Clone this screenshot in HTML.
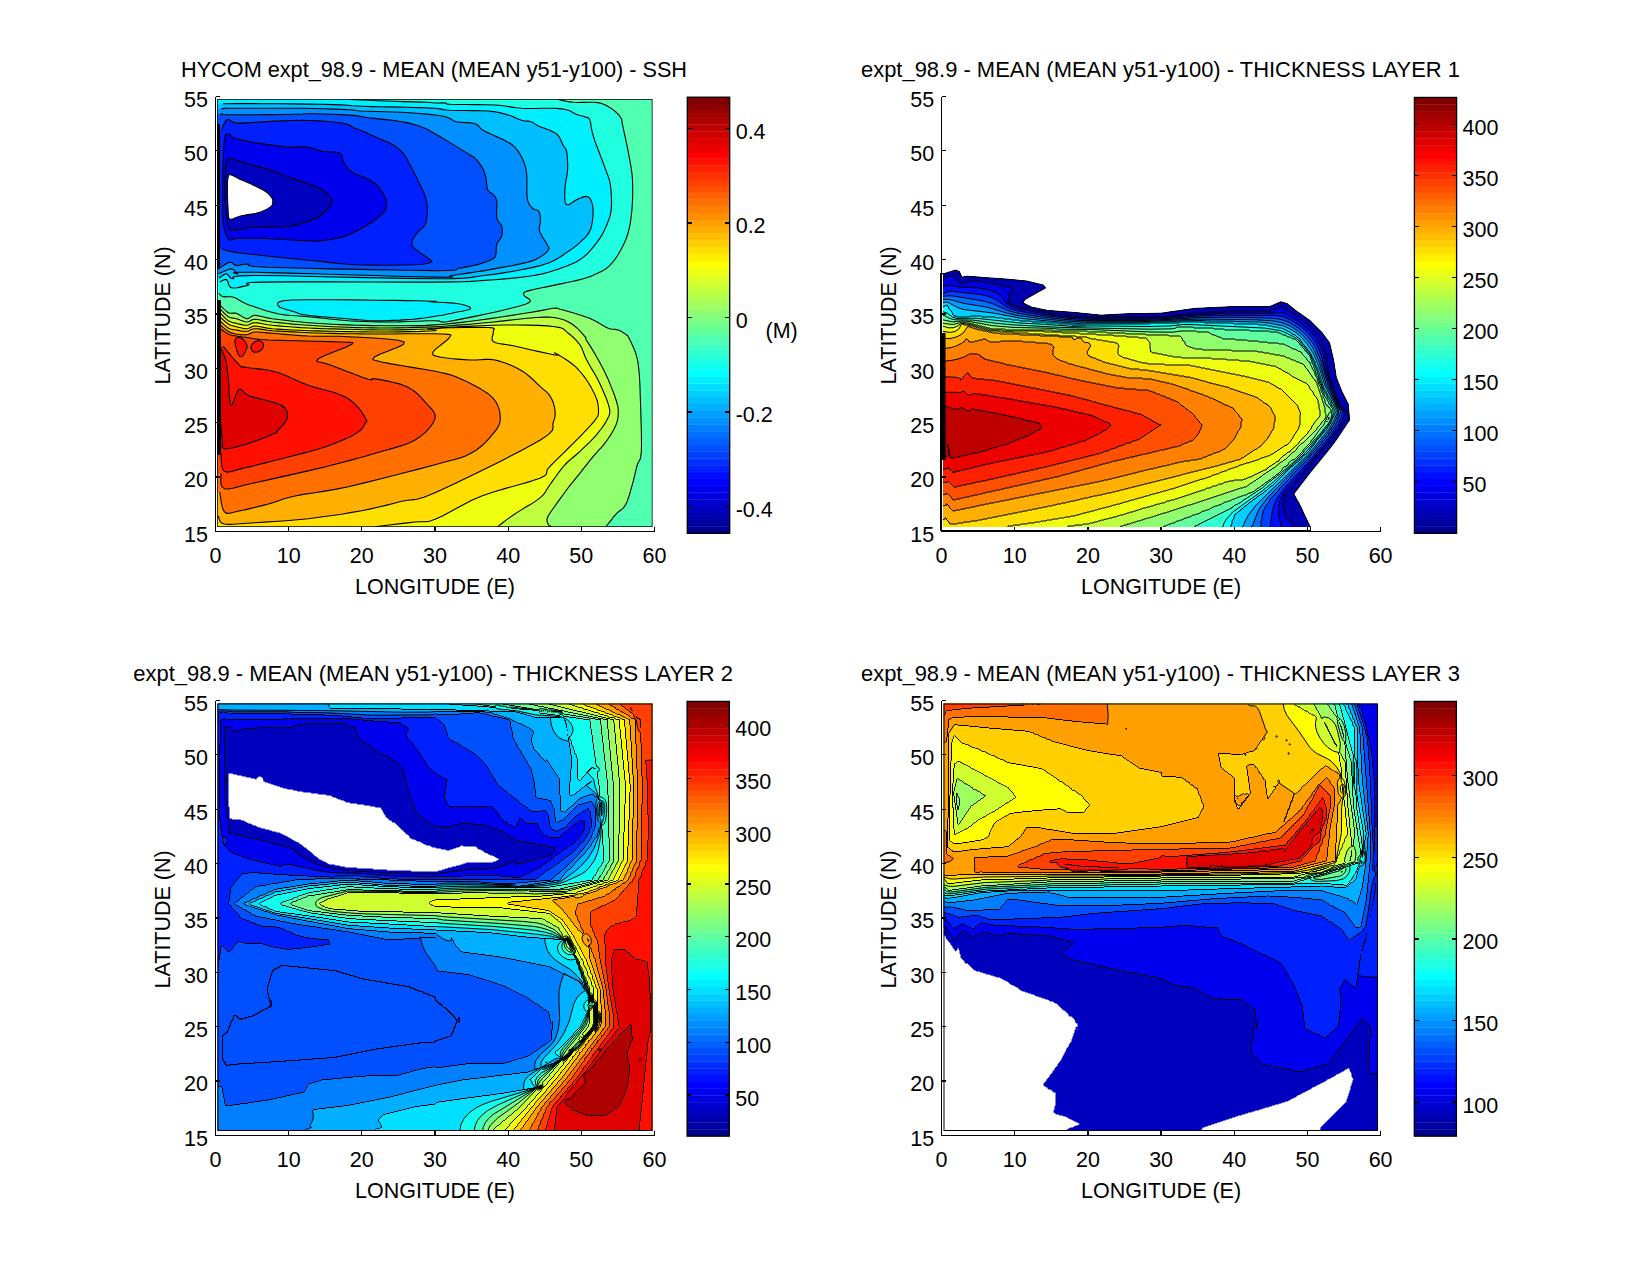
<!DOCTYPE html><html><head><meta charset="utf-8"><style>html,body{margin:0;padding:0;background:#fff;width:1650px;height:1275px;overflow:hidden}</style></head><body><svg xmlns="http://www.w3.org/2000/svg" width="1650" height="1275" viewBox="0 0 1650 1275" style="display:block">
<rect x="0" y="0" width="1650" height="1275" fill="#ffffff"/>
<g font-family='"Liberation Sans", sans-serif' fill="#000">
<clipPath id="clip0"><rect x="217" y="99" width="435.5" height="428"/></clipPath>
<g clip-path="url(#clip0)">
<rect x="217" y="99" width="435.5" height="428" fill="#50ffaf"/>
<path d="M218.3,303.3 L219.7,304.7 L221.7,306.8 L224.0,309.1 L226.3,311.2 L228.3,312.7 L230.0,313.3 L231.5,313.3 L233.0,313.1 L234.6,313.0 L236.3,313.3 L238.3,314.2 L240.5,315.5 L242.8,316.9 L245.0,318.1 L247.0,318.7 L248.6,318.4 L249.9,317.6 L251.3,316.6 L252.8,315.7 L255.0,315.3 L257.6,315.6 L260.4,316.2 L263.6,317.0 L267.5,317.9 L272.3,318.7 L278.3,319.5 L285.2,320.3 L292.7,321.2 L300.6,322.0 L308.3,322.7 L316.1,323.3 L324.0,323.8 L332.1,324.2 L340.3,324.6 L348.3,324.9 L356.2,325.2 L364.0,325.4 L371.9,325.6 L379.9,325.7 L388.3,325.7 L397.3,325.7 L406.6,325.7 L416.1,325.6 L425.7,325.4 L435.0,324.9 L444.0,324.3 L452.9,323.4 L461.7,322.4 L470.7,321.2 L480.0,320.0 L490.1,318.6 L500.9,317.0 L511.7,315.4 L521.6,313.8 L530.0,312.5 L536.6,311.4 L542.1,310.4 L546.5,309.5 L550.2,308.8 L553.3,308.3 L555.5,308.1 L556.6,308.1 L557.2,308.2 L558.1,308.6 L560.0,309.2 L563.3,310.0 L567.4,311.2 L571.8,312.5 L576.2,313.8 L580.0,315.0 L583.1,316.0 L585.7,316.9 L588.2,317.8 L590.7,318.8 L593.3,320.0 L596.3,321.6 L599.5,323.4 L602.6,325.3 L605.6,327.0 L608.3,328.3 L610.7,329.0 L612.8,329.3 L614.7,329.4 L616.5,329.6 L618.3,330.0 L620.2,330.8 L622.1,331.9 L623.8,333.0 L625.4,334.1 L626.7,335.0 L627.4,335.6 L627.8,335.8 L628.0,336.1 L628.3,336.8 L629.0,338.1 L630.1,340.3 L631.4,343.1 L632.9,346.3 L634.4,349.7 L635.6,352.9 L636.4,355.9 L637.2,358.6 L637.8,361.6 L638.3,365.0 L638.8,369.4 L639.3,374.7 L639.7,380.6 L640.0,387.2 L640.2,394.5 L640.5,402.4 L640.8,411.8 L641.1,422.7 L641.4,433.8 L641.5,444.0 L641.3,451.8 L640.8,456.6 L640.1,459.4 L639.1,461.0 L638.2,462.5 L637.2,465.0 L636.3,468.5 L635.4,472.4 L634.4,476.5 L633.4,480.7 L632.3,484.7 L631.1,488.9 L629.9,493.1 L628.6,497.3 L627.2,501.2 L625.7,504.5 L623.9,507.1 L622.0,509.1 L619.9,510.7 L617.8,512.4 L615.8,514.4 L613.6,516.9 L611.4,519.8 L609.1,522.6 L607.2,525.0 L605.9,526.8 L606.0,530.0 L214.0,530.0 L214.0,303.0Z" fill="#90ff70"/>
<path d="M218.3,307.3 L219.7,308.7 L221.7,310.7 L224.0,313.0 L226.3,315.1 L228.3,316.7 L230.0,317.5 L231.5,317.9 L233.0,318.1 L234.6,318.3 L236.3,318.7 L238.3,319.3 L240.5,320.2 L242.8,321.0 L245.0,321.7 L247.0,322.0 L248.6,321.8 L249.9,321.1 L251.3,320.3 L252.8,319.6 L255.0,319.3 L257.6,319.5 L260.4,320.0 L263.6,320.6 L267.5,321.3 L272.3,322.0 L278.3,322.6 L285.2,323.3 L292.7,324.1 L300.6,324.7 L308.3,325.3 L316.1,325.8 L324.0,326.3 L332.1,326.7 L340.3,327.0 L348.3,327.3 L356.2,327.6 L364.0,327.8 L371.9,327.9 L379.9,328.0 L388.3,328.0 L397.3,327.9 L406.6,327.7 L416.1,327.4 L425.7,327.1 L435.0,326.7 L443.9,326.2 L452.6,325.6 L461.2,324.9 L470.3,324.2 L480.0,323.3 L491.1,322.2 L503.5,320.9 L516.0,319.5 L527.4,318.3 L536.7,317.5 L543.3,317.1 L548.2,317.1 L551.8,317.3 L555.0,317.7 L558.3,318.3 L561.8,319.2 L565.0,320.3 L567.9,321.7 L570.7,323.3 L573.3,325.0 L576.0,327.2 L578.7,329.7 L581.3,332.4 L583.4,334.8 L585.0,336.7 L585.8,337.7 L585.9,338.0 L585.7,338.2 L585.6,338.6 L586.1,339.8 L587.3,341.6 L588.8,343.9 L590.5,346.6 L592.4,349.6 L594.4,352.9 L596.5,356.7 L598.8,360.8 L601.2,365.2 L603.6,369.7 L605.9,374.4 L608.1,379.3 L610.3,384.6 L612.4,389.9 L614.3,394.8 L615.8,399.1 L616.8,402.5 L617.5,405.2 L618.0,407.5 L618.2,409.8 L618.3,412.3 L618.2,414.8 L618.0,417.4 L617.5,419.9 L616.8,422.6 L615.8,425.4 L614.3,428.6 L612.4,431.9 L610.3,435.4 L608.1,438.8 L605.9,441.9 L603.7,444.7 L601.5,447.3 L599.2,449.7 L596.8,452.3 L594.4,455.1 L591.8,458.2 L589.2,461.4 L586.5,464.8 L583.8,468.2 L581.2,471.6 L578.6,474.8 L575.9,478.1 L573.3,481.3 L570.6,484.6 L568.0,488.0 L565.3,491.7 L562.5,495.5 L559.7,499.3 L557.1,502.9 L554.8,506.2 L552.8,509.0 L551.1,511.5 L549.5,513.8 L548.3,515.8 L547.4,517.7 L547.0,519.4 L547.0,520.9 L547.3,522.2 L547.8,523.3 L548.2,524.3 L548.8,525.1 L549.5,525.7 L550.3,526.1 L551.0,526.5 L551.5,526.8 L551.0,530.0 L214.0,530.0 L214.0,307.0Z" fill="#bfff40"/>
<path d="M218.3,311.3 L219.7,312.7 L221.7,314.7 L224.0,317.0 L226.3,319.1 L228.3,320.7 L230.0,321.6 L231.5,322.2 L233.0,322.6 L234.6,322.9 L236.3,323.3 L238.3,323.9 L240.5,324.4 L242.8,324.9 L245.0,325.2 L247.0,325.3 L248.6,325.0 L249.9,324.3 L251.3,323.6 L252.8,322.9 L255.0,322.7 L257.6,322.9 L260.4,323.3 L263.6,324.0 L267.5,324.7 L272.3,325.3 L278.3,325.9 L285.2,326.5 L292.7,327.0 L300.6,327.6 L308.3,328.0 L316.1,328.4 L324.0,328.7 L332.1,328.9 L340.3,329.1 L348.3,329.3 L356.2,329.5 L364.0,329.7 L371.9,329.9 L379.9,330.0 L388.3,330.0 L397.8,329.9 L408.2,329.6 L418.5,329.3 L427.8,329.0 L435.0,328.7 L438.8,328.4 L439.9,328.3 L440.3,328.1 L441.9,327.8 L446.7,327.5 L455.5,327.0 L467.0,326.4 L480.0,325.8 L493.1,325.3 L505.0,325.0 L516.1,325.0 L527.4,325.1 L538.0,325.4 L547.5,325.9 L555.0,326.7 L560.0,327.6 L563.1,328.7 L564.9,330.1 L566.4,331.6 L568.3,333.3 L570.9,335.3 L573.4,337.5 L575.8,339.9 L578.0,342.4 L580.0,345.0 L581.6,347.7 L582.7,350.4 L583.8,353.3 L585.0,356.5 L586.7,360.0 L588.9,364.0 L591.4,368.4 L594.2,373.0 L596.9,377.8 L599.3,382.6 L601.6,387.6 L604.0,393.0 L606.2,398.3 L608.0,403.2 L609.2,407.3 L609.8,410.4 L609.8,412.6 L609.5,414.5 L608.7,416.4 L607.5,418.8 L606.0,421.8 L603.9,425.1 L601.5,428.5 L598.8,431.9 L596.0,435.3 L593.0,438.7 L589.7,442.1 L586.2,445.4 L582.8,448.7 L579.5,451.8 L576.5,454.5 L573.5,457.0 L570.6,459.4 L567.7,462.0 L564.7,465.0 L561.7,468.6 L558.5,472.7 L555.5,477.0 L552.5,481.1 L549.9,484.7 L547.9,487.7 L546.4,490.3 L544.9,492.7 L543.0,495.2 L540.0,497.9 L535.6,501.1 L530.2,504.6 L524.2,508.1 L518.5,511.6 L513.7,514.7 L509.5,517.6 L505.8,520.4 L502.4,523.0 L499.7,525.1 L497.7,526.7 L497.0,530.0 L214.0,530.0 L214.0,311.0Z" fill="#efff10"/>
<path d="M218.3,315.3 L219.7,316.6 L221.7,318.5 L224.0,320.5 L226.3,322.5 L228.3,324.0 L230.0,324.9 L231.5,325.5 L233.0,325.9 L234.6,326.3 L236.3,326.7 L238.3,327.2 L240.5,327.7 L242.8,328.2 L245.0,328.6 L247.0,328.7 L248.6,328.3 L249.9,327.7 L251.3,326.9 L252.8,326.3 L255.0,326.0 L257.6,326.2 L260.4,326.7 L263.6,327.4 L267.5,328.1 L272.3,328.7 L278.3,329.1 L285.2,329.6 L292.7,330.0 L300.6,330.3 L308.3,330.7 L316.1,330.9 L324.0,331.1 L332.1,331.3 L340.3,331.5 L348.3,331.6 L356.2,331.7 L364.0,331.9 L371.9,332.0 L379.9,332.0 L388.3,332.0 L398.1,331.9 L409.0,331.6 L419.7,331.4 L428.9,331.0 L435.0,330.7 L436.3,330.2 L433.7,329.7 L429.9,329.2 L427.8,328.7 L430.0,328.3 L438.5,328.0 L451.3,327.7 L465.8,327.4 L479.1,327.3 L488.3,327.5 L492.8,327.9 L494.4,328.5 L494.3,329.3 L493.5,330.4 L493.3,331.7 L493.3,333.4 L492.7,335.5 L492.1,337.8 L492.1,339.9 L493.3,341.7 L495.7,342.8 L498.9,343.5 L502.8,344.1 L507.6,344.8 L513.3,345.8 L520.9,347.5 L530.4,349.7 L540.3,351.9 L549.0,353.8 L555.0,355.0 L557.4,355.1 L557.1,354.3 L555.6,353.3 L554.4,352.7 L554.8,352.9 L557.4,354.3 L561.0,356.4 L565.2,359.0 L569.3,361.7 L572.9,364.5 L576.0,367.2 L578.7,370.0 L581.3,373.0 L583.8,376.1 L586.1,379.3 L588.4,382.8 L590.7,386.6 L592.8,390.4 L594.6,394.1 L596.0,397.4 L597.1,400.5 L597.8,403.3 L598.2,405.9 L598.4,408.4 L598.5,410.6 L598.5,412.4 L598.4,413.9 L598.1,415.2 L597.4,416.8 L596.0,418.8 L593.9,421.6 L591.1,424.8 L587.8,428.3 L584.5,431.9 L581.2,435.3 L578.0,438.6 L574.7,441.9 L571.4,445.2 L568.0,448.5 L564.7,451.8 L561.3,455.2 L557.7,458.7 L554.2,462.2 L551.0,465.4 L548.2,468.3 L546.9,470.5 L546.8,472.3 L546.5,473.9 L544.7,475.8 L540.0,478.2 L531.4,481.1 L519.7,484.5 L506.6,488.1 L493.4,492.0 L481.7,496.0 L471.2,500.6 L460.9,505.9 L451.2,511.2 L442.4,515.9 L435.0,519.3 L429.6,521.2 L426.0,521.8 L423.2,521.8 L419.9,521.7 L415.0,522.0 L407.6,522.9 L398.5,523.9 L389.1,525.0 L380.8,526.0 L375.0,526.7 L375.0,530.0 L214.0,530.0 L214.0,315.0Z" fill="#ffdf00"/>
<path d="M218.3,319.3 L219.7,320.6 L221.7,322.5 L224.0,324.6 L226.3,326.6 L228.3,328.0 L230.0,328.8 L231.5,329.3 L233.0,329.6 L234.6,329.7 L236.3,330.0 L238.3,330.4 L240.5,330.8 L242.8,331.1 L245.0,331.3 L247.0,331.3 L248.6,331.0 L249.9,330.3 L251.3,329.6 L252.8,329.0 L255.0,328.7 L257.6,328.8 L260.4,329.1 L263.6,329.6 L267.5,330.2 L272.3,330.7 L278.3,331.1 L285.2,331.5 L292.7,331.9 L300.6,332.3 L308.3,332.7 L316.2,333.0 L324.4,333.2 L332.7,333.4 L340.8,333.6 L348.3,333.7 L354.7,333.8 L360.1,333.9 L365.5,334.0 L371.8,334.0 L380.0,334.0 L391.5,334.0 L405.7,333.8 L420.4,333.7 L433.5,333.7 L443.0,334.0 L448.2,334.4 L450.6,334.8 L450.9,335.5 L450.1,336.5 L449.0,338.0 L446.8,340.3 L443.1,343.3 L438.8,346.6 L435.1,349.6 L433.0,352.0 L432.6,353.6 L433.0,354.7 L434.4,355.6 L436.8,356.3 L440.0,357.0 L444.6,357.8 L450.6,358.5 L457.3,359.1 L464.0,359.6 L470.0,360.0 L475.3,360.0 L480.3,359.7 L485.1,359.4 L490.0,359.4 L495.0,360.0 L500.4,361.4 L505.9,363.2 L511.5,365.5 L516.8,368.0 L521.7,370.7 L526.1,373.6 L530.1,377.0 L533.9,380.5 L537.3,383.8 L540.3,386.7 L542.9,388.9 L545.0,390.6 L546.8,392.2 L548.4,393.8 L549.9,395.8 L551.3,398.2 L552.5,400.8 L553.5,403.5 L554.3,406.3 L554.8,409.0 L555.1,411.5 L555.2,414.0 L555.0,416.5 L554.4,419.2 L553.2,422.1 L552.8,424.9 L553.1,427.4 L552.4,430.3 L548.7,434.4 L540.0,440.3 L523.7,449.2 L501.2,460.9 L476.2,473.2 L452.9,484.4 L435.0,492.7 L423.9,497.2 L416.8,499.3 L412.0,499.9 L407.6,500.3 L401.7,501.3 L394.3,503.2 L386.8,505.1 L378.9,507.0 L370.6,508.9 L361.7,510.7 L351.9,512.4 L341.3,514.2 L330.3,515.8 L319.2,517.3 L308.3,518.7 L297.3,519.8 L285.9,520.7 L274.7,521.5 L264.2,522.1 L255.0,522.7 L247.0,523.3 L239.9,523.8 L233.7,524.3 L228.5,524.4 L224.3,524.0 L221.5,522.9 L219.9,521.1 L219.1,519.1 L218.8,517.2 L218.3,516.0 L214.0,516.0 L214.0,319.0Z" fill="#ffaf00"/>
<path d="M218.3,323.3 L219.7,324.5 L221.7,326.2 L224.0,328.1 L226.3,329.9 L228.3,331.3 L230.0,332.2 L231.5,332.9 L233.0,333.3 L234.6,333.7 L236.3,334.0 L238.3,334.3 L240.5,334.6 L242.8,334.7 L245.0,334.8 L247.0,334.7 L248.6,334.3 L249.9,333.6 L251.3,332.9 L252.8,332.3 L255.0,332.0 L257.6,332.0 L260.4,332.2 L263.6,332.5 L267.5,332.9 L272.3,333.3 L278.3,333.8 L285.2,334.4 L292.7,335.0 L300.6,335.6 L308.3,336.0 L315.8,336.2 L323.3,336.2 L331.0,336.2 L339.2,336.3 L348.3,336.7 L359.9,337.3 L373.7,338.0 L387.3,339.0 L398.3,340.3 L404.3,342.0 L403.4,344.5 L397.0,347.6 L388.2,351.0 L379.9,354.2 L375.0,356.7 L373.3,358.3 L372.8,359.3 L373.9,360.0 L376.8,360.8 L381.7,362.0 L389.8,363.6 L401.0,365.5 L413.4,367.6 L425.4,369.5 L435.0,371.3 L441.8,372.7 L446.8,373.9 L451.1,375.0 L455.3,376.5 L460.3,378.7 L466.7,381.6 L473.8,385.2 L480.9,389.1 L487.4,393.2 L492.3,397.3 L495.7,401.5 L498.0,405.9 L499.4,410.4 L500.1,414.7 L500.3,418.7 L500.0,422.2 L498.9,425.3 L497.3,428.3 L495.0,431.4 L492.3,434.7 L489.2,438.3 L485.5,442.3 L481.2,446.3 L476.4,450.0 L471.0,453.3 L465.5,455.9 L460.1,457.9 L453.8,459.7 L445.7,461.8 L435.0,464.7 L420.4,468.6 L402.4,473.3 L383.0,478.3 L364.3,482.9 L348.3,486.7 L335.1,489.4 L323.3,491.4 L312.8,493.0 L303.4,494.4 L295.0,496.0 L288.0,497.7 L282.6,499.3 L278.0,500.9 L273.5,502.5 L268.3,504.0 L262.2,505.6 L255.5,507.3 L248.9,508.9 L242.8,510.3 L237.7,511.3 L233.8,512.2 L230.7,513.0 L228.2,513.4 L226.2,513.1 L224.3,511.7 L222.8,508.8 L221.6,504.3 L220.8,499.4 L220.2,495.0 L219.7,492.0 L214.0,492.0 L214.0,323.0Z" fill="#ff7000"/>
<path d="M218.3,327.3 L219.7,328.3 L221.7,329.7 L224.0,331.3 L226.3,332.9 L228.3,334.0 L230.0,334.7 L231.6,335.2 L233.1,335.5 L234.7,335.7 L236.3,336.0 L237.9,336.3 L239.3,336.5 L240.9,336.7 L242.9,337.0 L245.7,337.3 L248.6,337.8 L251.4,338.3 L255.1,338.9 L260.4,339.5 L268.3,340.0 L280.6,340.4 L296.5,340.8 L313.6,341.2 L329.1,341.6 L340.3,342.0 L347.1,342.3 L351.1,342.4 L352.8,342.7 L352.7,343.4 L351.0,344.7 L346.4,347.0 L338.7,350.1 L329.8,353.6 L322.1,356.8 L317.7,359.3 L316.7,360.8 L317.9,361.7 L320.8,362.3 L324.8,363.2 L329.7,364.7 L336.2,367.2 L344.7,370.6 L353.9,374.1 L362.2,377.2 L368.3,379.3 L371.3,380.0 L372.1,379.8 L372.0,379.0 L372.6,378.5 L375.0,378.7 L380.0,379.6 L386.6,380.9 L393.9,382.5 L401.0,384.4 L407.0,386.7 L411.7,389.4 L415.9,392.5 L419.5,395.9 L422.7,399.3 L425.7,402.7 L428.6,405.8 L431.5,408.8 L433.8,411.9 L435.2,415.1 L435.0,418.7 L433.2,422.7 L430.1,427.2 L425.8,431.8 L420.7,436.2 L415.0,440.0 L408.4,443.2 L400.9,445.9 L392.6,448.4 L383.9,450.8 L375.0,453.3 L366.1,456.0 L357.0,458.5 L347.4,461.1 L337.0,463.8 L325.7,466.7 L312.3,469.9 L297.0,473.4 L281.4,476.9 L266.9,480.1 L255.0,482.7 L245.9,484.8 L238.5,486.8 L232.7,488.3 L228.1,489.0 L224.3,488.7 L221.9,486.7 L220.9,483.3 L220.8,479.4 L221.0,475.8 L221.0,473.3 L214.0,473.0 L214.0,327.0Z" fill="#ff4000"/>
<path d="M223.0,346.0 L225.3,348.8 L228.7,352.9 L232.5,357.5 L236.1,361.7 L239.0,364.7 L240.5,366.2 L241.2,366.8 L241.7,366.9 L242.9,366.9 L245.7,367.3 L250.2,368.0 L256.1,368.6 L262.8,369.4 L269.7,370.5 L276.3,372.0 L282.6,374.2 L289.0,376.9 L295.5,379.9 L301.9,382.8 L308.3,385.3 L315.0,387.4 L321.9,389.3 L328.7,391.0 L335.0,392.8 L340.3,394.7 L344.7,396.7 L348.2,398.7 L351.2,400.8 L353.8,403.0 L356.3,405.3 L358.8,408.0 L361.0,410.9 L362.9,413.9 L364.5,416.6 L365.7,418.7 L366.4,420.0 L366.8,420.6 L366.8,421.0 L366.4,421.6 L365.7,422.7 L364.7,424.3 L363.6,426.3 L362.1,428.6 L359.7,430.9 L356.3,433.3 L351.8,435.9 L346.2,438.5 L339.9,441.3 L333.0,444.0 L325.7,446.7 L317.6,449.2 L308.7,451.7 L299.4,454.1 L290.3,456.5 L281.7,458.7 L273.5,460.8 L265.4,462.9 L257.7,464.8 L250.6,466.6 L244.3,468.0 L239.0,469.4 L234.3,470.8 L230.3,471.8 L227.0,472.1 L224.3,471.3 L222.5,468.8 L221.6,464.8 L221.3,460.3 L221.2,456.1 L221.0,453.3 L214.0,453.0 L214.0,345.0Z" fill="#ff1000"/>
<path d="M251.0,347.3 L251.1,346.4 L251.6,345.3 L252.2,344.3 L252.9,343.4 L253.7,342.7 L254.6,342.0 L255.7,341.5 L256.8,341.0 L258.0,340.7 L259.0,340.7 L259.9,340.9 L260.9,341.3 L261.8,341.9 L262.5,342.6 L263.0,343.3 L263.3,344.0 L263.5,344.8 L263.5,345.7 L263.3,346.5 L263.0,347.3 L262.5,348.2 L261.8,349.1 L260.9,350.0 L259.9,350.7 L259.0,351.3 L258.0,351.8 L256.8,352.1 L255.7,352.3 L254.6,352.3 L253.7,352.0 L252.9,351.4 L252.2,350.5 L251.6,349.5 L251.1,348.4Z" fill="#ff1000"/>
<path d="M235.0,340.7 L235.4,339.3 L236.1,338.4 L237.0,337.8 L238.0,337.4 L239.0,337.3 L240.0,337.5 L241.2,338.0 L242.3,338.8 L243.4,339.7 L244.3,340.7 L245.2,341.7 L246.0,343.0 L246.6,344.3 L247.0,345.8 L247.0,347.3 L246.4,349.2 L245.4,351.5 L244.1,353.8 L242.8,355.6 L241.7,356.7 L240.8,356.8 L239.9,356.4 L239.1,355.5 L238.4,354.2 L237.7,352.7 L236.9,350.6 L236.2,348.0 L235.5,345.2 L235.1,342.6Z" fill="#ff1000"/>
<path d="M220.3,346.7 L221.1,348.4 L222.2,350.8 L223.5,353.6 L224.7,356.8 L225.7,360.0 L226.4,363.3 L226.9,366.7 L227.4,370.4 L227.8,374.3 L228.3,378.7 L228.8,384.2 L229.1,390.8 L229.5,397.4 L230.1,402.6 L231.0,405.3 L232.2,404.5 L233.7,400.9 L235.4,396.1 L237.1,391.8 L239.0,389.3 L240.6,389.2 L242.1,390.2 L243.7,392.1 L246.1,394.1 L249.7,396.0 L255.1,397.6 L262.2,399.3 L269.8,401.2 L276.6,403.2 L281.7,405.3 L284.7,407.7 L286.5,410.4 L287.3,413.1 L287.4,415.9 L287.0,418.7 L285.7,421.5 L283.4,424.6 L280.7,427.5 L278.1,430.1 L276.3,432.0 L275.9,432.9 L276.4,432.9 L277.0,432.7 L276.8,432.7 L275.0,433.3 L271.0,435.0 L265.5,437.2 L259.1,439.7 L252.7,442.1 L247.0,444.0 L241.8,445.5 L236.6,446.9 L231.7,448.0 L227.5,448.7 L224.3,448.7 L222.6,448.0 L222.0,446.7 L222.1,444.9 L222.4,442.7 L222.3,440.0 L221.9,436.4 L221.4,431.9 L221.0,427.1 L220.6,422.9 L220.3,420.0 L214.0,420.0 L214.0,346.0Z" fill="#df0000"/>
<path d="M558.5,99.5 L560.4,99.9 L563.1,100.6 L566.2,101.2 L569.8,101.9 L573.7,102.3 L578.1,102.5 L583.1,102.4 L588.4,102.2 L593.4,102.2 L597.7,102.6 L601.1,103.3 L604.0,104.4 L606.5,105.6 L608.8,106.9 L611.0,108.3 L613.2,109.9 L615.3,111.5 L617.3,113.3 L619.0,115.1 L620.3,117.0 L621.2,118.5 L621.7,119.7 L621.9,121.1 L622.3,123.4 L623.0,127.0 L624.2,132.6 L625.8,139.8 L627.4,147.7 L628.9,155.4 L630.1,161.9 L631.0,166.9 L631.6,171.1 L632.1,174.9 L632.4,178.8 L632.6,183.3 L632.7,188.5 L632.7,194.2 L632.5,200.1 L632.2,205.9 L631.8,211.3 L631.2,216.3 L630.6,221.1 L629.8,225.7 L628.8,230.1 L627.7,234.3 L626.3,238.3 L624.7,242.2 L623.0,245.8 L621.2,249.2 L619.4,252.4 L617.6,255.5 L615.6,258.4 L613.6,261.1 L611.6,263.5 L609.6,265.6 L607.7,267.4 L605.9,268.7 L604.1,269.9 L602.1,271.0 L599.7,272.2 L597.0,273.5 L594.2,274.8 L591.1,276.2 L587.4,277.5 L583.2,278.8 L578.1,280.1 L572.1,281.5 L565.8,282.8 L559.5,284.1 L553.6,285.4 L547.7,286.6 L541.7,287.8 L535.9,289.0 L531.0,290.1 L527.2,291.1 L524.9,292.0 L523.8,292.8 L523.5,293.5 L523.7,294.3 L523.9,295.3 L525.0,296.5 L527.2,297.8 L529.4,299.3 L530.4,300.9 L529.2,302.5 L525.4,304.2 L519.7,306.0 L512.7,307.8 L504.9,309.7 L496.7,311.7 L487.2,313.8 L476.1,316.1 L464.7,318.4 L454.5,320.4 L446.7,321.7 L442.4,322.1 L440.9,321.9 L440.3,321.4 L439.0,320.9 L435.0,320.7 L427.8,320.8 L418.5,321.2 L408.2,321.5 L397.8,321.9 L388.3,322.0 L379.9,321.9 L371.9,321.8 L364.0,321.5 L356.2,321.1 L348.3,320.7 L340.2,320.0 L331.8,319.2 L323.6,318.3 L315.7,317.4 L308.3,316.7 L301.8,316.2 L295.9,315.8 L290.3,315.5 L284.8,314.9 L279.0,314.0 L272.7,312.5 L266.1,310.7 L259.5,308.6 L253.5,306.5 L248.3,304.7 L244.3,303.0 L241.1,301.3 L238.5,299.7 L236.1,298.3 L233.7,297.3 L231.2,296.8 L228.8,296.7 L226.6,296.8 L224.6,296.9 L223.0,296.7 L221.7,296.1 L220.7,295.4 L220.0,294.6 L219.4,293.8 L219.0,293.3 L214.0,293.0 L214.0,96.0 L558.5,96.0Z" fill="#20ffdf"/>
<path d="M278.3,306.0 L277.8,304.7 L277.5,303.3 L278.9,301.9 L283.4,300.8 L292.3,300.0 L308.2,299.7 L330.0,299.7 L354.2,299.9 L377.1,300.2 L395.0,300.4 L407.7,300.6 L417.7,300.8 L425.2,301.0 L430.9,301.2 L435.0,301.3 L436.4,301.4 L434.8,301.4 L432.0,301.5 L429.8,301.5 L430.0,301.7 L433.3,301.9 L438.5,302.2 L444.5,302.5 L450.4,302.9 L455.0,303.3 L458.3,303.8 L461.0,304.2 L463.2,304.7 L465.1,305.3 L466.7,305.8 L468.2,306.4 L469.5,307.1 L470.4,307.8 L470.6,308.5 L470.0,309.2 L468.2,309.8 L465.4,310.5 L462.0,311.2 L458.4,311.8 L455.0,312.5 L451.9,313.2 L448.9,313.8 L445.7,314.5 L442.2,315.2 L438.3,315.8 L434.0,316.5 L429.3,317.2 L424.3,318.0 L419.0,318.6 L413.3,319.2 L407.0,319.6 L399.9,320.1 L392.7,320.4 L385.8,320.7 L380.0,320.8 L375.9,320.9 L373.3,320.9 L370.8,320.7 L367.3,320.5 L361.7,320.0 L352.6,319.3 L340.9,318.3 L328.5,317.3 L317.0,316.2 L308.3,315.3 L303.2,314.6 L300.3,314.0 L298.7,313.5 L297.2,312.8 L295.0,312.0 L291.4,311.0 L287.1,309.8 L283.0,308.5 L279.8,307.2Z" fill="#00efff"/>
<path d="M351.0,99.5 L355.6,99.7 L362.1,100.0 L369.7,100.3 L377.8,100.7 L385.7,101.0 L394.0,101.3 L403.3,101.6 L412.5,101.9 L420.8,102.1 L427.0,102.3 L430.7,102.5 L432.5,102.7 L433.2,102.8 L433.8,102.9 L435.0,103.0 L437.0,103.0 L439.3,103.0 L441.7,102.9 L443.8,102.9 L445.7,103.0 L446.5,103.2 L446.3,103.5 L446.3,103.8 L447.5,104.1 L451.0,104.3 L457.6,104.5 L466.6,104.5 L476.8,104.6 L486.7,104.7 L495.0,105.0 L501.3,105.5 L506.6,106.3 L511.4,107.1 L516.2,107.8 L521.7,108.3 L528.2,108.5 L535.5,108.5 L542.8,108.3 L549.5,108.3 L555.0,108.3 L559.0,108.6 L562.0,108.9 L564.3,109.3 L566.3,109.8 L568.3,110.3 L570.3,111.0 L571.9,111.9 L573.3,112.7 L574.7,113.6 L576.3,114.3 L578.2,115.0 L580.2,115.5 L582.3,116.0 L584.1,116.5 L585.7,117.0 L586.8,117.4 L587.7,117.6 L588.4,117.9 L589.0,118.5 L589.7,119.7 L590.3,121.6 L590.8,124.0 L591.2,126.8 L591.7,129.6 L592.3,132.3 L593.0,134.7 L593.6,137.0 L594.4,139.3 L595.2,141.9 L596.3,145.0 L597.8,148.8 L599.5,153.2 L601.3,157.9 L603.0,162.5 L604.6,166.8 L606.0,170.6 L607.3,174.0 L608.5,177.4 L609.6,180.9 L610.4,184.9 L610.9,189.6 L611.3,194.7 L611.5,200.0 L611.5,205.1 L611.2,209.6 L610.6,213.5 L609.8,216.9 L608.7,220.0 L607.5,223.0 L606.3,226.1 L604.9,229.1 L603.5,232.1 L602.0,234.9 L600.1,237.9 L598.0,240.9 L595.6,244.2 L592.8,247.7 L589.8,251.2 L586.6,254.5 L583.2,257.4 L579.7,259.8 L576.1,261.9 L572.3,263.7 L568.1,265.5 L563.4,267.3 L558.5,269.1 L553.2,270.8 L547.6,272.5 L541.2,274.1 L533.8,275.5 L525.2,276.7 L515.5,277.9 L505.1,278.9 L494.6,279.7 L484.4,280.4 L476.5,281.0 L470.5,281.4 L463.5,281.7 L452.6,281.9 L435.0,282.1 L406.2,282.1 L368.1,282.0 L327.4,281.9 L290.6,281.9 L264.4,282.1 L251.2,282.5 L246.7,283.2 L247.1,284.0 L248.8,284.7 L247.9,285.4 L244.5,286.1 L240.8,286.9 L237.2,287.7 L234.0,288.0 L231.5,287.8 L229.8,286.7 L228.7,284.8 L228.1,282.6 L227.4,280.7 L226.5,279.6 L225.2,279.5 L223.7,279.9 L222.2,280.8 L220.9,281.6 L219.9,282.1 L214.0,282.0 L214.0,96.0 L351.0,96.0Z" fill="#00efff"/>
<path d="M223.0,103.7 L228.2,103.7 L235.2,103.6 L243.8,103.6 L253.6,103.6 L264.3,103.7 L277.0,103.8 L292.0,103.9 L307.5,104.1 L321.9,104.3 L333.7,104.6 L341.9,104.9 L347.6,105.3 L352.1,105.7 L356.8,106.0 L363.0,106.3 L371.1,106.6 L380.3,106.8 L389.8,106.9 L399.0,107.1 L407.0,107.3 L413.8,107.5 L419.9,107.6 L425.4,107.8 L430.4,108.1 L435.0,108.3 L438.6,108.7 L441.2,109.1 L443.6,109.6 L446.6,110.0 L451.0,110.3 L457.4,110.5 L465.2,110.5 L473.6,110.6 L481.6,110.7 L488.3,111.0 L493.5,111.6 L497.9,112.3 L501.6,113.1 L505.0,114.1 L508.3,115.0 L511.5,116.0 L514.3,117.2 L516.9,118.4 L519.4,119.5 L521.7,120.3 L523.8,120.8 L525.8,121.0 L527.6,121.1 L529.3,121.3 L531.0,121.7 L532.7,122.4 L534.2,123.4 L535.8,124.4 L537.3,125.4 L539.0,126.3 L540.8,127.1 L542.6,127.7 L544.5,128.3 L546.4,128.9 L548.3,129.7 L550.3,130.5 L552.3,131.4 L554.2,132.4 L556.1,133.6 L557.7,135.0 L559.0,136.7 L560.2,138.8 L561.2,141.0 L562.1,143.1 L563.0,145.0 L563.9,146.4 L564.7,147.5 L565.5,148.5 L566.2,149.9 L566.7,152.0 L567.1,154.9 L567.4,158.5 L567.6,162.4 L567.7,166.4 L567.6,170.1 L567.2,173.5 L566.7,176.9 L566.1,180.2 L565.5,183.4 L565.1,186.6 L564.9,189.8 L564.8,193.2 L564.7,196.4 L564.8,199.2 L565.1,201.4 L565.5,202.9 L565.9,203.9 L566.6,204.5 L567.4,204.7 L568.4,204.7 L569.7,204.2 L571.2,203.2 L573.0,202.0 L574.8,200.8 L576.6,199.7 L578.6,198.8 L580.7,197.9 L582.8,197.1 L584.8,196.6 L586.5,196.4 L587.9,196.8 L589.0,197.4 L589.9,198.4 L590.7,199.7 L591.4,201.4 L592.1,203.4 L592.6,205.9 L592.9,208.7 L593.1,211.6 L593.1,214.6 L592.8,217.7 L592.4,221.2 L591.8,224.6 L591.0,228.0 L589.8,231.0 L588.3,233.7 L586.5,236.1 L584.4,238.3 L582.2,240.4 L579.9,242.6 L577.5,244.6 L575.0,246.6 L572.4,248.6 L569.6,250.5 L566.7,252.4 L563.8,254.5 L560.8,256.5 L557.6,258.6 L554.1,260.6 L550.3,262.3 L546.1,263.8 L541.8,265.2 L537.0,266.4 L531.7,267.6 L525.6,268.9 L518.5,270.3 L510.7,271.7 L502.3,273.1 L493.4,274.4 L484.4,275.5 L477.1,276.5 L471.5,277.4 L464.6,278.1 L453.4,278.6 L435.0,278.8 L404.7,278.4 L364.6,277.6 L321.6,276.7 L282.5,275.8 L254.5,275.5 L239.8,275.9 L233.8,276.7 L233.0,277.7 L233.9,278.5 L233.1,278.8 L230.9,278.2 L229.5,277.0 L228.5,275.6 L227.7,274.4 L226.5,273.8 L225.0,274.2 L223.3,275.0 L221.6,276.2 L220.1,277.3 L219.1,278.0 L214.0,278.0 L214.0,103.0Z" fill="#00bfff"/>
<path d="M221.7,109.0 L221.9,108.9 L221.7,108.7 L222.3,108.6 L225.0,108.4 L231.0,108.3 L241.8,108.3 L256.6,108.2 L273.1,108.2 L289.3,108.2 L303.0,108.3 L314.3,108.5 L324.6,108.8 L333.8,109.1 L341.7,109.4 L348.3,109.7 L352.6,109.9 L354.7,110.2 L355.9,110.5 L357.8,110.7 L361.7,111.0 L368.1,111.2 L376.1,111.5 L384.9,111.7 L393.7,112.0 L401.7,112.3 L409.1,112.8 L416.4,113.3 L423.4,113.9 L429.7,114.4 L435.0,115.0 L439.0,115.5 L442.0,116.0 L444.3,116.5 L446.3,117.0 L448.3,117.7 L450.1,118.4 L451.4,119.3 L452.6,120.1 L454.1,121.0 L456.3,121.7 L459.6,122.1 L463.5,122.4 L467.8,122.6 L471.8,123.0 L475.0,123.7 L477.2,124.7 L478.6,126.0 L479.7,127.4 L481.1,128.9 L483.0,130.3 L485.7,131.8 L489.0,133.2 L492.4,134.7 L495.8,136.2 L499.0,137.7 L501.9,139.1 L504.8,140.5 L507.5,141.9 L510.0,143.3 L512.3,145.0 L514.4,146.8 L516.1,148.6 L517.7,150.6 L519.2,152.8 L520.6,155.3 L522.0,158.0 L523.4,160.9 L524.6,164.2 L525.6,167.7 L526.4,171.7 L526.8,176.6 L526.9,182.4 L526.8,188.3 L526.9,193.7 L527.2,198.1 L527.9,201.2 L528.8,203.6 L529.9,205.3 L531.0,206.7 L532.2,208.0 L533.4,209.0 L534.9,209.5 L536.4,209.8 L537.7,210.3 L538.7,211.3 L539.4,212.8 L539.9,214.7 L540.1,216.9 L540.3,219.1 L540.4,221.2 L540.3,223.1 L539.8,224.9 L539.4,226.8 L539.2,228.8 L539.6,231.0 L540.6,233.6 L542.2,236.5 L544.0,239.4 L545.7,242.0 L547.0,244.2 L547.8,245.7 L548.4,246.7 L548.8,247.4 L548.9,248.2 L548.6,249.1 L548.0,250.4 L547.0,251.7 L545.7,253.0 L544.0,254.4 L542.0,255.7 L540.0,257.0 L538.0,258.3 L535.6,259.6 L532.1,260.9 L527.2,262.3 L520.3,263.9 L511.6,265.7 L502.2,267.4 L492.8,269.1 L484.4,270.6 L476.9,271.8 L469.7,272.9 L463.0,273.9 L456.8,274.8 L451.5,275.5 L449.8,276.1 L451.7,276.7 L452.8,277.1 L448.7,277.3 L435.0,277.1 L406.2,276.5 L365.3,275.3 L320.5,274.0 L279.7,272.9 L251.2,272.2 L237.6,272.2 L233.4,272.7 L234.7,273.3 L237.5,273.8 L238.1,273.8 L236.4,273.1 L235.3,271.9 L234.3,270.5 L233.1,269.4 L231.5,268.9 L229.0,269.3 L226.0,270.4 L222.9,271.8 L220.2,273.0 L218.3,273.8 L214.0,274.0 L214.0,109.0Z" fill="#0090ff"/>
<path d="M223.0,113.7 L222.5,113.8 L221.2,114.1 L220.6,114.4 L222.0,114.6 L227.0,114.7 L237.4,114.8 L252.2,114.7 L268.7,114.6 L283.9,114.5 L295.0,114.3 L300.7,114.2 L303.0,114.0 L303.7,113.8 L304.8,113.7 L308.3,113.7 L314.9,113.8 L323.4,114.0 L332.5,114.3 L341.2,114.6 L348.3,115.0 L353.4,115.4 L357.1,115.9 L360.3,116.4 L363.8,117.0 L368.3,117.7 L374.4,118.4 L381.3,119.1 L388.7,119.9 L395.6,120.8 L401.7,121.7 L406.6,122.6 L410.9,123.6 L414.8,124.7 L418.3,125.8 L421.7,127.0 L424.4,128.0 L426.5,128.9 L428.6,130.0 L431.2,131.5 L435.0,133.7 L440.7,137.0 L448.0,141.4 L455.7,146.1 L462.7,150.4 L467.9,153.6 L471.0,155.5 L472.7,156.5 L473.6,157.0 L474.3,157.5 L475.3,158.6 L476.9,160.2 L478.5,162.2 L480.1,164.3 L481.5,166.4 L482.8,168.5 L483.7,170.4 L484.4,172.3 L485.0,174.3 L485.6,176.3 L486.0,178.3 L486.4,180.6 L486.6,183.1 L486.8,185.6 L487.1,188.0 L487.7,189.9 L488.6,191.2 L489.8,192.2 L491.1,193.0 L492.4,193.8 L493.5,194.8 L494.3,195.9 L495.1,196.8 L495.8,198.0 L496.3,199.4 L496.8,201.4 L496.9,204.2 L496.8,207.7 L496.6,211.4 L496.5,214.9 L496.8,217.9 L497.5,220.0 L498.6,221.7 L499.8,223.1 L500.9,224.5 L501.7,226.1 L502.1,228.0 L502.3,230.0 L502.3,232.1 L502.1,234.1 L501.7,236.0 L501.0,237.7 L499.9,239.3 L498.7,240.9 L497.6,242.5 L496.8,244.2 L496.4,246.2 L496.2,248.3 L496.2,250.4 L496.2,252.4 L495.9,254.1 L495.6,255.4 L495.3,256.4 L494.8,257.3 L494.0,258.1 L492.6,259.0 L490.7,260.0 L488.4,261.0 L485.7,262.0 L482.7,263.0 L479.5,264.0 L476.0,264.9 L472.3,265.7 L468.3,266.6 L464.1,267.4 L459.7,268.1 L457.4,268.8 L457.0,269.5 L455.4,270.1 L449.1,270.5 L435.0,270.6 L408.3,270.3 L371.3,269.6 L330.8,268.9 L294.0,268.0 L267.7,267.3 L254.2,266.5 L248.8,265.7 L248.2,264.9 L249.0,264.3 L247.9,264.0 L245.0,264.1 L242.5,264.5 L240.3,265.1 L238.3,265.5 L236.4,265.6 L234.9,265.1 L233.7,264.2 L232.6,263.2 L231.4,262.4 L229.8,262.3 L227.6,263.1 L225.0,264.6 L222.3,266.3 L219.9,267.9 L218.3,268.9 L214.0,269.0 L214.0,114.0Z" fill="#0050ff"/>
<path d="M221.0,131.0 L221.8,129.2 L222.8,126.6 L224.1,123.7 L225.5,121.2 L227.0,119.7 L228.5,119.5 L230.0,120.1 L231.8,121.3 L233.8,122.4 L236.3,123.0 L239.0,123.1 L241.8,123.1 L245.1,122.9 L249.3,122.6 L255.0,122.3 L262.6,121.9 L272.0,121.4 L282.1,120.9 L292.3,120.5 L301.7,120.3 L310.5,120.5 L319.4,120.9 L327.9,121.5 L335.5,122.2 L341.7,123.0 L346.1,123.9 L349.2,125.0 L351.3,126.2 L353.1,127.4 L355.0,128.3 L356.8,129.0 L358.3,129.5 L359.6,130.0 L361.1,130.5 L363.2,131.4 L366.0,132.6 L369.4,134.2 L373.0,135.8 L376.6,137.4 L379.7,138.8 L382.3,139.9 L384.6,140.8 L386.8,141.6 L389.0,142.5 L391.2,143.8 L393.6,145.2 L396.0,146.8 L398.4,148.6 L400.6,150.6 L402.7,152.8 L404.6,155.3 L406.3,157.9 L407.8,160.8 L409.4,163.8 L411.0,166.8 L412.6,169.9 L414.3,173.1 L416.0,176.5 L417.6,179.8 L419.2,183.3 L420.9,186.7 L422.6,190.2 L424.3,193.8 L425.7,197.5 L426.6,201.4 L427.1,205.6 L427.3,210.2 L427.2,214.8 L426.7,219.1 L425.8,222.8 L424.3,225.8 L422.2,228.2 L419.9,230.3 L417.7,232.3 L415.9,234.3 L414.5,236.5 L413.4,238.6 L412.4,240.6 L411.9,242.5 L411.8,244.2 L412.2,245.7 L413.1,247.0 L414.4,248.2 L415.9,249.4 L417.5,250.8 L419.6,252.4 L422.2,254.2 L424.9,256.0 L427.3,257.7 L429.1,259.0 L430.4,260.0 L431.4,260.7 L432.0,261.3 L431.8,261.8 L430.7,262.3 L429.0,262.9 L426.7,263.5 L423.5,264.0 L419.0,264.5 L412.6,264.8 L403.6,265.0 L392.3,265.2 L379.9,265.2 L367.6,265.1 L356.6,264.8 L347.3,264.2 L338.9,263.5 L330.8,262.6 L322.6,261.6 L313.8,260.7 L304.1,259.7 L293.7,258.7 L283.3,257.7 L273.3,256.7 L264.4,255.7 L256.4,254.8 L248.9,254.0 L242.2,253.2 L236.3,252.4 L231.5,251.6 L227.9,250.9 L225.4,250.1 L223.7,249.4 L222.6,248.8 L221.6,248.3 L214.0,248.0 L214.0,131.0Z" fill="#0020ff"/>
<path d="M224.9,137.2 L225.5,135.1 L226.2,134.1 L227.0,133.8 L227.9,134.0 L229.0,134.2 L229.9,134.6 L230.6,135.4 L231.6,136.5 L233.3,137.7 L236.4,138.8 L241.3,139.9 L247.7,141.2 L254.7,142.5 L261.7,143.6 L267.7,144.6 L272.7,145.3 L277.1,145.9 L281.3,146.4 L285.2,146.8 L289.1,147.0 L293.0,147.1 L296.7,147.0 L300.4,146.9 L303.9,146.8 L307.2,147.0 L310.3,147.6 L313.2,148.5 L316.0,149.5 L318.9,150.4 L322.0,151.2 L325.7,151.6 L329.8,151.9 L333.8,152.1 L337.4,152.5 L340.2,153.3 L341.7,154.6 L342.3,156.2 L342.5,158.0 L342.7,160.0 L343.4,161.9 L344.6,163.8 L345.9,165.8 L347.4,167.9 L349.3,169.9 L351.7,171.7 L354.8,173.5 L358.6,175.2 L362.7,176.8 L366.5,178.4 L369.8,180.0 L372.3,181.6 L374.5,183.0 L376.4,184.6 L378.0,186.3 L379.7,188.2 L381.3,190.6 L382.9,193.3 L384.4,196.1 L385.5,198.9 L386.3,201.4 L386.6,203.6 L386.7,205.6 L386.4,207.5 L385.7,209.3 L384.6,211.3 L383.0,213.2 L380.9,215.2 L378.5,217.2 L375.9,219.2 L373.1,221.2 L370.1,223.2 L366.9,225.3 L363.4,227.3 L360.0,229.3 L356.6,231.0 L353.4,232.6 L350.3,234.1 L347.1,235.4 L343.8,236.6 L340.2,237.6 L336.1,238.5 L331.7,239.3 L327.2,240.0 L322.8,240.5 L318.7,240.9 L315.5,241.1 L312.8,241.1 L310.2,241.0 L306.9,240.8 L302.3,240.6 L295.9,240.2 L288.2,239.8 L279.9,239.2 L271.7,238.8 L264.4,238.4 L257.8,238.3 L251.5,238.2 L245.6,238.2 L240.5,238.3 L236.4,238.4 L233.7,238.8 L232.2,239.5 L231.3,240.1 L230.7,240.4 L229.8,240.1 L228.7,239.1 L227.6,237.7 L226.6,235.9 L225.7,233.7 L224.9,231.0 L224.2,228.2 L223.6,225.3 L223.0,221.8 L222.7,217.3 L222.4,211.3 L222.4,202.9 L222.5,192.5 L222.7,181.3 L223.0,170.6 L223.2,161.9 L223.5,155.0 L223.7,149.2 L224.0,144.3 L224.4,140.3Z" fill="#0000ef"/>
<path d="M226.5,161.9 L226.9,160.9 L227.4,159.8 L228.0,158.8 L228.8,158.1 L229.8,157.8 L230.8,157.9 L231.7,158.3 L233.0,159.0 L235.0,160.0 L238.1,161.0 L242.8,162.4 L248.8,164.0 L255.5,165.8 L262.1,167.6 L267.7,169.3 L272.3,170.8 L276.3,172.3 L280.0,173.8 L283.7,175.3 L287.5,176.7 L291.5,178.1 L295.7,179.4 L299.8,180.7 L303.7,182.0 L307.2,183.3 L310.4,184.5 L313.2,185.6 L315.8,186.8 L318.2,187.9 L320.4,189.0 L322.4,190.2 L324.3,191.3 L325.9,192.4 L327.4,193.5 L328.6,194.8 L329.7,196.2 L330.7,197.6 L331.4,199.2 L331.9,200.7 L331.9,202.2 L331.5,203.7 L330.8,205.1 L329.7,206.6 L328.4,208.1 L327.0,209.6 L325.4,211.3 L323.5,213.0 L321.5,214.8 L319.4,216.4 L317.1,217.9 L314.7,219.1 L312.1,220.1 L309.5,221.1 L306.7,222.0 L303.9,222.8 L301.1,223.6 L298.2,224.4 L295.2,225.0 L292.2,225.6 L289.1,226.1 L286.0,226.4 L283.0,226.6 L279.9,226.7 L276.5,226.8 L272.6,226.9 L268.1,227.1 L263.0,227.2 L257.6,227.3 L252.5,227.5 L247.9,227.7 L243.9,228.3 L240.2,229.2 L236.8,230.0 L233.8,230.4 L231.5,230.2 L229.8,229.4 L228.9,228.2 L228.3,226.6 L227.9,224.3 L227.4,221.2 L226.7,217.0 L226.1,211.9 L225.6,206.3 L225.1,200.5 L224.9,194.8 L224.8,188.9 L225.0,182.6 L225.2,176.4 L225.5,171.0 L225.7,166.8 L225.8,164.3 L225.9,163.1 L226.0,162.7 L226.2,162.4Z" fill="#0000bf"/>
<path d="M228.2,176.7 L228.5,175.6 L228.7,174.9 L229.1,174.6 L229.7,174.5 L230.6,174.7 L232.0,175.2 L233.7,176.0 L235.6,177.0 L237.6,178.1 L239.7,179.2 L241.8,180.1 L244.1,181.0 L246.4,182.0 L248.8,183.0 L251.2,184.1 L253.9,185.4 L256.8,186.7 L259.6,188.2 L262.3,189.5 L264.4,190.7 L265.9,191.7 L267.0,192.5 L267.9,193.2 L268.6,194.0 L269.3,194.8 L270.2,195.7 L271.0,196.7 L271.7,197.7 L272.3,198.7 L272.6,199.7 L272.8,200.9 L272.8,202.1 L272.7,203.3 L272.4,204.4 L271.8,205.5 L271.0,206.4 L270.0,207.3 L268.8,208.1 L267.4,208.9 L266.0,209.6 L264.6,210.4 L263.0,211.1 L261.3,211.8 L259.6,212.4 L257.8,212.9 L255.9,213.4 L253.9,213.7 L251.8,214.0 L249.8,214.3 L247.9,214.6 L246.2,214.9 L244.6,215.2 L243.0,215.5 L241.4,215.8 L239.7,216.2 L237.7,216.9 L235.5,217.8 L233.3,218.7 L231.3,219.3 L229.8,219.2 L229.0,218.5 L228.5,217.5 L228.4,216.0 L228.3,214.0 L228.2,211.3 L227.9,207.4 L227.7,202.6 L227.5,197.3 L227.4,192.3 L227.4,188.2 L227.4,185.0 L227.5,182.3 L227.6,180.1 L227.9,178.2Z" fill="#ffffff"/>
<g fill="none" stroke="#000" stroke-width="1.1" stroke-linejoin="round">
<path d="M218.3,303.3 L219.7,304.7 L221.7,306.8 L224.0,309.1 L226.3,311.2 L228.3,312.7 L230.0,313.3 L231.5,313.3 L233.0,313.1 L234.6,313.0 L236.3,313.3 L238.3,314.2 L240.5,315.5 L242.8,316.9 L245.0,318.1 L247.0,318.7 L248.6,318.4 L249.9,317.6 L251.3,316.6 L252.8,315.7 L255.0,315.3 L257.6,315.6 L260.4,316.2 L263.6,317.0 L267.5,317.9 L272.3,318.7 L278.3,319.5 L285.2,320.3 L292.7,321.2 L300.6,322.0 L308.3,322.7 L316.1,323.3 L324.0,323.8 L332.1,324.2 L340.3,324.6 L348.3,324.9 L356.2,325.2 L364.0,325.4 L371.9,325.6 L379.9,325.7 L388.3,325.7 L397.3,325.7 L406.6,325.7 L416.1,325.6 L425.7,325.4 L435.0,324.9 L444.0,324.3 L452.9,323.4 L461.7,322.4 L470.7,321.2 L480.0,320.0 L490.1,318.6 L500.9,317.0 L511.7,315.4 L521.6,313.8 L530.0,312.5 L536.6,311.4 L542.1,310.4 L546.5,309.5 L550.2,308.8 L553.3,308.3 L555.5,308.1 L556.6,308.1 L557.2,308.2 L558.1,308.6 L560.0,309.2 L563.3,310.0 L567.4,311.2 L571.8,312.5 L576.2,313.8 L580.0,315.0 L583.1,316.0 L585.7,316.9 L588.2,317.8 L590.7,318.8 L593.3,320.0 L596.3,321.6 L599.5,323.4 L602.6,325.3 L605.6,327.0 L608.3,328.3 L610.7,329.0 L612.8,329.3 L614.7,329.4 L616.5,329.6 L618.3,330.0 L620.2,330.8 L622.1,331.9 L623.8,333.0 L625.4,334.1 L626.7,335.0 L627.4,335.6 L627.8,335.8 L628.0,336.1 L628.3,336.8 L629.0,338.1 L630.1,340.3 L631.4,343.1 L632.9,346.3 L634.4,349.7 L635.6,352.9 L636.4,355.9 L637.2,358.6 L637.8,361.6 L638.3,365.0 L638.8,369.4 L639.3,374.7 L639.7,380.6 L640.0,387.2 L640.2,394.5 L640.5,402.4 L640.8,411.8 L641.1,422.7 L641.4,433.8 L641.5,444.0 L641.3,451.8 L640.8,456.6 L640.1,459.4 L639.1,461.0 L638.2,462.5 L637.2,465.0 L636.3,468.5 L635.4,472.4 L634.4,476.5 L633.4,480.7 L632.3,484.7 L631.1,488.9 L629.9,493.1 L628.6,497.3 L627.2,501.2 L625.7,504.5 L623.9,507.1 L622.0,509.1 L619.9,510.7 L617.8,512.4 L615.8,514.4 L613.6,516.9 L611.4,519.8 L609.1,522.6 L607.2,525.0 L605.9,526.8"/>
<path d="M218.3,307.3 L219.7,308.7 L221.7,310.7 L224.0,313.0 L226.3,315.1 L228.3,316.7 L230.0,317.5 L231.5,317.9 L233.0,318.1 L234.6,318.3 L236.3,318.7 L238.3,319.3 L240.5,320.2 L242.8,321.0 L245.0,321.7 L247.0,322.0 L248.6,321.8 L249.9,321.1 L251.3,320.3 L252.8,319.6 L255.0,319.3 L257.6,319.5 L260.4,320.0 L263.6,320.6 L267.5,321.3 L272.3,322.0 L278.3,322.6 L285.2,323.3 L292.7,324.1 L300.6,324.7 L308.3,325.3 L316.1,325.8 L324.0,326.3 L332.1,326.7 L340.3,327.0 L348.3,327.3 L356.2,327.6 L364.0,327.8 L371.9,327.9 L379.9,328.0 L388.3,328.0 L397.3,327.9 L406.6,327.7 L416.1,327.4 L425.7,327.1 L435.0,326.7 L443.9,326.2 L452.6,325.6 L461.2,324.9 L470.3,324.2 L480.0,323.3 L491.1,322.2 L503.5,320.9 L516.0,319.5 L527.4,318.3 L536.7,317.5 L543.3,317.1 L548.2,317.1 L551.8,317.3 L555.0,317.7 L558.3,318.3 L561.8,319.2 L565.0,320.3 L567.9,321.7 L570.7,323.3 L573.3,325.0 L576.0,327.2 L578.7,329.7 L581.3,332.4 L583.4,334.8 L585.0,336.7 L585.8,337.7 L585.9,338.0 L585.7,338.2 L585.6,338.6 L586.1,339.8 L587.3,341.6 L588.8,343.9 L590.5,346.6 L592.4,349.6 L594.4,352.9 L596.5,356.7 L598.8,360.8 L601.2,365.2 L603.6,369.7 L605.9,374.4 L608.1,379.3 L610.3,384.6 L612.4,389.9 L614.3,394.8 L615.8,399.1 L616.8,402.5 L617.5,405.2 L618.0,407.5 L618.2,409.8 L618.3,412.3 L618.2,414.8 L618.0,417.4 L617.5,419.9 L616.8,422.6 L615.8,425.4 L614.3,428.6 L612.4,431.9 L610.3,435.4 L608.1,438.8 L605.9,441.9 L603.7,444.7 L601.5,447.3 L599.2,449.7 L596.8,452.3 L594.4,455.1 L591.8,458.2 L589.2,461.4 L586.5,464.8 L583.8,468.2 L581.2,471.6 L578.6,474.8 L575.9,478.1 L573.3,481.3 L570.6,484.6 L568.0,488.0 L565.3,491.7 L562.5,495.5 L559.7,499.3 L557.1,502.9 L554.8,506.2 L552.8,509.0 L551.1,511.5 L549.5,513.8 L548.3,515.8 L547.4,517.7 L547.0,519.4 L547.0,520.9 L547.3,522.2 L547.8,523.3 L548.2,524.3 L548.8,525.1 L549.5,525.7 L550.3,526.1 L551.0,526.5 L551.5,526.8"/>
<path d="M218.3,311.3 L219.7,312.7 L221.7,314.7 L224.0,317.0 L226.3,319.1 L228.3,320.7 L230.0,321.6 L231.5,322.2 L233.0,322.6 L234.6,322.9 L236.3,323.3 L238.3,323.9 L240.5,324.4 L242.8,324.9 L245.0,325.2 L247.0,325.3 L248.6,325.0 L249.9,324.3 L251.3,323.6 L252.8,322.9 L255.0,322.7 L257.6,322.9 L260.4,323.3 L263.6,324.0 L267.5,324.7 L272.3,325.3 L278.3,325.9 L285.2,326.5 L292.7,327.0 L300.6,327.6 L308.3,328.0 L316.1,328.4 L324.0,328.7 L332.1,328.9 L340.3,329.1 L348.3,329.3 L356.2,329.5 L364.0,329.7 L371.9,329.9 L379.9,330.0 L388.3,330.0 L397.8,329.9 L408.2,329.6 L418.5,329.3 L427.8,329.0 L435.0,328.7 L438.8,328.4 L439.9,328.3 L440.3,328.1 L441.9,327.8 L446.7,327.5 L455.5,327.0 L467.0,326.4 L480.0,325.8 L493.1,325.3 L505.0,325.0 L516.1,325.0 L527.4,325.1 L538.0,325.4 L547.5,325.9 L555.0,326.7 L560.0,327.6 L563.1,328.7 L564.9,330.1 L566.4,331.6 L568.3,333.3 L570.9,335.3 L573.4,337.5 L575.8,339.9 L578.0,342.4 L580.0,345.0 L581.6,347.7 L582.7,350.4 L583.8,353.3 L585.0,356.5 L586.7,360.0 L588.9,364.0 L591.4,368.4 L594.2,373.0 L596.9,377.8 L599.3,382.6 L601.6,387.6 L604.0,393.0 L606.2,398.3 L608.0,403.2 L609.2,407.3 L609.8,410.4 L609.8,412.6 L609.5,414.5 L608.7,416.4 L607.5,418.8 L606.0,421.8 L603.9,425.1 L601.5,428.5 L598.8,431.9 L596.0,435.3 L593.0,438.7 L589.7,442.1 L586.2,445.4 L582.8,448.7 L579.5,451.8 L576.5,454.5 L573.5,457.0 L570.6,459.4 L567.7,462.0 L564.7,465.0 L561.7,468.6 L558.5,472.7 L555.5,477.0 L552.5,481.1 L549.9,484.7 L547.9,487.7 L546.4,490.3 L544.9,492.7 L543.0,495.2 L540.0,497.9 L535.6,501.1 L530.2,504.6 L524.2,508.1 L518.5,511.6 L513.7,514.7 L509.5,517.6 L505.8,520.4 L502.4,523.0 L499.7,525.1 L497.7,526.7"/>
<path d="M218.3,315.3 L219.7,316.6 L221.7,318.5 L224.0,320.5 L226.3,322.5 L228.3,324.0 L230.0,324.9 L231.5,325.5 L233.0,325.9 L234.6,326.3 L236.3,326.7 L238.3,327.2 L240.5,327.7 L242.8,328.2 L245.0,328.6 L247.0,328.7 L248.6,328.3 L249.9,327.7 L251.3,326.9 L252.8,326.3 L255.0,326.0 L257.6,326.2 L260.4,326.7 L263.6,327.4 L267.5,328.1 L272.3,328.7 L278.3,329.1 L285.2,329.6 L292.7,330.0 L300.6,330.3 L308.3,330.7 L316.1,330.9 L324.0,331.1 L332.1,331.3 L340.3,331.5 L348.3,331.6 L356.2,331.7 L364.0,331.9 L371.9,332.0 L379.9,332.0 L388.3,332.0 L398.1,331.9 L409.0,331.6 L419.7,331.4 L428.9,331.0 L435.0,330.7 L436.3,330.2 L433.7,329.7 L429.9,329.2 L427.8,328.7 L430.0,328.3 L438.5,328.0 L451.3,327.7 L465.8,327.4 L479.1,327.3 L488.3,327.5 L492.8,327.9 L494.4,328.5 L494.3,329.3 L493.5,330.4 L493.3,331.7 L493.3,333.4 L492.7,335.5 L492.1,337.8 L492.1,339.9 L493.3,341.7 L495.7,342.8 L498.9,343.5 L502.8,344.1 L507.6,344.8 L513.3,345.8 L520.9,347.5 L530.4,349.7 L540.3,351.9 L549.0,353.8 L555.0,355.0 L557.4,355.1 L557.1,354.3 L555.6,353.3 L554.4,352.7 L554.8,352.9 L557.4,354.3 L561.0,356.4 L565.2,359.0 L569.3,361.7 L572.9,364.5 L576.0,367.2 L578.7,370.0 L581.3,373.0 L583.8,376.1 L586.1,379.3 L588.4,382.8 L590.7,386.6 L592.8,390.4 L594.6,394.1 L596.0,397.4 L597.1,400.5 L597.8,403.3 L598.2,405.9 L598.4,408.4 L598.5,410.6 L598.5,412.4 L598.4,413.9 L598.1,415.2 L597.4,416.8 L596.0,418.8 L593.9,421.6 L591.1,424.8 L587.8,428.3 L584.5,431.9 L581.2,435.3 L578.0,438.6 L574.7,441.9 L571.4,445.2 L568.0,448.5 L564.7,451.8 L561.3,455.2 L557.7,458.7 L554.2,462.2 L551.0,465.4 L548.2,468.3 L546.9,470.5 L546.8,472.3 L546.5,473.9 L544.7,475.8 L540.0,478.2 L531.4,481.1 L519.7,484.5 L506.6,488.1 L493.4,492.0 L481.7,496.0 L471.2,500.6 L460.9,505.9 L451.2,511.2 L442.4,515.9 L435.0,519.3 L429.6,521.2 L426.0,521.8 L423.2,521.8 L419.9,521.7 L415.0,522.0 L407.6,522.9 L398.5,523.9 L389.1,525.0 L380.8,526.0 L375.0,526.7"/>
<path d="M218.3,319.3 L219.7,320.6 L221.7,322.5 L224.0,324.6 L226.3,326.6 L228.3,328.0 L230.0,328.8 L231.5,329.3 L233.0,329.6 L234.6,329.7 L236.3,330.0 L238.3,330.4 L240.5,330.8 L242.8,331.1 L245.0,331.3 L247.0,331.3 L248.6,331.0 L249.9,330.3 L251.3,329.6 L252.8,329.0 L255.0,328.7 L257.6,328.8 L260.4,329.1 L263.6,329.6 L267.5,330.2 L272.3,330.7 L278.3,331.1 L285.2,331.5 L292.7,331.9 L300.6,332.3 L308.3,332.7 L316.2,333.0 L324.4,333.2 L332.7,333.4 L340.8,333.6 L348.3,333.7 L354.7,333.8 L360.1,333.9 L365.5,334.0 L371.8,334.0 L380.0,334.0 L391.5,334.0 L405.7,333.8 L420.4,333.7 L433.5,333.7 L443.0,334.0 L448.2,334.4 L450.6,334.8 L450.9,335.5 L450.1,336.5 L449.0,338.0 L446.8,340.3 L443.1,343.3 L438.8,346.6 L435.1,349.6 L433.0,352.0 L432.6,353.6 L433.0,354.7 L434.4,355.6 L436.8,356.3 L440.0,357.0 L444.6,357.8 L450.6,358.5 L457.3,359.1 L464.0,359.6 L470.0,360.0 L475.3,360.0 L480.3,359.7 L485.1,359.4 L490.0,359.4 L495.0,360.0 L500.4,361.4 L505.9,363.2 L511.5,365.5 L516.8,368.0 L521.7,370.7 L526.1,373.6 L530.1,377.0 L533.9,380.5 L537.3,383.8 L540.3,386.7 L542.9,388.9 L545.0,390.6 L546.8,392.2 L548.4,393.8 L549.9,395.8 L551.3,398.2 L552.5,400.8 L553.5,403.5 L554.3,406.3 L554.8,409.0 L555.1,411.5 L555.2,414.0 L555.0,416.5 L554.4,419.2 L553.2,422.1 L552.8,424.9 L553.1,427.4 L552.4,430.3 L548.7,434.4 L540.0,440.3 L523.7,449.2 L501.2,460.9 L476.2,473.2 L452.9,484.4 L435.0,492.7 L423.9,497.2 L416.8,499.3 L412.0,499.9 L407.6,500.3 L401.7,501.3 L394.3,503.2 L386.8,505.1 L378.9,507.0 L370.6,508.9 L361.7,510.7 L351.9,512.4 L341.3,514.2 L330.3,515.8 L319.2,517.3 L308.3,518.7 L297.3,519.8 L285.9,520.7 L274.7,521.5 L264.2,522.1 L255.0,522.7 L247.0,523.3 L239.9,523.8 L233.7,524.3 L228.5,524.4 L224.3,524.0 L221.5,522.9 L219.9,521.1 L219.1,519.1 L218.8,517.2 L218.3,516.0"/>
<path d="M218.3,323.3 L219.7,324.5 L221.7,326.2 L224.0,328.1 L226.3,329.9 L228.3,331.3 L230.0,332.2 L231.5,332.9 L233.0,333.3 L234.6,333.7 L236.3,334.0 L238.3,334.3 L240.5,334.6 L242.8,334.7 L245.0,334.8 L247.0,334.7 L248.6,334.3 L249.9,333.6 L251.3,332.9 L252.8,332.3 L255.0,332.0 L257.6,332.0 L260.4,332.2 L263.6,332.5 L267.5,332.9 L272.3,333.3 L278.3,333.8 L285.2,334.4 L292.7,335.0 L300.6,335.6 L308.3,336.0 L315.8,336.2 L323.3,336.2 L331.0,336.2 L339.2,336.3 L348.3,336.7 L359.9,337.3 L373.7,338.0 L387.3,339.0 L398.3,340.3 L404.3,342.0 L403.4,344.5 L397.0,347.6 L388.2,351.0 L379.9,354.2 L375.0,356.7 L373.3,358.3 L372.8,359.3 L373.9,360.0 L376.8,360.8 L381.7,362.0 L389.8,363.6 L401.0,365.5 L413.4,367.6 L425.4,369.5 L435.0,371.3 L441.8,372.7 L446.8,373.9 L451.1,375.0 L455.3,376.5 L460.3,378.7 L466.7,381.6 L473.8,385.2 L480.9,389.1 L487.4,393.2 L492.3,397.3 L495.7,401.5 L498.0,405.9 L499.4,410.4 L500.1,414.7 L500.3,418.7 L500.0,422.2 L498.9,425.3 L497.3,428.3 L495.0,431.4 L492.3,434.7 L489.2,438.3 L485.5,442.3 L481.2,446.3 L476.4,450.0 L471.0,453.3 L465.5,455.9 L460.1,457.9 L453.8,459.7 L445.7,461.8 L435.0,464.7 L420.4,468.6 L402.4,473.3 L383.0,478.3 L364.3,482.9 L348.3,486.7 L335.1,489.4 L323.3,491.4 L312.8,493.0 L303.4,494.4 L295.0,496.0 L288.0,497.7 L282.6,499.3 L278.0,500.9 L273.5,502.5 L268.3,504.0 L262.2,505.6 L255.5,507.3 L248.9,508.9 L242.8,510.3 L237.7,511.3 L233.8,512.2 L230.7,513.0 L228.2,513.4 L226.2,513.1 L224.3,511.7 L222.8,508.8 L221.6,504.3 L220.8,499.4 L220.2,495.0 L219.7,492.0"/>
<path d="M218.3,327.3 L219.7,328.3 L221.7,329.7 L224.0,331.3 L226.3,332.9 L228.3,334.0 L230.0,334.7 L231.6,335.2 L233.1,335.5 L234.7,335.7 L236.3,336.0 L237.9,336.3 L239.3,336.5 L240.9,336.7 L242.9,337.0 L245.7,337.3 L248.6,337.8 L251.4,338.3 L255.1,338.9 L260.4,339.5 L268.3,340.0 L280.6,340.4 L296.5,340.8 L313.6,341.2 L329.1,341.6 L340.3,342.0 L347.1,342.3 L351.1,342.4 L352.8,342.7 L352.7,343.4 L351.0,344.7 L346.4,347.0 L338.7,350.1 L329.8,353.6 L322.1,356.8 L317.7,359.3 L316.7,360.8 L317.9,361.7 L320.8,362.3 L324.8,363.2 L329.7,364.7 L336.2,367.2 L344.7,370.6 L353.9,374.1 L362.2,377.2 L368.3,379.3 L371.3,380.0 L372.1,379.8 L372.0,379.0 L372.6,378.5 L375.0,378.7 L380.0,379.6 L386.6,380.9 L393.9,382.5 L401.0,384.4 L407.0,386.7 L411.7,389.4 L415.9,392.5 L419.5,395.9 L422.7,399.3 L425.7,402.7 L428.6,405.8 L431.5,408.8 L433.8,411.9 L435.2,415.1 L435.0,418.7 L433.2,422.7 L430.1,427.2 L425.8,431.8 L420.7,436.2 L415.0,440.0 L408.4,443.2 L400.9,445.9 L392.6,448.4 L383.9,450.8 L375.0,453.3 L366.1,456.0 L357.0,458.5 L347.4,461.1 L337.0,463.8 L325.7,466.7 L312.3,469.9 L297.0,473.4 L281.4,476.9 L266.9,480.1 L255.0,482.7 L245.9,484.8 L238.5,486.8 L232.7,488.3 L228.1,489.0 L224.3,488.7 L221.9,486.7 L220.9,483.3 L220.8,479.4 L221.0,475.8 L221.0,473.3"/>
<path d="M223.0,346.0 L225.3,348.8 L228.7,352.9 L232.5,357.5 L236.1,361.7 L239.0,364.7 L240.5,366.2 L241.2,366.8 L241.7,366.9 L242.9,366.9 L245.7,367.3 L250.2,368.0 L256.1,368.6 L262.8,369.4 L269.7,370.5 L276.3,372.0 L282.6,374.2 L289.0,376.9 L295.5,379.9 L301.9,382.8 L308.3,385.3 L315.0,387.4 L321.9,389.3 L328.7,391.0 L335.0,392.8 L340.3,394.7 L344.7,396.7 L348.2,398.7 L351.2,400.8 L353.8,403.0 L356.3,405.3 L358.8,408.0 L361.0,410.9 L362.9,413.9 L364.5,416.6 L365.7,418.7 L366.4,420.0 L366.8,420.6 L366.8,421.0 L366.4,421.6 L365.7,422.7 L364.7,424.3 L363.6,426.3 L362.1,428.6 L359.7,430.9 L356.3,433.3 L351.8,435.9 L346.2,438.5 L339.9,441.3 L333.0,444.0 L325.7,446.7 L317.6,449.2 L308.7,451.7 L299.4,454.1 L290.3,456.5 L281.7,458.7 L273.5,460.8 L265.4,462.9 L257.7,464.8 L250.6,466.6 L244.3,468.0 L239.0,469.4 L234.3,470.8 L230.3,471.8 L227.0,472.1 L224.3,471.3 L222.5,468.8 L221.6,464.8 L221.3,460.3 L221.2,456.1 L221.0,453.3"/>
<path d="M251.0,347.3 L251.1,346.4 L251.6,345.3 L252.2,344.3 L252.9,343.4 L253.7,342.7 L254.6,342.0 L255.7,341.5 L256.8,341.0 L258.0,340.7 L259.0,340.7 L259.9,340.9 L260.9,341.3 L261.8,341.9 L262.5,342.6 L263.0,343.3 L263.3,344.0 L263.5,344.8 L263.5,345.7 L263.3,346.5 L263.0,347.3 L262.5,348.2 L261.8,349.1 L260.9,350.0 L259.9,350.7 L259.0,351.3 L258.0,351.8 L256.8,352.1 L255.7,352.3 L254.6,352.3 L253.7,352.0 L252.9,351.4 L252.2,350.5 L251.6,349.5 L251.1,348.4Z"/>
<path d="M235.0,340.7 L235.4,339.3 L236.1,338.4 L237.0,337.8 L238.0,337.4 L239.0,337.3 L240.0,337.5 L241.2,338.0 L242.3,338.8 L243.4,339.7 L244.3,340.7 L245.2,341.7 L246.0,343.0 L246.6,344.3 L247.0,345.8 L247.0,347.3 L246.4,349.2 L245.4,351.5 L244.1,353.8 L242.8,355.6 L241.7,356.7 L240.8,356.8 L239.9,356.4 L239.1,355.5 L238.4,354.2 L237.7,352.7 L236.9,350.6 L236.2,348.0 L235.5,345.2 L235.1,342.6Z"/>
<path d="M220.3,346.7 L221.1,348.4 L222.2,350.8 L223.5,353.6 L224.7,356.8 L225.7,360.0 L226.4,363.3 L226.9,366.7 L227.4,370.4 L227.8,374.3 L228.3,378.7 L228.8,384.2 L229.1,390.8 L229.5,397.4 L230.1,402.6 L231.0,405.3 L232.2,404.5 L233.7,400.9 L235.4,396.1 L237.1,391.8 L239.0,389.3 L240.6,389.2 L242.1,390.2 L243.7,392.1 L246.1,394.1 L249.7,396.0 L255.1,397.6 L262.2,399.3 L269.8,401.2 L276.6,403.2 L281.7,405.3 L284.7,407.7 L286.5,410.4 L287.3,413.1 L287.4,415.9 L287.0,418.7 L285.7,421.5 L283.4,424.6 L280.7,427.5 L278.1,430.1 L276.3,432.0 L275.9,432.9 L276.4,432.9 L277.0,432.7 L276.8,432.7 L275.0,433.3 L271.0,435.0 L265.5,437.2 L259.1,439.7 L252.7,442.1 L247.0,444.0 L241.8,445.5 L236.6,446.9 L231.7,448.0 L227.5,448.7 L224.3,448.7 L222.6,448.0 L222.0,446.7 L222.1,444.9 L222.4,442.7 L222.3,440.0 L221.9,436.4 L221.4,431.9 L221.0,427.1 L220.6,422.9 L220.3,420.0"/>
<path d="M558.5,99.5 L560.4,99.9 L563.1,100.6 L566.2,101.2 L569.8,101.9 L573.7,102.3 L578.1,102.5 L583.1,102.4 L588.4,102.2 L593.4,102.2 L597.7,102.6 L601.1,103.3 L604.0,104.4 L606.5,105.6 L608.8,106.9 L611.0,108.3 L613.2,109.9 L615.3,111.5 L617.3,113.3 L619.0,115.1 L620.3,117.0 L621.2,118.5 L621.7,119.7 L621.9,121.1 L622.3,123.4 L623.0,127.0 L624.2,132.6 L625.8,139.8 L627.4,147.7 L628.9,155.4 L630.1,161.9 L631.0,166.9 L631.6,171.1 L632.1,174.9 L632.4,178.8 L632.6,183.3 L632.7,188.5 L632.7,194.2 L632.5,200.1 L632.2,205.9 L631.8,211.3 L631.2,216.3 L630.6,221.1 L629.8,225.7 L628.8,230.1 L627.7,234.3 L626.3,238.3 L624.7,242.2 L623.0,245.8 L621.2,249.2 L619.4,252.4 L617.6,255.5 L615.6,258.4 L613.6,261.1 L611.6,263.5 L609.6,265.6 L607.7,267.4 L605.9,268.7 L604.1,269.9 L602.1,271.0 L599.7,272.2 L597.0,273.5 L594.2,274.8 L591.1,276.2 L587.4,277.5 L583.2,278.8 L578.1,280.1 L572.1,281.5 L565.8,282.8 L559.5,284.1 L553.6,285.4 L547.7,286.6 L541.7,287.8 L535.9,289.0 L531.0,290.1 L527.2,291.1 L524.9,292.0 L523.8,292.8 L523.5,293.5 L523.7,294.3 L523.9,295.3 L525.0,296.5 L527.2,297.8 L529.4,299.3 L530.4,300.9 L529.2,302.5 L525.4,304.2 L519.7,306.0 L512.7,307.8 L504.9,309.7 L496.7,311.7 L487.2,313.8 L476.1,316.1 L464.7,318.4 L454.5,320.4 L446.7,321.7 L442.4,322.1 L440.9,321.9 L440.3,321.4 L439.0,320.9 L435.0,320.7 L427.8,320.8 L418.5,321.2 L408.2,321.5 L397.8,321.9 L388.3,322.0 L379.9,321.9 L371.9,321.8 L364.0,321.5 L356.2,321.1 L348.3,320.7 L340.2,320.0 L331.8,319.2 L323.6,318.3 L315.7,317.4 L308.3,316.7 L301.8,316.2 L295.9,315.8 L290.3,315.5 L284.8,314.9 L279.0,314.0 L272.7,312.5 L266.1,310.7 L259.5,308.6 L253.5,306.5 L248.3,304.7 L244.3,303.0 L241.1,301.3 L238.5,299.7 L236.1,298.3 L233.7,297.3 L231.2,296.8 L228.8,296.7 L226.6,296.8 L224.6,296.9 L223.0,296.7 L221.7,296.1 L220.7,295.4 L220.0,294.6 L219.4,293.8 L219.0,293.3"/>
<path d="M278.3,306.0 L277.8,304.7 L277.5,303.3 L278.9,301.9 L283.4,300.8 L292.3,300.0 L308.2,299.7 L330.0,299.7 L354.2,299.9 L377.1,300.2 L395.0,300.4 L407.7,300.6 L417.7,300.8 L425.2,301.0 L430.9,301.2 L435.0,301.3 L436.4,301.4 L434.8,301.4 L432.0,301.5 L429.8,301.5 L430.0,301.7 L433.3,301.9 L438.5,302.2 L444.5,302.5 L450.4,302.9 L455.0,303.3 L458.3,303.8 L461.0,304.2 L463.2,304.7 L465.1,305.3 L466.7,305.8 L468.2,306.4 L469.5,307.1 L470.4,307.8 L470.6,308.5 L470.0,309.2 L468.2,309.8 L465.4,310.5 L462.0,311.2 L458.4,311.8 L455.0,312.5 L451.9,313.2 L448.9,313.8 L445.7,314.5 L442.2,315.2 L438.3,315.8 L434.0,316.5 L429.3,317.2 L424.3,318.0 L419.0,318.6 L413.3,319.2 L407.0,319.6 L399.9,320.1 L392.7,320.4 L385.8,320.7 L380.0,320.8 L375.9,320.9 L373.3,320.9 L370.8,320.7 L367.3,320.5 L361.7,320.0 L352.6,319.3 L340.9,318.3 L328.5,317.3 L317.0,316.2 L308.3,315.3 L303.2,314.6 L300.3,314.0 L298.7,313.5 L297.2,312.8 L295.0,312.0 L291.4,311.0 L287.1,309.8 L283.0,308.5 L279.8,307.2Z"/>
<path d="M351.0,99.5 L355.6,99.7 L362.1,100.0 L369.7,100.3 L377.8,100.7 L385.7,101.0 L394.0,101.3 L403.3,101.6 L412.5,101.9 L420.8,102.1 L427.0,102.3 L430.7,102.5 L432.5,102.7 L433.2,102.8 L433.8,102.9 L435.0,103.0 L437.0,103.0 L439.3,103.0 L441.7,102.9 L443.8,102.9 L445.7,103.0 L446.5,103.2 L446.3,103.5 L446.3,103.8 L447.5,104.1 L451.0,104.3 L457.6,104.5 L466.6,104.5 L476.8,104.6 L486.7,104.7 L495.0,105.0 L501.3,105.5 L506.6,106.3 L511.4,107.1 L516.2,107.8 L521.7,108.3 L528.2,108.5 L535.5,108.5 L542.8,108.3 L549.5,108.3 L555.0,108.3 L559.0,108.6 L562.0,108.9 L564.3,109.3 L566.3,109.8 L568.3,110.3 L570.3,111.0 L571.9,111.9 L573.3,112.7 L574.7,113.6 L576.3,114.3 L578.2,115.0 L580.2,115.5 L582.3,116.0 L584.1,116.5 L585.7,117.0 L586.8,117.4 L587.7,117.6 L588.4,117.9 L589.0,118.5 L589.7,119.7 L590.3,121.6 L590.8,124.0 L591.2,126.8 L591.7,129.6 L592.3,132.3 L593.0,134.7 L593.6,137.0 L594.4,139.3 L595.2,141.9 L596.3,145.0 L597.8,148.8 L599.5,153.2 L601.3,157.9 L603.0,162.5 L604.6,166.8 L606.0,170.6 L607.3,174.0 L608.5,177.4 L609.6,180.9 L610.4,184.9 L610.9,189.6 L611.3,194.7 L611.5,200.0 L611.5,205.1 L611.2,209.6 L610.6,213.5 L609.8,216.9 L608.7,220.0 L607.5,223.0 L606.3,226.1 L604.9,229.1 L603.5,232.1 L602.0,234.9 L600.1,237.9 L598.0,240.9 L595.6,244.2 L592.8,247.7 L589.8,251.2 L586.6,254.5 L583.2,257.4 L579.7,259.8 L576.1,261.9 L572.3,263.7 L568.1,265.5 L563.4,267.3 L558.5,269.1 L553.2,270.8 L547.6,272.5 L541.2,274.1 L533.8,275.5 L525.2,276.7 L515.5,277.9 L505.1,278.9 L494.6,279.7 L484.4,280.4 L476.5,281.0 L470.5,281.4 L463.5,281.7 L452.6,281.9 L435.0,282.1 L406.2,282.1 L368.1,282.0 L327.4,281.9 L290.6,281.9 L264.4,282.1 L251.2,282.5 L246.7,283.2 L247.1,284.0 L248.8,284.7 L247.9,285.4 L244.5,286.1 L240.8,286.9 L237.2,287.7 L234.0,288.0 L231.5,287.8 L229.8,286.7 L228.7,284.8 L228.1,282.6 L227.4,280.7 L226.5,279.6 L225.2,279.5 L223.7,279.9 L222.2,280.8 L220.9,281.6 L219.9,282.1"/>
<path d="M223.0,103.7 L228.2,103.7 L235.2,103.6 L243.8,103.6 L253.6,103.6 L264.3,103.7 L277.0,103.8 L292.0,103.9 L307.5,104.1 L321.9,104.3 L333.7,104.6 L341.9,104.9 L347.6,105.3 L352.1,105.7 L356.8,106.0 L363.0,106.3 L371.1,106.6 L380.3,106.8 L389.8,106.9 L399.0,107.1 L407.0,107.3 L413.8,107.5 L419.9,107.6 L425.4,107.8 L430.4,108.1 L435.0,108.3 L438.6,108.7 L441.2,109.1 L443.6,109.6 L446.6,110.0 L451.0,110.3 L457.4,110.5 L465.2,110.5 L473.6,110.6 L481.6,110.7 L488.3,111.0 L493.5,111.6 L497.9,112.3 L501.6,113.1 L505.0,114.1 L508.3,115.0 L511.5,116.0 L514.3,117.2 L516.9,118.4 L519.4,119.5 L521.7,120.3 L523.8,120.8 L525.8,121.0 L527.6,121.1 L529.3,121.3 L531.0,121.7 L532.7,122.4 L534.2,123.4 L535.8,124.4 L537.3,125.4 L539.0,126.3 L540.8,127.1 L542.6,127.7 L544.5,128.3 L546.4,128.9 L548.3,129.7 L550.3,130.5 L552.3,131.4 L554.2,132.4 L556.1,133.6 L557.7,135.0 L559.0,136.7 L560.2,138.8 L561.2,141.0 L562.1,143.1 L563.0,145.0 L563.9,146.4 L564.7,147.5 L565.5,148.5 L566.2,149.9 L566.7,152.0 L567.1,154.9 L567.4,158.5 L567.6,162.4 L567.7,166.4 L567.6,170.1 L567.2,173.5 L566.7,176.9 L566.1,180.2 L565.5,183.4 L565.1,186.6 L564.9,189.8 L564.8,193.2 L564.7,196.4 L564.8,199.2 L565.1,201.4 L565.5,202.9 L565.9,203.9 L566.6,204.5 L567.4,204.7 L568.4,204.7 L569.7,204.2 L571.2,203.2 L573.0,202.0 L574.8,200.8 L576.6,199.7 L578.6,198.8 L580.7,197.9 L582.8,197.1 L584.8,196.6 L586.5,196.4 L587.9,196.8 L589.0,197.4 L589.9,198.4 L590.7,199.7 L591.4,201.4 L592.1,203.4 L592.6,205.9 L592.9,208.7 L593.1,211.6 L593.1,214.6 L592.8,217.7 L592.4,221.2 L591.8,224.6 L591.0,228.0 L589.8,231.0 L588.3,233.7 L586.5,236.1 L584.4,238.3 L582.2,240.4 L579.9,242.6 L577.5,244.6 L575.0,246.6 L572.4,248.6 L569.6,250.5 L566.7,252.4 L563.8,254.5 L560.8,256.5 L557.6,258.6 L554.1,260.6 L550.3,262.3 L546.1,263.8 L541.8,265.2 L537.0,266.4 L531.7,267.6 L525.6,268.9 L518.5,270.3 L510.7,271.7 L502.3,273.1 L493.4,274.4 L484.4,275.5 L477.1,276.5 L471.5,277.4 L464.6,278.1 L453.4,278.6 L435.0,278.8 L404.7,278.4 L364.6,277.6 L321.6,276.7 L282.5,275.8 L254.5,275.5 L239.8,275.9 L233.8,276.7 L233.0,277.7 L233.9,278.5 L233.1,278.8 L230.9,278.2 L229.5,277.0 L228.5,275.6 L227.7,274.4 L226.5,273.8 L225.0,274.2 L223.3,275.0 L221.6,276.2 L220.1,277.3 L219.1,278.0"/>
<path d="M221.7,109.0 L221.9,108.9 L221.7,108.7 L222.3,108.6 L225.0,108.4 L231.0,108.3 L241.8,108.3 L256.6,108.2 L273.1,108.2 L289.3,108.2 L303.0,108.3 L314.3,108.5 L324.6,108.8 L333.8,109.1 L341.7,109.4 L348.3,109.7 L352.6,109.9 L354.7,110.2 L355.9,110.5 L357.8,110.7 L361.7,111.0 L368.1,111.2 L376.1,111.5 L384.9,111.7 L393.7,112.0 L401.7,112.3 L409.1,112.8 L416.4,113.3 L423.4,113.9 L429.7,114.4 L435.0,115.0 L439.0,115.5 L442.0,116.0 L444.3,116.5 L446.3,117.0 L448.3,117.7 L450.1,118.4 L451.4,119.3 L452.6,120.1 L454.1,121.0 L456.3,121.7 L459.6,122.1 L463.5,122.4 L467.8,122.6 L471.8,123.0 L475.0,123.7 L477.2,124.7 L478.6,126.0 L479.7,127.4 L481.1,128.9 L483.0,130.3 L485.7,131.8 L489.0,133.2 L492.4,134.7 L495.8,136.2 L499.0,137.7 L501.9,139.1 L504.8,140.5 L507.5,141.9 L510.0,143.3 L512.3,145.0 L514.4,146.8 L516.1,148.6 L517.7,150.6 L519.2,152.8 L520.6,155.3 L522.0,158.0 L523.4,160.9 L524.6,164.2 L525.6,167.7 L526.4,171.7 L526.8,176.6 L526.9,182.4 L526.8,188.3 L526.9,193.7 L527.2,198.1 L527.9,201.2 L528.8,203.6 L529.9,205.3 L531.0,206.7 L532.2,208.0 L533.4,209.0 L534.9,209.5 L536.4,209.8 L537.7,210.3 L538.7,211.3 L539.4,212.8 L539.9,214.7 L540.1,216.9 L540.3,219.1 L540.4,221.2 L540.3,223.1 L539.8,224.9 L539.4,226.8 L539.2,228.8 L539.6,231.0 L540.6,233.6 L542.2,236.5 L544.0,239.4 L545.7,242.0 L547.0,244.2 L547.8,245.7 L548.4,246.7 L548.8,247.4 L548.9,248.2 L548.6,249.1 L548.0,250.4 L547.0,251.7 L545.7,253.0 L544.0,254.4 L542.0,255.7 L540.0,257.0 L538.0,258.3 L535.6,259.6 L532.1,260.9 L527.2,262.3 L520.3,263.9 L511.6,265.7 L502.2,267.4 L492.8,269.1 L484.4,270.6 L476.9,271.8 L469.7,272.9 L463.0,273.9 L456.8,274.8 L451.5,275.5 L449.8,276.1 L451.7,276.7 L452.8,277.1 L448.7,277.3 L435.0,277.1 L406.2,276.5 L365.3,275.3 L320.5,274.0 L279.7,272.9 L251.2,272.2 L237.6,272.2 L233.4,272.7 L234.7,273.3 L237.5,273.8 L238.1,273.8 L236.4,273.1 L235.3,271.9 L234.3,270.5 L233.1,269.4 L231.5,268.9 L229.0,269.3 L226.0,270.4 L222.9,271.8 L220.2,273.0 L218.3,273.8"/>
<path d="M223.0,113.7 L222.5,113.8 L221.2,114.1 L220.6,114.4 L222.0,114.6 L227.0,114.7 L237.4,114.8 L252.2,114.7 L268.7,114.6 L283.9,114.5 L295.0,114.3 L300.7,114.2 L303.0,114.0 L303.7,113.8 L304.8,113.7 L308.3,113.7 L314.9,113.8 L323.4,114.0 L332.5,114.3 L341.2,114.6 L348.3,115.0 L353.4,115.4 L357.1,115.9 L360.3,116.4 L363.8,117.0 L368.3,117.7 L374.4,118.4 L381.3,119.1 L388.7,119.9 L395.6,120.8 L401.7,121.7 L406.6,122.6 L410.9,123.6 L414.8,124.7 L418.3,125.8 L421.7,127.0 L424.4,128.0 L426.5,128.9 L428.6,130.0 L431.2,131.5 L435.0,133.7 L440.7,137.0 L448.0,141.4 L455.7,146.1 L462.7,150.4 L467.9,153.6 L471.0,155.5 L472.7,156.5 L473.6,157.0 L474.3,157.5 L475.3,158.6 L476.9,160.2 L478.5,162.2 L480.1,164.3 L481.5,166.4 L482.8,168.5 L483.7,170.4 L484.4,172.3 L485.0,174.3 L485.6,176.3 L486.0,178.3 L486.4,180.6 L486.6,183.1 L486.8,185.6 L487.1,188.0 L487.7,189.9 L488.6,191.2 L489.8,192.2 L491.1,193.0 L492.4,193.8 L493.5,194.8 L494.3,195.9 L495.1,196.8 L495.8,198.0 L496.3,199.4 L496.8,201.4 L496.9,204.2 L496.8,207.7 L496.6,211.4 L496.5,214.9 L496.8,217.9 L497.5,220.0 L498.6,221.7 L499.8,223.1 L500.9,224.5 L501.7,226.1 L502.1,228.0 L502.3,230.0 L502.3,232.1 L502.1,234.1 L501.7,236.0 L501.0,237.7 L499.9,239.3 L498.7,240.9 L497.6,242.5 L496.8,244.2 L496.4,246.2 L496.2,248.3 L496.2,250.4 L496.2,252.4 L495.9,254.1 L495.6,255.4 L495.3,256.4 L494.8,257.3 L494.0,258.1 L492.6,259.0 L490.7,260.0 L488.4,261.0 L485.7,262.0 L482.7,263.0 L479.5,264.0 L476.0,264.9 L472.3,265.7 L468.3,266.6 L464.1,267.4 L459.7,268.1 L457.4,268.8 L457.0,269.5 L455.4,270.1 L449.1,270.5 L435.0,270.6 L408.3,270.3 L371.3,269.6 L330.8,268.9 L294.0,268.0 L267.7,267.3 L254.2,266.5 L248.8,265.7 L248.2,264.9 L249.0,264.3 L247.9,264.0 L245.0,264.1 L242.5,264.5 L240.3,265.1 L238.3,265.5 L236.4,265.6 L234.9,265.1 L233.7,264.2 L232.6,263.2 L231.4,262.4 L229.8,262.3 L227.6,263.1 L225.0,264.6 L222.3,266.3 L219.9,267.9 L218.3,268.9"/>
<path d="M221.0,131.0 L221.8,129.2 L222.8,126.6 L224.1,123.7 L225.5,121.2 L227.0,119.7 L228.5,119.5 L230.0,120.1 L231.8,121.3 L233.8,122.4 L236.3,123.0 L239.0,123.1 L241.8,123.1 L245.1,122.9 L249.3,122.6 L255.0,122.3 L262.6,121.9 L272.0,121.4 L282.1,120.9 L292.3,120.5 L301.7,120.3 L310.5,120.5 L319.4,120.9 L327.9,121.5 L335.5,122.2 L341.7,123.0 L346.1,123.9 L349.2,125.0 L351.3,126.2 L353.1,127.4 L355.0,128.3 L356.8,129.0 L358.3,129.5 L359.6,130.0 L361.1,130.5 L363.2,131.4 L366.0,132.6 L369.4,134.2 L373.0,135.8 L376.6,137.4 L379.7,138.8 L382.3,139.9 L384.6,140.8 L386.8,141.6 L389.0,142.5 L391.2,143.8 L393.6,145.2 L396.0,146.8 L398.4,148.6 L400.6,150.6 L402.7,152.8 L404.6,155.3 L406.3,157.9 L407.8,160.8 L409.4,163.8 L411.0,166.8 L412.6,169.9 L414.3,173.1 L416.0,176.5 L417.6,179.8 L419.2,183.3 L420.9,186.7 L422.6,190.2 L424.3,193.8 L425.7,197.5 L426.6,201.4 L427.1,205.6 L427.3,210.2 L427.2,214.8 L426.7,219.1 L425.8,222.8 L424.3,225.8 L422.2,228.2 L419.9,230.3 L417.7,232.3 L415.9,234.3 L414.5,236.5 L413.4,238.6 L412.4,240.6 L411.9,242.5 L411.8,244.2 L412.2,245.7 L413.1,247.0 L414.4,248.2 L415.9,249.4 L417.5,250.8 L419.6,252.4 L422.2,254.2 L424.9,256.0 L427.3,257.7 L429.1,259.0 L430.4,260.0 L431.4,260.7 L432.0,261.3 L431.8,261.8 L430.7,262.3 L429.0,262.9 L426.7,263.5 L423.5,264.0 L419.0,264.5 L412.6,264.8 L403.6,265.0 L392.3,265.2 L379.9,265.2 L367.6,265.1 L356.6,264.8 L347.3,264.2 L338.9,263.5 L330.8,262.6 L322.6,261.6 L313.8,260.7 L304.1,259.7 L293.7,258.7 L283.3,257.7 L273.3,256.7 L264.4,255.7 L256.4,254.8 L248.9,254.0 L242.2,253.2 L236.3,252.4 L231.5,251.6 L227.9,250.9 L225.4,250.1 L223.7,249.4 L222.6,248.8 L221.6,248.3"/>
<path d="M224.9,137.2 L225.5,135.1 L226.2,134.1 L227.0,133.8 L227.9,134.0 L229.0,134.2 L229.9,134.6 L230.6,135.4 L231.6,136.5 L233.3,137.7 L236.4,138.8 L241.3,139.9 L247.7,141.2 L254.7,142.5 L261.7,143.6 L267.7,144.6 L272.7,145.3 L277.1,145.9 L281.3,146.4 L285.2,146.8 L289.1,147.0 L293.0,147.1 L296.7,147.0 L300.4,146.9 L303.9,146.8 L307.2,147.0 L310.3,147.6 L313.2,148.5 L316.0,149.5 L318.9,150.4 L322.0,151.2 L325.7,151.6 L329.8,151.9 L333.8,152.1 L337.4,152.5 L340.2,153.3 L341.7,154.6 L342.3,156.2 L342.5,158.0 L342.7,160.0 L343.4,161.9 L344.6,163.8 L345.9,165.8 L347.4,167.9 L349.3,169.9 L351.7,171.7 L354.8,173.5 L358.6,175.2 L362.7,176.8 L366.5,178.4 L369.8,180.0 L372.3,181.6 L374.5,183.0 L376.4,184.6 L378.0,186.3 L379.7,188.2 L381.3,190.6 L382.9,193.3 L384.4,196.1 L385.5,198.9 L386.3,201.4 L386.6,203.6 L386.7,205.6 L386.4,207.5 L385.7,209.3 L384.6,211.3 L383.0,213.2 L380.9,215.2 L378.5,217.2 L375.9,219.2 L373.1,221.2 L370.1,223.2 L366.9,225.3 L363.4,227.3 L360.0,229.3 L356.6,231.0 L353.4,232.6 L350.3,234.1 L347.1,235.4 L343.8,236.6 L340.2,237.6 L336.1,238.5 L331.7,239.3 L327.2,240.0 L322.8,240.5 L318.7,240.9 L315.5,241.1 L312.8,241.1 L310.2,241.0 L306.9,240.8 L302.3,240.6 L295.9,240.2 L288.2,239.8 L279.9,239.2 L271.7,238.8 L264.4,238.4 L257.8,238.3 L251.5,238.2 L245.6,238.2 L240.5,238.3 L236.4,238.4 L233.7,238.8 L232.2,239.5 L231.3,240.1 L230.7,240.4 L229.8,240.1 L228.7,239.1 L227.6,237.7 L226.6,235.9 L225.7,233.7 L224.9,231.0 L224.2,228.2 L223.6,225.3 L223.0,221.8 L222.7,217.3 L222.4,211.3 L222.4,202.9 L222.5,192.5 L222.7,181.3 L223.0,170.6 L223.2,161.9 L223.5,155.0 L223.7,149.2 L224.0,144.3 L224.4,140.3Z"/>
<path d="M226.5,161.9 L226.9,160.9 L227.4,159.8 L228.0,158.8 L228.8,158.1 L229.8,157.8 L230.8,157.9 L231.7,158.3 L233.0,159.0 L235.0,160.0 L238.1,161.0 L242.8,162.4 L248.8,164.0 L255.5,165.8 L262.1,167.6 L267.7,169.3 L272.3,170.8 L276.3,172.3 L280.0,173.8 L283.7,175.3 L287.5,176.7 L291.5,178.1 L295.7,179.4 L299.8,180.7 L303.7,182.0 L307.2,183.3 L310.4,184.5 L313.2,185.6 L315.8,186.8 L318.2,187.9 L320.4,189.0 L322.4,190.2 L324.3,191.3 L325.9,192.4 L327.4,193.5 L328.6,194.8 L329.7,196.2 L330.7,197.6 L331.4,199.2 L331.9,200.7 L331.9,202.2 L331.5,203.7 L330.8,205.1 L329.7,206.6 L328.4,208.1 L327.0,209.6 L325.4,211.3 L323.5,213.0 L321.5,214.8 L319.4,216.4 L317.1,217.9 L314.7,219.1 L312.1,220.1 L309.5,221.1 L306.7,222.0 L303.9,222.8 L301.1,223.6 L298.2,224.4 L295.2,225.0 L292.2,225.6 L289.1,226.1 L286.0,226.4 L283.0,226.6 L279.9,226.7 L276.5,226.8 L272.6,226.9 L268.1,227.1 L263.0,227.2 L257.6,227.3 L252.5,227.5 L247.9,227.7 L243.9,228.3 L240.2,229.2 L236.8,230.0 L233.8,230.4 L231.5,230.2 L229.8,229.4 L228.9,228.2 L228.3,226.6 L227.9,224.3 L227.4,221.2 L226.7,217.0 L226.1,211.9 L225.6,206.3 L225.1,200.5 L224.9,194.8 L224.8,188.9 L225.0,182.6 L225.2,176.4 L225.5,171.0 L225.7,166.8 L225.8,164.3 L225.9,163.1 L226.0,162.7 L226.2,162.4Z"/>
<path d="M228.2,176.7 L228.5,175.6 L228.7,174.9 L229.1,174.6 L229.7,174.5 L230.6,174.7 L232.0,175.2 L233.7,176.0 L235.6,177.0 L237.6,178.1 L239.7,179.2 L241.8,180.1 L244.1,181.0 L246.4,182.0 L248.8,183.0 L251.2,184.1 L253.9,185.4 L256.8,186.7 L259.6,188.2 L262.3,189.5 L264.4,190.7 L265.9,191.7 L267.0,192.5 L267.9,193.2 L268.6,194.0 L269.3,194.8 L270.2,195.7 L271.0,196.7 L271.7,197.7 L272.3,198.7 L272.6,199.7 L272.8,200.9 L272.8,202.1 L272.7,203.3 L272.4,204.4 L271.8,205.5 L271.0,206.4 L270.0,207.3 L268.8,208.1 L267.4,208.9 L266.0,209.6 L264.6,210.4 L263.0,211.1 L261.3,211.8 L259.6,212.4 L257.8,212.9 L255.9,213.4 L253.9,213.7 L251.8,214.0 L249.8,214.3 L247.9,214.6 L246.2,214.9 L244.6,215.2 L243.0,215.5 L241.4,215.8 L239.7,216.2 L237.7,216.9 L235.5,217.8 L233.3,218.7 L231.3,219.3 L229.8,219.2 L229.0,218.5 L228.5,217.5 L228.4,216.0 L228.3,214.0 L228.2,211.3 L227.9,207.4 L227.7,202.6 L227.5,197.3 L227.4,192.3 L227.4,188.2 L227.4,185.0 L227.5,182.3 L227.6,180.1 L227.9,178.2Z"/>
</g>
<rect x="217" y="124" width="3" height="145" fill="#000"/>
<rect x="217" y="300" width="4" height="155" fill="#000"/>
<rect x="217" y="99" width="435.5" height="428" fill="none" stroke="#000" stroke-width="1.5"/>
</g>
<g stroke="#000" stroke-width="1.3" fill="none" shape-rendering="crispEdges">
<path d="M215.5,96.5 V531.25 H654.5"/>
<path d="M215.5,531.2 h4.4"/>
<path d="M215.5,476.9 h4.4"/>
<path d="M215.5,422.6 h4.4"/>
<path d="M215.5,368.2 h4.4"/>
<path d="M215.5,313.9 h4.4"/>
<path d="M215.5,259.5 h4.4"/>
<path d="M215.5,205.2 h4.4"/>
<path d="M215.5,150.8 h4.4"/>
<path d="M215.5,96.5 h4.4"/>
<path d="M215.5,531.25 v-4.4"/>
<path d="M288.7,531.25 v-4.4"/>
<path d="M361.8,531.25 v-4.4"/>
<path d="M435.0,531.25 v-4.4"/>
<path d="M508.2,531.25 v-4.4"/>
<path d="M581.3,531.25 v-4.4"/>
<path d="M654.5,531.25 v-4.4"/>
</g>
<text x="208.0" y="541.5" text-anchor="end" font-size="21.5" >15</text>
<text x="208.0" y="487.2" text-anchor="end" font-size="21.5" >20</text>
<text x="208.0" y="432.9" text-anchor="end" font-size="21.5" >25</text>
<text x="208.0" y="378.5" text-anchor="end" font-size="21.5" >30</text>
<text x="208.0" y="324.2" text-anchor="end" font-size="21.5" >35</text>
<text x="208.0" y="269.8" text-anchor="end" font-size="21.5" >40</text>
<text x="208.0" y="215.5" text-anchor="end" font-size="21.5" >45</text>
<text x="208.0" y="161.1" text-anchor="end" font-size="21.5" >50</text>
<text x="208.0" y="106.8" text-anchor="end" font-size="21.5" >55</text>
<text x="215.5" y="562.8" text-anchor="middle" font-size="21.5" >0</text>
<text x="288.7" y="562.8" text-anchor="middle" font-size="21.5" >10</text>
<text x="361.8" y="562.8" text-anchor="middle" font-size="21.5" >20</text>
<text x="435.0" y="562.8" text-anchor="middle" font-size="21.5" >30</text>
<text x="508.2" y="562.8" text-anchor="middle" font-size="21.5" >40</text>
<text x="581.3" y="562.8" text-anchor="middle" font-size="21.5" >50</text>
<text x="654.5" y="562.8" text-anchor="middle" font-size="21.5" >60</text>
<text x="435.0" y="593.5" text-anchor="middle" font-size="21.5" >LONGITUDE (E)</text>
<text transform="translate(170.0,315.375) rotate(-90)" text-anchor="middle" font-size="21.5">LATITUDE (N)</text>
<text x="434.0" y="76.7" text-anchor="middle" font-size="21.5" textLength="506" lengthAdjust="spacingAndGlyphs" >HYCOM expt_98.9 - MEAN (MEAN y51-y100) - SSH</text>
<rect x="687.3" y="526.49" width="42.40" height="7.11" fill="#00008f"/>
<rect x="687.3" y="519.67" width="42.40" height="7.11" fill="#00009f"/>
<rect x="687.3" y="512.86" width="42.40" height="7.11" fill="#0000af"/>
<rect x="687.3" y="506.04" width="42.40" height="7.11" fill="#0000bf"/>
<rect x="687.3" y="499.23" width="42.40" height="7.11" fill="#0000cf"/>
<rect x="687.3" y="492.42" width="42.40" height="7.11" fill="#0000df"/>
<rect x="687.3" y="485.60" width="42.40" height="7.11" fill="#0000ef"/>
<rect x="687.3" y="478.79" width="42.40" height="7.11" fill="#0000ff"/>
<rect x="687.3" y="471.97" width="42.40" height="7.11" fill="#0010ff"/>
<rect x="687.3" y="465.16" width="42.40" height="7.11" fill="#0020ff"/>
<rect x="687.3" y="458.35" width="42.40" height="7.11" fill="#0030ff"/>
<rect x="687.3" y="451.53" width="42.40" height="7.11" fill="#0040ff"/>
<rect x="687.3" y="444.72" width="42.40" height="7.11" fill="#0050ff"/>
<rect x="687.3" y="437.90" width="42.40" height="7.11" fill="#0060ff"/>
<rect x="687.3" y="431.09" width="42.40" height="7.11" fill="#0070ff"/>
<rect x="687.3" y="424.27" width="42.40" height="7.11" fill="#0080ff"/>
<rect x="687.3" y="417.46" width="42.40" height="7.11" fill="#008fff"/>
<rect x="687.3" y="410.65" width="42.40" height="7.11" fill="#009fff"/>
<rect x="687.3" y="403.83" width="42.40" height="7.11" fill="#00afff"/>
<rect x="687.3" y="397.02" width="42.40" height="7.11" fill="#00bfff"/>
<rect x="687.3" y="390.20" width="42.40" height="7.11" fill="#00cfff"/>
<rect x="687.3" y="383.39" width="42.40" height="7.11" fill="#00dfff"/>
<rect x="687.3" y="376.58" width="42.40" height="7.11" fill="#00efff"/>
<rect x="687.3" y="369.76" width="42.40" height="7.11" fill="#00ffff"/>
<rect x="687.3" y="362.95" width="42.40" height="7.11" fill="#10ffef"/>
<rect x="687.3" y="356.13" width="42.40" height="7.11" fill="#20ffdf"/>
<rect x="687.3" y="349.32" width="42.40" height="7.11" fill="#30ffcf"/>
<rect x="687.3" y="342.51" width="42.40" height="7.11" fill="#40ffbf"/>
<rect x="687.3" y="335.69" width="42.40" height="7.11" fill="#50ffaf"/>
<rect x="687.3" y="328.88" width="42.40" height="7.11" fill="#60ff9f"/>
<rect x="687.3" y="322.06" width="42.40" height="7.11" fill="#70ff8f"/>
<rect x="687.3" y="315.25" width="42.40" height="7.11" fill="#80ff80"/>
<rect x="687.3" y="308.44" width="42.40" height="7.11" fill="#8fff70"/>
<rect x="687.3" y="301.62" width="42.40" height="7.11" fill="#9fff60"/>
<rect x="687.3" y="294.81" width="42.40" height="7.11" fill="#afff50"/>
<rect x="687.3" y="287.99" width="42.40" height="7.11" fill="#bfff40"/>
<rect x="687.3" y="281.18" width="42.40" height="7.11" fill="#cfff30"/>
<rect x="687.3" y="274.37" width="42.40" height="7.11" fill="#dfff20"/>
<rect x="687.3" y="267.55" width="42.40" height="7.11" fill="#efff10"/>
<rect x="687.3" y="260.74" width="42.40" height="7.11" fill="#ffff00"/>
<rect x="687.3" y="253.92" width="42.40" height="7.11" fill="#ffef00"/>
<rect x="687.3" y="247.11" width="42.40" height="7.11" fill="#ffdf00"/>
<rect x="687.3" y="240.30" width="42.40" height="7.11" fill="#ffcf00"/>
<rect x="687.3" y="233.48" width="42.40" height="7.11" fill="#ffbf00"/>
<rect x="687.3" y="226.67" width="42.40" height="7.11" fill="#ffaf00"/>
<rect x="687.3" y="219.85" width="42.40" height="7.11" fill="#ff9f00"/>
<rect x="687.3" y="213.04" width="42.40" height="7.11" fill="#ff8f00"/>
<rect x="687.3" y="206.22" width="42.40" height="7.11" fill="#ff8000"/>
<rect x="687.3" y="199.41" width="42.40" height="7.11" fill="#ff7000"/>
<rect x="687.3" y="192.60" width="42.40" height="7.11" fill="#ff6000"/>
<rect x="687.3" y="185.78" width="42.40" height="7.11" fill="#ff5000"/>
<rect x="687.3" y="178.97" width="42.40" height="7.11" fill="#ff4000"/>
<rect x="687.3" y="172.15" width="42.40" height="7.11" fill="#ff3000"/>
<rect x="687.3" y="165.34" width="42.40" height="7.11" fill="#ff2000"/>
<rect x="687.3" y="158.53" width="42.40" height="7.11" fill="#ff1000"/>
<rect x="687.3" y="151.71" width="42.40" height="7.11" fill="#ff0000"/>
<rect x="687.3" y="144.90" width="42.40" height="7.11" fill="#ef0000"/>
<rect x="687.3" y="138.08" width="42.40" height="7.11" fill="#df0000"/>
<rect x="687.3" y="131.27" width="42.40" height="7.11" fill="#cf0000"/>
<rect x="687.3" y="124.46" width="42.40" height="7.11" fill="#bf0000"/>
<rect x="687.3" y="117.64" width="42.40" height="7.11" fill="#af0000"/>
<rect x="687.3" y="110.83" width="42.40" height="7.11" fill="#9f0000"/>
<rect x="687.3" y="104.01" width="42.40" height="7.11" fill="#8f0000"/>
<rect x="687.3" y="97.20" width="42.40" height="7.11" fill="#800000"/>
<rect x="687.3" y="97.2" width="42.40" height="436.10" fill="none" stroke="#000" stroke-width="1.3"/>
<g stroke="#000" stroke-width="1.3" shape-rendering="crispEdges">
<path d="M687.3,506.4 h4.3 M729.7,506.4 h-4.3"/>
<path d="M687.3,411.9 h4.3 M729.7,411.9 h-4.3"/>
<path d="M687.3,317.4 h4.3 M729.7,317.4 h-4.3"/>
<path d="M687.3,222.9 h4.3 M729.7,222.9 h-4.3"/>
<path d="M687.3,128.4 h4.3 M729.7,128.4 h-4.3"/>
</g>
<text x="735.7" y="516.9" text-anchor="start" font-size="21.5" >-0.4</text>
<text x="735.7" y="422.4" text-anchor="start" font-size="21.5" >-0.2</text>
<text x="735.7" y="327.9" text-anchor="start" font-size="21.5" >0</text>
<text x="735.7" y="233.4" text-anchor="start" font-size="21.5" >0.2</text>
<text x="735.7" y="138.9" text-anchor="start" font-size="21.5" >0.4</text>
<text x="765.5" y="337.8" text-anchor="start" font-size="21.5" >(M)</text>
<clipPath id="clip1"><path d="M943.7,273.3 L955.7,269.6 L959.7,271.3 L962.3,276.7 L966.3,275.7 L974.3,276.3 L990.3,277.6 L1007.7,278.7 L1027.7,280.7 L1043.7,284.7 L1046.3,288.0 L1034.3,294.7 L1025.0,300.0 L1023.7,302.7 L1031.7,306.7 L1047.7,310.0 L1074.3,312.0 L1101.0,314.7 L1127.7,313.3 L1161.0,312.7 L1194.0,308.0 L1236.7,306.0 L1270.0,306.0 L1280.7,301.3 L1287.3,303.3 L1296.7,310.7 L1310.0,320.0 L1322.0,332.0 L1330.0,342.7 L1334.0,360.0 L1336.7,377.3 L1342.0,390.7 L1348.7,404.0 L1350.0,420.0 L1344.7,428.0 L1336.7,440.0 L1330.0,449.0 L1311.6,471.4 L1294.3,493.9 L1300.4,505.1 L1311.0,527.5 L1311.0,531.0 L940.0,531.0 L940.0,273.0Z"/></clipPath>
<g clip-path="url(#clip1)">
<path d="M953.0,271.0 954.0,270.0 957.0,270.0 958.0,271.0 959.0,271.0 960.0,272.0 960.0,273.0 961.0,274.0 962.0,277.0 963.0,277.0 964.0,276.0 976.0,276.0 977.0,277.0 988.0,277.0 989.0,278.0 1004.0,278.0 1005.0,279.0 1015.0,279.0 1016.0,280.0 1025.0,280.0 1026.0,281.0 1030.0,281.0 1031.0,282.0 1034.0,282.0 1035.0,283.0 1038.0,283.0 1039.0,284.0 1042.0,284.0 1045.0,287.0 1045.0,288.0 1044.0,289.0 1043.0,289.0 1041.0,291.0 1040.0,291.0 1039.0,292.0 1038.0,292.0 1037.0,293.0 1034.0,294.0 1032.0,296.0 1031.0,296.0 1030.0,297.0 1029.0,297.0 1028.0,298.0 1025.0,299.0 1025.0,300.0 1024.0,301.0 1024.0,303.0 1025.0,303.0 1027.0,305.0 1029.0,305.0 1032.0,307.0 1036.0,307.0 1037.0,308.0 1040.0,308.0 1041.0,309.0 1045.0,309.0 1046.0,310.0 1054.0,310.0 1055.0,311.0 1067.0,311.0 1068.0,312.0 1079.0,312.0 1080.0,313.0 1089.0,313.0 1090.0,314.0 1099.0,314.0 1100.0,315.0 1104.0,315.0 1105.0,314.0 1125.0,314.0 1126.0,313.0 1163.0,313.0 1164.0,312.0 1169.0,312.0 1170.0,311.0 1177.0,311.0 1178.0,310.0 1183.0,310.0 1184.0,309.0 1191.0,309.0 1192.0,308.0 1205.0,308.0 1206.0,307.0 1226.0,307.0 1227.0,306.0 1271.0,306.0 1272.0,305.0 1274.0,305.0 1279.0,302.0 1284.0,302.0 1285.0,303.0 1287.0,303.0 1290.0,306.0 1291.0,306.0 1295.0,310.0 1296.0,310.0 1298.0,312.0 1301.0,313.0 1301.0,314.0 1302.0,314.0 1305.0,317.0 1306.0,317.0 1308.0,319.0 1309.0,319.0 1320.0,330.0 1321.0,330.0 1321.0,331.0 1323.0,333.0 1323.0,334.0 1326.0,337.0 1326.0,338.0 1329.0,341.0 1329.0,342.0 1330.0,343.0 1330.0,345.0 1331.0,346.0 1331.0,349.0 1332.0,350.0 1332.0,353.0 1333.0,354.0 1333.0,358.0 1334.0,359.0 1334.0,363.0 1335.0,364.0 1335.0,369.0 1336.0,370.0 1336.0,376.0 1337.0,377.0 1337.0,379.0 1338.0,380.0 1338.0,382.0 1340.0,385.0 1340.0,387.0 1342.0,390.0 1342.0,392.0 1343.0,393.0 1343.0,394.0 1344.0,395.0 1344.0,396.0 1345.0,397.0 1345.0,398.0 1346.0,399.0 1346.0,400.0 1349.0,405.0 1349.0,414.0 1350.0,415.0 1350.0,421.0 1347.0,423.0 1346.0,426.0 1343.0,429.0 1342.0,432.0 1339.0,435.0 1338.0,438.0 1335.0,441.0 1335.0,442.0 1332.0,445.0 1332.0,446.0 1328.0,450.0 1328.0,451.0 1323.0,456.0 1323.0,457.0 1319.0,461.0 1319.0,462.0 1314.0,467.0 1314.0,468.0 1310.0,472.0 1310.0,473.0 1307.0,476.0 1307.0,477.0 1304.0,480.0 1304.0,481.0 1300.0,485.0 1300.0,486.0 1294.0,493.0 1294.0,494.0 1295.0,495.0 1295.0,496.0 1296.0,497.0 1297.0,500.0 1299.0,502.0 1299.0,503.0 1300.0,504.0 1300.0,505.0 1303.0,510.0 1303.0,512.0 1304.0,513.0 1304.0,514.0 1305.0,515.0 1305.0,516.0 1306.0,517.0 1306.0,518.0 1307.0,519.0 1307.0,520.0 1308.0,521.0 1308.0,522.0 1311.0,527.0 943.0,527.0 943.0,273.0 947.0,273.0 948.0,272.0 950.0,272.0 951.0,271.0 953.0,271.0Z" fill="#0000af" fill-rule="evenodd"/>
<path d="M953.0,275.0 954.0,274.0 955.0,275.0 955.0,277.0 956.0,278.0 956.0,279.0 959.0,282.0 960.0,282.0 960.0,283.0 964.0,283.0 965.0,282.0 969.0,282.0 970.0,281.0 979.0,281.0 980.0,282.0 986.0,282.0 987.0,283.0 991.0,283.0 992.0,284.0 996.0,284.0 997.0,285.0 1001.0,285.0 1002.0,286.0 1006.0,286.0 1007.0,287.0 1011.0,287.0 1013.0,289.0 1009.0,294.0 1009.0,300.0 1008.0,301.0 1008.0,303.0 1009.0,303.0 1010.0,304.0 1012.0,304.0 1015.0,306.0 1017.0,306.0 1018.0,307.0 1022.0,307.0 1023.0,308.0 1027.0,308.0 1028.0,309.0 1032.0,309.0 1033.0,310.0 1036.0,310.0 1037.0,311.0 1041.0,311.0 1042.0,312.0 1046.0,312.0 1047.0,313.0 1054.0,313.0 1055.0,314.0 1061.0,314.0 1062.0,315.0 1069.0,315.0 1070.0,316.0 1084.0,316.0 1085.0,317.0 1163.0,317.0 1164.0,316.0 1173.0,316.0 1174.0,315.0 1183.0,315.0 1184.0,314.0 1193.0,314.0 1194.0,313.0 1207.0,313.0 1208.0,312.0 1224.0,312.0 1225.0,311.0 1271.0,311.0 1274.0,309.0 1277.0,309.0 1280.0,307.0 1282.0,307.0 1283.0,308.0 1286.0,309.0 1291.0,313.0 1292.0,313.0 1293.0,314.0 1294.0,314.0 1296.0,316.0 1297.0,316.0 1301.0,320.0 1302.0,320.0 1306.0,324.0 1307.0,324.0 1321.0,339.0 1321.0,341.0 1322.0,342.0 1322.0,344.0 1324.0,347.0 1324.0,349.0 1325.0,350.0 1325.0,352.0 1326.0,353.0 1326.0,357.0 1327.0,358.0 1327.0,364.0 1328.0,365.0 1328.0,372.0 1329.0,373.0 1329.0,376.0 1331.0,379.0 1331.0,382.0 1333.0,385.0 1333.0,388.0 1335.0,391.0 1335.0,393.0 1336.0,394.0 1336.0,396.0 1338.0,399.0 1338.0,401.0 1339.0,402.0 1339.0,404.0 1340.0,405.0 1340.0,406.0 1341.0,407.0 1344.0,408.0 1344.0,409.0 1345.0,409.0 1347.0,411.0 1347.0,417.0 1346.0,418.0 1346.0,419.0 1344.0,421.0 1344.0,422.0 1342.0,424.0 1342.0,425.0 1341.0,426.0 1341.0,427.0 1339.0,429.0 1339.0,430.0 1336.0,433.0 1336.0,434.0 1335.0,434.0 1335.0,435.0 1333.0,437.0 1333.0,438.0 1330.0,441.0 1330.0,442.0 1320.0,452.0 1320.0,454.0 1319.0,455.0 1318.0,455.0 1316.0,457.0 1316.0,458.0 1311.0,463.0 1311.0,464.0 1308.0,467.0 1308.0,468.0 1304.0,472.0 1304.0,473.0 1301.0,476.0 1301.0,477.0 1295.0,483.0 1295.0,484.0 1291.0,488.0 1291.0,489.0 1290.0,490.0 1289.0,490.0 1286.0,493.0 1286.0,494.0 1285.0,495.0 1285.0,497.0 1284.0,498.0 1284.0,501.0 1283.0,502.0 1283.0,508.0 1284.0,509.0 1284.0,511.0 1285.0,512.0 1285.0,515.0 1286.0,516.0 1286.0,518.0 1288.0,520.0 1289.0,520.0 1296.0,527.0 943.0,527.0 943.0,280.8 943.9,280.0 944.4,278.0 944.0,277.0 947.0,277.0 948.0,276.0 950.0,276.0 951.0,275.0 953.0,275.0Z" fill="#0000df" fill-rule="evenodd"/>
<path d="M944.8,286.0 952.0,285.5 962.0,287.3 977.0,287.9 988.0,289.8 994.0,291.7 999.0,294.3 1002.0,297.1 1007.0,304.4 1015.0,308.0 1047.0,314.4 1071.0,317.3 1088.0,318.2 1161.0,318.0 1196.0,314.7 1228.0,313.2 1268.0,313.3 1279.0,312.4 1284.0,313.2 1294.0,318.3 1305.6,327.0 1310.7,332.0 1317.9,341.0 1323.3,354.0 1326.8,372.0 1329.8,382.0 1339.3,406.0 1342.8,409.0 1344.3,411.0 1344.6,413.0 1344.1,416.0 1338.5,427.0 1330.7,438.0 1298.0,476.5 1285.0,491.0 1283.0,494.0 1279.6,502.0 1278.5,509.0 1279.1,518.0 1281.6,527.0 943.0,527.0 943.0,286.2 944.8,286.0Z" fill="#0010ff" fill-rule="evenodd"/>
<path d="M946.9,292.0 950.0,291.3 955.0,291.4 983.0,295.0 994.0,298.6 998.0,300.8 1006.4,307.0 1015.0,310.3 1042.0,315.2 1072.0,318.7 1089.0,319.3 1160.0,319.0 1197.0,316.1 1230.0,315.2 1276.0,315.7 1283.0,316.7 1292.0,320.6 1302.0,327.6 1309.0,334.2 1315.8,343.0 1318.9,349.0 1321.2,355.0 1326.4,376.0 1329.1,384.0 1338.4,406.0 1340.0,408.2 1342.7,410.0 1342.4,414.0 1339.7,421.0 1336.6,427.0 1329.0,437.7 1308.0,462.2 1283.6,489.0 1277.9,497.0 1274.7,503.0 1272.7,509.0 1270.0,527.0 943.0,527.0 943.0,294.2 946.9,292.0Z" fill="#0040ff" fill-rule="evenodd"/>
<path d="M946.8,296.0 954.0,296.1 985.0,301.3 994.0,304.2 1008.0,310.6 1019.0,313.5 1048.0,317.7 1074.0,320.2 1144.0,320.5 1172.0,319.4 1197.0,317.6 1230.0,317.2 1272.0,318.3 1283.0,320.0 1292.0,323.9 1300.8,330.0 1308.0,337.0 1314.0,345.0 1317.0,350.5 1319.6,357.0 1328.0,385.0 1337.1,405.0 1341.0,411.0 1341.0,412.0 1339.0,415.0 1339.0,417.0 1338.0,418.0 1338.0,420.0 1337.0,421.0 1337.0,422.0 1336.0,423.0 1335.0,426.0 1332.0,429.0 1331.0,432.0 1330.0,433.0 1329.0,433.0 1328.0,436.0 1327.0,437.0 1326.0,437.0 1326.0,438.0 1322.0,442.0 1322.0,443.0 1317.0,448.0 1317.0,449.0 1309.0,457.0 1309.0,458.0 1291.0,476.0 1291.0,477.0 1279.0,489.0 1279.0,490.0 1270.0,499.0 1269.0,502.0 1267.0,504.0 1267.0,505.0 1265.0,507.0 1265.0,508.0 1263.0,511.0 1263.0,514.0 1262.0,515.0 1262.0,520.0 1261.0,521.0 1261.0,527.0 943.0,527.0 943.0,296.4 946.8,296.0Z" fill="#0070ff" fill-rule="evenodd"/>
<path d="M943.0,300.0 943.0,299.2 949.0,299.4 964.0,303.4 985.0,306.7 993.0,308.7 1009.0,313.6 1021.0,316.0 1049.0,319.4 1075.0,321.8 1144.0,321.6 1196.0,319.1 1230.0,319.1 1267.0,320.5 1276.0,321.4 1282.0,322.7 1290.0,325.9 1299.3,332.0 1306.3,339.0 1313.0,348.0 1318.5,360.0 1326.4,385.0 1338.7,410.0 1338.5,413.0 1335.8,420.0 1332.7,426.0 1326.9,434.0 1314.7,449.0 1306.7,458.0 1292.0,472.4 1269.3,496.0 1262.6,504.0 1258.1,511.0 1252.4,526.0 1251.0,527.0 943.0,527.0 943.0,300.0Z" fill="#009fff" fill-rule="evenodd"/>
<path d="M945.6,302.0 949.0,302.6 958.0,307.8 964.0,309.6 991.0,312.7 1023.0,318.6 1075.0,323.3 1088.0,322.8 1145.0,322.8 1151.0,322.1 1175.0,321.7 1181.0,320.9 1202.0,320.5 1209.0,321.1 1231.0,321.1 1239.0,321.7 1258.0,322.0 1273.0,323.6 1283.0,325.7 1291.0,329.4 1298.0,334.0 1303.9,340.0 1311.6,350.0 1315.2,357.0 1319.0,366.6 1325.1,386.0 1337.7,410.0 1337.1,413.0 1333.6,421.0 1329.7,428.0 1312.8,449.0 1307.0,455.7 1256.0,505.0 1248.4,515.0 1245.6,520.0 1243.0,526.3 1242.0,527.0 943.0,527.0 943.0,302.2 945.6,302.0Z" fill="#00cfff" fill-rule="evenodd"/>
<path d="M945.6,306.0 947.0,305.0 948.0,306.0 949.0,309.0 952.0,312.0 953.0,315.0 954.0,316.0 956.0,316.0 957.0,317.0 969.0,317.0 970.0,316.0 981.0,316.0 982.0,317.0 995.0,317.0 996.0,318.0 1003.0,318.0 1004.0,319.0 1011.0,319.0 1012.0,320.0 1019.0,320.0 1020.0,321.0 1031.0,321.0 1032.0,322.0 1045.0,322.0 1046.0,323.0 1058.0,323.0 1059.0,324.0 1071.0,324.0 1072.0,325.0 1085.0,325.0 1086.0,324.0 1150.0,324.0 1151.0,323.0 1179.0,323.0 1180.0,322.0 1204.0,322.0 1205.0,323.0 1233.0,323.0 1234.0,324.0 1258.0,324.0 1259.0,325.0 1267.0,325.0 1268.0,326.0 1272.0,326.0 1273.0,327.0 1277.0,327.0 1278.0,328.0 1282.0,328.0 1283.0,329.0 1284.0,329.0 1285.0,330.0 1286.0,330.0 1287.0,331.0 1290.0,332.0 1292.0,334.0 1295.0,335.0 1298.0,338.0 1299.0,338.0 1300.0,339.0 1300.0,341.0 1301.0,341.0 1302.0,342.0 1302.0,343.0 1305.0,346.0 1305.0,347.0 1306.0,347.0 1307.0,348.0 1307.0,349.0 1310.0,352.0 1310.0,353.0 1311.0,354.0 1311.0,355.0 1312.0,356.0 1312.0,357.0 1315.0,362.0 1315.0,364.0 1318.0,369.0 1318.0,371.0 1319.0,372.0 1319.0,374.0 1320.0,375.0 1320.0,377.0 1321.0,378.0 1321.0,380.0 1322.0,381.0 1322.0,384.0 1323.0,385.0 1323.0,387.0 1324.0,388.0 1324.0,389.0 1326.0,391.0 1326.0,392.0 1327.0,393.0 1328.0,396.0 1330.0,398.0 1330.0,399.0 1331.0,400.0 1332.0,403.0 1334.0,405.0 1334.0,406.0 1336.0,409.0 1336.0,412.0 1335.0,413.0 1335.0,414.0 1334.0,415.0 1334.0,416.0 1331.0,421.0 1331.0,423.0 1329.0,425.0 1329.0,426.0 1327.0,428.0 1327.0,429.0 1325.0,431.0 1324.0,431.0 1324.0,432.0 1321.0,435.0 1321.0,436.0 1316.0,441.0 1316.0,442.0 1314.0,444.0 1314.0,445.0 1313.0,446.0 1312.0,446.0 1312.0,447.0 1310.0,449.0 1310.0,450.0 1305.0,455.0 1304.0,455.0 1302.0,457.0 1302.0,458.0 1299.0,460.0 1299.0,461.0 1298.0,462.0 1297.0,462.0 1293.0,466.0 1292.0,466.0 1272.0,486.0 1271.0,486.0 1266.0,491.0 1265.0,491.0 1262.0,494.0 1261.0,494.0 1259.0,496.0 1258.0,496.0 1255.0,499.0 1254.0,499.0 1251.0,502.0 1250.0,502.0 1246.0,506.0 1245.0,506.0 1242.0,509.0 1241.0,509.0 1241.0,510.0 1240.0,511.0 1239.0,511.0 1236.0,514.0 1235.0,514.0 1235.0,515.0 1234.0,516.0 1234.0,518.0 1232.0,521.0 1232.0,524.0 1231.0,525.0 1231.0,527.0 943.0,527.0 943.0,306.5 945.6,306.0Z" fill="#00ffff" fill-rule="evenodd"/>
<path d="M943.0,312.0 947.0,313.1 953.0,317.3 957.0,318.4 976.0,318.2 1021.0,323.1 1043.0,324.2 1073.0,326.4 1090.0,325.9 1148.0,326.5 1171.0,325.9 1182.0,324.6 1192.0,324.5 1265.0,328.1 1280.0,330.5 1288.0,333.8 1297.0,338.6 1310.0,354.0 1316.0,368.0 1323.0,389.0 1333.3,407.0 1334.1,409.0 1334.3,411.0 1331.1,420.0 1328.9,424.0 1305.0,453.3 1273.0,482.3 1262.0,491.1 1232.7,512.0 1225.8,520.0 1223.6,524.0 1222.8,527.0 943.0,527.0 943.0,312.0Z" fill="#30ffcf" fill-rule="evenodd"/>
<path d="M943.0,316.0 943.0,315.0 950.0,318.5 955.0,319.8 973.0,320.1 994.0,323.0 1012.0,324.8 1060.0,327.4 1150.0,329.2 1172.0,328.8 1175.9,328.0 1177.0,327.0 1193.0,327.0 1194.0,328.0 1213.0,328.0 1214.0,329.0 1224.0,329.0 1225.0,330.0 1249.0,330.0 1250.0,331.0 1269.0,331.0 1270.0,332.0 1277.0,332.0 1278.0,333.0 1280.0,333.0 1283.0,335.0 1285.0,335.0 1288.0,337.0 1290.0,337.0 1293.0,339.0 1295.0,339.0 1300.0,344.0 1300.0,345.0 1301.0,345.0 1302.0,346.0 1302.0,347.0 1305.0,350.0 1305.0,351.0 1306.0,351.0 1307.0,352.0 1307.0,353.0 1308.0,353.0 1308.0,354.0 1310.0,356.0 1310.0,357.0 1311.0,358.0 1311.0,360.0 1312.0,361.0 1312.0,363.0 1314.0,366.0 1314.0,368.0 1315.0,369.0 1315.0,371.0 1316.0,372.0 1316.0,374.0 1318.0,377.0 1320.0,384.0 1321.0,385.0 1322.0,388.0 1322.0,390.0 1324.0,393.0 1324.0,395.0 1325.0,396.0 1325.0,397.0 1326.0,398.0 1327.0,398.0 1327.0,400.0 1328.0,401.0 1329.0,404.0 1330.0,405.0 1331.0,405.0 1331.0,407.0 1333.0,409.0 1333.0,410.0 1332.0,411.0 1331.7,416.0 1330.5,420.0 1328.0,424.0 1317.0,437.6 1314.0,440.0 1312.0,443.0 1304.0,451.0 1304.0,452.0 1295.0,461.0 1289.0,466.0 1288.0,467.5 1283.0,471.0 1279.0,475.0 1278.0,475.0 1275.0,478.0 1274.0,478.0 1271.0,481.0 1270.0,481.0 1261.0,489.0 1260.0,489.0 1258.0,491.0 1257.0,491.0 1255.0,493.0 1254.0,493.0 1252.0,495.0 1251.0,495.0 1249.0,497.0 1248.0,497.0 1246.0,499.0 1245.0,499.0 1240.0,503.0 1239.0,503.0 1238.0,504.0 1235.0,505.0 1233.0,507.0 1232.0,507.0 1232.0,508.0 1231.0,508.0 1230.0,509.0 1229.0,509.0 1228.0,510.0 1227.0,510.0 1226.0,511.0 1225.0,511.0 1224.0,512.0 1223.0,512.0 1222.0,513.0 1221.0,513.0 1220.0,514.0 1219.0,514.0 1218.0,515.0 1217.0,515.0 1216.0,516.0 1215.0,516.0 1214.0,517.0 1213.0,517.0 1212.0,518.0 1211.0,518.0 1210.0,519.0 1209.0,519.0 1208.0,520.0 1207.0,520.0 1206.0,521.0 1205.0,521.0 1204.0,522.0 1203.0,522.0 1202.0,523.0 1201.0,523.0 1200.0,524.0 1199.0,524.0 1198.0,525.0 1195.0,526.0 1195.0,527.0 943.0,527.0 943.0,316.0ZM1320.0,431.0 1320.0,431.0ZM1326.0,423.0 1326.0,423.0ZM1327.0,421.0 1327.0,422.0 1327.0,421.0ZM1329.0,417.0 1328.0,420.0 1329.0,419.0 1329.0,417.0ZM1330.0,415.0 1330.0,415.0Z" fill="#60ff9f" fill-rule="evenodd"/>
<path d="M943.0,320.0 953.0,321.9 962.0,320.9 970.0,321.6 993.0,325.7 1013.0,327.4 1051.0,328.3 1060.0,329.2 1087.0,329.4 1151.0,332.0 1173.0,332.2 1181.0,331.0 1196.0,331.0 1197.0,332.0 1208.0,332.0 1213.0,335.0 1215.0,335.0 1216.0,336.0 1217.0,336.0 1218.0,337.0 1220.0,337.0 1223.0,339.0 1235.0,339.0 1236.0,340.0 1247.0,340.0 1248.0,341.0 1258.0,341.0 1259.0,342.0 1267.0,342.0 1268.0,343.0 1278.0,343.0 1279.0,344.0 1284.0,344.0 1285.0,345.0 1286.0,345.0 1287.0,346.0 1288.0,346.0 1293.0,349.0 1295.0,349.0 1296.0,350.0 1297.0,350.0 1298.0,351.0 1301.0,352.0 1302.0,353.0 1302.0,354.0 1307.0,359.0 1307.0,360.0 1309.0,362.0 1310.0,362.0 1310.0,364.0 1311.0,365.0 1311.0,366.0 1312.0,367.0 1312.0,368.0 1315.0,373.0 1315.0,375.0 1317.0,378.0 1319.0,385.0 1320.0,386.0 1321.0,389.0 1321.0,391.0 1323.0,394.0 1323.0,397.0 1325.0,400.0 1325.0,403.0 1326.0,404.0 1326.0,405.0 1327.0,405.0 1328.0,406.0 1328.0,407.0 1329.0,407.0 1330.0,408.0 1330.0,409.0 1331.0,410.0 1331.0,412.0 1330.0,412.1 1329.0,413.2 1326.3,420.0 1323.0,426.0 1319.0,430.3 1313.0,439.0 1311.5,440.0 1310.9,441.0 1311.0,442.0 1303.0,450.0 1303.0,451.0 1294.0,460.0 1293.0,459.6 1290.0,461.5 1288.1,464.0 1288.0,465.0 1286.1,466.0 1286.0,467.0 1285.0,466.4 1283.0,467.7 1282.0,470.0 1278.0,474.0 1277.0,474.0 1270.0,480.0 1269.0,480.0 1267.0,482.0 1266.0,482.0 1259.0,488.0 1258.0,488.0 1256.0,490.0 1255.0,490.0 1253.0,492.0 1252.0,492.0 1251.0,493.0 1249.0,493.0 1246.0,495.0 1244.0,495.0 1243.0,496.0 1241.0,496.0 1240.0,497.0 1238.0,497.0 1237.0,498.0 1236.0,498.0 1235.0,499.0 1233.0,499.0 1230.0,501.0 1228.0,501.0 1227.0,502.0 1225.0,502.0 1220.0,505.0 1218.0,505.0 1217.0,506.0 1215.0,506.0 1214.0,507.0 1213.0,507.0 1208.0,510.0 1206.0,510.0 1205.0,511.0 1203.0,511.0 1198.0,514.0 1196.0,514.0 1195.0,515.0 1193.0,515.0 1190.0,517.0 1188.0,517.0 1187.0,518.0 1185.0,518.0 1182.0,520.0 1180.0,520.0 1179.0,521.0 1177.0,521.0 1174.0,523.0 1172.0,523.0 1171.0,524.0 1169.0,524.0 1168.0,525.0 1167.0,525.0 1166.0,526.0 1164.0,526.0 1163.0,527.0 943.0,527.0 943.0,320.0ZM1321.0,432.0 1321.0,432.0Z" fill="#8fff70" fill-rule="evenodd"/>
<path d="M958.9,323.0 963.0,322.0 966.0,323.0 969.0,323.0 972.0,324.0 974.0,324.0 975.0,325.0 978.0,325.0 979.0,326.0 982.0,326.0 983.0,327.0 986.0,327.0 987.0,328.0 990.0,328.0 991.0,329.0 1005.0,329.0 1006.0,330.0 1052.0,330.0 1053.0,331.0 1087.0,331.0 1088.0,332.0 1106.0,332.0 1107.0,333.0 1125.0,333.0 1126.0,334.0 1145.0,334.0 1146.0,335.0 1168.0,335.0 1169.0,336.0 1180.0,336.0 1182.0,338.0 1183.0,341.0 1184.0,341.0 1185.0,342.0 1185.0,344.0 1187.0,346.0 1188.0,346.0 1189.0,347.0 1191.0,347.0 1192.0,348.0 1194.0,348.0 1195.0,349.0 1202.0,349.0 1203.0,350.0 1231.0,350.0 1232.0,351.0 1257.0,351.0 1258.0,352.0 1263.0,352.0 1264.0,353.0 1269.0,353.0 1270.0,354.0 1274.0,354.0 1275.0,355.0 1280.0,355.0 1281.0,356.0 1284.0,356.0 1287.0,358.0 1289.0,358.0 1292.0,360.0 1294.0,360.0 1297.0,362.0 1299.0,362.0 1300.0,363.0 1303.0,364.0 1305.0,366.0 1305.0,367.0 1308.0,370.0 1308.0,371.0 1310.0,373.0 1310.0,374.0 1312.0,376.0 1312.0,377.0 1315.0,380.0 1315.0,381.0 1316.0,381.0 1316.0,382.0 1317.0,383.0 1317.0,385.0 1318.0,386.0 1318.0,388.0 1319.0,389.0 1319.0,391.0 1320.0,392.0 1320.0,394.0 1321.0,395.0 1321.0,397.0 1322.0,398.0 1322.0,400.0 1323.0,401.0 1323.0,403.0 1324.0,404.0 1324.0,406.0 1325.0,407.0 1325.0,413.0 1326.0,414.0 1326.0,417.0 1325.0,418.0 1325.0,419.0 1321.0,423.0 1321.0,424.0 1317.0,428.0 1317.0,429.0 1303.0,443.0 1302.0,443.0 1297.0,448.0 1297.0,449.0 1294.0,452.0 1293.0,452.0 1285.0,460.0 1284.0,460.0 1282.0,462.0 1281.0,462.0 1274.0,468.0 1273.0,468.0 1271.0,470.0 1270.0,470.0 1268.0,472.0 1267.0,472.0 1265.0,474.0 1264.0,474.0 1261.0,477.0 1260.0,477.0 1258.0,479.0 1257.0,479.0 1255.0,481.0 1254.0,481.0 1252.0,483.0 1251.0,483.0 1246.0,487.0 1244.0,487.0 1243.0,488.0 1240.0,488.0 1239.0,489.0 1237.0,489.0 1236.0,490.0 1234.0,490.0 1233.0,491.0 1231.0,491.0 1230.0,492.0 1228.0,492.0 1227.0,493.0 1225.0,493.0 1224.0,494.0 1222.0,494.0 1221.0,495.0 1219.0,495.0 1218.0,496.0 1216.0,496.0 1215.0,497.0 1213.0,497.0 1212.0,498.0 1210.0,498.0 1209.0,499.0 1207.0,499.0 1206.0,500.0 1204.0,500.0 1203.0,501.0 1201.0,501.0 1200.0,502.0 1198.0,502.0 1197.0,503.0 1195.0,503.0 1194.0,504.0 1192.0,504.0 1191.0,505.0 1188.0,505.0 1187.0,506.0 1185.0,506.0 1184.0,507.0 1182.0,507.0 1181.0,508.0 1179.0,508.0 1178.0,509.0 1176.0,509.0 1175.0,510.0 1173.0,510.0 1172.0,511.0 1170.0,511.0 1169.0,512.0 1167.0,512.0 1166.0,513.0 1163.0,513.0 1162.0,514.0 1160.0,514.0 1159.0,515.0 1157.0,515.0 1156.0,516.0 1154.0,516.0 1153.0,517.0 1151.0,517.0 1150.0,518.0 1147.0,518.0 1146.0,519.0 1144.0,519.0 1143.0,520.0 1141.0,520.0 1140.0,521.0 1137.0,521.0 1136.0,522.0 1134.0,522.0 1133.0,523.0 1131.0,523.0 1130.0,524.0 1127.0,524.0 1127.0,525.0 1124.0,525.0 1123.0,526.0 1121.0,526.0 1120.0,527.0 943.0,527.0 943.0,323.4 952.0,324.6 955.0,324.3 958.9,323.0Z" fill="#bfff40" fill-rule="evenodd"/>
<path d="M960.2,324.0 962.0,323.0 965.0,324.0 968.0,324.0 971.0,325.0 973.0,325.0 975.0,326.0 977.0,326.0 978.0,327.0 981.0,327.0 982.0,328.0 985.0,328.0 986.0,329.0 989.0,329.0 990.0,330.0 1002.0,330.0 1003.0,331.0 1043.0,331.0 1044.0,332.0 1061.0,332.0 1062.0,333.0 1079.0,333.0 1080.0,334.0 1096.0,334.0 1097.0,335.0 1113.0,335.0 1114.0,336.0 1126.0,336.0 1127.0,337.0 1138.0,337.0 1139.0,338.0 1146.0,338.0 1150.0,343.0 1150.0,349.0 1151.0,350.0 1150.0,351.0 1153.0,353.0 1157.0,353.0 1158.0,354.0 1162.0,354.0 1163.0,355.0 1167.0,355.0 1168.0,356.0 1172.0,356.0 1173.0,357.0 1181.0,357.0 1182.0,358.0 1211.0,358.0 1212.0,359.0 1226.0,359.0 1227.0,360.0 1239.0,360.0 1240.0,361.0 1250.0,361.0 1251.0,362.0 1255.0,362.0 1256.0,363.0 1260.0,363.0 1261.0,364.0 1265.0,364.0 1266.0,365.0 1270.0,365.0 1271.0,366.0 1275.0,366.0 1276.0,367.0 1277.0,367.0 1278.0,368.0 1281.0,369.0 1283.0,371.0 1284.0,371.0 1285.0,372.0 1288.0,373.0 1293.0,377.0 1294.0,377.0 1295.0,378.0 1296.0,378.0 1297.0,379.0 1298.0,379.0 1299.0,380.0 1300.0,380.0 1301.0,381.0 1302.0,381.0 1303.0,382.0 1306.0,383.0 1309.0,386.0 1310.0,389.0 1313.0,392.0 1314.0,395.0 1317.0,398.0 1317.0,399.0 1318.0,400.0 1318.0,403.0 1319.0,404.0 1319.0,409.0 1320.0,410.0 1320.0,416.0 1314.0,423.0 1314.0,424.0 1312.0,426.0 1311.0,429.0 1308.0,432.0 1308.0,433.0 1299.0,442.0 1299.0,443.0 1290.0,451.0 1290.0,452.0 1288.0,452.0 1285.0,455.0 1284.0,455.0 1279.0,460.0 1279.0,461.0 1276.0,462.0 1274.0,464.0 1273.0,464.0 1271.0,466.0 1270.0,466.0 1268.0,468.0 1267.0,468.0 1267.0,469.0 1266.0,470.0 1264.0,470.0 1263.0,471.0 1262.0,471.0 1261.0,472.0 1260.0,472.0 1259.0,473.0 1258.0,473.0 1257.0,474.0 1256.0,474.0 1251.0,477.0 1249.0,477.0 1248.0,478.0 1247.0,478.0 1246.0,479.0 1244.0,479.0 1243.0,480.0 1234.0,480.0 1233.0,481.0 1229.0,481.0 1228.0,482.0 1225.0,482.0 1222.0,484.0 1219.0,484.0 1216.0,486.0 1213.0,486.0 1210.0,488.0 1207.0,488.0 1204.0,490.0 1202.0,490.0 1201.0,491.0 1199.0,491.0 1198.0,492.0 1196.0,492.0 1195.0,493.0 1193.0,493.0 1192.0,494.0 1190.0,494.0 1189.0,495.0 1187.0,495.0 1186.0,496.0 1184.0,496.0 1183.0,497.0 1181.0,497.0 1180.0,498.0 1178.0,498.0 1177.0,499.0 1175.0,499.0 1174.0,500.0 1171.0,500.0 1170.0,501.0 1167.0,501.0 1164.0,503.0 1161.0,503.0 1160.0,504.0 1157.0,504.0 1156.0,505.0 1154.0,505.0 1153.0,506.0 1151.0,506.0 1150.0,507.0 1147.0,507.0 1146.0,508.0 1143.0,508.0 1142.0,509.0 1140.0,509.0 1139.0,510.0 1137.0,510.0 1136.0,511.0 1134.0,511.0 1133.0,512.0 1130.0,512.0 1129.0,513.0 1127.0,513.0 1126.0,514.0 1124.0,514.0 1123.0,515.0 1120.0,515.0 1119.0,516.0 1117.0,516.0 1116.0,517.0 1113.0,517.0 1112.0,518.0 1109.0,518.0 1108.0,519.0 1105.0,519.0 1104.0,520.0 1101.0,520.0 1100.0,521.0 1098.0,521.0 1097.0,522.0 1094.0,522.0 1093.0,523.0 1090.0,523.0 1089.0,524.0 1083.0,524.0 1082.0,525.0 1075.0,525.0 1074.0,526.0 1068.0,526.0 1068.0,527.0 943.0,527.0 943.0,326.1 947.0,327.6 952.0,327.9 956.0,326.9 960.2,324.0Z" fill="#efff10" fill-rule="evenodd"/>
<path d="M961.0,325.0 962.0,324.0 963.0,324.0 964.0,325.0 969.0,325.0 970.0,326.0 973.0,326.0 974.0,327.0 976.0,327.0 977.0,328.0 980.0,328.0 981.0,329.0 984.0,329.0 985.0,330.0 988.0,330.0 989.0,331.0 999.0,331.0 1000.0,332.0 1013.0,332.0 1014.0,333.0 1028.0,333.0 1029.0,334.0 1043.0,334.0 1044.0,335.0 1059.0,335.0 1060.0,336.0 1075.0,335.9 1077.0,337.0 1087.0,337.0 1088.0,338.0 1090.0,338.0 1091.0,339.0 1096.0,339.0 1097.0,340.0 1102.0,340.0 1103.0,341.0 1108.0,341.0 1109.0,342.0 1114.0,342.0 1115.0,343.0 1117.0,343.0 1119.0,346.0 1119.0,347.0 1118.0,348.0 1118.0,354.0 1120.0,356.0 1121.0,356.0 1124.0,358.0 1127.0,358.0 1128.0,359.0 1130.0,359.0 1131.0,360.0 1134.0,360.0 1135.0,361.0 1137.0,361.0 1138.0,362.0 1141.0,362.0 1142.0,363.0 1147.0,363.0 1148.0,364.0 1164.0,364.0 1165.0,365.0 1190.0,365.0 1191.0,366.0 1195.0,366.0 1196.0,367.0 1200.0,367.0 1201.0,368.0 1205.0,368.0 1206.0,369.0 1210.0,369.0 1211.0,370.0 1215.0,370.0 1216.0,371.0 1220.0,371.0 1221.0,372.0 1225.0,372.0 1226.0,373.0 1230.0,373.0 1231.0,374.0 1235.0,374.0 1236.0,375.0 1240.0,375.0 1241.0,376.0 1245.0,376.0 1246.0,377.0 1249.0,377.0 1250.0,378.0 1253.0,378.0 1254.0,379.0 1257.0,379.0 1258.0,380.0 1261.0,380.0 1262.0,381.0 1265.0,381.0 1266.0,382.0 1269.0,382.0 1271.0,384.0 1272.0,384.0 1275.0,386.0 1276.0,386.0 1276.0,387.0 1277.0,387.0 1278.0,388.0 1281.0,389.0 1298.0,406.0 1298.0,408.0 1299.0,409.0 1299.0,410.0 1300.0,411.0 1300.0,413.0 1301.0,414.0 1300.0,415.0 1300.0,425.0 1299.0,426.0 1299.0,428.0 1298.0,429.0 1298.0,430.0 1294.0,435.0 1294.0,436.0 1293.0,437.0 1293.0,438.0 1291.0,440.0 1291.0,441.0 1287.0,445.0 1284.0,446.0 1282.0,448.0 1281.0,448.0 1279.0,450.0 1278.0,450.0 1273.0,454.0 1272.0,454.0 1269.0,456.0 1267.0,456.0 1266.0,457.0 1264.0,457.0 1263.0,458.0 1261.0,458.0 1258.0,460.0 1256.0,460.0 1255.0,461.0 1253.0,461.0 1252.0,462.0 1250.0,462.0 1249.0,463.0 1246.0,463.0 1245.0,464.0 1243.0,464.0 1242.0,465.0 1240.0,465.0 1237.0,467.0 1235.0,467.0 1234.0,468.0 1232.0,468.0 1231.0,469.0 1229.0,469.0 1226.0,471.0 1224.0,471.0 1223.0,472.0 1221.0,472.0 1218.0,474.0 1216.0,474.0 1215.0,475.0 1213.0,475.0 1210.0,477.0 1208.0,477.0 1207.0,478.0 1205.0,478.0 1204.0,479.0 1201.0,479.0 1200.0,480.0 1198.0,480.0 1197.0,481.0 1195.0,481.0 1194.0,482.0 1192.0,482.0 1191.0,483.0 1189.0,483.0 1188.0,484.0 1186.0,484.0 1185.0,485.0 1183.0,485.0 1182.0,486.0 1180.0,486.0 1179.0,487.0 1177.0,487.0 1176.0,488.0 1174.0,488.0 1173.0,489.0 1170.0,489.0 1169.0,490.0 1167.0,490.0 1166.0,491.0 1163.0,491.0 1162.0,492.0 1160.0,492.0 1159.0,493.0 1156.0,493.0 1155.0,494.0 1152.0,494.0 1151.0,495.0 1149.0,495.0 1148.0,496.0 1145.0,496.0 1144.0,497.0 1142.0,497.0 1141.0,498.0 1138.0,498.0 1137.0,499.0 1135.0,499.0 1134.0,500.0 1131.0,500.0 1130.0,501.0 1128.0,501.0 1127.0,502.0 1124.0,502.0 1123.0,503.0 1121.0,503.0 1120.0,504.0 1117.0,504.0 1116.0,505.0 1113.0,505.0 1112.0,506.0 1110.0,506.0 1109.0,507.0 1106.0,507.0 1105.0,508.0 1102.0,508.0 1101.0,509.0 1098.0,509.0 1097.0,510.0 1095.0,510.0 1094.0,511.0 1091.0,511.0 1090.0,512.0 1087.0,512.0 1086.0,513.0 1083.0,513.0 1082.0,514.0 1080.0,514.0 1079.0,515.0 1076.0,515.0 1075.0,516.0 1071.0,516.0 1070.0,517.0 1065.0,517.0 1064.0,518.0 1059.0,518.0 1058.0,519.0 1053.0,519.0 1052.0,520.0 1047.0,520.0 1046.0,521.0 1041.0,521.0 1040.0,522.0 1035.0,522.0 1034.0,523.0 1028.0,523.0 1027.0,524.0 1021.0,524.0 1020.0,525.0 1014.0,525.0 1013.0,526.0 1008.0,526.0 1008.0,527.0 943.0,527.0 943.0,331.4 950.0,332.4 955.0,331.5 959.0,328.9 961.0,325.0Z" fill="#ffdf00" fill-rule="evenodd"/>
<path d="M967.1,327.0 968.0,326.0 969.0,327.0 971.0,327.0 972.0,328.0 974.0,328.0 975.0,329.0 977.0,329.0 978.0,330.0 982.0,330.0 983.0,331.0 987.0,331.0 988.0,332.0 991.0,332.0 992.0,333.0 999.0,333.0 1000.0,334.0 1019.0,334.0 1020.0,335.0 1039.0,335.0 1040.0,336.0 1058.0,336.0 1059.0,337.0 1072.0,337.0 1072.9,339.0 1075.0,339.8 1077.0,338.0 1081.0,338.0 1082.7,341.0 1084.0,342.0 1086.0,342.8 1088.0,342.4 1090.0,344.0 1090.0,345.0 1091.0,346.0 1089.0,348.0 1089.0,349.0 1087.0,352.0 1088.0,355.0 1089.0,356.0 1090.0,356.0 1090.0,357.0 1092.0,357.0 1093.0,358.0 1095.0,358.0 1096.0,359.0 1097.0,359.0 1098.0,360.0 1100.0,360.0 1103.0,362.0 1105.0,362.0 1106.0,363.0 1109.0,363.0 1110.0,364.0 1113.0,364.0 1114.0,365.0 1117.0,365.0 1118.0,366.0 1121.0,366.0 1122.0,367.0 1125.0,367.0 1126.0,368.0 1129.0,368.0 1130.0,369.0 1139.0,369.0 1140.0,370.0 1148.0,370.0 1149.0,371.0 1154.0,371.0 1155.0,372.0 1160.0,372.0 1161.0,373.0 1166.0,373.0 1167.0,374.0 1172.0,374.0 1173.0,375.0 1178.0,375.0 1179.0,376.0 1184.0,376.0 1185.0,377.0 1190.0,377.0 1191.0,378.0 1194.0,378.0 1195.0,379.0 1198.0,379.0 1199.0,380.0 1201.0,380.0 1202.0,381.0 1205.0,381.0 1206.0,382.0 1208.0,382.0 1209.0,383.0 1212.0,383.0 1213.0,384.0 1216.0,384.0 1217.0,385.0 1220.0,385.0 1221.0,386.0 1224.0,386.0 1225.0,387.0 1228.0,387.0 1231.0,389.0 1233.0,389.0 1234.0,390.0 1236.0,390.0 1237.0,391.0 1239.0,391.0 1240.0,392.0 1242.0,392.0 1243.0,393.0 1245.0,393.0 1246.0,394.0 1248.0,394.0 1249.0,395.0 1251.0,395.0 1252.0,396.0 1254.0,396.0 1255.0,397.0 1258.0,398.0 1260.0,400.0 1261.0,400.0 1264.0,403.0 1267.0,404.0 1267.0,405.0 1268.0,405.0 1271.0,408.0 1271.0,409.0 1272.0,410.0 1272.0,411.0 1275.0,416.0 1275.0,422.0 1274.0,423.0 1274.0,428.0 1273.0,429.0 1273.0,430.0 1271.0,432.0 1271.0,433.0 1269.0,436.0 1269.0,437.0 1268.0,437.0 1268.0,438.0 1260.0,447.0 1259.0,447.0 1257.0,449.0 1254.0,450.0 1252.0,452.0 1251.0,452.0 1249.0,454.0 1248.0,454.0 1246.0,456.0 1245.0,456.0 1243.0,458.0 1242.0,458.0 1239.0,460.0 1236.0,460.0 1235.0,461.0 1233.0,461.0 1232.0,462.0 1229.0,462.0 1228.0,463.0 1226.0,463.0 1225.0,464.0 1222.0,464.0 1221.0,465.0 1219.0,465.0 1218.0,466.0 1215.0,466.0 1214.0,467.0 1211.0,467.0 1210.0,468.0 1207.0,468.0 1206.0,469.0 1203.0,469.0 1202.0,470.0 1199.0,470.0 1198.0,471.0 1195.0,471.0 1194.0,472.0 1191.0,472.0 1190.0,473.0 1187.0,473.0 1186.0,474.0 1183.0,474.0 1182.0,475.0 1180.0,475.0 1179.0,476.0 1176.0,476.0 1175.0,477.0 1172.0,477.0 1171.0,478.0 1168.0,478.0 1167.0,479.0 1164.0,479.0 1163.0,480.0 1160.0,480.0 1159.0,481.0 1156.0,481.0 1155.0,482.0 1152.0,482.0 1151.0,483.0 1148.0,483.0 1147.0,484.0 1144.0,484.0 1143.0,485.0 1140.0,485.0 1139.0,486.0 1136.0,486.0 1135.0,487.0 1132.0,487.0 1131.0,488.0 1128.0,488.0 1127.0,489.0 1124.0,489.0 1123.0,490.0 1120.0,490.0 1119.0,491.0 1116.0,491.0 1115.0,492.0 1112.0,492.0 1111.0,493.0 1107.0,493.0 1106.0,494.0 1103.0,494.0 1102.0,495.0 1098.0,495.0 1097.0,496.0 1093.0,496.0 1092.0,497.0 1089.0,497.0 1088.0,498.0 1084.0,498.0 1083.0,499.0 1080.0,499.0 1079.0,500.0 1076.0,500.0 1075.0,501.0 1071.0,501.0 1070.0,502.0 1067.0,502.0 1066.0,503.0 1062.0,503.0 1061.0,504.0 1057.0,504.0 1056.0,505.0 1053.0,505.0 1052.0,506.0 1048.0,506.0 1047.0,507.0 1043.0,507.0 1042.0,508.0 1038.0,508.0 1037.0,509.0 1033.0,509.0 1032.0,510.0 1028.0,510.0 1027.0,511.0 1023.0,511.0 1022.0,512.0 1018.0,512.0 1017.0,513.0 1013.0,513.0 1012.0,514.0 1008.0,514.0 1007.0,515.0 1003.0,515.0 1002.0,516.0 998.0,516.0 997.0,517.0 993.0,517.0 992.0,518.0 988.0,518.0 987.0,519.0 983.0,519.0 982.0,520.0 978.0,520.0 977.0,521.0 971.0,521.0 970.0,522.0 964.0,522.0 963.0,523.0 958.0,523.0 957.0,524.0 950.0,524.0 949.0,523.0 949.0,522.0 946.0,519.0 946.0,518.0 945.0,518.0 945.0,519.0 943.0,519.6 943.0,337.7 946.0,338.4 950.0,338.6 957.0,336.8 961.0,334.5 964.0,332.0 967.1,327.0Z" fill="#ffaf00" fill-rule="evenodd"/>
<path d="M965.0,340.0 966.0,339.0 967.0,339.0 969.0,341.0 969.0,342.0 974.0,342.0 975.0,341.0 978.0,341.0 979.0,340.0 982.0,340.0 983.0,339.0 985.0,339.0 990.0,342.0 1000.0,342.0 1001.0,341.0 1022.0,341.0 1023.0,342.0 1035.0,342.0 1036.0,343.0 1047.0,343.0 1048.0,344.0 1051.0,344.0 1054.0,347.0 1054.0,348.0 1053.0,349.0 1053.0,355.0 1057.0,359.0 1058.0,359.0 1061.0,361.0 1063.0,361.0 1064.0,362.0 1066.0,362.0 1069.0,364.0 1072.0,364.0 1073.0,365.0 1075.0,365.0 1076.0,366.0 1079.0,366.0 1080.0,367.0 1083.0,367.0 1084.0,368.0 1087.0,368.0 1088.0,369.0 1090.0,369.0 1091.0,370.0 1094.0,370.0 1095.0,371.0 1098.0,371.0 1099.0,372.0 1102.0,372.0 1103.0,373.0 1105.0,373.0 1106.0,374.0 1110.0,374.0 1111.0,375.0 1115.0,375.0 1116.0,376.0 1121.0,376.0 1122.0,377.0 1126.0,377.0 1127.0,378.0 1142.0,378.0 1143.0,379.0 1152.0,379.0 1153.0,380.0 1156.0,380.0 1157.0,381.0 1160.0,381.0 1161.0,382.0 1165.0,382.0 1166.0,383.0 1169.0,383.0 1170.0,384.0 1173.0,384.0 1174.0,385.0 1176.0,385.0 1177.0,386.0 1179.0,386.0 1180.0,387.0 1182.0,387.0 1183.0,388.0 1185.0,388.0 1186.0,389.0 1188.0,389.0 1191.0,391.0 1193.0,391.0 1194.0,392.0 1196.0,392.0 1197.0,393.0 1199.0,393.0 1200.0,394.0 1202.0,394.0 1205.0,396.0 1207.0,396.0 1210.0,398.0 1212.0,398.0 1213.0,399.0 1214.0,399.0 1215.0,400.0 1216.0,400.0 1217.0,401.0 1218.0,401.0 1219.0,402.0 1220.0,402.0 1225.0,405.0 1227.0,405.0 1228.0,406.0 1229.0,406.0 1230.0,407.0 1233.0,408.0 1234.0,409.0 1234.0,410.0 1239.0,415.0 1239.0,416.0 1242.0,419.0 1242.0,421.0 1241.0,422.0 1241.0,427.0 1240.0,428.0 1240.0,429.0 1238.0,431.0 1238.0,432.0 1237.0,433.0 1237.0,434.0 1236.0,435.0 1235.0,438.0 1225.0,449.0 1224.0,449.0 1219.0,452.0 1217.0,452.0 1216.0,453.0 1214.0,453.0 1211.0,455.0 1209.0,455.0 1206.0,457.0 1204.0,457.0 1201.0,459.0 1198.0,459.0 1197.0,460.0 1191.0,460.0 1190.0,461.0 1184.0,461.0 1183.0,462.0 1179.0,462.0 1178.0,463.0 1175.0,463.0 1174.0,464.0 1171.0,464.0 1170.0,465.0 1167.0,465.0 1166.0,466.0 1162.0,466.0 1161.0,467.0 1158.0,467.0 1157.0,468.0 1154.0,468.0 1153.0,469.0 1149.0,469.0 1148.0,470.0 1145.0,470.0 1144.0,471.0 1141.0,471.0 1140.0,472.0 1137.0,472.0 1136.0,473.0 1133.0,473.0 1132.0,474.0 1129.0,474.0 1128.0,475.0 1125.0,475.0 1124.0,476.0 1121.0,476.0 1120.0,477.0 1117.0,477.0 1116.0,478.0 1113.0,478.0 1112.0,479.0 1109.0,479.0 1108.0,480.0 1104.0,480.0 1103.0,481.0 1100.0,481.0 1099.0,482.0 1095.0,482.0 1094.0,483.0 1090.0,483.0 1089.0,484.0 1085.0,484.0 1084.0,485.0 1080.0,485.0 1079.0,486.0 1075.0,486.0 1074.0,487.0 1070.0,487.0 1069.0,488.0 1065.0,488.0 1064.0,489.0 1060.0,489.0 1059.0,490.0 1055.0,490.0 1054.0,491.0 1050.0,491.0 1049.0,492.0 1045.0,492.0 1044.0,493.0 1040.0,493.0 1039.0,494.0 1035.0,494.0 1034.0,495.0 1030.0,495.0 1029.0,496.0 1025.0,496.0 1024.0,497.0 1020.0,497.0 1019.0,498.0 1015.0,498.0 1014.0,499.0 1010.0,499.0 1009.0,500.0 1005.0,500.0 1004.0,501.0 1000.0,501.0 999.0,502.0 995.0,502.0 994.0,503.0 990.0,503.0 989.0,504.0 985.0,504.0 984.0,505.0 980.0,505.0 979.0,506.0 976.0,506.0 975.0,507.0 971.0,507.0 970.0,508.0 966.0,508.0 965.0,509.0 961.0,509.0 960.0,510.0 956.0,510.0 955.0,511.0 953.0,511.0 949.0,507.0 949.0,506.0 947.0,504.0 946.0,504.0 947.0,505.0 943.0,505.9 943.0,348.5 949.0,348.0 955.0,346.5 960.0,344.0 961.0,344.0 963.0,342.0 964.0,342.0 965.0,341.0 965.0,340.0Z" fill="#ff8000" fill-rule="evenodd"/>
<path d="M969.8,354.0 978.0,354.0 979.0,355.0 980.0,355.0 981.0,356.0 981.0,357.0 984.0,358.0 984.0,359.0 986.0,359.0 987.0,360.0 990.0,360.0 991.0,361.0 994.0,361.0 995.0,362.0 999.0,362.0 1000.0,363.0 1003.0,363.0 1004.0,364.0 1006.0,364.0 1007.0,365.0 1011.0,365.0 1012.0,366.0 1016.0,366.0 1017.0,367.0 1021.0,367.0 1022.0,368.0 1026.0,368.0 1027.0,369.0 1031.0,369.0 1032.0,370.0 1036.0,370.0 1037.0,371.0 1041.0,371.0 1042.0,372.0 1046.0,372.0 1047.0,373.0 1050.0,373.0 1051.0,374.0 1054.0,374.0 1055.0,375.0 1059.0,375.0 1060.0,376.0 1063.0,376.0 1064.0,377.0 1067.0,377.0 1068.0,378.0 1071.0,378.0 1072.0,379.0 1076.0,379.0 1077.0,380.0 1080.0,380.0 1081.0,381.0 1085.0,381.0 1086.0,382.0 1090.0,382.0 1091.0,383.0 1095.0,383.0 1096.0,384.0 1100.0,384.0 1101.0,385.0 1105.0,385.0 1106.0,386.0 1110.0,386.0 1111.0,387.0 1115.0,387.0 1116.0,388.0 1124.0,388.0 1125.0,389.0 1136.0,389.0 1137.0,390.0 1148.0,390.0 1149.0,391.0 1151.0,391.0 1152.0,392.0 1154.0,392.0 1157.0,394.0 1159.0,394.0 1162.0,396.0 1164.0,396.0 1167.0,398.0 1169.0,398.0 1172.0,400.0 1174.0,400.0 1175.0,401.0 1178.0,402.0 1182.0,406.0 1183.0,406.0 1186.0,409.0 1187.0,409.0 1190.0,412.0 1191.0,412.0 1199.0,421.0 1199.0,422.0 1202.0,425.0 1202.0,426.0 1201.0,427.0 1201.0,429.0 1200.0,430.0 1199.0,433.0 1197.0,435.0 1197.0,436.0 1192.0,441.0 1190.0,441.0 1187.0,443.0 1185.0,443.0 1184.0,444.0 1183.0,444.0 1180.0,446.0 1178.0,446.0 1177.0,447.0 1173.0,447.0 1172.0,448.0 1169.0,448.0 1168.0,449.0 1165.0,449.0 1164.0,450.0 1160.0,450.0 1159.0,451.0 1156.0,451.0 1155.0,452.0 1152.0,452.0 1151.0,453.0 1148.0,453.0 1147.0,454.0 1143.0,454.0 1142.0,455.0 1139.0,455.0 1138.0,456.0 1135.0,456.0 1134.0,457.0 1130.0,457.0 1129.0,458.0 1126.0,458.0 1125.0,459.0 1122.0,459.0 1121.0,460.0 1118.0,460.0 1117.0,461.0 1113.0,461.0 1112.0,462.0 1110.0,462.0 1109.0,463.0 1106.0,463.0 1105.0,464.0 1102.0,464.0 1101.0,465.0 1099.0,465.0 1098.0,466.0 1095.0,466.0 1094.0,467.0 1092.0,467.0 1091.0,468.0 1088.0,468.0 1087.0,469.0 1084.0,469.0 1083.0,470.0 1081.0,470.0 1080.0,471.0 1077.0,471.0 1076.0,472.0 1073.0,472.0 1072.0,473.0 1070.0,473.0 1069.0,474.0 1066.0,474.0 1065.0,475.0 1062.0,475.0 1061.0,476.0 1059.0,476.0 1058.0,477.0 1054.0,477.0 1053.0,478.0 1050.0,478.0 1049.0,479.0 1045.0,479.0 1044.0,480.0 1041.0,480.0 1040.0,481.0 1036.0,481.0 1035.0,482.0 1032.0,482.0 1031.0,483.0 1028.0,483.0 1027.0,484.0 1023.0,484.0 1022.0,485.0 1019.0,485.0 1018.0,486.0 1014.0,486.0 1013.0,487.0 1010.0,487.0 1009.0,488.0 1005.0,488.0 1004.0,489.0 1001.0,489.0 1000.0,490.0 996.0,490.0 995.0,491.0 992.0,491.0 991.0,492.0 987.0,492.0 986.0,493.0 983.0,493.0 982.0,494.0 979.0,494.0 978.0,495.0 974.0,495.0 973.0,496.0 970.0,496.0 969.0,497.0 965.0,497.0 964.0,498.0 961.0,498.0 960.0,499.0 956.0,499.0 955.0,500.0 953.0,500.0 952.0,499.0 952.0,498.0 947.0,493.0 947.0,494.0 943.0,494.5 943.0,361.1 950.0,360.7 957.0,359.3 963.8,357.0 969.8,354.0Z" fill="#ff5000" fill-rule="evenodd"/>
<path d="M966.0,374.0 967.0,373.0 968.0,373.0 972.0,378.0 975.0,378.0 976.0,379.0 984.0,379.0 985.0,380.0 994.0,380.0 995.0,381.0 1000.0,381.0 1001.0,382.0 1005.0,382.0 1006.0,383.0 1010.0,383.0 1011.0,384.0 1015.0,384.0 1016.0,385.0 1020.0,385.0 1021.0,386.0 1025.0,386.0 1026.0,387.0 1030.0,387.0 1031.0,388.0 1035.0,388.0 1036.0,389.0 1040.0,389.0 1041.0,390.0 1045.0,390.0 1046.0,391.0 1050.0,391.0 1051.0,392.0 1055.0,392.0 1056.0,393.0 1060.0,393.0 1061.0,394.0 1065.0,394.0 1066.0,395.0 1070.0,395.0 1071.0,396.0 1074.0,396.0 1075.0,397.0 1077.0,397.0 1078.0,398.0 1081.0,398.0 1082.0,399.0 1085.0,399.0 1086.0,400.0 1089.0,400.0 1090.0,401.0 1092.0,401.0 1093.0,402.0 1096.0,402.0 1097.0,403.0 1099.0,403.0 1100.0,404.0 1103.0,404.0 1104.0,405.0 1107.0,405.0 1108.0,406.0 1111.0,406.0 1112.0,407.0 1114.0,407.0 1115.0,408.0 1118.0,408.0 1119.0,409.0 1122.0,409.0 1123.0,410.0 1126.0,410.0 1127.0,411.0 1130.0,411.0 1131.0,412.0 1133.0,412.0 1134.0,413.0 1137.0,413.0 1138.0,414.0 1141.0,414.0 1142.0,415.0 1143.0,415.0 1145.0,417.0 1146.0,417.0 1151.0,420.0 1152.0,420.0 1152.0,421.0 1153.0,421.0 1154.0,422.0 1155.0,422.0 1160.0,425.0 1158.0,427.0 1157.0,427.0 1155.0,429.0 1154.0,429.0 1152.0,431.0 1151.0,431.0 1149.0,433.0 1148.0,433.0 1146.0,435.0 1145.0,435.0 1143.0,437.0 1142.0,437.0 1140.0,439.0 1139.0,439.0 1138.0,440.0 1136.0,440.0 1135.0,441.0 1133.0,441.0 1130.0,443.0 1127.0,443.0 1124.0,445.0 1122.0,445.0 1121.0,446.0 1119.0,446.0 1116.0,448.0 1114.0,448.0 1113.0,449.0 1111.0,449.0 1108.0,451.0 1105.0,451.0 1104.0,452.0 1103.0,452.0 1102.0,453.0 1100.0,453.0 1099.0,454.0 1096.0,454.0 1095.0,455.0 1092.0,455.0 1091.0,456.0 1088.0,456.0 1087.0,457.0 1084.0,457.0 1083.0,458.0 1080.0,458.0 1079.0,459.0 1076.0,459.0 1075.0,460.0 1072.0,460.0 1071.0,461.0 1068.0,461.0 1067.0,462.0 1064.0,462.0 1063.0,463.0 1060.0,463.0 1059.0,464.0 1056.0,464.0 1055.0,465.0 1052.0,465.0 1051.0,466.0 1048.0,466.0 1047.0,467.0 1044.0,467.0 1043.0,468.0 1039.0,468.0 1038.0,469.0 1035.0,469.0 1034.0,470.0 1030.0,470.0 1029.0,471.0 1026.0,471.0 1025.0,472.0 1021.0,472.0 1020.0,473.0 1017.0,473.0 1016.0,474.0 1013.0,474.0 1012.0,475.0 1008.0,475.0 1007.0,476.0 1004.0,476.0 1003.0,477.0 999.0,477.0 998.0,478.0 995.0,478.0 994.0,479.0 990.0,479.0 989.0,480.0 986.0,480.0 985.0,481.0 981.0,481.0 980.0,482.0 976.0,482.0 975.0,483.0 972.0,483.0 971.0,484.0 967.0,484.0 966.0,485.0 962.0,485.0 961.0,486.0 958.0,486.0 957.0,487.0 954.0,487.0 948.0,481.0 948.0,482.0 947.0,482.3 943.0,482.5 943.0,376.7 957.0,377.4 961.0,379.0 960.0,380.0 961.0,380.0 963.0,378.0 963.0,377.0 966.0,374.0ZM1160.0,425.0 1161.0,425.0 1160.0,425.0Z" fill="#ff2000" fill-rule="evenodd"/>
<path d="M962.0,392.0 963.0,391.0 964.0,391.0 968.0,395.0 971.0,395.0 972.0,394.0 974.0,394.0 975.0,393.0 976.0,394.0 981.0,394.0 982.0,395.0 988.0,395.0 989.0,396.0 994.0,396.0 995.0,397.0 999.0,397.0 1000.0,398.0 1006.0,398.0 1007.0,399.0 1012.0,399.0 1013.0,400.0 1017.0,400.0 1018.0,401.0 1023.0,401.0 1024.0,402.0 1029.0,402.0 1030.0,403.0 1034.0,403.0 1035.0,404.0 1040.0,404.0 1041.0,405.0 1046.0,405.0 1047.0,406.0 1052.0,406.0 1053.0,407.0 1057.0,407.0 1058.0,408.0 1061.0,408.0 1062.0,409.0 1066.0,409.0 1067.0,410.0 1070.0,410.0 1071.0,411.0 1074.0,411.0 1075.0,412.0 1078.0,412.0 1079.0,413.0 1083.0,413.0 1084.0,414.0 1087.0,414.0 1088.0,415.0 1091.0,415.0 1092.0,416.0 1094.0,416.0 1095.0,417.0 1096.0,417.0 1097.0,418.0 1098.0,418.0 1099.0,419.0 1100.0,419.0 1105.0,422.0 1107.0,422.0 1108.0,423.0 1109.0,423.0 1111.0,425.0 1106.0,430.0 1103.0,431.0 1101.0,433.0 1100.0,433.0 1099.0,434.0 1098.0,434.0 1097.0,435.0 1096.0,435.0 1095.0,436.0 1094.0,436.0 1093.0,437.0 1092.0,437.0 1091.0,438.0 1090.0,438.0 1085.0,441.0 1082.0,441.0 1081.0,442.0 1079.0,442.0 1078.0,443.0 1076.0,443.0 1075.0,444.0 1073.0,444.0 1072.0,445.0 1069.0,445.0 1068.0,446.0 1066.0,446.0 1065.0,447.0 1062.0,447.0 1061.0,448.0 1059.0,448.0 1058.0,449.0 1056.0,449.0 1055.0,450.0 1053.0,450.0 1052.0,451.0 1049.0,451.0 1048.0,452.0 1045.0,452.0 1044.0,453.0 1040.0,453.0 1039.0,454.0 1035.0,454.0 1034.0,455.0 1030.0,455.0 1029.0,456.0 1025.0,456.0 1024.0,457.0 1020.0,457.0 1019.0,458.0 1015.0,458.0 1014.0,459.0 1010.0,459.0 1009.0,460.0 1005.0,460.0 1004.0,461.0 1000.0,461.0 999.0,462.0 995.0,462.0 994.0,463.0 991.0,463.0 990.0,464.0 986.0,464.0 985.0,465.0 982.0,465.0 981.0,466.0 978.0,466.0 977.0,467.0 974.0,467.0 973.0,468.0 970.0,468.0 969.0,469.0 966.0,469.0 965.0,470.0 961.0,470.0 960.0,471.0 957.0,471.0 956.0,472.0 953.0,472.0 951.0,470.0 950.0,470.0 949.0,469.0 949.0,468.0 948.0,467.0 948.0,468.0 947.0,468.8 943.0,469.2 943.0,392.2 959.0,392.4 960.0,393.0 961.0,392.0 962.0,392.0ZM953.0,473.0 953.0,472.0 953.0,473.0Z" fill="#ef0000" fill-rule="evenodd"/>
<path d="M943.0,406.0 946.0,406.3 952.0,408.7 955.0,409.4 959.0,409.0 960.8,408.0 961.0,407.0 964.0,409.0 965.0,409.0 965.0,410.0 966.0,410.0 967.0,411.0 969.0,411.0 972.0,409.0 974.0,409.0 975.0,410.0 980.0,410.0 981.0,411.0 985.0,411.0 986.0,412.0 991.0,412.0 992.0,413.0 996.0,413.0 997.0,414.0 1001.0,414.0 1002.0,415.0 1006.0,415.0 1007.0,416.0 1010.0,416.0 1011.0,417.0 1015.0,417.0 1016.0,418.0 1020.0,418.0 1021.0,419.0 1023.0,419.0 1024.0,420.0 1027.0,420.0 1028.0,421.0 1032.0,421.0 1033.0,422.0 1036.0,422.0 1037.0,423.0 1039.0,423.0 1042.0,428.0 1041.0,429.0 1040.0,429.0 1039.0,430.0 1036.0,431.0 1034.0,433.0 1033.0,433.0 1028.0,436.0 1026.0,436.0 1023.0,438.0 1021.0,438.0 1018.0,440.0 1016.0,440.0 1015.0,441.0 1014.0,441.0 1013.0,442.0 1011.0,442.0 1008.0,444.0 1006.0,444.0 1005.0,445.0 1002.0,445.0 1001.0,446.0 999.0,446.0 998.0,447.0 996.0,447.0 995.0,448.0 992.0,448.0 991.0,449.0 989.0,449.0 988.0,450.0 986.0,450.0 985.0,451.0 982.0,451.0 981.0,452.0 979.0,452.0 978.0,453.0 974.0,453.0 973.0,454.0 969.0,454.0 968.0,455.0 965.0,455.0 964.0,456.0 960.0,456.0 959.0,457.0 955.0,457.0 954.0,458.0 951.0,458.0 950.0,457.0 950.0,454.0 949.0,453.0 949.0,449.0 948.0,448.0 948.0,444.0 948.0,449.0 949.0,450.0 949.0,454.0 950.0,455.0 945.0,457.0 943.0,457.3 943.0,406.0Z" fill="#bf0000" fill-rule="evenodd"/>
<g fill="none" stroke="#000" stroke-width="1.0" stroke-linejoin="round">
<path d="M943.0,280.8 943.9,280.0 944.4,278.0 944.0,277.0 947.0,277.0 948.0,276.0 950.0,276.0 951.0,275.0 953.0,275.0 954.0,274.0 955.0,275.0 955.0,277.0 956.0,278.0 956.0,279.0 959.0,282.0 960.0,282.0 960.0,283.0 964.0,283.0 965.0,282.0 969.0,282.0 970.0,281.0 979.0,281.0 980.0,282.0 986.0,282.0 987.0,283.0 991.0,283.0 992.0,284.0 996.0,284.0 997.0,285.0 1001.0,285.0 1002.0,286.0 1006.0,286.0 1007.0,287.0 1011.0,287.0 1013.0,289.0 1009.0,294.0 1009.0,300.0 1008.0,301.0 1008.0,303.0 1009.0,303.0 1010.0,304.0 1012.0,304.0 1013.0,305.0 1014.0,305.0 1015.0,306.0 1017.0,306.0 1018.0,307.0 1022.0,307.0 1023.0,308.0 1027.0,308.0 1028.0,309.0 1032.0,309.0 1033.0,310.0 1036.0,310.0 1037.0,311.0 1041.0,311.0 1042.0,312.0 1046.0,312.0 1047.0,313.0 1054.0,313.0 1055.0,314.0 1061.0,314.0 1062.0,315.0 1069.0,315.0 1070.0,316.0 1084.0,316.0 1085.0,317.0 1163.0,317.0 1164.0,316.0 1173.0,316.0 1174.0,315.0 1183.0,315.0 1184.0,314.0 1193.0,314.0 1194.0,313.0 1207.0,313.0 1208.0,312.0 1224.0,312.0 1225.0,311.0 1271.0,311.0 1274.0,309.0 1277.0,309.0 1280.0,307.0 1282.0,307.0 1283.0,308.0 1286.0,309.0 1291.0,313.0 1292.0,313.0 1293.0,314.0 1294.0,314.0 1296.0,316.0 1297.0,316.0 1301.0,320.0 1302.0,320.0 1306.0,324.0 1307.0,324.0 1321.0,339.0 1321.0,341.0 1322.0,342.0 1322.0,344.0 1324.0,347.0 1324.0,349.0 1325.0,350.0 1325.0,352.0 1326.0,353.0 1326.0,357.0 1327.0,358.0 1327.0,364.0 1328.0,365.0 1328.0,372.0 1329.0,373.0 1329.0,376.0 1331.0,379.0 1331.0,382.0 1333.0,385.0 1333.0,388.0 1335.0,391.0 1335.0,393.0 1336.0,394.0 1336.0,396.0 1338.0,399.0 1338.0,401.0 1339.0,402.0 1339.0,404.0 1340.0,405.0 1340.0,406.0 1341.0,407.0 1344.0,408.0 1344.0,409.0 1345.0,409.0 1347.0,411.0 1347.0,417.0 1346.0,418.0 1346.0,419.0 1344.0,421.0 1344.0,422.0 1342.0,424.0 1342.0,425.0 1341.0,426.0 1341.0,427.0 1339.0,429.0 1339.0,430.0 1336.0,433.0 1336.0,434.0 1335.0,434.0 1335.0,435.0 1333.0,437.0 1333.0,438.0 1330.0,441.0 1330.0,442.0 1320.0,452.0 1320.0,454.0 1319.0,455.0 1318.0,455.0 1316.0,457.0 1316.0,458.0 1311.0,463.0 1311.0,464.0 1308.0,467.0 1308.0,468.0 1304.0,472.0 1304.0,473.0 1301.0,476.0 1301.0,477.0 1295.0,483.0 1295.0,484.0 1291.0,488.0 1291.0,489.0 1290.0,490.0 1289.0,490.0 1286.0,493.0 1286.0,494.0 1285.0,495.0 1285.0,497.0 1284.0,498.0 1284.0,501.0 1283.0,502.0 1283.0,508.0 1284.0,509.0 1284.0,511.0 1285.0,512.0 1285.0,515.0 1286.0,516.0 1286.0,518.0 1288.0,520.0 1289.0,520.0 1296.0,527.0"/>
<path d="M943.0,286.2 952.0,285.5 961.0,287.2 976.0,287.7 987.0,289.6 994.0,291.7 998.5,294.0 1002.0,297.1 1007.0,304.4 1014.9,308.0 1047.0,314.4 1070.0,317.2 1088.0,318.2 1161.0,318.0 1186.0,315.5 1211.0,313.9 1231.0,313.1 1269.0,313.3 1279.0,312.4 1282.0,312.7 1286.0,314.0 1297.0,320.3 1308.9,330.0 1315.8,338.0 1318.4,342.0 1323.3,354.0 1326.8,372.0 1331.9,388.0 1338.3,404.0 1340.0,407.0 1343.7,410.0 1344.5,412.0 1344.5,414.0 1343.4,418.0 1339.0,426.2 1330.7,438.0 1298.0,476.5 1285.0,491.0 1283.0,494.0 1279.6,502.0 1278.5,509.0 1279.1,518.0 1281.6,527.0"/>
<path d="M943.0,294.2 947.0,292.0 952.0,291.3 981.0,294.6 988.0,296.3 994.0,298.6 998.0,300.8 1006.4,307.0 1015.0,310.3 1042.0,315.2 1071.0,318.6 1087.0,319.3 1144.0,319.3 1162.0,318.9 1197.0,316.1 1229.0,315.2 1276.0,315.7 1281.0,316.2 1286.0,317.7 1292.0,320.6 1298.0,324.5 1304.0,329.2 1308.8,334.0 1314.0,340.3 1317.5,346.0 1321.6,356.0 1326.4,376.0 1330.6,388.0 1338.4,406.0 1340.0,408.2 1342.7,410.0 1342.9,412.0 1341.0,418.0 1337.7,425.0 1329.0,437.7 1308.0,462.2 1283.6,489.0 1277.9,497.0 1274.7,503.0 1272.7,509.0 1270.0,527.0"/>
<path d="M943.0,296.4 949.0,295.8 953.0,296.0 981.0,300.5 992.0,303.4 1006.4,310.0 1015.0,312.6 1037.0,316.3 1064.0,319.4 1080.0,320.5 1143.0,320.5 1162.0,319.9 1198.0,317.6 1231.0,317.2 1258.0,317.7 1275.0,318.5 1282.0,319.7 1290.0,322.8 1298.0,327.8 1303.1,332.0 1308.0,337.0 1312.7,343.0 1316.2,349.0 1320.3,359.0 1328.0,385.0 1337.1,405.0 1341.0,411.0 1341.0,412.0 1339.0,415.0 1339.0,417.0 1338.0,418.0 1338.0,420.0 1337.0,421.0 1337.0,422.0 1336.0,423.0 1335.0,426.0 1332.0,429.0 1331.0,432.0 1330.0,433.0 1329.0,433.0 1328.0,436.0 1327.0,437.0 1326.0,437.0 1326.0,438.0 1322.0,442.0 1322.0,443.0 1317.0,448.0 1317.0,449.0 1309.0,457.0 1309.0,458.0 1291.0,476.0 1291.0,477.0 1279.0,489.0 1279.0,490.0 1270.0,499.0 1269.0,502.0 1267.0,504.0 1267.0,505.0 1265.0,507.0 1265.0,508.0 1263.0,511.0 1263.0,514.0 1262.0,515.0 1262.0,520.0 1261.0,521.0 1261.0,527.0"/>
<path d="M943.0,299.2 950.0,299.6 964.0,303.4 987.0,307.2 1007.0,313.1 1016.0,315.2 1036.0,318.0 1063.0,320.8 1079.0,321.9 1141.0,321.7 1198.0,319.1 1257.0,319.8 1273.0,321.0 1282.0,322.7 1290.0,325.9 1298.0,331.0 1302.6,335.0 1307.2,340.0 1311.7,346.0 1314.7,351.0 1319.0,361.3 1326.4,385.0 1338.3,409.0 1338.8,412.0 1336.0,419.6 1332.7,426.0 1326.9,434.0 1314.7,449.0 1306.7,458.0 1292.0,472.4 1269.3,496.0 1262.6,504.0 1258.1,511.0 1252.4,526.0 1251.0,527.0"/>
<path d="M943.0,302.2 948.0,302.3 958.0,307.8 964.0,309.6 991.0,312.7 1023.0,318.6 1062.0,322.3 1079.0,323.5 1087.0,322.8 1144.0,322.8 1151.0,322.1 1173.0,321.8 1181.0,320.9 1200.0,320.5 1209.0,321.1 1231.0,321.1 1239.0,321.7 1257.0,321.9 1268.0,322.9 1283.0,325.7 1290.0,328.9 1297.0,333.2 1301.2,337.0 1307.0,343.7 1313.2,353.0 1319.5,368.0 1325.1,386.0 1337.7,410.0 1337.1,413.0 1333.6,421.0 1329.7,428.0 1312.8,449.0 1307.0,455.7 1256.0,505.0 1248.4,515.0 1245.6,520.0 1243.0,526.3 1242.0,527.0"/>
<path d="M943.0,306.5 945.6,306.0 947.0,305.0 948.0,306.0 949.0,309.0 952.0,312.0 953.0,315.0 954.0,316.0 956.0,316.0 957.0,317.0 969.0,317.0 970.0,316.0 981.0,316.0 982.0,317.0 995.0,317.0 996.0,318.0 1003.0,318.0 1004.0,319.0 1011.0,319.0 1012.0,320.0 1019.0,320.0 1020.0,321.0 1031.0,321.0 1032.0,322.0 1045.0,322.0 1046.0,323.0 1058.0,323.0 1059.0,324.0 1071.0,324.0 1072.0,325.0 1085.0,325.0 1086.0,324.0 1150.0,324.0 1151.0,323.0 1179.0,323.0 1180.0,322.0 1204.0,322.0 1205.0,323.0 1233.0,323.0 1234.0,324.0 1258.0,324.0 1259.0,325.0 1267.0,325.0 1268.0,326.0 1272.0,326.0 1273.0,327.0 1277.0,327.0 1278.0,328.0 1282.0,328.0 1283.0,329.0 1284.0,329.0 1285.0,330.0 1286.0,330.0 1287.0,331.0 1290.0,332.0 1292.0,334.0 1295.0,335.0 1298.0,338.0 1299.0,338.0 1300.0,339.0 1300.0,341.0 1301.0,341.0 1302.0,342.0 1302.0,343.0 1305.0,346.0 1305.0,347.0 1306.0,347.0 1307.0,348.0 1307.0,349.0 1310.0,352.0 1310.0,353.0 1311.0,354.0 1311.0,355.0 1312.0,356.0 1312.0,357.0 1315.0,362.0 1315.0,364.0 1318.0,369.0 1318.0,371.0 1319.0,372.0 1319.0,374.0 1320.0,375.0 1320.0,377.0 1321.0,378.0 1321.0,380.0 1322.0,381.0 1322.0,384.0 1323.0,385.0 1323.0,387.0 1324.0,388.0 1324.0,389.0 1326.0,391.0 1326.0,392.0 1327.0,393.0 1328.0,396.0 1330.0,398.0 1330.0,399.0 1331.0,400.0 1332.0,403.0 1334.0,405.0 1334.0,406.0 1336.0,409.0 1336.0,412.0 1335.0,413.0 1335.0,414.0 1334.0,415.0 1334.0,416.0 1331.0,421.0 1331.0,423.0 1329.0,425.0 1329.0,426.0 1327.0,428.0 1327.0,429.0 1325.0,431.0 1324.0,431.0 1324.0,432.0 1321.0,435.0 1321.0,436.0 1316.0,441.0 1316.0,442.0 1314.0,444.0 1314.0,445.0 1313.0,446.0 1312.0,446.0 1312.0,447.0 1310.0,449.0 1310.0,450.0 1305.0,455.0 1304.0,455.0 1302.0,457.0 1302.0,458.0 1299.0,460.0 1299.0,461.0 1298.0,462.0 1297.0,462.0 1293.0,466.0 1292.0,466.0 1272.0,486.0 1271.0,486.0 1266.0,491.0 1265.0,491.0 1262.0,494.0 1261.0,494.0 1259.0,496.0 1258.0,496.0 1255.0,499.0 1254.0,499.0 1251.0,502.0 1250.0,502.0 1246.0,506.0 1245.0,506.0 1242.0,509.0 1241.0,509.0 1241.0,510.0 1240.0,511.0 1239.0,511.0 1236.0,514.0 1235.0,514.0 1235.0,515.0 1234.0,516.0 1234.0,518.0 1232.0,521.0 1232.0,524.0 1231.0,525.0 1231.0,527.0"/>
<path d="M943.0,311.8 947.0,313.1 953.0,317.3 957.0,318.4 976.0,318.2 1021.0,323.1 1043.0,324.2 1073.0,326.4 1090.0,325.9 1148.0,326.5 1171.0,325.9 1182.0,324.6 1190.0,324.5 1265.0,328.1 1281.0,330.8 1288.0,333.8 1297.0,338.6 1310.0,354.0 1316.0,368.0 1323.0,389.0 1334.1,409.0 1334.3,411.0 1331.1,420.0 1328.9,424.0 1322.8,432.0 1305.0,453.3 1273.0,482.3 1262.0,491.1 1232.7,512.0 1225.8,520.0 1223.6,524.0 1222.8,527.0M1215.0,527.0 1215.0,527.0"/>
<path d="M943.0,315.0 950.0,318.5 955.0,319.8 973.0,320.1 994.0,323.0 1012.0,324.8 1060.0,327.4 1150.0,329.2 1172.0,328.8 1175.9,328.0 1177.0,327.0 1193.0,327.0 1194.0,328.0 1213.0,328.0 1214.0,329.0 1224.0,329.0 1225.0,330.0 1249.0,330.0 1250.0,331.0 1269.0,331.0 1270.0,332.0 1277.0,332.0 1278.0,333.0 1280.0,333.0 1283.0,335.0 1285.0,335.0 1288.0,337.0 1290.0,337.0 1293.0,339.0 1295.0,339.0 1300.0,344.0 1300.0,345.0 1301.0,345.0 1302.0,346.0 1302.0,347.0 1305.0,350.0 1305.0,351.0 1306.0,351.0 1307.0,352.0 1307.0,353.0 1308.0,353.0 1308.0,354.0 1310.0,356.0 1310.0,357.0 1311.0,358.0 1311.0,360.0 1312.0,361.0 1312.0,363.0 1314.0,366.0 1314.0,368.0 1315.0,369.0 1315.0,371.0 1316.0,372.0 1316.0,374.0 1318.0,377.0 1320.0,384.0 1321.0,385.0 1322.0,388.0 1322.0,390.0 1324.0,393.0 1324.0,395.0 1325.0,396.0 1325.0,397.0 1326.0,398.0 1327.0,398.0 1327.0,400.0 1328.0,401.0 1329.0,404.0 1330.0,405.0 1331.0,405.0 1331.0,407.0 1333.0,409.0 1333.0,410.0 1332.0,411.0 1331.7,416.0 1330.5,420.0 1328.0,424.0 1322.8,430.0 1321.8,432.0 1318.7,435.0 1317.0,437.6 1314.0,440.0 1312.0,443.0 1304.0,451.0 1304.0,452.0 1295.0,461.0 1289.0,466.0 1288.0,467.5 1283.0,471.0 1279.0,475.0 1278.0,475.0 1275.0,478.0 1274.0,478.0 1271.0,481.0 1270.0,481.0 1261.0,489.0 1260.0,489.0 1258.0,491.0 1257.0,491.0 1255.0,493.0 1254.0,493.0 1252.0,495.0 1251.0,495.0 1249.0,497.0 1248.0,497.0 1246.0,499.0 1245.0,499.0 1240.0,503.0 1239.0,503.0 1238.0,504.0 1235.0,505.0 1233.0,507.0 1232.0,507.0 1232.0,508.0 1231.0,508.0 1230.0,509.0 1229.0,509.0 1228.0,510.0 1227.0,510.0 1226.0,511.0 1225.0,511.0 1224.0,512.0 1223.0,512.0 1222.0,513.0 1221.0,513.0 1220.0,514.0 1219.0,514.0 1218.0,515.0 1217.0,515.0 1216.0,516.0 1215.0,516.0 1214.0,517.0 1213.0,517.0 1212.0,518.0 1211.0,518.0 1210.0,519.0 1209.0,519.0 1208.0,520.0 1207.0,520.0 1206.0,521.0 1205.0,521.0 1204.0,522.0 1203.0,522.0 1202.0,523.0 1201.0,523.0 1200.0,524.0 1199.0,524.0 1198.0,525.0 1195.0,526.0 1195.0,527.0M1330.0,415.0 1330.0,415.0M1329.0,417.0 1328.0,420.0 1329.0,419.0 1329.0,417.0M1327.0,421.0 1327.0,422.0 1327.0,421.0M1326.0,423.0 1326.0,423.0M1320.0,431.0 1320.0,431.0"/>
<path d="M943.0,319.9 953.0,321.9 962.0,320.9 970.0,321.6 993.0,325.7 1013.0,327.4 1051.0,328.3 1060.0,329.2 1087.0,329.4 1151.0,332.0 1173.0,332.2 1181.0,331.0 1196.0,331.0 1197.0,332.0 1208.0,332.0 1213.0,335.0 1215.0,335.0 1216.0,336.0 1217.0,336.0 1218.0,337.0 1220.0,337.0 1223.0,339.0 1235.0,339.0 1236.0,340.0 1247.0,340.0 1248.0,341.0 1258.0,341.0 1259.0,342.0 1267.0,342.0 1268.0,343.0 1278.0,343.0 1279.0,344.0 1284.0,344.0 1285.0,345.0 1286.0,345.0 1287.0,346.0 1288.0,346.0 1293.0,349.0 1295.0,349.0 1296.0,350.0 1297.0,350.0 1298.0,351.0 1301.0,352.0 1302.0,353.0 1302.0,354.0 1307.0,359.0 1307.0,360.0 1309.0,362.0 1310.0,362.0 1310.0,364.0 1311.0,365.0 1311.0,366.0 1312.0,367.0 1312.0,368.0 1315.0,373.0 1315.0,375.0 1317.0,378.0 1319.0,385.0 1320.0,386.0 1321.0,389.0 1321.0,391.0 1323.0,394.0 1323.0,397.0 1325.0,400.0 1325.0,403.0 1326.0,404.0 1326.0,405.0 1327.0,405.0 1328.0,406.0 1328.0,407.0 1329.0,407.0 1331.0,410.0 1331.0,412.0 1330.0,412.1 1329.0,413.2 1323.6,425.0 1319.0,430.3 1313.0,439.0 1311.5,440.0 1310.9,441.0 1311.0,442.0 1303.0,450.0 1303.0,451.0 1294.0,460.0 1293.0,459.6 1290.6,461.0 1288.7,463.0 1288.0,465.0 1286.1,466.0 1286.0,467.0 1285.0,466.4 1283.0,467.7 1282.0,470.0 1278.0,474.0 1277.0,474.0 1274.0,477.0 1273.0,477.0 1270.0,480.0 1269.0,480.0 1267.0,482.0 1266.0,482.0 1263.0,485.0 1262.0,485.0 1259.0,488.0 1258.0,488.0 1253.0,492.0 1252.0,492.0 1251.0,493.0 1249.0,493.0 1246.0,495.0 1244.0,495.0 1243.0,496.0 1241.0,496.0 1240.0,497.0 1238.0,497.0 1237.0,498.0 1236.0,498.0 1235.0,499.0 1233.0,499.0 1230.0,501.0 1228.0,501.0 1227.0,502.0 1225.0,502.0 1220.0,505.0 1218.0,505.0 1217.0,506.0 1215.0,506.0 1214.0,507.0 1213.0,507.0 1208.0,510.0 1206.0,510.0 1205.0,511.0 1203.0,511.0 1198.0,514.0 1196.0,514.0 1195.0,515.0 1193.0,515.0 1190.0,517.0 1188.0,517.0 1187.0,518.0 1185.0,518.0 1182.0,520.0 1180.0,520.0 1179.0,521.0 1177.0,521.0 1174.0,523.0 1172.0,523.0 1171.0,524.0 1169.0,524.0 1168.0,525.0 1167.0,525.0 1166.0,526.0 1164.0,526.0 1163.0,527.0M1321.0,432.0 1321.0,432.0"/>
<path d="M943.0,323.4 953.0,324.5 963.0,322.0 966.0,323.0 969.0,323.0 972.0,324.0 974.0,324.0 975.0,325.0 978.0,325.0 979.0,326.0 982.0,326.0 983.0,327.0 986.0,327.0 987.0,328.0 990.0,328.0 991.0,329.0 1005.0,329.0 1006.0,330.0 1052.0,330.0 1053.0,331.0 1087.0,331.0 1088.0,332.0 1106.0,332.0 1107.0,333.0 1125.0,333.0 1126.0,334.0 1145.0,334.0 1146.0,335.0 1168.0,335.0 1169.0,336.0 1180.0,336.0 1182.0,338.0 1183.0,341.0 1184.0,341.0 1185.0,342.0 1185.0,344.0 1187.0,346.0 1188.0,346.0 1189.0,347.0 1191.0,347.0 1192.0,348.0 1194.0,348.0 1195.0,349.0 1202.0,349.0 1203.0,350.0 1231.0,350.0 1232.0,351.0 1257.0,351.0 1258.0,352.0 1263.0,352.0 1264.0,353.0 1269.0,353.0 1270.0,354.0 1274.0,354.0 1275.0,355.0 1280.0,355.0 1281.0,356.0 1284.0,356.0 1287.0,358.0 1289.0,358.0 1292.0,360.0 1294.0,360.0 1297.0,362.0 1299.0,362.0 1300.0,363.0 1303.0,364.0 1305.0,366.0 1305.0,367.0 1308.0,370.0 1308.0,371.0 1310.0,373.0 1310.0,374.0 1312.0,376.0 1312.0,377.0 1315.0,380.0 1315.0,381.0 1316.0,381.0 1316.0,382.0 1317.0,383.0 1317.0,385.0 1318.0,386.0 1318.0,388.0 1319.0,389.0 1319.0,391.0 1320.0,392.0 1320.0,394.0 1321.0,395.0 1321.0,397.0 1322.0,398.0 1322.0,400.0 1323.0,401.0 1323.0,403.0 1324.0,404.0 1324.0,406.0 1325.0,407.0 1325.0,413.0 1326.0,414.0 1326.0,417.0 1325.0,418.0 1325.0,419.0 1321.0,423.0 1321.0,424.0 1317.0,428.0 1317.0,429.0 1303.0,443.0 1302.0,443.0 1297.0,448.0 1297.0,449.0 1294.0,452.0 1293.0,452.0 1285.0,460.0 1284.0,460.0 1282.0,462.0 1281.0,462.0 1274.0,468.0 1273.0,468.0 1271.0,470.0 1270.0,470.0 1268.0,472.0 1267.0,472.0 1265.0,474.0 1264.0,474.0 1261.0,477.0 1260.0,477.0 1258.0,479.0 1257.0,479.0 1255.0,481.0 1254.0,481.0 1252.0,483.0 1251.0,483.0 1246.0,487.0 1244.0,487.0 1243.0,488.0 1240.0,488.0 1239.0,489.0 1237.0,489.0 1236.0,490.0 1234.0,490.0 1233.0,491.0 1231.0,491.0 1230.0,492.0 1228.0,492.0 1227.0,493.0 1225.0,493.0 1224.0,494.0 1222.0,494.0 1221.0,495.0 1219.0,495.0 1218.0,496.0 1216.0,496.0 1215.0,497.0 1213.0,497.0 1212.0,498.0 1210.0,498.0 1209.0,499.0 1207.0,499.0 1206.0,500.0 1204.0,500.0 1203.0,501.0 1201.0,501.0 1200.0,502.0 1198.0,502.0 1197.0,503.0 1195.0,503.0 1194.0,504.0 1192.0,504.0 1191.0,505.0 1188.0,505.0 1187.0,506.0 1185.0,506.0 1184.0,507.0 1182.0,507.0 1181.0,508.0 1179.0,508.0 1178.0,509.0 1176.0,509.0 1175.0,510.0 1173.0,510.0 1172.0,511.0 1170.0,511.0 1169.0,512.0 1167.0,512.0 1166.0,513.0 1163.0,513.0 1162.0,514.0 1160.0,514.0 1159.0,515.0 1157.0,515.0 1156.0,516.0 1154.0,516.0 1153.0,517.0 1151.0,517.0 1150.0,518.0 1147.0,518.0 1146.0,519.0 1144.0,519.0 1143.0,520.0 1141.0,520.0 1140.0,521.0 1137.0,521.0 1136.0,522.0 1134.0,522.0 1133.0,523.0 1131.0,523.0 1130.0,524.0 1127.0,524.0 1127.0,525.0 1124.0,525.0 1123.0,526.0 1121.0,526.0 1120.0,527.0"/>
<path d="M943.0,326.1 948.0,327.8 953.0,327.8 957.0,326.4 962.0,323.0 965.0,324.0 968.0,324.0 971.0,325.0 973.0,325.0 975.0,326.0 977.0,326.0 978.0,327.0 981.0,327.0 982.0,328.0 985.0,328.0 986.0,329.0 989.0,329.0 990.0,330.0 1002.0,330.0 1003.0,331.0 1043.0,331.0 1044.0,332.0 1061.0,332.0 1062.0,333.0 1079.0,333.0 1080.0,334.0 1096.0,334.0 1097.0,335.0 1113.0,335.0 1114.0,336.0 1126.0,336.0 1127.0,337.0 1138.0,337.0 1139.0,338.0 1146.0,338.0 1150.0,343.0 1150.0,349.0 1151.0,350.0 1150.0,351.0 1153.0,353.0 1157.0,353.0 1158.0,354.0 1162.0,354.0 1163.0,355.0 1167.0,355.0 1168.0,356.0 1172.0,356.0 1173.0,357.0 1181.0,357.0 1182.0,358.0 1211.0,358.0 1212.0,359.0 1226.0,359.0 1227.0,360.0 1239.0,360.0 1240.0,361.0 1250.0,361.0 1251.0,362.0 1255.0,362.0 1256.0,363.0 1260.0,363.0 1261.0,364.0 1265.0,364.0 1266.0,365.0 1270.0,365.0 1271.0,366.0 1275.0,366.0 1276.0,367.0 1277.0,367.0 1278.0,368.0 1281.0,369.0 1283.0,371.0 1284.0,371.0 1285.0,372.0 1288.0,373.0 1293.0,377.0 1294.0,377.0 1295.0,378.0 1296.0,378.0 1297.0,379.0 1298.0,379.0 1299.0,380.0 1300.0,380.0 1301.0,381.0 1302.0,381.0 1303.0,382.0 1306.0,383.0 1309.0,386.0 1310.0,389.0 1313.0,392.0 1314.0,395.0 1317.0,398.0 1317.0,399.0 1318.0,400.0 1318.0,403.0 1319.0,404.0 1319.0,409.0 1320.0,410.0 1320.0,416.0 1314.0,423.0 1314.0,424.0 1312.0,426.0 1311.0,429.0 1308.0,432.0 1308.0,433.0 1299.0,442.0 1299.0,443.0 1290.0,451.0 1290.0,452.0 1288.0,452.0 1285.0,455.0 1284.0,455.0 1279.0,460.0 1279.0,461.0 1276.0,462.0 1274.0,464.0 1273.0,464.0 1271.0,466.0 1270.0,466.0 1268.0,468.0 1267.0,468.0 1267.0,469.0 1266.0,470.0 1264.0,470.0 1263.0,471.0 1262.0,471.0 1261.0,472.0 1260.0,472.0 1259.0,473.0 1258.0,473.0 1257.0,474.0 1256.0,474.0 1251.0,477.0 1249.0,477.0 1248.0,478.0 1247.0,478.0 1246.0,479.0 1244.0,479.0 1243.0,480.0 1234.0,480.0 1233.0,481.0 1229.0,481.0 1228.0,482.0 1225.0,482.0 1222.0,484.0 1219.0,484.0 1216.0,486.0 1213.0,486.0 1210.0,488.0 1207.0,488.0 1204.0,490.0 1202.0,490.0 1201.0,491.0 1199.0,491.0 1198.0,492.0 1196.0,492.0 1195.0,493.0 1193.0,493.0 1192.0,494.0 1190.0,494.0 1189.0,495.0 1187.0,495.0 1186.0,496.0 1184.0,496.0 1183.0,497.0 1181.0,497.0 1180.0,498.0 1178.0,498.0 1177.0,499.0 1175.0,499.0 1174.0,500.0 1171.0,500.0 1170.0,501.0 1167.0,501.0 1164.0,503.0 1161.0,503.0 1160.0,504.0 1157.0,504.0 1156.0,505.0 1154.0,505.0 1153.0,506.0 1151.0,506.0 1150.0,507.0 1147.0,507.0 1146.0,508.0 1143.0,508.0 1142.0,509.0 1140.0,509.0 1139.0,510.0 1137.0,510.0 1136.0,511.0 1134.0,511.0 1133.0,512.0 1130.0,512.0 1129.0,513.0 1127.0,513.0 1126.0,514.0 1124.0,514.0 1123.0,515.0 1120.0,515.0 1119.0,516.0 1117.0,516.0 1116.0,517.0 1113.0,517.0 1112.0,518.0 1109.0,518.0 1108.0,519.0 1105.0,519.0 1104.0,520.0 1101.0,520.0 1100.0,521.0 1098.0,521.0 1097.0,522.0 1094.0,522.0 1093.0,523.0 1090.0,523.0 1089.0,524.0 1083.0,524.0 1082.0,525.0 1075.0,525.0 1074.0,526.0 1068.0,526.0 1068.0,527.0"/>
<path d="M943.0,331.4 950.0,332.4 955.0,331.5 958.9,329.0 961.0,325.0 962.0,324.0 963.0,324.0 964.0,325.0 969.0,325.0 970.0,326.0 973.0,326.0 974.0,327.0 976.0,327.0 977.0,328.0 980.0,328.0 981.0,329.0 984.0,329.0 985.0,330.0 988.0,330.0 989.0,331.0 999.0,331.0 1000.0,332.0 1013.0,332.0 1014.0,333.0 1028.0,333.0 1029.0,334.0 1043.0,334.0 1044.0,335.0 1059.0,335.0 1060.0,336.0 1075.0,335.9 1077.0,337.0 1086.0,336.9 1087.0,337.0 1088.0,338.0 1090.0,338.0 1091.0,339.0 1096.0,339.0 1097.0,340.0 1102.0,340.0 1103.0,341.0 1108.0,341.0 1109.0,342.0 1114.0,342.0 1115.0,343.0 1117.0,343.0 1119.0,346.0 1119.0,347.0 1118.0,348.0 1118.0,354.0 1120.0,356.0 1121.0,356.0 1124.0,358.0 1127.0,358.0 1128.0,359.0 1130.0,359.0 1131.0,360.0 1134.0,360.0 1135.0,361.0 1137.0,361.0 1138.0,362.0 1141.0,362.0 1142.0,363.0 1147.0,363.0 1148.0,364.0 1164.0,364.0 1165.0,365.0 1190.0,365.0 1191.0,366.0 1195.0,366.0 1196.0,367.0 1200.0,367.0 1201.0,368.0 1205.0,368.0 1206.0,369.0 1210.0,369.0 1211.0,370.0 1215.0,370.0 1216.0,371.0 1220.0,371.0 1221.0,372.0 1225.0,372.0 1226.0,373.0 1230.0,373.0 1231.0,374.0 1235.0,374.0 1236.0,375.0 1240.0,375.0 1241.0,376.0 1245.0,376.0 1246.0,377.0 1249.0,377.0 1250.0,378.0 1253.0,378.0 1254.0,379.0 1257.0,379.0 1258.0,380.0 1261.0,380.0 1262.0,381.0 1265.0,381.0 1266.0,382.0 1269.0,382.0 1271.0,384.0 1272.0,384.0 1275.0,386.0 1276.0,386.0 1276.0,387.0 1277.0,387.0 1278.0,388.0 1281.0,389.0 1298.0,406.0 1298.0,408.0 1299.0,409.0 1299.0,410.0 1300.0,411.0 1300.0,413.0 1301.0,414.0 1300.0,415.0 1300.0,425.0 1299.0,426.0 1299.0,428.0 1298.0,429.0 1298.0,430.0 1296.0,432.0 1296.0,433.0 1294.0,435.0 1294.0,436.0 1293.0,437.0 1293.0,438.0 1291.0,440.0 1291.0,441.0 1287.0,445.0 1284.0,446.0 1282.0,448.0 1281.0,448.0 1279.0,450.0 1278.0,450.0 1276.0,452.0 1275.0,452.0 1273.0,454.0 1272.0,454.0 1269.0,456.0 1267.0,456.0 1266.0,457.0 1264.0,457.0 1263.0,458.0 1261.0,458.0 1258.0,460.0 1256.0,460.0 1255.0,461.0 1253.0,461.0 1252.0,462.0 1250.0,462.0 1249.0,463.0 1246.0,463.0 1245.0,464.0 1243.0,464.0 1242.0,465.0 1240.0,465.0 1237.0,467.0 1235.0,467.0 1234.0,468.0 1232.0,468.0 1231.0,469.0 1229.0,469.0 1226.0,471.0 1224.0,471.0 1223.0,472.0 1221.0,472.0 1218.0,474.0 1216.0,474.0 1215.0,475.0 1213.0,475.0 1210.0,477.0 1208.0,477.0 1207.0,478.0 1205.0,478.0 1204.0,479.0 1201.0,479.0 1200.0,480.0 1198.0,480.0 1197.0,481.0 1195.0,481.0 1194.0,482.0 1192.0,482.0 1191.0,483.0 1189.0,483.0 1188.0,484.0 1186.0,484.0 1185.0,485.0 1183.0,485.0 1182.0,486.0 1180.0,486.0 1179.0,487.0 1177.0,487.0 1176.0,488.0 1174.0,488.0 1173.0,489.0 1170.0,489.0 1169.0,490.0 1167.0,490.0 1166.0,491.0 1163.0,491.0 1162.0,492.0 1160.0,492.0 1159.0,493.0 1156.0,493.0 1155.0,494.0 1152.0,494.0 1151.0,495.0 1149.0,495.0 1148.0,496.0 1145.0,496.0 1144.0,497.0 1142.0,497.0 1141.0,498.0 1138.0,498.0 1137.0,499.0 1135.0,499.0 1134.0,500.0 1131.0,500.0 1130.0,501.0 1128.0,501.0 1127.0,502.0 1124.0,502.0 1123.0,503.0 1121.0,503.0 1120.0,504.0 1117.0,504.0 1116.0,505.0 1113.0,505.0 1112.0,506.0 1110.0,506.0 1109.0,507.0 1106.0,507.0 1105.0,508.0 1102.0,508.0 1101.0,509.0 1098.0,509.0 1097.0,510.0 1095.0,510.0 1094.0,511.0 1091.0,511.0 1090.0,512.0 1087.0,512.0 1086.0,513.0 1083.0,513.0 1082.0,514.0 1080.0,514.0 1079.0,515.0 1076.0,515.0 1075.0,516.0 1071.0,516.0 1070.0,517.0 1065.0,517.0 1064.0,518.0 1059.0,518.0 1058.0,519.0 1053.0,519.0 1052.0,520.0 1047.0,520.0 1046.0,521.0 1041.0,521.0 1040.0,522.0 1035.0,522.0 1034.0,523.0 1028.0,523.0 1027.0,524.0 1021.0,524.0 1020.0,525.0 1014.0,525.0 1013.0,526.0 1008.0,526.0 1008.0,527.0"/>
<path d="M943.0,337.7 946.0,338.4 950.0,338.6 957.0,336.8 961.0,334.5 964.0,332.0 968.0,326.0 969.0,327.0 971.0,327.0 972.0,328.0 974.0,328.0 975.0,329.0 977.0,329.0 978.0,330.0 982.0,330.0 983.0,331.0 987.0,331.0 988.0,332.0 991.0,332.0 992.0,333.0 999.0,333.0 1000.0,334.0 1019.0,334.0 1020.0,335.0 1039.0,335.0 1040.0,336.0 1058.0,336.0 1059.0,337.0 1072.0,337.0 1072.9,339.0 1075.0,339.8 1077.0,338.0 1081.0,338.0 1082.7,341.0 1084.0,342.0 1086.0,342.8 1088.0,342.4 1090.0,344.0 1090.0,345.0 1091.0,346.0 1089.0,348.0 1089.0,349.0 1087.0,352.0 1088.0,355.0 1089.0,356.0 1090.0,356.0 1090.0,357.0 1092.0,357.0 1093.0,358.0 1095.0,358.0 1098.0,360.0 1100.0,360.0 1101.0,361.0 1102.0,361.0 1103.0,362.0 1105.0,362.0 1106.0,363.0 1109.0,363.0 1110.0,364.0 1113.0,364.0 1114.0,365.0 1117.0,365.0 1118.0,366.0 1121.0,366.0 1122.0,367.0 1125.0,367.0 1126.0,368.0 1129.0,368.0 1130.0,369.0 1139.0,369.0 1140.0,370.0 1148.0,370.0 1149.0,371.0 1154.0,371.0 1155.0,372.0 1160.0,372.0 1161.0,373.0 1166.0,373.0 1167.0,374.0 1172.0,374.0 1173.0,375.0 1178.0,375.0 1179.0,376.0 1184.0,376.0 1185.0,377.0 1190.0,377.0 1191.0,378.0 1194.0,378.0 1195.0,379.0 1198.0,379.0 1199.0,380.0 1201.0,380.0 1202.0,381.0 1205.0,381.0 1206.0,382.0 1208.0,382.0 1209.0,383.0 1212.0,383.0 1213.0,384.0 1216.0,384.0 1217.0,385.0 1220.0,385.0 1221.0,386.0 1224.0,386.0 1225.0,387.0 1228.0,387.0 1231.0,389.0 1233.0,389.0 1234.0,390.0 1236.0,390.0 1237.0,391.0 1239.0,391.0 1240.0,392.0 1242.0,392.0 1243.0,393.0 1245.0,393.0 1246.0,394.0 1248.0,394.0 1249.0,395.0 1251.0,395.0 1252.0,396.0 1254.0,396.0 1255.0,397.0 1258.0,398.0 1260.0,400.0 1261.0,400.0 1264.0,403.0 1267.0,404.0 1267.0,405.0 1268.0,405.0 1271.0,408.0 1271.0,409.0 1272.0,410.0 1272.0,411.0 1275.0,416.0 1275.0,422.0 1274.0,423.0 1274.0,428.0 1273.0,429.0 1273.0,430.0 1271.0,432.0 1271.0,433.0 1269.0,436.0 1269.0,437.0 1268.0,437.0 1268.0,438.0 1260.0,447.0 1259.0,447.0 1257.0,449.0 1254.0,450.0 1252.0,452.0 1251.0,452.0 1249.0,454.0 1248.0,454.0 1246.0,456.0 1245.0,456.0 1243.0,458.0 1242.0,458.0 1239.0,460.0 1236.0,460.0 1235.0,461.0 1233.0,461.0 1232.0,462.0 1229.0,462.0 1228.0,463.0 1226.0,463.0 1225.0,464.0 1222.0,464.0 1221.0,465.0 1219.0,465.0 1218.0,466.0 1215.0,466.0 1214.0,467.0 1211.0,467.0 1210.0,468.0 1207.0,468.0 1206.0,469.0 1203.0,469.0 1202.0,470.0 1199.0,470.0 1198.0,471.0 1195.0,471.0 1194.0,472.0 1191.0,472.0 1190.0,473.0 1187.0,473.0 1186.0,474.0 1183.0,474.0 1182.0,475.0 1180.0,475.0 1179.0,476.0 1176.0,476.0 1175.0,477.0 1172.0,477.0 1171.0,478.0 1168.0,478.0 1167.0,479.0 1164.0,479.0 1163.0,480.0 1160.0,480.0 1159.0,481.0 1156.0,481.0 1155.0,482.0 1152.0,482.0 1151.0,483.0 1148.0,483.0 1147.0,484.0 1144.0,484.0 1143.0,485.0 1140.0,485.0 1139.0,486.0 1136.0,486.0 1135.0,487.0 1132.0,487.0 1131.0,488.0 1128.0,488.0 1127.0,489.0 1124.0,489.0 1123.0,490.0 1120.0,490.0 1119.0,491.0 1116.0,491.0 1115.0,492.0 1112.0,492.0 1111.0,493.0 1107.0,493.0 1106.0,494.0 1103.0,494.0 1102.0,495.0 1098.0,495.0 1097.0,496.0 1093.0,496.0 1092.0,497.0 1089.0,497.0 1088.0,498.0 1084.0,498.0 1083.0,499.0 1080.0,499.0 1079.0,500.0 1076.0,500.0 1075.0,501.0 1071.0,501.0 1070.0,502.0 1067.0,502.0 1066.0,503.0 1062.0,503.0 1061.0,504.0 1057.0,504.0 1056.0,505.0 1053.0,505.0 1052.0,506.0 1048.0,506.0 1047.0,507.0 1043.0,507.0 1042.0,508.0 1038.0,508.0 1037.0,509.0 1033.0,509.0 1032.0,510.0 1028.0,510.0 1027.0,511.0 1023.0,511.0 1022.0,512.0 1018.0,512.0 1017.0,513.0 1013.0,513.0 1012.0,514.0 1008.0,514.0 1007.0,515.0 1003.0,515.0 1002.0,516.0 998.0,516.0 997.0,517.0 993.0,517.0 992.0,518.0 988.0,518.0 987.0,519.0 983.0,519.0 982.0,520.0 978.0,520.0 977.0,521.0 971.0,521.0 970.0,522.0 964.0,522.0 963.0,523.0 958.0,523.0 957.0,524.0 950.0,524.0 949.0,523.0 949.0,522.0 946.0,519.0 946.0,518.0 945.0,518.0 945.0,519.0 943.0,519.6"/>
<path d="M943.0,348.5 950.0,347.8 956.0,346.1 960.0,344.0 961.0,344.0 963.0,342.0 964.0,342.0 966.0,339.0 967.0,339.0 969.0,341.0 969.0,342.0 974.0,342.0 975.0,341.0 978.0,341.0 979.0,340.0 982.0,340.0 983.0,339.0 985.0,339.0 990.0,342.0 1000.0,342.0 1001.0,341.0 1022.0,341.0 1023.0,342.0 1035.0,342.0 1036.0,343.0 1047.0,343.0 1048.0,344.0 1051.0,344.0 1054.0,347.0 1054.0,348.0 1053.0,349.0 1053.0,355.0 1057.0,359.0 1058.0,359.0 1061.0,361.0 1063.0,361.0 1064.0,362.0 1066.0,362.0 1069.0,364.0 1072.0,364.0 1073.0,365.0 1075.0,365.0 1076.0,366.0 1079.0,366.0 1080.0,367.0 1083.0,367.0 1084.0,368.0 1087.0,368.0 1088.0,369.0 1090.0,369.0 1091.0,370.0 1094.0,370.0 1095.0,371.0 1098.0,371.0 1099.0,372.0 1102.0,372.0 1103.0,373.0 1105.0,373.0 1106.0,374.0 1110.0,374.0 1111.0,375.0 1115.0,375.0 1116.0,376.0 1121.0,376.0 1122.0,377.0 1126.0,377.0 1127.0,378.0 1142.0,378.0 1143.0,379.0 1152.0,379.0 1153.0,380.0 1156.0,380.0 1157.0,381.0 1160.0,381.0 1161.0,382.0 1165.0,382.0 1166.0,383.0 1169.0,383.0 1170.0,384.0 1173.0,384.0 1174.0,385.0 1176.0,385.0 1177.0,386.0 1179.0,386.0 1180.0,387.0 1182.0,387.0 1183.0,388.0 1185.0,388.0 1186.0,389.0 1188.0,389.0 1191.0,391.0 1193.0,391.0 1194.0,392.0 1196.0,392.0 1197.0,393.0 1199.0,393.0 1200.0,394.0 1202.0,394.0 1205.0,396.0 1207.0,396.0 1210.0,398.0 1212.0,398.0 1213.0,399.0 1214.0,399.0 1215.0,400.0 1216.0,400.0 1217.0,401.0 1218.0,401.0 1219.0,402.0 1220.0,402.0 1225.0,405.0 1227.0,405.0 1228.0,406.0 1229.0,406.0 1230.0,407.0 1233.0,408.0 1234.0,409.0 1234.0,410.0 1239.0,415.0 1239.0,416.0 1242.0,419.0 1242.0,421.0 1241.0,422.0 1241.0,427.0 1240.0,428.0 1240.0,429.0 1238.0,431.0 1238.0,432.0 1237.0,433.0 1237.0,434.0 1236.0,435.0 1235.0,438.0 1225.0,449.0 1224.0,449.0 1219.0,452.0 1217.0,452.0 1216.0,453.0 1214.0,453.0 1211.0,455.0 1209.0,455.0 1206.0,457.0 1204.0,457.0 1201.0,459.0 1198.0,459.0 1197.0,460.0 1191.0,460.0 1190.0,461.0 1184.0,461.0 1183.0,462.0 1179.0,462.0 1178.0,463.0 1175.0,463.0 1174.0,464.0 1171.0,464.0 1170.0,465.0 1167.0,465.0 1166.0,466.0 1162.0,466.0 1161.0,467.0 1158.0,467.0 1157.0,468.0 1154.0,468.0 1153.0,469.0 1149.0,469.0 1148.0,470.0 1145.0,470.0 1144.0,471.0 1141.0,471.0 1140.0,472.0 1137.0,472.0 1136.0,473.0 1133.0,473.0 1132.0,474.0 1129.0,474.0 1128.0,475.0 1125.0,475.0 1124.0,476.0 1121.0,476.0 1120.0,477.0 1117.0,477.0 1116.0,478.0 1113.0,478.0 1112.0,479.0 1109.0,479.0 1108.0,480.0 1104.0,480.0 1103.0,481.0 1100.0,481.0 1099.0,482.0 1095.0,482.0 1094.0,483.0 1090.0,483.0 1089.0,484.0 1085.0,484.0 1084.0,485.0 1080.0,485.0 1079.0,486.0 1075.0,486.0 1074.0,487.0 1070.0,487.0 1069.0,488.0 1065.0,488.0 1064.0,489.0 1060.0,489.0 1059.0,490.0 1055.0,490.0 1054.0,491.0 1050.0,491.0 1049.0,492.0 1045.0,492.0 1044.0,493.0 1040.0,493.0 1039.0,494.0 1035.0,494.0 1034.0,495.0 1030.0,495.0 1029.0,496.0 1025.0,496.0 1024.0,497.0 1020.0,497.0 1019.0,498.0 1015.0,498.0 1014.0,499.0 1010.0,499.0 1009.0,500.0 1005.0,500.0 1004.0,501.0 1000.0,501.0 999.0,502.0 995.0,502.0 994.0,503.0 990.0,503.0 989.0,504.0 985.0,504.0 984.0,505.0 980.0,505.0 979.0,506.0 976.0,506.0 975.0,507.0 971.0,507.0 970.0,508.0 966.0,508.0 965.0,509.0 961.0,509.0 960.0,510.0 956.0,510.0 955.0,511.0 953.0,511.0 949.0,507.0 949.0,506.0 947.0,504.0 946.0,504.0 947.0,505.0 943.0,505.9"/>
<path d="M943.0,361.1 950.0,360.7 957.0,359.3 963.8,357.0 970.0,353.8 978.0,354.0 979.0,355.0 980.0,355.0 981.0,356.0 981.0,357.0 984.0,358.0 984.0,359.0 986.0,359.0 987.0,360.0 990.0,360.0 991.0,361.0 994.0,361.0 995.0,362.0 999.0,362.0 1000.0,363.0 1003.0,363.0 1004.0,364.0 1006.0,364.0 1007.0,365.0 1011.0,365.0 1012.0,366.0 1016.0,366.0 1017.0,367.0 1021.0,367.0 1022.0,368.0 1026.0,368.0 1027.0,369.0 1031.0,369.0 1032.0,370.0 1036.0,370.0 1037.0,371.0 1041.0,371.0 1042.0,372.0 1046.0,372.0 1047.0,373.0 1050.0,373.0 1051.0,374.0 1054.0,374.0 1055.0,375.0 1059.0,375.0 1060.0,376.0 1063.0,376.0 1064.0,377.0 1067.0,377.0 1068.0,378.0 1071.0,378.0 1072.0,379.0 1076.0,379.0 1077.0,380.0 1080.0,380.0 1081.0,381.0 1085.0,381.0 1086.0,382.0 1090.0,382.0 1091.0,383.0 1095.0,383.0 1096.0,384.0 1100.0,384.0 1101.0,385.0 1105.0,385.0 1106.0,386.0 1110.0,386.0 1111.0,387.0 1115.0,387.0 1116.0,388.0 1124.0,388.0 1125.0,389.0 1136.0,389.0 1137.0,390.0 1148.0,390.0 1149.0,391.0 1151.0,391.0 1152.0,392.0 1154.0,392.0 1157.0,394.0 1159.0,394.0 1162.0,396.0 1164.0,396.0 1167.0,398.0 1169.0,398.0 1172.0,400.0 1174.0,400.0 1175.0,401.0 1178.0,402.0 1182.0,406.0 1183.0,406.0 1186.0,409.0 1187.0,409.0 1190.0,412.0 1191.0,412.0 1195.0,416.0 1195.0,417.0 1199.0,421.0 1199.0,422.0 1202.0,425.0 1202.0,426.0 1201.0,427.0 1201.0,429.0 1200.0,430.0 1199.0,433.0 1197.0,435.0 1197.0,436.0 1192.0,441.0 1190.0,441.0 1187.0,443.0 1185.0,443.0 1184.0,444.0 1183.0,444.0 1180.0,446.0 1178.0,446.0 1177.0,447.0 1173.0,447.0 1172.0,448.0 1169.0,448.0 1168.0,449.0 1165.0,449.0 1164.0,450.0 1160.0,450.0 1159.0,451.0 1156.0,451.0 1155.0,452.0 1152.0,452.0 1151.0,453.0 1148.0,453.0 1147.0,454.0 1143.0,454.0 1142.0,455.0 1139.0,455.0 1138.0,456.0 1135.0,456.0 1134.0,457.0 1130.0,457.0 1129.0,458.0 1126.0,458.0 1125.0,459.0 1122.0,459.0 1121.0,460.0 1118.0,460.0 1117.0,461.0 1113.0,461.0 1112.0,462.0 1110.0,462.0 1109.0,463.0 1106.0,463.0 1105.0,464.0 1102.0,464.0 1101.0,465.0 1099.0,465.0 1098.0,466.0 1095.0,466.0 1094.0,467.0 1092.0,467.0 1091.0,468.0 1088.0,468.0 1087.0,469.0 1084.0,469.0 1083.0,470.0 1081.0,470.0 1080.0,471.0 1077.0,471.0 1076.0,472.0 1073.0,472.0 1072.0,473.0 1070.0,473.0 1069.0,474.0 1066.0,474.0 1065.0,475.0 1062.0,475.0 1061.0,476.0 1059.0,476.0 1058.0,477.0 1054.0,477.0 1053.0,478.0 1050.0,478.0 1049.0,479.0 1045.0,479.0 1044.0,480.0 1041.0,480.0 1040.0,481.0 1036.0,481.0 1035.0,482.0 1032.0,482.0 1031.0,483.0 1028.0,483.0 1027.0,484.0 1023.0,484.0 1022.0,485.0 1019.0,485.0 1018.0,486.0 1014.0,486.0 1013.0,487.0 1010.0,487.0 1009.0,488.0 1005.0,488.0 1004.0,489.0 1001.0,489.0 1000.0,490.0 996.0,490.0 995.0,491.0 992.0,491.0 991.0,492.0 987.0,492.0 986.0,493.0 983.0,493.0 982.0,494.0 979.0,494.0 978.0,495.0 974.0,495.0 973.0,496.0 970.0,496.0 969.0,497.0 965.0,497.0 964.0,498.0 961.0,498.0 960.0,499.0 956.0,499.0 955.0,500.0 953.0,500.0 952.0,499.0 952.0,498.0 947.0,493.0 947.0,494.0 943.0,494.5"/>
<path d="M943.0,376.7 957.0,377.4 961.0,379.0 960.0,380.0 961.0,380.0 963.0,378.0 963.0,377.0 967.0,373.0 968.0,373.0 972.0,378.0 975.0,378.0 976.0,379.0 984.0,379.0 985.0,380.0 994.0,380.0 995.0,381.0 1000.0,381.0 1001.0,382.0 1005.0,382.0 1006.0,383.0 1010.0,383.0 1011.0,384.0 1015.0,384.0 1016.0,385.0 1020.0,385.0 1021.0,386.0 1025.0,386.0 1026.0,387.0 1030.0,387.0 1031.0,388.0 1035.0,388.0 1036.0,389.0 1040.0,389.0 1041.0,390.0 1045.0,390.0 1046.0,391.0 1050.0,391.0 1051.0,392.0 1055.0,392.0 1056.0,393.0 1060.0,393.0 1061.0,394.0 1065.0,394.0 1066.0,395.0 1070.0,395.0 1071.0,396.0 1074.0,396.0 1075.0,397.0 1077.0,397.0 1078.0,398.0 1081.0,398.0 1082.0,399.0 1085.0,399.0 1086.0,400.0 1089.0,400.0 1090.0,401.0 1092.0,401.0 1093.0,402.0 1096.0,402.0 1097.0,403.0 1099.0,403.0 1100.0,404.0 1103.0,404.0 1104.0,405.0 1107.0,405.0 1108.0,406.0 1111.0,406.0 1112.0,407.0 1114.0,407.0 1115.0,408.0 1118.0,408.0 1119.0,409.0 1122.0,409.0 1123.0,410.0 1126.0,410.0 1127.0,411.0 1130.0,411.0 1131.0,412.0 1133.0,412.0 1134.0,413.0 1137.0,413.0 1138.0,414.0 1141.0,414.0 1142.0,415.0 1143.0,415.0 1145.0,417.0 1146.0,417.0 1151.0,420.0 1152.0,420.0 1152.0,421.0 1153.0,421.0 1154.0,422.0 1155.0,422.0 1160.0,425.0 1158.0,427.0 1157.0,427.0 1155.0,429.0 1154.0,429.0 1152.0,431.0 1151.0,431.0 1149.0,433.0 1148.0,433.0 1146.0,435.0 1145.0,435.0 1143.0,437.0 1142.0,437.0 1140.0,439.0 1139.0,439.0 1138.0,440.0 1136.0,440.0 1135.0,441.0 1133.0,441.0 1130.0,443.0 1127.0,443.0 1124.0,445.0 1122.0,445.0 1121.0,446.0 1119.0,446.0 1116.0,448.0 1114.0,448.0 1113.0,449.0 1111.0,449.0 1108.0,451.0 1105.0,451.0 1104.0,452.0 1103.0,452.0 1102.0,453.0 1100.0,453.0 1099.0,454.0 1096.0,454.0 1095.0,455.0 1092.0,455.0 1091.0,456.0 1088.0,456.0 1087.0,457.0 1084.0,457.0 1083.0,458.0 1080.0,458.0 1079.0,459.0 1076.0,459.0 1075.0,460.0 1072.0,460.0 1071.0,461.0 1068.0,461.0 1067.0,462.0 1064.0,462.0 1063.0,463.0 1060.0,463.0 1059.0,464.0 1056.0,464.0 1055.0,465.0 1052.0,465.0 1051.0,466.0 1048.0,466.0 1047.0,467.0 1044.0,467.0 1043.0,468.0 1039.0,468.0 1038.0,469.0 1035.0,469.0 1034.0,470.0 1030.0,470.0 1029.0,471.0 1026.0,471.0 1025.0,472.0 1021.0,472.0 1020.0,473.0 1017.0,473.0 1016.0,474.0 1013.0,474.0 1012.0,475.0 1008.0,475.0 1007.0,476.0 1004.0,476.0 1003.0,477.0 999.0,477.0 998.0,478.0 995.0,478.0 994.0,479.0 990.0,479.0 989.0,480.0 986.0,480.0 985.0,481.0 981.0,481.0 980.0,482.0 976.0,482.0 975.0,483.0 972.0,483.0 971.0,484.0 967.0,484.0 966.0,485.0 962.0,485.0 961.0,486.0 958.0,486.0 957.0,487.0 954.0,487.0 948.0,481.0 948.0,482.0 947.0,482.3 943.0,482.5M1160.0,425.0 1161.0,425.0 1160.0,425.0"/>
<path d="M943.0,392.2 959.0,392.4 960.0,393.0 961.0,392.0 964.0,391.0 968.0,395.0 971.0,395.0 972.0,394.0 974.0,394.0 975.0,393.0 976.0,394.0 981.0,394.0 982.0,395.0 988.0,395.0 989.0,396.0 994.0,396.0 995.0,397.0 999.0,397.0 1000.0,398.0 1006.0,398.0 1007.0,399.0 1012.0,399.0 1013.0,400.0 1017.0,400.0 1018.0,401.0 1023.0,401.0 1024.0,402.0 1029.0,402.0 1030.0,403.0 1034.0,403.0 1035.0,404.0 1040.0,404.0 1041.0,405.0 1046.0,405.0 1047.0,406.0 1052.0,406.0 1053.0,407.0 1057.0,407.0 1058.0,408.0 1061.0,408.0 1062.0,409.0 1066.0,409.0 1067.0,410.0 1070.0,410.0 1071.0,411.0 1074.0,411.0 1075.0,412.0 1078.0,412.0 1079.0,413.0 1083.0,413.0 1084.0,414.0 1087.0,414.0 1088.0,415.0 1091.0,415.0 1092.0,416.0 1094.0,416.0 1095.0,417.0 1096.0,417.0 1097.0,418.0 1098.0,418.0 1099.0,419.0 1100.0,419.0 1105.0,422.0 1107.0,422.0 1108.0,423.0 1109.0,423.0 1111.0,425.0 1106.0,430.0 1103.0,431.0 1101.0,433.0 1100.0,433.0 1099.0,434.0 1098.0,434.0 1097.0,435.0 1096.0,435.0 1095.0,436.0 1094.0,436.0 1093.0,437.0 1092.0,437.0 1091.0,438.0 1090.0,438.0 1085.0,441.0 1082.0,441.0 1081.0,442.0 1079.0,442.0 1078.0,443.0 1076.0,443.0 1075.0,444.0 1073.0,444.0 1072.0,445.0 1069.0,445.0 1068.0,446.0 1066.0,446.0 1065.0,447.0 1062.0,447.0 1061.0,448.0 1059.0,448.0 1058.0,449.0 1056.0,449.0 1055.0,450.0 1053.0,450.0 1052.0,451.0 1049.0,451.0 1048.0,452.0 1045.0,452.0 1044.0,453.0 1040.0,453.0 1039.0,454.0 1035.0,454.0 1034.0,455.0 1030.0,455.0 1029.0,456.0 1025.0,456.0 1024.0,457.0 1020.0,457.0 1019.0,458.0 1015.0,458.0 1014.0,459.0 1010.0,459.0 1009.0,460.0 1005.0,460.0 1004.0,461.0 1000.0,461.0 999.0,462.0 995.0,462.0 994.0,463.0 991.0,463.0 990.0,464.0 986.0,464.0 985.0,465.0 982.0,465.0 981.0,466.0 978.0,466.0 977.0,467.0 974.0,467.0 973.0,468.0 970.0,468.0 969.0,469.0 966.0,469.0 965.0,470.0 961.0,470.0 960.0,471.0 957.0,471.0 956.0,472.0 953.0,472.0 951.0,470.0 950.0,470.0 949.0,469.0 949.0,468.0 948.0,467.0 948.0,468.0 947.0,468.8 943.0,469.2M953.0,473.0 953.0,472.0 953.0,473.0"/>
<path d="M943.0,405.7 946.0,406.3 954.0,409.2 958.9,409.0 960.8,408.0 961.0,407.0 964.0,409.0 965.0,409.0 965.0,410.0 966.0,410.0 967.0,411.0 969.0,411.0 972.0,409.0 974.0,409.0 975.0,410.0 980.0,410.0 981.0,411.0 985.0,411.0 986.0,412.0 991.0,412.0 992.0,413.0 996.0,413.0 997.0,414.0 1001.0,414.0 1002.0,415.0 1006.0,415.0 1007.0,416.0 1010.0,416.0 1011.0,417.0 1015.0,417.0 1016.0,418.0 1020.0,418.0 1021.0,419.0 1023.0,419.0 1024.0,420.0 1027.0,420.0 1028.0,421.0 1032.0,421.0 1033.0,422.0 1036.0,422.0 1037.0,423.0 1039.0,423.0 1042.0,428.0 1041.0,429.0 1040.0,429.0 1039.0,430.0 1036.0,431.0 1034.0,433.0 1033.0,433.0 1028.0,436.0 1026.0,436.0 1023.0,438.0 1021.0,438.0 1018.0,440.0 1016.0,440.0 1015.0,441.0 1014.0,441.0 1013.0,442.0 1011.0,442.0 1008.0,444.0 1006.0,444.0 1005.0,445.0 1002.0,445.0 1001.0,446.0 999.0,446.0 998.0,447.0 996.0,447.0 995.0,448.0 992.0,448.0 991.0,449.0 989.0,449.0 988.0,450.0 986.0,450.0 985.0,451.0 982.0,451.0 981.0,452.0 979.0,452.0 978.0,453.0 974.0,453.0 973.0,454.0 969.0,454.0 968.0,455.0 965.0,455.0 964.0,456.0 960.0,456.0 959.0,457.0 955.0,457.0 954.0,458.0 951.0,458.0 950.0,457.0 950.0,454.0 949.0,453.0 949.0,449.0 948.0,448.0 948.0,444.0 948.0,449.0 949.0,450.0 949.0,454.0 950.0,455.0 945.0,457.0 943.0,457.3"/>
</g>
<path d="M943.7,273.3 L955.7,269.6 L959.7,271.3 L962.3,276.7 L966.3,275.7 L974.3,276.3 L990.3,277.6 L1007.7,278.7 L1027.7,280.7 L1043.7,284.7 L1046.3,288.0 L1034.3,294.7 L1025.0,300.0 L1023.7,302.7 L1031.7,306.7 L1047.7,310.0 L1074.3,312.0 L1101.0,314.7 L1127.7,313.3 L1161.0,312.7 L1194.0,308.0 L1236.7,306.0 L1270.0,306.0 L1280.7,301.3 L1287.3,303.3 L1296.7,310.7 L1310.0,320.0 L1322.0,332.0 L1330.0,342.7 L1334.0,360.0 L1336.7,377.3 L1342.0,390.7 L1348.7,404.0 L1350.0,420.0 L1344.7,428.0 L1336.7,440.0 L1330.0,449.0 L1311.6,471.4 L1294.3,493.9 L1300.4,505.1 L1311.0,527.5 L1311.0,531.0 L940.0,531.0 L940.0,273.0Z" fill="none" stroke="#000" stroke-width="2"/>
<rect x="941.5" y="333" width="4" height="127" fill="#000"/>
</g>
<g stroke="#000" stroke-width="1.3" fill="none" shape-rendering="crispEdges">
<path d="M941.6,96.5 V531.25 H1380.6"/>
<path d="M941.6,531.2 h4.4"/>
<path d="M941.6,476.9 h4.4"/>
<path d="M941.6,422.6 h4.4"/>
<path d="M941.6,368.2 h4.4"/>
<path d="M941.6,313.9 h4.4"/>
<path d="M941.6,259.5 h4.4"/>
<path d="M941.6,205.2 h4.4"/>
<path d="M941.6,150.8 h4.4"/>
<path d="M941.6,96.5 h4.4"/>
<path d="M941.6,531.25 v-4.4"/>
<path d="M1014.8,531.25 v-4.4"/>
<path d="M1087.9,531.25 v-4.4"/>
<path d="M1161.1,531.25 v-4.4"/>
<path d="M1234.3,531.25 v-4.4"/>
<path d="M1307.4,531.25 v-4.4"/>
<path d="M1380.6,531.25 v-4.4"/>
</g>
<text x="934.1" y="541.5" text-anchor="end" font-size="21.5" >15</text>
<text x="934.1" y="487.2" text-anchor="end" font-size="21.5" >20</text>
<text x="934.1" y="432.9" text-anchor="end" font-size="21.5" >25</text>
<text x="934.1" y="378.5" text-anchor="end" font-size="21.5" >30</text>
<text x="934.1" y="324.2" text-anchor="end" font-size="21.5" >35</text>
<text x="934.1" y="269.8" text-anchor="end" font-size="21.5" >40</text>
<text x="934.1" y="215.5" text-anchor="end" font-size="21.5" >45</text>
<text x="934.1" y="161.1" text-anchor="end" font-size="21.5" >50</text>
<text x="934.1" y="106.8" text-anchor="end" font-size="21.5" >55</text>
<text x="941.6" y="562.8" text-anchor="middle" font-size="21.5" >0</text>
<text x="1014.8" y="562.8" text-anchor="middle" font-size="21.5" >10</text>
<text x="1087.9" y="562.8" text-anchor="middle" font-size="21.5" >20</text>
<text x="1161.1" y="562.8" text-anchor="middle" font-size="21.5" >30</text>
<text x="1234.3" y="562.8" text-anchor="middle" font-size="21.5" >40</text>
<text x="1307.4" y="562.8" text-anchor="middle" font-size="21.5" >50</text>
<text x="1380.6" y="562.8" text-anchor="middle" font-size="21.5" >60</text>
<text x="1161.1" y="593.5" text-anchor="middle" font-size="21.5" >LONGITUDE (E)</text>
<text transform="translate(896.1,315.375) rotate(-90)" text-anchor="middle" font-size="21.5">LATITUDE (N)</text>
<text x="1160.5" y="76.7" text-anchor="middle" font-size="21.5" textLength="599" lengthAdjust="spacingAndGlyphs" >expt_98.9 - MEAN (MEAN y51-y100) - THICKNESS LAYER 1</text>
<rect x="1414.4" y="526.49" width="42.20" height="7.11" fill="#00008f"/>
<rect x="1414.4" y="519.68" width="42.20" height="7.11" fill="#00009f"/>
<rect x="1414.4" y="512.87" width="42.20" height="7.11" fill="#0000af"/>
<rect x="1414.4" y="506.06" width="42.20" height="7.11" fill="#0000bf"/>
<rect x="1414.4" y="499.25" width="42.20" height="7.11" fill="#0000cf"/>
<rect x="1414.4" y="492.44" width="42.20" height="7.11" fill="#0000df"/>
<rect x="1414.4" y="485.63" width="42.20" height="7.11" fill="#0000ef"/>
<rect x="1414.4" y="478.82" width="42.20" height="7.11" fill="#0000ff"/>
<rect x="1414.4" y="472.01" width="42.20" height="7.11" fill="#0010ff"/>
<rect x="1414.4" y="465.20" width="42.20" height="7.11" fill="#0020ff"/>
<rect x="1414.4" y="458.39" width="42.20" height="7.11" fill="#0030ff"/>
<rect x="1414.4" y="451.58" width="42.20" height="7.11" fill="#0040ff"/>
<rect x="1414.4" y="444.77" width="42.20" height="7.11" fill="#0050ff"/>
<rect x="1414.4" y="437.96" width="42.20" height="7.11" fill="#0060ff"/>
<rect x="1414.4" y="431.15" width="42.20" height="7.11" fill="#0070ff"/>
<rect x="1414.4" y="424.34" width="42.20" height="7.11" fill="#0080ff"/>
<rect x="1414.4" y="417.53" width="42.20" height="7.11" fill="#008fff"/>
<rect x="1414.4" y="410.72" width="42.20" height="7.11" fill="#009fff"/>
<rect x="1414.4" y="403.91" width="42.20" height="7.11" fill="#00afff"/>
<rect x="1414.4" y="397.10" width="42.20" height="7.11" fill="#00bfff"/>
<rect x="1414.4" y="390.29" width="42.20" height="7.11" fill="#00cfff"/>
<rect x="1414.4" y="383.48" width="42.20" height="7.11" fill="#00dfff"/>
<rect x="1414.4" y="376.67" width="42.20" height="7.11" fill="#00efff"/>
<rect x="1414.4" y="369.86" width="42.20" height="7.11" fill="#00ffff"/>
<rect x="1414.4" y="363.05" width="42.20" height="7.11" fill="#10ffef"/>
<rect x="1414.4" y="356.24" width="42.20" height="7.11" fill="#20ffdf"/>
<rect x="1414.4" y="349.43" width="42.20" height="7.11" fill="#30ffcf"/>
<rect x="1414.4" y="342.62" width="42.20" height="7.11" fill="#40ffbf"/>
<rect x="1414.4" y="335.81" width="42.20" height="7.11" fill="#50ffaf"/>
<rect x="1414.4" y="329.00" width="42.20" height="7.11" fill="#60ff9f"/>
<rect x="1414.4" y="322.19" width="42.20" height="7.11" fill="#70ff8f"/>
<rect x="1414.4" y="315.38" width="42.20" height="7.11" fill="#80ff80"/>
<rect x="1414.4" y="308.56" width="42.20" height="7.11" fill="#8fff70"/>
<rect x="1414.4" y="301.75" width="42.20" height="7.11" fill="#9fff60"/>
<rect x="1414.4" y="294.94" width="42.20" height="7.11" fill="#afff50"/>
<rect x="1414.4" y="288.13" width="42.20" height="7.11" fill="#bfff40"/>
<rect x="1414.4" y="281.32" width="42.20" height="7.11" fill="#cfff30"/>
<rect x="1414.4" y="274.51" width="42.20" height="7.11" fill="#dfff20"/>
<rect x="1414.4" y="267.70" width="42.20" height="7.11" fill="#efff10"/>
<rect x="1414.4" y="260.89" width="42.20" height="7.11" fill="#ffff00"/>
<rect x="1414.4" y="254.08" width="42.20" height="7.11" fill="#ffef00"/>
<rect x="1414.4" y="247.27" width="42.20" height="7.11" fill="#ffdf00"/>
<rect x="1414.4" y="240.46" width="42.20" height="7.11" fill="#ffcf00"/>
<rect x="1414.4" y="233.65" width="42.20" height="7.11" fill="#ffbf00"/>
<rect x="1414.4" y="226.84" width="42.20" height="7.11" fill="#ffaf00"/>
<rect x="1414.4" y="220.03" width="42.20" height="7.11" fill="#ff9f00"/>
<rect x="1414.4" y="213.22" width="42.20" height="7.11" fill="#ff8f00"/>
<rect x="1414.4" y="206.41" width="42.20" height="7.11" fill="#ff8000"/>
<rect x="1414.4" y="199.60" width="42.20" height="7.11" fill="#ff7000"/>
<rect x="1414.4" y="192.79" width="42.20" height="7.11" fill="#ff6000"/>
<rect x="1414.4" y="185.98" width="42.20" height="7.11" fill="#ff5000"/>
<rect x="1414.4" y="179.17" width="42.20" height="7.11" fill="#ff4000"/>
<rect x="1414.4" y="172.36" width="42.20" height="7.11" fill="#ff3000"/>
<rect x="1414.4" y="165.55" width="42.20" height="7.11" fill="#ff2000"/>
<rect x="1414.4" y="158.74" width="42.20" height="7.11" fill="#ff1000"/>
<rect x="1414.4" y="151.93" width="42.20" height="7.11" fill="#ff0000"/>
<rect x="1414.4" y="145.12" width="42.20" height="7.11" fill="#ef0000"/>
<rect x="1414.4" y="138.31" width="42.20" height="7.11" fill="#df0000"/>
<rect x="1414.4" y="131.50" width="42.20" height="7.11" fill="#cf0000"/>
<rect x="1414.4" y="124.69" width="42.20" height="7.11" fill="#bf0000"/>
<rect x="1414.4" y="117.88" width="42.20" height="7.11" fill="#af0000"/>
<rect x="1414.4" y="111.07" width="42.20" height="7.11" fill="#9f0000"/>
<rect x="1414.4" y="104.26" width="42.20" height="7.11" fill="#8f0000"/>
<rect x="1414.4" y="97.45" width="42.20" height="7.11" fill="#800000"/>
<rect x="1414.4" y="97.45" width="42.20" height="435.85" fill="none" stroke="#000" stroke-width="1.3"/>
<g stroke="#000" stroke-width="1.3" shape-rendering="crispEdges">
<path d="M1414.4,481.3 h4.3 M1456.6,481.3 h-4.3"/>
<path d="M1414.4,430.3 h4.3 M1456.6,430.3 h-4.3"/>
<path d="M1414.4,379.3 h4.3 M1456.6,379.3 h-4.3"/>
<path d="M1414.4,328.3 h4.3 M1456.6,328.3 h-4.3"/>
<path d="M1414.4,277.3 h4.3 M1456.6,277.3 h-4.3"/>
<path d="M1414.4,226.3 h4.3 M1456.6,226.3 h-4.3"/>
<path d="M1414.4,175.3 h4.3 M1456.6,175.3 h-4.3"/>
<path d="M1414.4,124.3 h4.3 M1456.6,124.3 h-4.3"/>
</g>
<text x="1462.6" y="491.8" text-anchor="start" font-size="21.5" >50</text>
<text x="1462.6" y="440.8" text-anchor="start" font-size="21.5" >100</text>
<text x="1462.6" y="389.8" text-anchor="start" font-size="21.5" >150</text>
<text x="1462.6" y="338.8" text-anchor="start" font-size="21.5" >200</text>
<text x="1462.6" y="287.8" text-anchor="start" font-size="21.5" >250</text>
<text x="1462.6" y="236.8" text-anchor="start" font-size="21.5" >300</text>
<text x="1462.6" y="185.8" text-anchor="start" font-size="21.5" >350</text>
<text x="1462.6" y="134.8" text-anchor="start" font-size="21.5" >400</text>
<clipPath id="clip2"><path d="M217.5,703.5 L652.5,703.5 L652.5,1131.0 L217.5,1131.0Z"/></clipPath>
<g clip-path="url(#clip2)">
<path d="M217.5,703.5 652.5,703.5 652.5,1131.5 217.5,1131.5 217.5,703.5ZM228.5,773.5 228.5,806.5 229.5,807.5 229.5,818.5 231.5,818.5 232.5,819.5 240.5,819.5 241.5,820.5 243.5,820.5 248.5,823.5 250.5,823.5 253.5,825.5 255.5,825.5 258.5,827.5 260.5,827.5 261.5,828.5 264.5,828.5 265.5,829.5 268.5,829.5 269.5,830.5 271.5,830.5 272.5,831.5 275.5,831.5 276.5,832.5 279.5,832.5 280.5,833.5 281.5,833.5 282.5,834.5 283.5,834.5 284.5,835.5 285.5,835.5 290.5,838.5 291.5,838.5 291.5,839.5 292.5,839.5 293.5,840.5 294.5,840.5 295.5,841.5 298.5,842.5 300.5,844.5 301.5,844.5 304.5,847.5 305.5,847.5 308.5,850.5 309.5,850.5 309.5,851.5 310.5,851.5 315.5,856.5 316.5,856.5 319.5,859.5 320.5,859.5 321.5,860.5 322.5,860.5 323.5,861.5 324.5,861.5 329.5,864.5 334.5,864.5 335.5,865.5 339.5,865.5 340.5,866.5 344.5,866.5 345.5,867.5 356.5,867.5 357.5,868.5 372.5,868.5 373.5,869.5 386.5,869.5 387.5,870.5 410.5,870.5 411.5,871.5 437.5,871.5 438.5,870.5 441.5,870.5 442.5,869.5 444.5,869.5 445.5,868.5 447.5,868.5 448.5,867.5 451.5,867.5 452.5,866.5 455.5,866.5 456.5,865.5 459.5,865.5 460.5,864.5 462.5,864.5 463.5,863.5 465.5,863.5 466.5,862.5 492.5,862.5 493.5,861.5 495.5,861.5 498.5,859.5 499.5,859.5 498.5,858.5 497.5,858.5 492.5,855.5 490.5,855.5 489.5,854.5 488.5,854.5 487.5,853.5 484.5,852.5 482.5,850.5 481.5,850.5 480.5,849.5 478.5,849.5 477.5,848.5 477.5,847.5 476.5,847.5 475.5,846.5 463.5,846.5 462.5,845.5 461.5,845.5 458.5,847.5 456.5,847.5 455.5,848.5 453.5,848.5 452.5,849.5 450.5,849.5 449.5,850.5 446.5,850.5 445.5,849.5 441.5,849.5 440.5,848.5 436.5,848.5 435.5,847.5 432.5,847.5 429.5,845.5 426.5,845.5 425.5,844.5 424.5,844.5 419.5,841.5 417.5,841.5 414.5,839.5 412.5,839.5 411.5,838.5 410.5,838.5 409.5,837.5 409.5,836.5 407.5,834.5 406.5,834.5 405.5,833.5 405.5,832.5 404.5,832.5 403.5,831.5 403.5,830.5 402.5,830.5 394.5,822.5 392.5,822.5 391.5,821.5 391.5,820.5 389.5,820.5 388.5,819.5 388.5,818.5 387.5,818.5 385.5,816.5 385.5,815.5 383.5,813.5 383.5,812.5 380.5,807.5 375.5,807.5 374.5,806.5 370.5,806.5 369.5,805.5 364.5,805.5 363.5,804.5 357.5,804.5 356.5,803.5 350.5,803.5 349.5,802.5 346.5,802.5 343.5,800.5 341.5,800.5 340.5,799.5 338.5,799.5 337.5,798.5 336.5,798.5 335.5,797.5 333.5,797.5 330.5,795.5 326.5,795.5 325.5,794.5 318.5,794.5 317.5,793.5 311.5,793.5 310.5,792.5 303.5,792.5 302.5,791.5 297.5,791.5 296.5,790.5 293.5,790.5 292.5,789.5 287.5,789.5 286.5,788.5 283.5,788.5 282.5,787.5 280.5,787.5 279.5,786.5 277.5,786.5 276.5,785.5 274.5,785.5 273.5,784.5 271.5,784.5 270.5,783.5 268.5,783.5 267.5,782.5 265.5,782.5 264.5,781.5 263.5,781.5 263.0,778.5 260.5,776.5 258.5,776.7 256.5,778.5 256.5,779.5 255.5,779.5 254.5,778.5 251.5,778.5 250.5,777.5 246.5,777.5 245.5,776.5 242.5,776.5 241.5,775.5 237.5,775.5 236.5,774.5 233.5,774.5 232.5,773.5 228.5,773.5Z" fill="#0000bf" fill-rule="evenodd"/>
<path d="M217.5,703.5 652.5,703.5 652.5,1131.5 217.5,1131.5 217.5,703.5ZM303.5,723.5 302.5,724.5 299.5,724.5 298.5,725.5 295.5,725.5 294.5,726.5 292.5,726.5 291.5,727.5 258.5,727.5 257.5,728.5 243.5,728.5 242.5,729.5 241.5,729.5 240.5,730.5 238.5,730.5 237.5,731.5 235.5,731.5 233.5,729.5 232.5,729.5 230.5,727.5 229.5,727.5 228.5,726.5 227.5,726.5 226.5,727.5 224.5,727.5 224.5,798.5 225.5,799.5 225.5,806.5 226.5,807.5 226.5,813.5 227.5,814.5 227.5,821.5 228.5,822.5 228.5,828.5 229.5,829.5 229.5,833.5 231.5,833.5 232.5,834.5 236.5,834.5 237.5,835.5 241.5,835.5 242.5,836.5 245.5,836.5 246.5,837.5 250.5,837.5 251.5,838.5 255.5,838.5 256.5,839.5 260.5,839.5 261.5,840.5 264.5,840.5 265.5,841.5 267.5,841.5 268.5,842.5 271.5,842.5 272.5,843.5 274.5,843.5 275.5,844.5 278.5,844.5 279.5,845.5 282.5,845.5 283.5,846.5 285.5,846.5 286.5,847.5 289.5,847.5 290.5,848.5 292.5,848.5 293.5,849.5 294.5,849.5 295.4,851.5 297.3,853.5 303.3,857.5 315.5,863.6 326.7,867.5 345.5,870.1 388.5,873.0 414.5,874.1 434.5,874.1 468.5,869.4 492.5,868.5 500.5,866.8 511.5,862.1 514.5,862.0 517.5,863.5 516.5,864.5 515.5,864.5 517.5,864.5 518.5,863.5 521.5,863.5 522.5,862.5 525.5,862.5 526.5,861.5 529.5,861.5 530.5,860.5 533.5,860.5 534.5,859.5 537.5,859.5 538.5,858.5 541.5,858.5 542.5,857.5 544.5,857.5 545.5,856.5 547.5,856.5 548.5,855.5 550.5,855.5 551.5,854.5 552.5,854.5 552.5,853.5 554.5,850.5 554.5,848.5 555.5,847.5 550.5,847.5 549.5,846.5 546.5,846.5 545.5,845.5 540.5,845.5 539.5,844.5 536.5,844.5 535.5,843.5 530.5,843.5 529.5,842.5 526.5,842.5 525.5,841.5 520.5,841.5 519.5,840.5 516.5,840.5 515.5,839.5 513.5,839.5 512.5,838.5 512.5,837.5 511.5,837.5 510.5,836.5 508.5,836.5 507.5,835.5 507.5,834.5 506.5,834.5 505.5,833.5 503.5,833.5 502.5,832.5 502.5,831.5 500.5,831.5 499.5,830.5 497.5,830.5 496.5,829.5 494.5,829.5 491.5,827.5 489.5,827.5 488.5,826.5 486.5,826.5 485.5,825.5 483.5,825.5 482.5,824.5 473.5,824.5 472.5,823.5 459.5,823.5 458.5,824.5 455.5,824.5 454.5,825.5 451.5,825.5 450.5,826.5 435.5,826.5 434.5,825.5 431.5,824.5 429.5,822.5 428.5,822.5 425.5,819.5 424.5,819.5 421.5,816.5 420.5,816.5 415.5,811.5 415.5,809.5 414.5,808.5 414.5,806.5 412.5,803.5 412.5,801.5 411.5,800.5 411.5,798.5 410.5,797.5 410.5,796.5 409.5,795.5 409.5,793.5 408.5,792.5 408.5,789.5 407.5,788.5 407.5,785.5 406.5,784.5 406.5,781.5 405.5,780.5 405.5,777.5 403.5,774.5 403.5,771.5 402.5,770.5 401.5,767.5 390.5,757.5 389.5,757.5 386.5,755.5 384.5,755.5 383.5,754.5 380.5,754.5 379.5,753.5 379.5,752.5 378.5,752.5 376.5,750.5 375.5,750.5 368.5,744.5 366.5,744.5 365.5,743.5 365.5,742.5 363.5,742.5 362.5,741.5 362.5,740.5 361.5,740.5 358.5,737.5 358.5,735.5 357.5,734.5 357.5,732.5 355.5,729.5 355.5,727.5 353.5,727.5 352.5,726.5 350.5,726.5 345.5,723.5 303.5,723.5ZM224.5,778.5 225.5,777.5 226.8,779.5 225.5,781.5 224.5,780.5 224.5,778.5Z" fill="#0000ef" fill-rule="evenodd"/>
<path d="M217.5,703.5 652.5,703.5 652.5,1131.5 217.5,1131.5 217.5,703.5ZM223.5,718.5 220.5,720.5 220.5,743.5 219.5,744.5 219.5,820.5 220.5,821.5 220.5,828.5 221.5,829.5 221.5,835.5 222.5,836.5 222.5,842.5 223.5,843.5 223.5,844.5 228.5,849.5 228.5,850.5 229.5,851.5 230.5,851.5 235.5,854.5 237.5,854.5 238.5,855.5 240.5,855.5 243.5,857.5 245.5,857.5 246.5,858.5 248.5,858.5 249.5,859.5 252.5,859.5 253.5,860.5 256.5,860.5 257.5,861.5 260.5,861.5 261.5,862.5 265.5,862.5 266.5,863.5 269.5,863.5 270.5,864.5 273.5,864.5 274.5,865.5 277.5,865.5 278.5,866.5 281.5,866.5 281.7,865.5 284.5,864.3 290.5,864.4 317.3,870.5 331.5,872.5 359.5,873.4 383.5,875.5 402.5,876.4 434.5,876.9 435.5,877.5 436.5,876.5 461.5,876.5 462.5,875.5 500.5,875.5 501.5,876.5 511.5,876.5 512.5,877.5 520.5,877.5 521.5,876.5 522.5,876.5 523.5,875.5 524.5,875.5 525.5,874.5 526.5,874.5 527.5,873.5 528.5,873.5 529.5,872.5 530.5,872.5 531.5,871.5 532.5,871.5 533.5,870.5 534.5,870.5 535.5,869.5 536.5,869.5 537.5,868.5 540.5,867.5 543.5,864.5 544.5,864.5 547.5,861.5 548.5,861.5 555.5,855.5 556.5,855.5 558.5,853.5 559.5,853.5 562.5,850.5 563.5,850.5 565.5,848.5 566.5,848.5 568.5,846.5 569.5,846.5 571.5,844.5 572.5,844.5 579.5,837.5 579.5,836.5 581.5,834.5 581.5,833.5 583.5,831.5 583.5,830.5 584.5,829.5 584.5,820.5 580.5,820.5 579.5,821.5 578.5,821.5 576.5,823.5 575.5,823.5 573.5,825.5 572.5,825.5 567.5,830.5 566.5,830.5 561.5,835.5 560.5,835.5 560.5,836.5 559.5,837.5 549.5,837.5 546.5,835.5 544.5,835.5 543.5,834.5 543.5,833.5 542.5,833.5 541.5,832.5 541.5,831.5 540.5,830.5 540.5,829.5 539.5,828.5 539.5,827.5 538.5,826.5 537.5,823.5 526.5,823.5 522.5,819.5 519.5,818.5 519.5,819.5 518.5,820.5 518.5,821.5 517.5,822.5 516.5,825.5 514.5,827.5 512.5,825.5 511.5,825.5 510.5,824.5 508.5,824.5 507.5,823.5 507.5,822.5 504.5,821.5 499.5,816.5 499.5,815.5 498.5,815.5 497.5,812.5 491.5,806.5 449.5,806.5 447.5,804.5 447.5,803.5 444.5,798.5 444.5,794.5 445.5,793.5 445.5,787.5 446.5,786.5 446.5,780.5 447.5,779.5 446.5,779.5 445.5,778.5 444.5,778.5 443.5,777.5 442.5,777.5 441.5,776.5 438.5,775.5 435.5,772.5 434.5,772.5 427.5,766.5 427.5,765.5 425.5,763.5 424.5,760.5 422.5,758.5 421.5,755.5 419.5,753.5 419.5,752.5 417.5,750.5 417.5,749.5 413.5,745.5 413.5,744.5 412.5,744.5 412.5,743.5 407.5,738.5 407.5,736.5 406.5,735.5 406.5,732.5 407.5,731.5 408.5,728.5 399.5,722.5 388.5,722.5 387.5,721.5 373.5,721.5 372.5,720.5 363.5,720.5 362.5,719.5 352.5,719.5 351.5,718.5 282.5,718.5 281.5,719.5 226.5,719.5 225.5,718.5 223.5,718.5ZM225.2,779.5 225.5,779.1 225.9,779.5 225.5,779.9 225.2,779.5ZM222.5,837.5 223.5,837.1 225.5,837.3 227.5,839.5 227.3,841.5 225.5,844.5 224.5,844.5 222.5,841.5 222.5,837.5Z" fill="#0020ff" fill-rule="evenodd"/>
<path d="M217.5,703.5 652.5,703.5 652.5,1131.5 217.5,1131.5 217.5,966.5 218.5,965.5 218.5,960.5 219.5,959.5 219.5,954.5 220.5,953.5 220.5,948.5 221.5,947.5 221.5,946.5 222.5,945.5 225.5,948.5 225.5,949.5 226.5,949.5 227.5,950.5 227.5,951.5 229.5,951.5 233.5,947.5 233.5,946.5 238.5,941.5 240.5,941.5 241.5,942.5 244.5,942.5 245.5,943.5 262.5,943.5 263.5,944.5 265.5,944.5 266.5,945.5 268.5,945.5 269.5,946.5 272.5,946.5 273.5,947.5 278.5,947.5 279.5,948.5 285.5,948.5 286.5,949.5 291.5,949.5 292.5,948.5 301.5,948.5 302.5,947.5 310.5,947.5 311.5,946.5 317.5,946.5 318.5,945.5 323.5,945.5 324.5,944.5 329.5,944.5 329.5,941.5 328.5,940.5 328.5,939.5 318.5,939.5 317.5,938.5 309.5,938.5 308.5,937.5 304.5,937.5 303.5,936.5 300.5,936.5 299.5,935.5 296.5,935.5 295.5,934.5 294.5,934.5 289.5,931.5 287.5,931.5 286.5,930.5 285.5,930.5 282.5,928.5 280.5,928.5 279.5,927.5 275.5,927.5 274.5,926.5 262.5,926.5 261.5,925.5 259.5,925.5 258.5,924.5 256.5,924.5 253.5,922.5 251.5,922.5 248.5,920.5 246.5,920.5 245.5,919.5 243.5,919.5 242.5,918.5 241.5,918.5 239.5,916.5 239.5,915.5 231.5,907.5 231.5,906.5 228.5,903.5 228.5,901.5 229.5,900.5 229.5,894.5 230.5,893.5 230.5,888.5 231.5,887.5 231.5,886.5 234.5,883.5 234.5,882.5 242.5,873.5 248.5,873.5 249.5,872.5 258.5,872.5 259.5,873.5 272.5,873.5 273.5,874.5 287.5,874.5 288.5,875.5 307.5,875.5 308.5,876.5 329.5,876.5 330.5,877.5 333.5,877.5 334.2,876.5 336.5,876.0 359.5,875.7 364.5,876.9 378.5,877.3 380.5,878.5 396.5,878.3 398.5,879.5 535.5,879.5 537.5,877.5 538.5,877.5 541.5,874.5 542.5,874.5 546.5,870.5 549.5,869.5 551.5,867.5 552.5,867.5 554.5,865.5 555.5,865.5 557.5,863.5 558.5,863.5 561.5,860.5 562.5,860.5 566.5,856.5 567.5,856.5 569.5,854.5 570.5,854.5 579.5,845.5 579.5,844.5 584.5,840.5 584.5,839.5 586.5,837.5 586.5,836.5 589.5,831.5 589.5,829.5 591.5,826.5 591.5,818.5 590.5,817.5 590.5,811.5 588.5,809.5 588.5,808.5 587.5,808.5 585.5,810.5 582.5,811.5 580.5,813.5 579.5,813.5 577.5,815.5 576.5,815.5 566.5,825.5 566.5,826.5 565.5,827.5 563.5,827.5 562.5,828.5 561.5,828.5 556.5,831.5 555.5,830.5 552.5,829.5 550.5,827.5 550.5,826.5 549.5,825.5 549.5,820.5 548.5,819.5 548.5,815.5 545.5,810.5 542.5,810.5 541.5,811.5 531.5,811.5 529.5,809.5 528.5,809.5 527.5,808.5 527.5,807.5 526.5,807.5 524.5,805.5 523.5,805.5 521.5,803.5 520.5,803.5 515.5,798.5 514.5,798.5 510.5,794.5 508.5,794.5 507.5,793.5 507.5,792.5 505.5,790.5 504.5,790.5 500.5,786.5 499.5,786.5 497.5,784.5 497.5,783.5 495.5,781.5 494.5,778.5 492.5,776.5 491.5,773.5 489.5,771.5 489.5,770.5 488.5,769.5 488.5,768.5 486.5,766.5 486.5,765.5 474.5,753.5 473.5,753.5 471.5,751.5 468.5,750.5 466.5,748.5 463.5,747.5 458.5,743.5 457.5,743.5 456.5,742.5 455.5,742.5 454.5,741.5 451.5,740.5 447.5,736.5 447.5,733.5 446.5,732.5 446.5,730.5 445.5,729.5 445.5,727.5 444.5,726.5 444.5,724.5 443.5,724.5 438.5,719.5 437.5,719.5 435.5,717.5 401.5,717.5 400.5,718.5 362.5,718.5 361.5,717.5 352.5,717.5 351.5,716.5 342.5,716.5 341.5,715.5 325.5,715.5 324.5,714.5 291.5,714.5 290.5,713.5 228.5,713.5 227.5,712.5 224.5,712.5 223.5,711.5 222.5,712.5 219.5,712.5 218.5,713.5 218.5,722.5 217.5,723.5 217.5,703.5ZM280.5,965.5 278.5,967.5 277.5,967.5 272.5,970.5 272.5,971.5 271.5,972.5 271.5,974.5 270.5,975.5 270.5,978.5 269.5,979.5 269.5,981.5 268.5,982.5 268.5,984.5 267.5,985.5 267.5,993.5 268.5,994.5 268.5,998.5 269.5,999.5 269.5,1002.5 270.5,1003.5 269.5,1006.5 268.5,1007.5 267.5,1007.5 266.5,1008.5 265.5,1008.5 264.5,1009.5 263.5,1009.5 262.5,1010.5 259.5,1011.5 257.5,1013.5 256.5,1013.5 251.5,1016.5 248.5,1016.5 247.5,1017.5 245.5,1017.5 244.5,1018.5 239.5,1018.5 236.5,1015.5 233.5,1015.5 233.5,1017.5 230.5,1022.5 230.5,1024.5 228.5,1027.5 228.5,1029.5 227.5,1030.5 227.5,1031.5 222.5,1035.5 222.5,1059.5 226.5,1065.5 229.5,1065.5 230.5,1064.5 238.5,1064.5 239.5,1063.5 254.5,1063.5 255.5,1062.5 270.5,1062.5 271.5,1061.5 285.5,1061.5 286.5,1060.5 299.5,1060.5 300.5,1059.5 312.5,1059.5 313.5,1058.5 326.5,1058.5 327.5,1057.5 336.5,1057.5 337.5,1056.5 341.5,1056.5 342.5,1055.5 346.5,1055.5 347.5,1054.5 351.5,1054.5 352.5,1053.5 356.5,1053.5 357.5,1052.5 361.5,1052.5 362.5,1051.5 366.5,1051.5 367.5,1050.5 371.5,1050.5 372.5,1049.5 376.5,1049.5 377.5,1048.5 383.5,1048.5 384.5,1047.5 390.5,1047.5 391.5,1046.5 397.5,1046.5 398.5,1045.5 405.5,1045.5 406.5,1044.5 412.5,1044.5 413.5,1043.5 419.5,1043.5 420.5,1042.5 434.5,1042.5 436.5,1040.5 438.5,1040.5 439.5,1039.5 441.5,1039.5 442.5,1038.5 444.5,1038.5 445.5,1037.5 447.5,1037.5 448.5,1036.5 450.5,1036.5 453.5,1031.5 453.5,1029.5 455.5,1026.5 455.5,1024.5 456.5,1023.5 456.5,1022.5 457.5,1021.5 458.5,1022.5 459.5,1022.5 459.5,1017.5 458.5,1017.5 458.5,1018.5 457.5,1019.5 456.5,1019.5 455.5,1018.5 455.5,1017.5 445.5,1007.5 443.5,1007.5 444.5,1007.5 455.5,1018.5 455.5,1019.5 456.5,1020.5 456.5,1022.5 455.5,1023.5 455.5,1025.5 453.5,1028.5 453.5,1030.5 452.5,1031.5 451.5,1034.5 449.5,1036.5 447.5,1036.5 446.5,1037.5 444.5,1037.5 443.5,1038.5 441.5,1038.5 440.5,1039.5 438.5,1039.5 437.5,1040.5 435.5,1040.5 433.5,1042.5 419.5,1042.5 418.5,1043.5 412.5,1043.5 411.5,1044.5 405.5,1044.5 404.5,1045.5 397.5,1045.5 396.5,1046.5 390.5,1046.5 389.5,1047.5 383.5,1047.5 382.5,1048.5 376.5,1048.5 375.5,1049.5 371.5,1049.5 370.5,1050.5 366.5,1050.5 365.5,1051.5 361.5,1051.5 360.5,1052.5 356.5,1052.5 355.5,1053.5 351.5,1053.5 350.5,1054.5 346.5,1054.5 345.5,1055.5 341.5,1055.5 340.5,1056.5 336.5,1056.5 335.5,1057.5 326.5,1057.5 325.5,1058.5 312.5,1058.5 311.5,1059.5 299.5,1059.5 298.5,1060.5 285.5,1060.5 284.5,1061.5 270.5,1061.5 269.5,1062.5 254.5,1062.5 253.5,1063.5 238.5,1063.5 237.5,1064.5 229.5,1064.5 228.5,1065.5 227.5,1065.5 225.5,1063.5 225.5,1062.5 223.5,1060.5 223.5,1059.5 222.5,1058.5 222.5,1036.5 225.5,1033.5 226.5,1033.5 227.5,1032.5 227.5,1031.5 228.5,1030.5 228.5,1028.5 230.5,1025.5 230.5,1023.5 231.5,1022.5 231.5,1021.5 233.5,1018.5 233.5,1016.5 234.5,1015.5 235.5,1015.5 238.5,1018.5 241.5,1019.5 242.5,1018.5 245.5,1018.5 246.5,1017.5 248.5,1017.5 249.5,1016.5 252.5,1016.5 253.5,1015.5 254.5,1015.5 255.5,1014.5 258.5,1013.5 260.5,1011.5 261.5,1011.5 262.5,1010.5 263.5,1010.5 264.5,1009.5 265.5,1009.5 266.5,1008.5 267.5,1008.5 268.5,1007.5 271.5,1006.5 271.5,1000.5 270.5,1000.5 268.5,997.5 268.5,993.5 267.5,992.5 267.5,986.5 268.5,985.5 268.5,983.5 269.5,982.5 269.5,980.5 270.5,979.5 270.5,976.5 271.5,975.5 271.5,973.5 272.5,972.5 272.5,971.5 274.5,969.5 275.5,969.5 276.5,968.5 279.5,967.5 281.5,965.5 287.5,965.5 288.5,966.5 297.5,966.5 298.5,967.5 307.5,967.5 308.5,968.5 317.5,968.5 318.5,969.5 327.5,969.5 328.5,970.5 335.5,970.5 336.5,971.5 338.5,971.5 339.5,972.5 341.5,972.5 342.5,973.5 345.5,973.5 346.5,974.5 348.5,974.5 349.5,975.5 352.5,975.5 353.5,976.5 355.5,976.5 356.5,977.5 358.5,977.5 359.5,978.5 362.5,978.5 363.5,979.5 368.5,979.5 369.5,980.5 374.5,980.5 375.5,981.5 380.5,981.5 381.5,982.5 385.5,982.5 386.5,983.5 391.5,983.5 392.5,984.5 397.5,984.5 398.5,985.5 403.5,985.5 404.5,986.5 408.5,986.5 411.5,988.5 413.5,988.5 416.5,990.5 418.5,990.5 419.5,991.5 421.5,991.5 424.5,993.5 426.5,993.5 429.5,995.5 431.5,995.5 432.5,996.5 433.5,996.5 435.5,998.5 435.5,1000.5 442.5,1006.5 442.5,1005.5 440.5,1003.5 439.5,1003.5 435.5,999.5 435.5,997.5 434.5,996.5 433.5,996.5 432.5,995.5 430.5,995.5 427.5,993.5 425.5,993.5 422.5,991.5 420.5,991.5 419.5,990.5 417.5,990.5 416.5,989.5 415.5,989.5 414.5,988.5 412.5,988.5 409.5,986.5 405.5,986.5 404.5,985.5 399.5,985.5 398.5,984.5 393.5,984.5 392.5,983.5 387.5,983.5 386.5,982.5 382.5,982.5 381.5,981.5 376.5,981.5 375.5,980.5 370.5,980.5 369.5,979.5 364.5,979.5 363.5,978.5 360.5,978.5 359.5,977.5 357.5,977.5 356.5,976.5 354.5,976.5 353.5,975.5 350.5,975.5 349.5,974.5 347.5,974.5 346.5,973.5 343.5,973.5 342.5,972.5 340.5,972.5 339.5,971.5 337.5,971.5 336.5,970.5 329.5,970.5 328.5,969.5 319.5,969.5 318.5,968.5 309.5,968.5 308.5,967.5 299.5,967.5 298.5,966.5 289.5,966.5 288.5,965.5 280.5,965.5ZM357.5,878.5 359.5,878.5 357.5,878.5Z" fill="#0050ff" fill-rule="evenodd"/>
<path d="M217.5,703.5 652.5,703.5 652.5,1131.5 217.5,1131.5 217.5,1086.5 221.5,1086.5 221.5,1087.5 222.5,1088.5 222.5,1092.5 223.5,1093.5 223.5,1097.5 224.5,1098.5 224.5,1103.5 225.5,1104.5 225.5,1105.5 232.5,1105.5 233.5,1104.5 239.5,1104.5 240.5,1103.5 247.5,1103.5 248.5,1102.5 253.5,1102.5 254.5,1101.5 260.5,1101.5 261.5,1100.5 267.5,1100.5 268.5,1099.5 272.5,1099.5 273.5,1098.5 276.5,1098.5 277.5,1097.5 281.5,1097.5 282.5,1096.5 285.5,1096.5 286.5,1095.5 290.5,1095.5 291.5,1094.5 294.5,1094.5 295.5,1093.5 299.5,1093.5 300.5,1092.5 303.5,1092.5 305.5,1090.5 305.5,1089.5 306.5,1088.5 307.5,1085.5 309.5,1083.5 311.5,1083.5 312.5,1082.5 314.5,1082.5 315.5,1081.5 318.5,1081.5 319.5,1080.5 321.5,1080.5 322.5,1079.5 331.5,1079.5 332.5,1078.5 341.5,1078.5 342.5,1077.5 352.5,1077.5 353.5,1076.5 365.5,1076.5 366.5,1075.5 398.5,1075.5 399.5,1074.5 401.5,1074.5 402.5,1073.5 405.5,1073.5 406.5,1072.5 409.5,1072.5 410.5,1071.5 412.5,1071.5 413.5,1070.5 416.5,1070.5 417.5,1069.5 420.5,1069.5 421.5,1068.5 425.5,1068.5 426.5,1067.5 432.5,1067.5 433.5,1066.5 434.5,1066.5 435.5,1067.5 442.5,1067.5 443.5,1066.5 449.5,1066.5 450.5,1065.5 457.5,1065.5 458.5,1064.5 465.5,1064.5 466.5,1063.5 504.5,1063.5 505.5,1062.5 508.5,1062.5 509.5,1061.5 511.5,1061.5 512.5,1060.5 514.5,1060.5 515.5,1059.5 517.5,1059.5 518.5,1058.5 521.5,1058.5 522.5,1057.5 524.5,1057.5 525.5,1056.5 527.5,1056.5 528.5,1055.5 529.5,1055.5 531.5,1053.5 532.5,1053.5 534.5,1051.5 535.5,1051.5 537.5,1049.5 538.5,1049.5 541.5,1046.5 542.5,1046.5 542.5,1045.5 543.5,1045.5 544.5,1044.5 545.5,1044.5 547.5,1042.5 548.5,1042.5 551.5,1039.5 551.5,1030.5 552.5,1029.5 552.5,1021.5 552.5,1022.5 551.5,1023.5 550.5,1022.5 550.5,1019.5 549.5,1018.5 549.5,1014.5 548.5,1013.5 548.5,1011.5 547.5,1011.5 545.5,1009.5 543.5,1009.5 542.5,1008.5 542.5,1007.5 541.5,1007.5 536.5,1003.5 534.5,1003.5 533.5,1002.5 533.5,1001.5 532.5,1001.5 527.5,997.5 526.5,997.5 525.5,996.5 524.5,996.5 523.5,995.5 522.5,995.5 521.5,994.5 520.5,994.5 519.5,993.5 518.5,993.5 517.5,992.5 516.5,992.5 515.5,991.5 514.5,991.5 513.5,990.5 512.5,990.5 511.5,989.5 510.5,989.5 509.5,988.5 508.5,988.5 503.5,985.5 501.5,985.5 500.5,984.5 498.5,984.5 497.5,983.5 495.5,983.5 494.5,982.5 492.5,982.5 491.5,981.5 489.5,981.5 488.5,980.5 486.5,980.5 485.5,979.5 483.5,979.5 482.5,978.5 479.5,978.5 478.5,977.5 476.5,977.5 475.5,976.5 473.5,976.5 472.5,975.5 470.5,975.5 469.5,974.5 463.5,974.5 462.5,973.5 455.5,973.5 454.5,972.5 447.5,972.5 446.5,971.5 438.5,971.5 436.9,969.5 435.0,965.5 425.7,952.5 422.8,946.5 420.5,938.5 419.5,938.5 420.5,937.5 435.5,937.5 419.5,937.5 418.5,938.5 404.5,938.5 403.5,939.5 384.5,939.5 383.5,938.5 379.5,938.5 378.5,937.5 374.5,937.5 373.5,936.5 369.5,936.5 368.5,935.5 364.5,935.5 363.5,934.5 359.5,934.5 358.5,933.5 354.5,933.5 353.5,932.5 349.5,932.5 348.5,931.5 342.5,931.5 341.5,930.5 336.5,930.5 335.5,929.5 329.5,929.5 328.5,928.5 322.5,928.5 321.5,927.5 316.5,927.5 315.5,926.5 309.5,926.5 308.5,925.5 302.5,925.5 301.5,924.5 296.5,924.5 295.5,923.5 290.5,923.5 289.5,922.5 286.5,922.5 285.5,921.5 280.5,921.5 279.5,920.5 276.5,920.5 275.5,919.5 270.5,919.5 269.5,918.5 266.5,918.5 265.5,917.5 260.5,917.5 259.5,916.5 256.5,916.5 253.5,914.5 251.5,914.5 250.5,913.5 250.5,912.5 249.5,912.5 244.5,909.5 242.5,909.5 241.5,908.5 241.5,907.5 240.5,907.5 239.5,906.5 236.5,905.5 234.5,903.5 236.5,901.5 237.5,901.5 241.5,897.5 242.5,897.5 246.5,893.5 247.5,893.5 251.5,889.5 252.5,889.5 255.5,886.5 258.5,886.5 259.5,885.5 265.5,885.5 266.5,884.5 270.5,884.5 271.5,883.5 277.5,883.5 278.5,882.5 282.5,882.5 283.5,881.5 289.5,881.5 290.5,880.5 294.5,880.5 295.5,879.5 314.5,879.5 315.5,878.5 348.5,878.2 354.5,878.6 358.5,879.5 388.5,879.5 389.5,880.4 391.5,880.7 415.5,880.5 416.5,881.5 480.5,881.5 481.5,882.5 492.5,882.5 493.5,883.5 516.5,883.5 517.5,882.5 527.5,882.5 528.5,881.5 539.5,881.5 540.5,880.5 550.5,880.5 556.5,874.5 557.5,874.5 562.5,869.5 563.5,869.5 579.5,853.5 579.5,852.5 580.5,851.5 581.5,851.5 581.5,850.5 584.5,847.5 584.5,846.5 588.5,842.5 588.5,841.5 590.5,839.5 590.5,838.5 591.5,837.5 591.5,835.5 592.5,834.5 592.5,832.5 593.5,831.5 593.5,830.5 594.5,829.5 594.5,827.5 595.5,826.5 595.5,808.5 594.5,807.5 594.5,806.5 591.5,801.5 589.5,801.5 588.5,802.5 585.5,802.5 584.5,803.5 582.5,803.5 581.5,804.5 578.5,804.5 562.5,820.5 560.5,820.5 557.5,822.5 556.5,822.5 555.5,821.5 555.5,817.5 554.5,816.5 554.5,809.5 552.5,806.5 552.5,804.5 551.5,803.5 550.5,800.5 548.5,800.5 547.5,799.5 543.5,799.5 542.5,798.5 538.5,798.5 535.5,796.5 535.5,789.5 534.5,788.5 534.5,781.5 533.5,780.5 533.5,777.5 532.5,776.5 532.5,773.5 531.5,772.5 531.5,769.5 530.5,768.5 530.5,767.5 528.5,765.5 528.5,764.5 527.5,763.5 526.5,760.5 524.5,758.5 523.5,755.5 521.5,753.5 520.5,750.5 518.5,748.5 518.5,747.5 517.5,746.5 516.5,743.5 514.5,741.5 514.5,740.5 513.5,739.5 513.5,737.5 512.5,736.5 512.5,731.5 511.5,730.5 511.5,727.5 510.5,726.5 510.5,721.5 508.5,719.5 506.5,719.5 505.5,718.5 502.5,718.5 501.5,717.5 497.5,717.5 496.5,716.5 492.5,716.5 491.5,715.5 489.5,715.5 488.5,714.5 485.5,714.5 484.5,713.5 480.5,713.5 479.5,712.5 474.5,712.5 473.5,713.5 460.5,713.5 459.5,714.5 436.5,714.5 435.5,713.5 434.5,714.4 429.5,714.8 372.5,715.2 322.5,712.6 295.5,712.5 286.5,711.8 232.5,711.8 223.5,710.7 217.5,711.4 217.5,703.5Z" fill="#0080ff" fill-rule="evenodd"/>
<path d="M217.5,703.5 652.5,703.5 652.5,1131.5 305.4,1131.5 305.0,1130.5 305.5,1129.5 311.5,1127.5 310.0,1125.5 311.7,1122.5 313.0,1118.5 313.3,1114.5 312.5,1110.5 313.5,1109.5 317.5,1109.5 318.5,1108.5 325.5,1108.5 326.5,1107.5 334.5,1107.5 335.5,1106.5 342.5,1106.5 343.5,1105.5 349.5,1105.5 350.5,1104.5 354.5,1104.5 355.5,1103.5 359.5,1103.5 360.5,1102.5 364.5,1102.5 365.5,1101.5 369.5,1101.5 370.5,1100.5 374.5,1100.5 375.5,1099.5 379.5,1099.5 380.5,1098.5 384.5,1098.5 385.5,1097.5 389.5,1097.5 390.5,1096.5 393.5,1096.5 394.5,1095.5 397.5,1095.5 398.5,1094.5 401.5,1094.5 402.5,1093.5 404.5,1093.5 405.5,1092.5 408.5,1092.5 409.5,1091.5 412.5,1091.5 413.5,1090.5 416.5,1090.5 417.5,1089.5 420.5,1089.5 421.5,1088.5 424.5,1088.5 425.5,1087.5 428.5,1087.5 429.5,1086.5 432.5,1086.5 433.5,1085.5 436.5,1085.5 437.5,1084.5 441.5,1084.5 442.5,1083.5 446.5,1083.5 447.5,1082.5 451.5,1082.5 452.5,1081.5 456.5,1081.5 457.5,1080.5 461.5,1080.5 462.5,1079.5 469.5,1079.5 470.5,1078.5 478.5,1078.5 479.5,1077.5 486.5,1077.5 487.5,1076.5 494.5,1076.5 495.5,1075.5 502.5,1075.5 503.5,1074.5 511.5,1074.5 512.5,1073.5 519.5,1073.5 520.5,1072.5 527.5,1072.5 528.5,1071.5 530.5,1071.5 531.5,1070.5 533.5,1070.5 534.5,1069.5 536.5,1069.5 537.5,1068.5 539.5,1068.5 540.5,1067.5 539.5,1067.5 538.5,1068.5 536.5,1068.5 535.5,1069.5 534.9,1068.5 534.6,1064.5 535.9,1060.5 540.4,1054.5 550.5,1045.3 553.5,1041.9 555.8,1037.5 558.3,1029.5 559.7,1018.5 558.9,999.5 559.1,991.5 560.5,983.3 563.5,974.6 565.5,974.5 566.5,975.5 567.5,975.5 568.5,976.5 569.5,976.5 570.5,977.5 571.5,977.5 572.5,978.5 573.5,978.5 574.5,979.5 577.5,980.5 581.5,984.5 581.5,985.5 581.5,983.5 578.5,980.5 577.5,980.5 576.5,979.5 575.5,979.5 574.5,978.5 573.5,978.5 572.5,977.5 571.5,977.5 570.5,976.5 569.5,976.5 564.5,973.5 562.5,973.5 561.5,972.5 560.5,972.5 559.5,971.5 558.5,971.5 557.5,970.5 556.5,970.5 555.5,969.5 554.5,969.5 549.5,966.5 546.5,966.5 545.5,965.5 541.5,965.5 540.5,964.5 536.5,964.5 535.5,963.5 531.5,963.5 530.5,962.5 526.5,962.5 525.5,961.5 521.5,961.5 520.5,960.5 516.5,960.5 515.5,959.5 511.5,959.5 510.5,958.5 506.5,958.5 505.5,957.5 500.5,957.5 499.5,956.5 493.5,956.5 492.5,955.5 485.5,955.5 484.5,954.5 478.5,954.5 477.5,953.5 470.5,953.5 469.5,952.5 463.5,952.5 462.5,951.5 460.5,951.5 459.5,950.5 459.5,949.5 455.5,945.5 455.5,944.5 453.5,942.5 453.5,940.5 451.5,938.5 451.5,937.5 451.2,940.5 449.5,940.9 446.5,940.4 442.5,938.6 435.5,933.5 424.5,933.5 423.5,932.5 389.5,932.5 388.5,931.5 377.5,931.5 376.5,930.5 365.5,930.5 364.5,929.5 353.5,929.5 352.5,928.5 345.5,928.5 344.5,927.5 340.5,927.5 339.5,926.5 335.5,926.5 334.5,925.5 329.5,925.5 328.5,924.5 324.5,924.5 323.5,923.5 318.5,923.5 317.5,922.5 313.5,922.5 312.5,921.5 307.5,921.5 306.5,920.5 302.5,920.5 301.5,919.5 297.5,919.5 296.5,918.5 292.5,918.5 291.5,917.5 287.5,917.5 286.5,916.5 282.5,916.5 281.5,915.5 277.5,915.5 276.5,914.5 274.5,914.5 273.5,913.5 271.5,913.5 270.5,912.5 268.5,912.5 267.5,911.5 264.5,911.5 263.5,910.5 261.5,910.5 260.5,909.5 258.5,909.5 257.5,908.5 255.5,908.5 254.5,907.5 252.5,907.5 251.5,906.5 249.5,906.5 248.5,905.5 246.5,905.5 243.5,903.5 244.5,902.5 246.5,902.5 247.5,901.5 248.5,901.5 253.5,898.5 255.5,898.5 260.5,895.5 262.5,895.5 263.5,894.5 264.5,894.5 269.5,891.5 271.5,891.5 272.5,890.5 273.5,890.5 274.5,889.5 276.5,889.5 277.5,888.5 282.5,888.5 283.5,887.5 289.5,887.5 290.5,886.5 295.5,886.5 296.5,885.5 301.5,885.5 302.5,884.5 307.5,884.5 308.5,883.5 318.5,883.5 319.5,882.5 328.5,882.5 329.5,881.5 337.5,881.5 338.5,880.5 358.5,880.5 359.5,881.5 371.5,881.5 372.5,882.5 382.5,882.5 383.5,883.5 409.5,883.5 410.5,884.5 435.5,884.5 438.5,883.6 447.5,883.1 477.5,883.2 494.5,884.5 512.5,884.6 514.5,884.9 515.3,885.5 515.5,886.5 520.5,886.5 521.5,885.5 527.5,885.5 528.5,884.5 533.5,884.5 534.5,883.5 540.5,883.5 541.5,882.5 546.5,882.5 547.5,881.5 553.5,881.5 553.5,880.5 559.5,880.5 561.5,878.5 561.5,877.5 564.5,874.5 564.5,873.5 568.5,869.5 569.5,869.5 574.5,864.5 574.5,863.5 585.5,852.5 585.5,851.5 590.5,846.5 591.5,843.5 593.5,841.5 593.5,840.5 597.5,835.5 597.5,833.5 598.5,832.5 598.5,829.5 600.5,826.5 600.5,822.5 599.5,822.5 598.6,821.5 597.2,816.5 595.8,804.5 596.5,799.7 597.5,798.5 598.5,799.5 598.5,798.5 596.5,796.5 594.5,796.5 592.5,793.5 591.5,794.5 589.5,794.5 588.5,795.5 586.5,795.5 585.5,796.5 583.5,796.5 582.5,797.5 579.5,798.5 571.5,806.5 570.5,806.5 564.5,812.5 563.5,811.5 561.5,811.5 560.5,810.5 560.5,795.5 559.5,794.5 559.5,778.5 557.5,776.5 557.5,775.5 555.5,773.5 555.5,772.5 553.5,770.5 553.5,769.5 551.5,767.5 551.5,766.5 549.5,764.5 549.5,763.5 547.5,761.5 547.5,760.5 546.5,759.5 546.5,760.5 545.5,761.5 539.5,755.5 539.5,754.5 538.5,754.5 538.5,753.5 533.5,748.5 533.5,746.5 532.5,745.5 532.5,743.5 531.5,742.5 531.5,737.5 532.5,736.5 532.5,734.5 533.5,733.5 533.5,731.5 528.5,727.5 527.5,727.5 526.5,726.5 525.5,726.5 520.5,723.5 518.5,723.5 517.5,722.5 516.5,722.5 515.5,721.5 514.5,721.5 509.5,718.5 507.5,718.5 506.5,717.5 504.5,717.5 503.5,716.5 501.5,716.5 500.5,715.5 498.5,715.5 497.5,714.5 494.5,714.5 491.5,712.5 485.5,712.3 484.5,711.5 435.5,711.5 428.5,712.1 402.5,712.2 321.5,710.5 219.5,709.7 217.5,709.4 217.5,703.5ZM599.5,800.5 599.5,800.5ZM601.5,802.5 601.5,814.5 601.5,802.5ZM559.5,1059.5 558.5,1060.5 555.5,1061.5 553.5,1063.5 551.5,1063.5 550.5,1064.5 548.5,1064.5 547.5,1065.5 545.5,1065.5 544.5,1066.5 543.5,1066.5 545.5,1066.5 546.5,1065.5 548.5,1065.5 549.5,1064.5 551.5,1064.5 552.5,1063.5 554.5,1063.5 556.5,1061.5 559.5,1060.5 560.5,1059.5 559.5,1059.5ZM561.5,1058.5 561.5,1058.5ZM563.5,1058.5 563.5,1058.5ZM564.5,1057.5 564.5,1057.5ZM567.5,1055.5 566.5,1056.5 565.5,1056.5 567.5,1056.5 568.5,1055.5 567.5,1055.5ZM569.5,1054.5 569.5,1054.5ZM570.5,1052.5 570.5,1053.5 570.5,1052.5ZM571.5,1051.5 571.5,1051.5ZM572.5,1050.5 572.5,1050.5ZM573.5,1049.5 573.5,1049.5ZM581.5,1041.5 581.5,1041.5ZM582.5,986.5 584.5,989.5 583.5,986.5 582.5,986.5ZM586.5,990.5 586.5,990.5ZM587.5,992.5 588.5,995.5 588.5,993.5 587.5,992.5ZM590.5,996.5 590.5,998.5 592.5,1000.5 592.5,1001.5 592.5,999.5 590.5,997.5 590.5,996.5ZM593.5,1027.5 588.5,1032.5 588.5,1033.5 593.5,1028.5 593.5,1027.5ZM594.5,1005.5 594.5,1009.5 595.5,1010.5 595.5,1013.5 596.5,1014.5 596.5,1020.5 595.5,1021.5 595.5,1025.5 595.5,1023.5 596.5,1022.5 596.5,1013.5 595.5,1012.5 595.5,1009.5 594.5,1008.5 594.5,1005.5ZM582.5,1040.5 582.5,1040.5ZM583.5,1039.5 583.5,1039.5ZM586.5,1035.5 586.5,1035.5ZM587.5,1034.5 587.5,1034.5ZM594.5,1026.5 594.5,1026.5ZM595.5,1028.5 595.5,1029.5 595.5,1028.5Z" fill="#00afff" fill-rule="evenodd"/>
<path d="M328.5,703.5 652.5,703.5 652.5,1131.5 376.5,1131.5 375.5,1129.5 376.5,1128.5 379.5,1128.5 380.5,1127.5 381.5,1127.5 381.5,1125.5 380.5,1124.5 380.5,1123.5 378.5,1121.5 378.5,1119.5 383.5,1114.5 385.5,1114.5 386.5,1113.5 389.5,1113.5 390.5,1112.5 393.5,1112.5 394.5,1111.5 397.5,1111.5 398.5,1110.5 401.5,1110.5 402.5,1109.5 405.5,1109.5 406.5,1108.5 409.5,1108.5 410.5,1107.5 413.5,1107.5 414.5,1106.5 419.5,1106.5 420.5,1105.5 427.5,1105.5 428.5,1104.5 434.5,1104.5 436.5,1102.5 438.5,1102.5 439.5,1101.5 445.5,1101.5 446.5,1100.5 452.5,1100.5 453.5,1099.5 459.5,1099.5 460.5,1098.5 466.5,1098.5 467.5,1097.5 474.5,1097.5 475.5,1096.5 481.5,1096.5 482.5,1095.5 489.5,1095.5 490.5,1094.5 496.5,1094.5 497.5,1093.5 503.5,1093.5 504.5,1092.5 509.5,1092.5 510.5,1091.5 515.5,1091.5 516.5,1090.5 521.5,1090.5 522.5,1089.5 527.5,1089.5 528.5,1088.5 533.5,1088.5 534.5,1087.5 536.5,1087.5 533.5,1087.5 532.5,1088.5 527.5,1088.5 526.5,1089.5 523.5,1089.5 523.8,1083.5 525.2,1079.5 528.9,1075.5 540.5,1068.0 545.5,1067.6 554.5,1064.0 561.5,1059.0 561.5,1058.2 557.5,1058.3 554.5,1059.2 542.8,1066.5 542.5,1067.5 541.0,1065.5 540.9,1063.5 541.5,1061.5 544.3,1057.5 557.3,1043.5 563.8,1033.5 569.1,1021.5 573.9,1003.5 577.1,997.5 580.9,993.5 585.5,990.5 588.0,994.5 588.0,995.5 588.5,996.1 588.7,995.5 588.5,993.1 586.9,991.5 586.5,989.9 585.5,990.5 581.7,981.5 577.5,976.2 570.5,969.5 559.5,963.0 554.7,959.5 549.9,954.5 547.0,949.5 545.1,942.5 544.8,939.5 545.5,938.5 552.5,938.5 553.5,939.5 563.5,939.5 554.5,939.5 553.5,938.5 539.5,938.5 538.5,937.5 526.5,937.5 525.5,936.5 517.5,936.5 516.5,935.5 509.5,935.5 508.5,934.5 501.5,934.5 500.5,933.5 492.5,933.5 491.5,932.5 476.5,932.5 475.5,931.5 456.5,931.5 455.5,930.5 436.5,930.5 435.5,929.5 412.5,929.5 411.5,928.5 389.5,928.5 388.5,927.5 374.5,927.5 373.5,926.5 359.5,926.5 358.5,925.5 347.5,925.5 346.5,924.5 341.5,924.5 340.5,923.5 335.5,923.5 334.5,922.5 329.5,922.5 328.5,921.5 323.5,921.5 322.5,920.5 317.5,920.5 316.5,919.5 311.5,919.5 310.5,918.5 305.5,918.5 304.5,917.5 299.5,917.5 298.5,916.5 292.5,916.5 291.5,915.5 286.5,915.5 285.5,914.5 280.5,914.5 279.5,913.5 275.5,913.5 274.5,912.5 272.5,912.5 271.5,911.5 269.5,911.5 268.5,910.5 266.5,910.5 265.5,909.5 263.5,909.5 262.5,908.5 260.5,908.5 259.5,907.5 257.5,907.5 256.5,906.5 254.5,906.5 253.5,905.5 251.5,905.5 249.5,903.5 250.5,902.5 252.5,902.5 253.5,901.5 254.5,901.5 259.5,898.5 261.5,898.5 266.5,895.5 268.5,895.5 269.5,894.5 270.5,894.5 275.5,891.5 280.5,891.5 281.5,890.5 285.5,890.5 286.5,889.5 291.5,889.5 292.5,888.5 296.5,888.5 297.5,887.5 302.5,887.5 303.5,886.5 307.5,886.5 308.5,885.5 318.5,885.5 319.5,884.5 328.5,884.5 329.5,883.5 337.5,883.5 338.5,882.5 358.5,882.5 359.5,883.5 371.5,883.5 372.5,884.5 382.5,884.5 383.5,885.5 409.5,885.5 410.5,886.5 435.5,886.5 437.5,885.7 442.5,885.0 465.5,884.5 511.5,885.6 513.5,885.8 515.5,887.0 540.5,884.7 559.5,881.8 562.2,880.5 574.6,871.5 580.6,866.5 587.8,858.5 593.5,849.4 599.0,835.5 599.9,829.5 600.8,826.5 600.8,823.5 601.5,822.5 600.8,821.5 601.5,820.5 600.5,819.8 600.3,818.5 598.5,815.7 598.1,812.5 597.7,804.5 600.2,800.5 598.9,799.5 598.5,797.7 594.5,792.3 586.5,785.5 591.5,781.5 590.5,781.5 588.5,783.5 587.5,783.5 583.5,787.5 582.5,787.5 578.5,791.5 577.5,791.5 574.5,794.5 573.5,794.5 572.5,795.5 570.5,795.5 569.5,794.5 569.5,782.5 570.5,781.5 570.5,769.5 571.5,768.5 571.5,755.5 570.5,754.5 570.5,748.5 569.5,747.5 569.5,742.5 568.5,741.5 568.5,737.5 568.5,740.5 567.5,741.0 562.5,739.7 558.5,737.2 555.9,734.5 553.4,730.5 551.8,726.5 550.7,721.5 550.5,717.5 560.5,717.5 534.5,717.5 533.5,716.5 531.5,716.5 530.5,715.5 527.5,715.5 526.5,714.5 524.5,714.5 523.5,713.5 520.5,713.5 519.5,712.5 516.5,712.5 515.5,711.5 489.5,711.5 488.5,710.4 486.5,710.1 485.5,710.5 456.5,710.5 455.5,709.5 401.5,709.5 400.5,708.5 330.5,708.5 329.0,706.5 328.5,703.5ZM561.5,718.5 561.5,718.5ZM564.5,719.5 564.5,720.5 565.5,721.5 565.5,723.5 566.5,724.5 566.5,727.5 566.5,723.5 565.5,722.5 565.5,720.5 564.5,719.5ZM567.5,729.5 567.5,730.5 567.5,729.5ZM601.5,801.7 600.8,802.5 601.5,815.2 602.5,814.6 602.9,813.5 603.2,808.5 602.8,803.5 601.5,801.7ZM539.5,1086.5 539.5,1087.5 540.5,1086.5 541.5,1086.5 539.5,1086.5ZM563.5,1058.2 563.5,1058.8 564.0,1058.5 563.5,1058.2ZM567.5,1055.2 564.2,1057.5 564.5,1058.0 568.8,1055.5 568.5,1054.9 567.5,1055.2ZM569.5,1053.8 568.9,1054.5 569.5,1054.8 569.5,1053.8ZM570.5,1052.0 569.8,1053.5 570.5,1053.8 570.9,1052.5 570.5,1052.0ZM571.5,1051.0 571.0,1051.5 571.5,1051.9 571.9,1051.5 571.5,1051.0ZM572.5,1049.9 572.0,1050.5 572.5,1050.9 572.9,1050.5 572.5,1049.9ZM573.5,1049.1 572.9,1049.5 573.5,1049.9 573.5,1049.1ZM581.5,1041.3 581.5,1041.8 581.9,1041.5 581.5,1041.3ZM582.5,1040.3 582.5,1040.9 582.5,1040.3ZM583.5,1039.2 583.5,1039.8 583.5,1039.2ZM585.5,1036.3 585.5,1036.8 585.9,1036.5 585.5,1036.3ZM586.5,1035.3 586.5,1035.9 586.5,1035.3ZM587.5,1034.2 587.5,1034.8 587.5,1034.2ZM566.5,939.5 567.5,939.5 566.5,939.5ZM590.5,996.2 590.0,996.5 590.3,998.5 592.5,1001.9 592.6,999.5 590.5,996.2ZM593.5,1027.1 588.4,1032.5 588.5,1033.8 593.6,1028.5 593.5,1027.1ZM594.5,1005.2 594.4,1009.5 595.1,1010.5 596.1,1017.5 594.9,1025.5 594.1,1026.5 594.5,1026.9 595.5,1026.2 596.7,1022.5 597.1,1014.5 595.8,1012.5 595.7,1009.5 595.1,1008.5 594.5,1005.2ZM567.5,734.5 567.5,735.5 567.5,734.5ZM601.5,816.5 601.5,816.5ZM595.5,1028.1 595.5,1029.7 595.5,1028.1ZM601.5,818.5 601.5,818.5Z" fill="#00dfff" fill-rule="evenodd"/>
<path d="M448.5,703.5 652.5,703.5 652.5,1131.5 459.7,1131.5 461.0,1124.5 464.1,1118.5 469.5,1112.5 476.8,1107.5 482.8,1104.5 490.8,1101.5 537.1,1087.5 532.9,1084.5 530.5,1079.5 541.5,1068.5 542.5,1069.3 543.5,1069.4 547.5,1068.2 554.5,1064.5 558.5,1061.2 561.5,1059.5 562.2,1058.5 561.5,1057.8 556.2,1054.5 555.5,1053.5 555.5,1051.5 556.5,1050.5 557.5,1050.5 573.5,1034.5 573.5,1033.5 580.5,1026.5 580.5,1025.5 581.5,1024.5 581.5,1023.5 582.5,1022.5 582.5,1021.5 583.5,1020.5 583.5,1019.5 584.5,1018.5 584.5,1017.5 585.5,1016.5 585.5,1015.5 588.5,1010.5 588.5,1008.5 588.5,1009.5 586.5,1011.5 584.5,1009.2 583.7,1006.5 584.3,1003.5 585.5,1001.7 587.5,1000.2 588.5,1000.5 588.5,1002.5 588.5,998.5 587.5,997.5 588.5,996.7 589.5,996.5 591.5,1001.5 592.5,1002.3 592.8,999.5 591.2,996.5 590.5,995.9 589.5,996.5 588.5,992.7 584.5,986.5 584.5,983.5 583.5,982.5 583.5,979.5 581.5,977.5 581.5,974.5 580.5,973.5 580.5,971.5 578.5,968.5 578.5,965.5 576.5,962.5 576.5,960.5 575.5,959.5 575.5,957.5 574.5,956.5 574.5,957.5 575.5,958.5 574.3,959.5 570.5,959.9 567.5,959.4 562.5,956.9 558.6,952.5 557.5,948.5 557.9,945.5 559.9,942.5 564.1,939.5 551.5,936.3 537.5,934.3 490.5,929.5 436.5,926.5 424.5,926.5 423.5,925.5 407.5,925.5 406.5,924.5 389.5,924.5 388.5,923.5 369.5,923.5 368.5,922.5 349.5,922.5 348.5,921.5 342.5,921.5 341.5,920.5 336.5,920.5 335.5,919.5 329.5,919.5 328.5,918.5 323.5,918.5 322.5,917.5 316.5,917.5 315.5,916.5 309.5,916.5 308.5,915.5 302.5,915.5 301.5,914.5 295.5,914.5 294.5,913.5 287.5,913.5 286.5,912.5 280.5,912.5 279.5,911.5 275.5,911.5 274.5,910.5 273.5,910.5 272.5,909.5 270.5,909.5 265.5,906.5 263.5,906.5 262.5,905.5 261.5,905.5 259.5,903.5 260.5,902.5 261.5,902.5 262.5,901.5 263.5,901.5 264.5,900.5 265.5,900.5 266.5,899.5 267.5,899.5 268.5,898.5 269.5,898.5 274.5,895.5 276.5,895.5 277.5,894.5 281.5,894.5 282.5,893.5 286.5,893.5 287.5,892.5 291.5,892.5 292.5,891.5 296.5,891.5 297.5,890.5 301.5,890.5 302.5,889.5 306.5,889.5 307.5,888.5 313.5,888.5 314.5,887.5 322.5,887.5 323.5,886.5 331.5,886.5 332.5,885.5 339.5,885.5 339.5,884.5 361.5,884.5 362.5,885.5 377.5,885.5 378.5,886.5 398.5,886.5 399.5,887.5 436.5,887.5 444.5,886.7 465.5,886.2 510.5,886.5 513.5,886.7 515.5,887.5 546.5,885.6 559.5,883.5 565.3,881.5 580.8,874.5 585.3,871.5 588.5,868.5 594.5,860.2 598.0,851.5 600.8,835.5 601.2,823.5 602.4,822.5 604.6,813.5 604.8,805.5 603.4,801.5 599.4,799.5 595.1,786.5 593.5,779.1 587.5,772.5 592.5,767.5 593.5,768.5 595.5,768.5 594.5,768.5 593.5,767.5 591.5,767.5 586.5,772.5 586.5,773.5 581.5,778.5 581.5,779.5 580.5,780.5 579.5,780.5 577.5,778.5 577.5,758.5 576.5,757.5 576.5,755.5 574.5,752.5 574.5,750.5 573.5,749.5 573.5,747.5 571.5,744.5 571.5,741.5 569.5,738.5 569.5,736.5 570.5,736.4 571.2,735.5 573.1,730.5 572.5,726.5 570.3,722.5 566.5,719.0 560.5,716.7 535.5,714.8 515.5,710.6 510.5,710.4 507.5,709.6 503.5,709.8 496.5,708.6 495.5,707.5 489.5,707.5 488.5,706.5 477.5,706.5 476.5,705.5 462.5,705.5 461.5,704.5 449.5,704.5 448.5,703.5ZM504.5,707.5 504.5,707.5ZM511.5,708.5 517.5,708.5 511.5,708.5ZM519.5,709.5 531.5,709.5 519.5,709.5ZM532.5,710.5 537.5,710.5 532.5,710.5ZM552.5,711.5 559.5,711.5 560.5,712.5 560.5,711.5 552.5,711.5ZM597.5,769.5 597.5,769.5ZM539.5,1086.3 538.9,1087.5 539.5,1087.8 541.7,1086.5 539.5,1086.3ZM572.5,1049.4 568.3,1054.5 562.8,1058.5 563.5,1059.0 565.5,1058.2 569.1,1055.5 573.5,1050.4 573.9,1049.5 573.5,1048.8 572.5,1049.4ZM582.5,1040.1 581.1,1041.5 581.5,1042.1 583.1,1040.5 582.5,1040.1ZM583.5,1038.9 583.1,1039.5 583.5,1040.1 583.9,1039.5 583.5,1038.9ZM586.5,1035.1 585.1,1036.5 585.5,1037.1 587.1,1035.5 586.5,1035.1ZM566.5,939.1 565.9,939.5 568.5,940.5 570.5,946.5 570.5,944.5 569.5,943.5 569.5,941.5 568.5,940.5 568.7,939.5 566.5,939.1ZM571.5,947.5 571.5,947.5ZM572.5,949.5 572.5,949.5ZM573.5,954.5 573.5,955.5 573.5,954.5ZM594.5,1004.8 593.9,1005.5 594.2,1009.5 595.6,1017.5 594.7,1024.5 593.8,1026.5 588.2,1032.5 587.1,1034.5 587.5,1035.1 594.5,1027.2 595.5,1027.2 597.1,1021.5 597.0,1017.5 597.5,1016.5 597.1,1015.5 597.6,1014.5 596.2,1012.5 595.1,1005.5 594.5,1004.8ZM560.5,714.5 561.5,714.5 560.5,714.5ZM595.5,1027.6 595.5,1029.8 595.9,1028.5 595.5,1027.6ZM599.6,803.5 600.5,802.8 600.8,803.5 601.2,815.5 600.5,816.3 599.6,815.5 599.3,813.5 599.6,803.5ZM545.5,1062.5 546.5,1061.5 546.5,1062.5 545.5,1062.5ZM529.5,1079.5 530.5,1079.5 529.5,1079.5Z" fill="#10ffef" fill-rule="evenodd"/>
<path d="M475.5,703.5 652.5,703.5 652.5,1131.5 474.1,1131.5 475.2,1125.5 477.5,1120.5 481.5,1115.5 487.7,1110.5 497.5,1105.1 535.5,1088.2 537.5,1087.6 539.5,1088.2 541.5,1087.1 542.0,1086.5 541.5,1085.8 539.5,1086.1 538.5,1087.4 537.5,1087.2 535.7,1084.5 535.3,1080.5 537.6,1076.5 541.5,1072.8 548.5,1069.1 554.5,1065.1 562.5,1058.5 563.5,1059.3 565.5,1058.5 570.5,1054.4 574.1,1049.5 573.5,1048.4 572.5,1048.8 567.7,1054.5 562.5,1058.5 560.8,1056.5 560.2,1054.5 560.6,1051.5 563.4,1047.5 580.5,1028.4 583.0,1024.5 585.8,1018.5 589.2,1008.5 587.8,1005.5 589.0,1002.5 588.5,997.5 589.5,996.8 590.0,997.5 591.5,1002.8 592.5,1003.2 593.1,1001.5 592.9,999.5 591.6,996.5 590.5,995.6 589.5,996.1 589.2,995.5 588.5,992.0 585.7,986.5 584.0,979.5 579.3,968.5 576.9,960.5 576.0,959.5 575.8,957.5 574.0,955.5 573.5,953.9 570.5,954.7 567.5,954.3 564.5,952.4 562.4,949.5 561.9,947.5 562.0,944.5 564.5,939.8 565.5,939.6 567.8,940.5 568.9,942.5 569.2,944.5 570.2,945.5 570.5,947.0 571.5,948.0 572.0,947.5 568.5,938.9 566.5,938.6 564.5,939.4 551.5,933.9 538.5,930.9 502.5,927.2 443.5,923.4 435.5,922.5 420.5,922.5 419.5,921.5 397.5,921.5 396.5,920.5 376.5,920.5 375.5,919.5 356.5,919.5 355.5,918.5 345.5,918.5 344.5,917.5 338.5,917.5 337.5,916.5 332.5,916.5 331.5,915.5 325.5,915.5 324.5,914.5 318.5,914.5 317.5,913.5 311.5,913.5 310.5,912.5 307.5,912.5 306.5,911.5 303.5,911.5 302.5,910.5 299.5,910.5 298.5,909.5 296.5,909.5 295.5,908.5 292.5,908.5 291.5,907.5 289.5,907.5 288.5,906.5 286.5,906.5 285.5,905.5 282.5,905.5 280.5,903.5 283.5,901.5 285.5,901.5 286.5,900.5 288.5,900.5 289.5,899.5 291.5,899.5 294.5,897.5 296.5,897.5 299.5,895.5 301.5,895.5 302.5,894.5 304.5,894.5 305.5,893.5 307.5,893.5 308.5,892.5 312.5,892.5 313.5,891.5 319.5,891.5 320.5,890.5 325.5,890.5 326.5,889.5 332.5,889.5 333.5,888.5 338.5,888.5 339.5,887.5 345.5,887.5 346.5,886.5 353.5,886.5 354.5,887.5 373.5,887.5 374.5,888.5 398.5,888.5 399.5,889.5 435.5,889.5 443.5,888.5 465.5,887.8 514.5,887.5 515.5,888.3 516.5,887.5 549.5,887.5 550.5,886.5 555.5,886.5 556.5,885.5 561.5,885.5 562.5,884.5 567.5,884.5 568.5,883.5 573.5,883.5 574.5,882.5 579.5,882.5 580.5,881.5 585.5,881.5 586.5,880.5 591.5,880.5 592.5,879.5 593.5,876.5 594.5,875.5 595.5,875.5 595.5,874.5 596.5,873.5 596.5,872.5 597.5,871.5 598.5,868.5 601.5,865.5 601.5,864.5 603.5,861.5 603.5,845.5 602.5,844.5 602.5,829.5 601.5,828.5 601.5,825.5 603.5,824.5 605.3,821.5 606.5,813.7 606.7,807.5 606.2,802.5 604.9,799.5 603.5,798.1 599.5,796.5 599.5,785.5 598.5,784.5 598.5,779.5 597.5,778.5 597.5,771.5 598.5,771.4 599.6,769.5 598.5,767.2 596.5,766.5 596.5,764.5 595.5,763.5 595.5,757.5 594.5,756.5 594.5,750.5 593.5,749.5 593.5,743.5 592.5,742.5 592.5,735.5 591.5,734.5 591.5,729.5 590.5,728.5 590.5,721.5 589.5,720.5 589.5,719.5 583.5,719.5 582.5,718.5 576.5,718.5 575.5,717.5 569.5,717.5 568.5,716.5 563.5,716.5 562.3,714.5 560.7,713.5 561.2,712.5 561.1,711.5 560.5,711.2 551.5,711.0 550.9,711.5 551.5,711.8 557.5,712.0 560.3,713.5 559.5,715.5 555.5,715.5 554.5,714.5 547.5,714.5 546.5,713.5 540.5,713.5 539.5,712.5 540.0,711.5 539.5,710.3 533.5,710.0 531.5,709.0 520.5,708.4 517.5,707.6 512.5,707.1 508.5,707.5 504.5,706.2 500.5,706.0 497.5,704.8 495.6,705.5 495.5,706.5 490.5,706.5 489.5,705.5 483.5,705.5 482.5,704.5 476.5,704.5 475.5,703.5ZM541.5,710.2 541.1,710.5 541.5,711.7 541.9,710.5 541.5,710.2ZM543.5,710.3 543.1,710.5 543.5,711.3 543.9,710.5 543.5,710.3ZM545.5,710.2 545.0,710.5 545.5,711.0 546.0,710.5 545.5,710.2ZM547.5,711.2 547.1,711.5 547.5,712.4 547.9,711.5 547.5,711.2ZM549.5,711.3 549.1,711.5 549.5,712.1 549.9,711.5 549.5,711.3ZM583.5,1038.6 579.9,1042.5 580.5,1042.8 582.6,1041.5 584.1,1039.5 583.5,1038.6ZM572.5,948.9 571.9,949.5 572.5,950.0 573.0,949.5 572.5,948.9ZM594.5,1004.5 593.6,1005.5 595.2,1016.5 594.3,1024.5 593.4,1026.5 591.1,1029.5 583.9,1037.5 584.5,1037.9 586.6,1036.5 594.5,1027.6 595.1,1029.5 595.5,1030.0 596.0,1029.5 595.8,1026.5 597.4,1021.5 597.2,1017.5 597.9,1016.5 597.4,1015.5 598.0,1014.5 596.5,1012.5 595.4,1005.5 594.5,1004.5Z" fill="#40ffbf" fill-rule="evenodd"/>
<path d="M502.5,703.5 652.5,703.5 652.5,1131.5 482.5,1131.5 483.1,1127.5 485.4,1122.5 488.6,1118.5 493.5,1114.2 535.5,1088.5 537.5,1087.9 539.5,1088.5 541.5,1087.4 542.2,1086.5 541.5,1085.5 539.5,1085.9 538.5,1087.1 537.6,1086.5 537.1,1084.5 538.0,1080.5 540.5,1077.1 555.5,1065.0 560.5,1060.2 561.5,1060.0 562.5,1058.8 563.5,1059.5 565.5,1058.9 569.5,1055.6 573.9,1050.5 574.5,1048.9 576.5,1046.9 577.5,1046.8 579.5,1043.9 582.9,1041.5 584.3,1039.5 584.2,1038.5 586.9,1036.5 594.5,1027.8 595.5,1030.1 596.2,1029.5 595.9,1026.5 596.8,1025.5 596.5,1024.5 597.8,1021.5 597.2,1020.5 597.5,1017.5 598.3,1016.5 598.3,1014.5 596.7,1012.5 595.8,1005.5 593.5,1002.2 592.1,996.5 590.5,995.2 589.4,995.5 588.5,990.5 586.2,985.5 584.4,979.5 579.5,967.5 577.3,960.5 574.0,954.5 572.5,950.5 573.4,949.5 570.3,941.5 568.5,938.5 566.5,938.0 564.5,939.1 555.5,933.2 551.5,931.2 542.5,928.1 533.5,926.4 501.5,923.6 443.5,920.0 435.5,918.5 413.5,918.5 412.5,917.5 382.5,917.5 381.5,916.5 362.5,916.5 361.5,915.5 346.5,915.5 345.5,914.5 337.5,914.5 336.5,913.5 329.5,913.5 328.5,912.5 321.5,912.5 320.5,911.5 312.5,911.5 311.5,910.5 307.5,910.5 306.5,909.5 304.5,909.5 303.5,908.5 301.5,908.5 300.5,907.5 298.5,907.5 297.5,906.5 295.5,906.5 294.5,905.5 292.5,905.5 290.5,903.5 293.5,901.5 295.5,901.5 298.5,899.5 300.5,899.5 301.5,898.5 302.5,898.5 303.5,897.5 305.5,897.5 308.5,895.5 314.5,895.5 315.5,894.5 320.5,894.5 321.5,893.5 326.5,893.5 327.5,892.5 333.5,892.5 334.5,891.5 339.5,891.5 340.5,890.5 345.5,890.5 346.5,889.5 362.5,889.5 363.5,890.5 401.5,890.5 402.5,891.5 435.5,891.5 440.5,890.3 465.5,889.4 559.5,889.5 560.5,888.5 563.5,888.5 564.5,887.5 567.5,887.5 568.5,886.5 572.5,886.5 573.5,885.5 576.5,885.5 577.5,884.5 581.5,884.5 582.5,883.5 585.5,883.5 586.5,882.5 589.5,882.5 590.5,881.5 593.5,881.5 594.5,880.5 597.5,880.5 598.5,879.5 599.5,876.5 600.5,876.5 600.5,875.5 602.5,873.5 602.5,872.5 603.5,871.5 603.5,870.5 604.5,869.5 604.5,868.5 605.5,867.5 606.5,864.5 608.5,862.5 608.5,861.5 609.5,860.5 609.5,838.5 608.5,837.5 608.5,795.5 607.5,794.5 607.5,779.5 606.5,778.5 606.5,770.5 605.5,769.5 605.5,761.5 604.5,760.5 604.5,753.5 603.5,752.5 603.5,743.5 602.5,742.5 602.5,735.5 601.5,734.5 601.5,725.5 600.5,724.5 600.5,719.5 595.5,719.5 594.5,718.5 589.5,718.5 588.5,717.5 583.5,717.5 582.5,716.5 576.5,716.5 575.5,715.5 570.5,715.5 569.5,714.5 564.5,714.5 563.5,713.5 562.5,713.5 561.9,711.5 560.5,710.8 557.5,710.8 552.5,709.9 548.5,710.0 545.5,709.1 541.5,708.7 539.5,708.8 538.5,709.5 533.5,709.5 532.5,708.5 527.5,708.5 526.5,707.5 521.5,707.5 520.5,706.5 515.5,706.5 514.5,705.5 509.5,705.5 508.5,704.5 503.5,704.5 502.5,703.5ZM564.6,940.5 565.5,939.9 567.2,940.5 569.0,944.5 570.0,945.5 570.5,947.5 571.5,948.5 571.2,949.5 572.5,950.5 571.5,952.4 568.5,951.5 565.4,948.5 564.1,944.5 564.6,940.5ZM588.8,997.5 589.5,997.0 589.8,997.5 590.3,1000.5 590.4,1001.5 589.5,1002.5 589.0,1001.5 588.8,997.5ZM589.2,1003.5 589.5,1002.5 590.2,1003.5 589.5,1003.9 589.2,1003.5ZM589.1,1005.5 592.5,1005.1 593.9,1006.5 594.7,1018.5 594.3,1023.5 593.2,1026.5 586.6,1034.5 584.5,1036.8 583.5,1037.2 583.4,1038.5 580.5,1041.8 578.8,1042.5 574.5,1047.4 572.2,1048.5 567.3,1054.5 562.5,1058.2 561.9,1057.5 561.9,1054.5 563.7,1050.5 581.5,1029.4 584.7,1024.5 586.7,1019.5 589.0,1009.5 589.9,1008.5 589.2,1007.5 590.2,1006.5 589.1,1005.5Z" fill="#70ff8f" fill-rule="evenodd"/>
<path d="M528.5,703.5 652.5,703.5 652.5,1131.5 488.0,1131.5 488.6,1128.5 490.5,1125.1 497.5,1118.2 518.5,1102.9 536.0,1088.5 537.5,1088.2 539.5,1089.1 541.5,1087.7 542.5,1086.5 541.5,1084.8 539.5,1085.7 538.5,1086.8 537.9,1085.5 539.5,1082.0 542.4,1078.5 560.5,1060.3 561.5,1060.2 562.5,1059.2 563.5,1060.1 564.5,1059.9 568.5,1056.2 569.5,1055.9 574.5,1049.6 583.3,1041.5 585.0,1038.5 587.3,1036.5 594.5,1027.9 595.5,1030.3 596.4,1029.5 596.0,1026.5 597.1,1025.5 597.0,1023.5 598.2,1021.5 597.4,1020.5 598.2,1019.5 598.8,1016.5 598.7,1014.5 596.9,1012.5 596.2,1005.5 594.7,1002.5 593.5,1001.6 592.1,995.5 590.5,994.6 589.5,995.2 588.8,989.5 586.9,985.5 586.3,982.5 583.0,975.5 582.5,972.5 579.5,966.2 577.8,960.5 576.5,959.0 576.2,957.5 574.2,954.5 574.2,949.5 573.4,947.5 569.5,939.0 568.5,937.9 566.5,937.2 564.5,938.8 554.5,929.7 543.5,924.6 536.5,922.8 522.5,921.4 443.5,916.7 434.5,915.6 365.5,913.9 348.5,912.9 332.5,911.4 323.5,909.6 318.1,907.5 316.8,906.5 315.7,904.5 315.8,902.5 316.9,900.5 321.5,897.8 328.8,895.5 347.5,891.1 398.5,891.5 403.5,892.5 433.5,892.5 464.5,891.0 487.5,890.5 524.5,890.8 528.5,890.0 559.5,890.0 564.5,889.3 568.5,889.5 570.5,888.6 576.5,887.5 578.5,886.5 580.5,886.5 581.5,885.5 584.5,885.5 585.5,884.5 588.5,884.5 589.5,883.5 591.5,883.5 592.5,882.5 595.5,882.5 596.5,881.5 598.5,881.5 599.5,880.5 602.5,880.5 603.5,879.5 604.5,876.5 606.5,874.5 607.5,871.5 609.5,869.5 609.5,868.5 610.5,867.5 610.5,866.5 613.5,861.5 613.5,781.5 612.5,780.5 612.5,771.5 611.5,770.5 611.5,761.5 610.5,760.5 610.5,750.5 609.5,749.5 609.5,740.5 608.5,739.5 608.5,729.5 607.5,728.5 607.5,719.5 603.5,719.5 602.5,718.5 598.5,718.5 597.5,717.5 593.5,717.5 592.5,716.5 588.5,716.5 587.5,715.5 583.5,715.5 582.5,714.5 578.5,714.5 577.5,713.5 573.5,713.5 572.5,712.5 568.5,712.5 567.5,711.5 564.5,711.5 563.5,710.5 558.5,710.5 557.5,709.5 554.5,709.5 553.5,708.5 548.5,708.5 547.5,707.5 544.5,707.5 543.5,706.5 538.5,706.5 537.5,705.5 534.5,705.5 533.5,704.5 529.5,704.5 528.5,703.5ZM529.5,891.5 565.5,891.5 529.5,891.5ZM565.0,940.5 566.9,940.5 568.1,943.5 569.8,945.5 570.0,947.5 571.0,948.5 570.5,949.4 568.5,948.7 566.8,946.5 565.0,940.5ZM570.5,950.5 571.5,950.1 572.0,950.5 571.5,951.2 570.5,950.5ZM589.2,997.5 589.7,997.5 589.9,1001.5 589.5,1002.0 589.2,997.5ZM591.7,1006.5 593.5,1005.9 593.8,1006.5 594.3,1019.5 594.0,1023.5 593.0,1026.5 586.5,1034.4 584.5,1036.4 583.4,1036.5 582.5,1039.4 580.5,1041.4 578.5,1041.6 577.2,1042.5 573.8,1046.5 571.3,1048.5 567.9,1053.5 562.5,1057.8 562.5,1056.3 566.1,1050.5 577.0,1037.5 586.0,1025.5 587.9,1020.5 589.2,1009.5 590.7,1008.5 591.7,1006.5Z" fill="#9fff60" fill-rule="evenodd"/>
<path d="M548.5,703.5 652.5,703.5 652.5,1131.5 491.5,1131.5 497.5,1125.5 498.5,1125.5 503.5,1120.5 504.5,1120.5 509.5,1115.5 510.5,1115.5 515.5,1110.5 516.5,1110.5 536.5,1089.5 538.5,1090.2 540.5,1089.4 543.0,1086.5 542.5,1082.5 549.5,1075.5 549.5,1074.5 553.5,1070.5 553.5,1069.5 558.5,1064.5 558.5,1063.5 561.5,1060.5 563.5,1061.0 566.5,1059.0 567.2,1057.5 571.2,1054.5 571.5,1053.3 574.5,1050.1 577.5,1048.0 583.7,1041.5 585.5,1038.5 594.5,1028.1 595.5,1030.4 597.0,1028.5 596.2,1026.5 597.4,1025.5 597.2,1023.5 598.8,1021.5 599.4,1016.5 598.7,1013.5 597.1,1012.5 596.1,1003.5 594.8,1001.5 593.5,1001.1 592.5,994.6 591.5,993.3 589.5,992.5 589.5,987.5 587.5,984.5 587.5,981.5 586.5,980.5 586.5,979.5 583.5,974.5 583.5,971.5 582.5,970.5 582.5,969.5 579.5,964.5 579.5,961.5 578.5,960.5 578.5,959.5 576.5,957.5 576.5,956.5 574.5,954.5 574.5,953.5 575.5,952.5 575.1,949.5 570.8,940.5 569.8,938.5 567.5,936.3 565.5,935.8 563.5,936.5 562.5,935.5 562.5,934.5 561.5,933.5 561.5,932.5 559.5,930.5 558.5,927.5 557.5,927.5 556.5,926.5 553.5,925.5 551.5,923.5 550.5,923.5 549.5,922.5 546.5,921.5 544.5,919.5 543.5,919.5 542.5,918.5 529.5,918.5 528.5,917.5 509.5,917.5 508.5,916.5 489.5,916.5 488.5,915.5 473.5,915.5 472.5,914.5 457.5,914.5 456.5,913.5 441.5,913.5 440.5,912.5 403.5,912.5 402.5,911.5 358.5,911.5 357.5,910.5 346.5,910.5 345.5,909.5 333.5,909.5 332.5,908.5 328.5,908.5 327.5,907.5 325.5,907.5 324.5,906.5 321.5,905.5 319.5,903.5 320.5,902.5 321.5,902.5 322.5,901.5 323.5,901.5 328.5,898.5 330.5,898.5 331.5,897.5 333.5,897.5 334.5,896.5 337.5,896.5 338.5,895.5 340.5,895.5 341.5,894.5 343.5,894.5 344.5,893.5 346.5,893.5 347.5,892.5 398.5,892.5 399.5,893.5 461.5,893.5 462.5,892.5 487.5,892.5 488.5,893.1 491.5,893.4 523.5,893.2 534.5,894.0 560.5,893.0 565.5,892.4 567.7,891.5 568.5,890.5 571.5,890.4 572.5,889.5 574.5,889.6 576.5,888.5 578.5,888.5 579.5,887.5 581.5,887.5 582.5,886.5 585.5,886.5 586.5,885.5 589.5,885.5 590.5,884.5 592.5,884.5 593.5,883.5 596.5,883.5 597.5,882.5 599.5,882.5 600.5,881.5 603.5,881.5 604.5,880.5 607.5,880.5 608.5,879.5 608.5,878.5 609.5,877.5 609.5,876.5 610.5,875.5 610.5,874.5 611.5,873.5 612.5,870.5 614.5,868.5 614.5,867.5 615.5,866.5 615.5,865.5 618.5,860.5 618.5,834.5 619.5,833.5 619.5,777.5 618.5,776.5 618.5,765.5 617.5,764.5 617.5,755.5 616.5,754.5 616.5,744.5 615.5,743.5 615.5,733.5 614.5,732.5 614.5,723.5 613.5,722.5 613.5,719.5 610.5,719.5 609.5,718.5 606.5,718.5 605.5,717.5 602.5,717.5 601.5,716.5 598.5,716.5 597.5,715.5 594.5,715.5 593.5,714.5 590.5,714.5 589.5,713.5 586.5,713.5 585.5,712.5 582.5,712.5 581.5,711.5 577.5,711.5 576.5,710.5 573.5,710.5 572.5,709.5 569.5,709.5 568.5,708.5 565.5,708.5 564.5,707.5 561.5,707.5 560.5,706.5 557.5,706.5 556.5,705.5 553.5,705.5 552.5,704.5 549.5,704.5 548.5,703.5ZM592.8,1006.5 593.6,1006.5 593.8,1023.5 593.0,1024.5 592.7,1026.5 590.8,1028.5 590.6,1029.5 584.5,1035.9 582.5,1034.5 582.5,1033.5 586.5,1029.5 586.5,1028.5 588.5,1026.5 588.5,1024.5 589.5,1023.5 589.5,1010.5 590.5,1010.4 591.5,1009.5 592.8,1006.5ZM579.5,1037.5 580.5,1036.5 582.8,1038.5 580.5,1040.9 578.5,1039.5 579.5,1038.5 579.5,1037.5ZM568.5,1050.5 569.5,1049.5 569.5,1050.5 568.5,1050.5Z" fill="#cfff30" fill-rule="evenodd"/>
<path d="M568.5,703.5 652.5,703.5 652.5,1131.5 503.5,1131.5 509.5,1125.5 509.5,1124.5 527.5,1106.5 527.5,1105.5 528.5,1104.5 529.5,1104.5 529.5,1103.5 535.5,1097.5 535.5,1096.5 541.5,1090.5 541.5,1089.5 547.5,1083.5 547.5,1082.5 554.5,1075.5 554.5,1074.5 558.5,1070.5 558.5,1069.5 563.5,1064.5 563.5,1062.5 564.5,1062.5 567.5,1059.5 567.5,1058.5 571.5,1054.5 571.5,1053.5 574.5,1050.5 575.5,1050.7 577.2,1049.5 581.0,1044.5 584.1,1041.5 584.5,1040.2 588.1,1036.5 588.3,1035.5 591.2,1032.5 591.4,1031.5 594.5,1028.3 595.5,1030.7 596.9,1029.5 597.3,1027.5 596.4,1026.5 598.1,1025.5 597.4,1023.5 598.5,1023.0 599.5,1021.5 600.1,1015.5 599.5,1013.4 597.3,1012.5 597.1,1005.5 596.2,1001.5 594.5,999.6 593.5,999.5 593.5,987.5 591.5,984.5 591.5,981.5 590.5,980.5 590.5,979.5 587.5,974.5 587.5,971.5 586.5,970.5 586.5,969.5 583.5,964.5 583.5,961.5 582.5,960.5 582.5,959.5 581.5,959.5 581.5,958.5 580.5,957.5 580.5,956.5 579.5,955.5 579.5,954.5 578.5,953.5 578.5,952.5 577.5,951.5 577.5,950.5 576.5,949.5 575.5,946.5 573.5,944.5 573.5,943.5 572.5,942.5 572.5,941.5 571.5,940.5 571.5,939.5 570.5,938.5 569.5,935.5 567.5,933.5 567.5,932.5 565.5,930.5 565.5,929.5 563.5,927.5 563.5,926.5 561.5,924.5 561.5,923.5 559.5,921.5 558.5,921.5 557.5,920.5 557.5,919.5 556.5,919.5 549.5,913.5 546.5,913.5 545.5,912.5 537.5,912.5 536.5,911.5 529.5,911.5 528.5,910.5 520.5,910.5 519.5,909.5 511.5,909.5 510.5,908.5 503.5,908.5 502.5,907.5 451.5,907.5 450.5,906.5 434.5,906.5 429.5,903.5 429.5,902.5 430.5,901.5 431.5,901.5 432.5,900.5 434.5,900.5 435.5,899.5 459.5,899.5 460.5,898.5 484.5,898.5 485.5,897.5 510.5,897.5 511.5,896.5 541.5,896.5 542.5,895.5 552.5,895.5 553.5,894.5 563.5,894.5 564.5,893.5 575.5,893.5 578.5,891.5 580.5,891.5 581.5,890.5 583.5,890.5 584.5,889.5 586.5,889.5 587.5,888.5 589.5,888.5 590.5,887.5 592.5,887.5 593.5,886.5 595.5,886.5 598.5,884.5 601.5,884.5 604.5,882.5 607.5,882.5 608.5,881.5 609.5,881.5 610.5,880.5 612.5,880.5 613.5,879.5 613.5,878.5 614.5,877.5 614.5,876.5 615.5,875.5 615.5,874.5 616.5,873.5 616.5,872.5 617.5,871.5 617.5,870.5 618.5,869.5 618.5,868.5 619.5,867.5 619.5,866.5 620.5,865.5 620.5,864.5 623.5,859.5 623.5,832.5 624.5,831.5 624.5,804.5 625.5,803.5 625.5,780.5 624.5,779.5 624.5,770.5 623.5,769.5 623.5,760.5 622.5,759.5 622.5,749.5 621.5,748.5 621.5,739.5 620.5,738.5 620.5,729.5 619.5,728.5 619.5,719.5 616.5,719.5 613.5,717.5 609.5,717.5 606.5,715.5 604.5,715.5 603.5,714.5 600.5,714.5 597.5,712.5 594.5,712.5 593.5,711.5 591.5,711.5 590.5,710.5 588.5,710.5 587.5,709.5 584.5,709.5 581.5,707.5 578.5,707.5 577.5,706.5 575.5,706.5 574.5,705.5 572.5,705.5 571.5,704.5 569.5,704.5 568.5,703.5ZM580.5,1040.5 580.5,1040.5Z" fill="#ffff00" fill-rule="evenodd"/>
<path d="M582.5,703.5 652.5,703.5 652.5,1131.5 512.5,1131.5 513.5,1130.5 513.5,1129.5 517.5,1125.5 517.5,1124.5 521.5,1120.5 521.5,1119.5 525.5,1115.5 525.5,1114.5 529.5,1110.5 529.5,1109.5 534.5,1104.5 534.5,1103.5 546.5,1090.5 546.5,1089.5 551.5,1084.5 551.5,1083.5 552.5,1083.5 552.5,1082.5 558.5,1076.5 558.5,1075.5 560.5,1073.5 560.5,1072.5 561.5,1072.5 561.5,1071.5 565.5,1067.5 565.5,1066.5 569.5,1062.5 569.5,1061.5 572.5,1058.5 572.5,1056.5 573.5,1056.5 575.5,1054.5 575.5,1053.5 578.5,1050.5 578.5,1049.5 584.5,1042.5 585.5,1039.5 586.5,1039.5 588.5,1037.5 588.5,1036.5 591.5,1033.5 591.5,1032.5 593.5,1030.5 595.5,1031.1 597.2,1029.5 600.4,1021.5 600.8,1015.5 600.1,1012.5 597.5,1010.5 597.5,989.5 595.5,986.5 595.5,984.5 594.5,983.5 594.5,981.5 592.5,978.5 592.5,975.5 590.5,972.5 590.5,970.5 589.5,969.5 589.5,967.5 587.5,964.5 587.5,962.5 586.5,961.5 586.5,959.5 584.5,957.5 584.5,956.5 583.5,955.5 583.5,954.5 582.5,953.5 582.5,952.5 581.5,951.5 581.5,950.5 580.5,949.5 579.5,946.5 577.5,944.5 577.5,943.5 576.5,942.5 576.5,941.5 575.5,940.5 575.5,939.5 574.5,938.5 573.5,935.5 571.5,933.5 571.5,932.5 569.5,930.5 569.5,929.5 567.5,927.5 567.5,926.5 564.5,923.5 564.5,922.5 562.5,920.5 562.5,919.5 561.5,919.5 559.5,917.5 558.5,917.5 556.5,915.5 555.5,915.5 553.5,913.5 552.5,913.5 550.5,911.5 549.5,911.5 548.5,910.5 545.5,910.5 544.5,909.5 539.5,909.5 538.5,908.5 532.5,908.5 531.5,907.5 526.5,907.5 525.5,906.5 520.5,906.5 519.5,905.5 514.5,905.5 513.5,904.5 508.5,904.5 507.5,903.5 508.5,902.5 510.5,902.5 511.5,901.5 521.5,901.5 522.5,900.5 530.5,900.5 531.5,899.5 541.5,899.5 542.5,898.5 550.5,898.5 551.5,897.5 560.5,897.5 561.5,896.5 568.5,896.5 569.5,895.5 573.5,895.5 579.5,893.7 583.5,893.5 584.5,892.6 587.5,892.5 590.5,890.5 592.5,890.5 593.5,889.5 595.5,889.5 596.5,888.5 599.5,887.5 599.5,886.5 602.5,886.5 603.5,885.5 605.5,885.5 605.5,884.5 607.5,884.5 610.5,882.5 612.5,882.5 613.5,881.5 615.5,881.5 616.5,880.5 617.5,880.5 618.5,879.5 618.5,878.5 619.5,877.5 619.5,876.5 620.5,875.5 620.5,874.5 621.5,873.5 621.5,872.5 622.5,871.5 622.5,870.5 623.5,869.5 623.5,868.5 624.5,867.5 624.5,866.5 627.5,861.5 627.5,846.5 628.5,845.5 628.5,820.5 629.5,819.5 629.5,792.5 630.5,791.5 630.5,784.5 629.5,783.5 629.5,773.5 628.5,772.5 628.5,761.5 627.5,760.5 627.5,750.5 626.5,749.5 626.5,739.5 625.5,738.5 625.5,727.5 624.5,726.5 624.5,719.5 622.5,719.5 619.5,717.5 617.5,717.5 616.5,716.5 614.5,716.5 611.5,714.5 609.5,714.5 608.5,713.5 606.5,713.5 603.5,711.5 601.5,711.5 600.5,710.5 598.5,710.5 595.5,708.5 593.5,708.5 592.5,707.5 590.5,707.5 589.5,706.5 587.5,706.5 582.5,703.5Z" fill="#ffcf00" fill-rule="evenodd"/>
<path d="M595.5,703.5 652.5,703.5 652.5,1131.5 519.5,1131.5 520.5,1130.5 520.5,1129.5 523.5,1126.5 523.5,1125.5 525.5,1123.5 525.5,1122.5 528.5,1119.5 528.5,1118.5 530.5,1116.5 530.5,1115.5 533.5,1112.5 533.5,1111.5 535.5,1109.5 535.5,1108.5 539.5,1104.5 539.5,1103.5 545.5,1097.5 545.5,1096.5 551.5,1090.5 551.5,1089.5 557.5,1083.5 557.5,1082.5 562.5,1077.5 562.5,1076.5 565.5,1073.5 565.5,1072.5 568.5,1069.5 568.5,1068.5 571.5,1065.5 571.5,1064.5 577.5,1057.5 577.5,1056.5 579.5,1054.5 579.5,1052.5 580.5,1052.5 582.5,1050.5 582.5,1049.5 585.5,1046.5 585.5,1044.5 586.5,1044.5 588.5,1042.5 588.5,1040.5 589.5,1040.5 592.5,1037.5 592.5,1036.5 595.5,1033.5 595.5,1031.5 596.5,1031.5 598.5,1029.5 598.5,1028.5 600.5,1026.5 600.5,1024.5 601.5,1023.5 601.5,1004.5 600.5,1003.5 600.5,989.5 599.5,988.5 599.5,986.5 598.5,985.5 598.5,983.5 597.5,982.5 597.5,980.5 596.5,979.5 596.5,977.5 595.5,976.5 595.5,974.5 594.5,973.5 594.5,971.5 593.5,970.5 593.5,968.5 592.5,967.5 592.5,965.5 591.5,964.5 591.5,962.5 590.5,961.5 590.5,959.5 589.5,958.5 589.5,948.5 588.5,947.5 588.5,945.5 587.5,946.5 586.5,946.1 583.3,942.5 582.0,938.5 582.5,935.8 583.5,935.5 582.5,934.5 582.5,933.5 579.5,930.5 578.5,930.5 577.5,929.5 577.5,928.5 573.5,924.5 573.5,923.5 570.5,920.5 570.5,919.5 567.5,916.5 567.5,915.5 563.5,911.5 563.5,910.5 552.5,900.5 553.5,899.5 557.5,899.5 558.5,898.5 564.5,898.5 565.5,897.5 569.5,897.5 570.5,896.5 574.5,896.5 575.0,897.5 576.5,897.9 579.5,897.6 582.5,896.5 583.5,895.5 583.5,894.5 585.5,894.6 586.5,893.5 589.5,893.5 590.5,892.5 592.5,892.5 593.5,891.5 595.5,891.5 600.5,888.5 602.5,888.5 603.5,887.5 605.5,887.5 610.5,884.5 612.5,884.5 613.5,883.5 615.5,883.5 620.5,880.5 622.5,880.5 623.5,879.5 623.5,878.5 624.5,877.5 624.5,876.5 627.5,871.5 627.5,869.5 629.5,866.5 629.5,864.5 632.5,859.5 632.5,818.5 633.5,817.5 633.5,775.5 632.5,774.5 632.5,758.5 631.5,757.5 631.5,741.5 630.5,740.5 630.5,725.5 629.5,724.5 629.5,719.5 628.5,719.5 627.5,718.5 626.5,718.5 625.5,717.5 624.5,717.5 619.5,714.5 617.5,714.5 616.5,713.5 615.5,713.5 614.5,712.5 613.5,712.5 608.5,709.5 606.5,709.5 605.5,708.5 604.5,708.5 603.5,707.5 602.5,707.5 601.5,706.5 600.5,706.5 595.5,703.5ZM586.5,937.5 586.5,937.5ZM587.5,938.5 588.5,941.5 588.5,939.5 587.5,938.5Z" fill="#ff9f00" fill-rule="evenodd"/>
<path d="M608.5,703.5 652.5,703.5 652.5,1131.5 528.5,1131.5 529.5,1130.5 529.5,1129.5 530.5,1128.5 530.5,1127.5 531.5,1126.5 532.5,1123.5 534.5,1121.5 534.5,1120.5 535.5,1119.5 535.5,1118.5 536.5,1117.5 536.5,1116.5 537.5,1115.5 538.5,1112.5 540.5,1110.5 541.5,1107.5 544.5,1104.5 544.5,1103.5 550.5,1097.5 550.5,1096.5 556.5,1090.5 556.5,1089.5 562.5,1083.5 562.5,1082.5 567.5,1077.5 567.5,1076.5 570.5,1073.5 570.5,1072.5 573.5,1069.5 573.5,1068.5 576.5,1065.5 576.5,1064.5 579.5,1061.5 579.5,1060.5 585.5,1053.5 585.5,1052.5 587.5,1050.5 587.5,1049.5 590.5,1046.5 590.5,1045.5 593.5,1042.5 593.5,1041.5 597.5,1037.5 597.5,1036.5 600.5,1033.5 600.5,1032.5 602.5,1030.5 602.5,1029.5 603.5,1029.5 603.5,1028.5 605.5,1026.5 605.5,1009.5 604.5,1008.5 604.5,999.5 603.5,998.5 603.5,989.5 602.5,988.5 602.5,985.5 601.5,984.5 601.5,981.5 600.5,980.5 600.5,978.5 599.5,977.5 599.5,974.5 598.5,973.5 598.5,971.5 597.5,970.5 597.5,967.5 596.5,966.5 596.5,963.5 595.5,962.5 595.5,959.5 593.5,956.5 593.5,954.5 592.5,953.5 592.5,952.5 591.5,951.5 591.5,949.5 589.5,946.5 589.5,944.5 590.5,944.3 591.3,942.5 591.0,938.5 589.5,936.0 587.5,934.3 585.5,933.6 584.5,934.5 583.5,933.5 583.5,931.5 580.5,926.5 580.5,924.5 579.5,923.5 579.5,922.5 577.5,919.5 577.5,917.5 575.5,914.5 575.5,910.5 576.5,909.5 576.5,907.5 577.5,906.5 577.5,904.5 578.5,903.5 581.5,903.5 582.5,902.5 584.5,902.5 585.5,901.5 587.5,901.5 588.5,900.5 591.5,900.5 592.5,899.5 594.5,899.5 595.5,898.5 597.5,898.5 598.5,897.5 601.5,897.5 602.5,896.5 604.5,896.5 606.5,894.5 609.5,893.5 612.5,890.5 615.5,889.5 615.5,888.5 616.5,887.5 619.5,886.5 622.5,883.5 625.5,882.5 628.5,879.5 628.5,878.5 630.5,875.5 630.5,873.5 632.5,870.5 632.5,868.5 633.5,867.5 633.5,866.5 636.5,861.5 636.5,830.5 637.5,829.5 637.5,769.5 636.5,768.5 636.5,744.5 635.5,743.5 635.5,719.5 634.5,719.5 633.5,718.5 631.5,718.5 627.5,714.5 626.5,714.5 625.5,713.5 624.5,713.5 623.5,712.5 620.5,711.5 618.5,709.5 616.5,709.5 615.5,708.5 615.5,707.5 614.5,707.5 613.5,706.5 610.5,705.5 608.5,703.5Z" fill="#ff7000" fill-rule="evenodd"/>
<path d="M619.5,703.5 652.5,703.5 652.5,1131.5 536.5,1131.5 538.5,1128.5 538.5,1126.5 540.5,1123.5 540.5,1121.5 543.5,1116.5 543.5,1114.5 545.5,1111.5 545.5,1109.5 546.5,1108.5 546.5,1107.5 549.5,1104.5 549.5,1102.5 550.5,1101.5 551.5,1101.5 555.5,1097.5 555.5,1096.5 561.5,1090.5 561.5,1089.5 567.5,1083.5 567.5,1082.5 572.5,1077.5 572.5,1076.5 574.5,1074.5 574.5,1073.5 577.5,1070.5 577.5,1069.5 579.5,1067.5 579.5,1066.5 581.5,1064.5 581.5,1063.5 584.5,1060.5 584.5,1058.5 585.5,1057.5 586.5,1057.5 586.5,1056.5 589.5,1053.5 589.5,1052.5 591.5,1050.5 591.5,1048.5 592.5,1048.5 594.5,1046.5 594.5,1045.5 596.5,1043.5 596.5,1042.5 597.5,1042.5 597.5,1040.5 598.5,1040.5 601.5,1037.5 601.5,1035.5 602.5,1035.5 604.5,1033.5 604.5,1032.5 607.5,1029.5 607.5,1028.5 609.5,1026.5 609.5,1011.5 608.5,1010.5 608.5,1005.5 607.5,1004.5 607.5,997.5 606.5,996.5 606.5,989.5 605.5,988.5 605.5,984.5 604.5,983.5 604.5,979.5 603.5,978.5 603.5,974.5 602.5,973.5 602.5,969.5 601.5,968.5 601.5,964.5 600.5,963.5 600.5,959.5 599.5,958.5 599.5,952.5 598.5,951.5 598.5,944.5 597.5,943.5 597.5,940.5 596.5,939.5 596.5,938.5 594.5,935.5 594.5,933.5 592.5,930.5 592.5,928.5 590.5,925.5 590.5,912.5 592.5,910.5 593.5,910.5 594.5,909.5 595.5,909.5 596.5,908.5 597.5,908.5 602.5,905.5 604.5,905.5 605.5,904.5 606.5,904.5 607.5,903.5 608.5,903.5 609.5,902.5 610.5,902.5 611.5,901.5 614.5,900.5 619.5,895.5 619.5,894.5 620.5,893.5 621.5,893.5 621.5,892.5 622.5,891.5 623.5,891.5 623.5,890.5 628.5,885.5 628.5,884.5 629.5,883.5 630.5,883.5 630.5,882.5 631.5,881.5 632.5,881.5 632.5,880.5 635.5,875.5 635.5,872.5 636.5,871.5 636.5,870.5 639.5,865.5 639.5,862.5 641.5,859.5 641.5,804.5 642.5,803.5 642.5,776.5 641.5,775.5 641.5,743.5 640.5,742.5 640.5,732.5 639.5,732.0 637.7,728.5 636.0,719.5 634.7,718.5 633.5,714.5 631.5,712.5 630.5,712.5 627.5,709.5 626.5,709.5 623.5,706.5 622.5,706.5 619.5,703.5ZM636.5,716.5 636.5,717.5 637.5,718.5 638.5,718.5 640.5,720.5 640.5,727.5 640.5,719.5 639.5,718.5 638.5,718.5 636.5,716.5Z" fill="#ff4000" fill-rule="evenodd"/>
<path d="M630.5,708.5 630.5,707.5 631.5,708.5 630.5,708.5ZM631.5,710.5 631.5,709.5 632.5,710.5 631.5,710.5ZM645.5,760.5 652.5,760.0 652.5,1131.5 545.5,1131.5 545.5,1128.5 546.5,1127.5 546.5,1125.5 547.5,1124.5 547.5,1121.5 548.5,1120.5 548.5,1118.5 549.5,1117.5 549.5,1115.5 550.5,1114.5 550.5,1111.5 551.5,1110.5 551.5,1108.5 552.5,1107.5 552.5,1106.5 560.5,1097.5 560.5,1096.5 561.5,1096.5 561.5,1095.5 567.5,1089.5 567.5,1088.5 572.5,1083.5 572.5,1082.5 577.5,1077.5 577.5,1076.5 580.5,1073.5 580.5,1072.5 582.5,1070.5 583.5,1067.5 584.5,1066.5 585.5,1066.5 585.5,1065.5 587.5,1063.5 587.5,1062.5 590.5,1059.5 590.5,1058.5 592.5,1056.5 593.5,1053.5 594.5,1052.5 595.5,1052.5 595.5,1051.5 597.5,1049.5 597.5,1048.5 600.5,1045.5 600.5,1044.5 602.5,1042.5 602.5,1041.5 606.5,1037.5 606.5,1036.5 609.5,1033.5 609.5,1032.5 613.5,1027.5 613.5,1013.5 612.5,1012.5 612.5,1007.5 611.5,1006.5 611.5,1001.5 610.5,1000.5 610.5,995.5 609.5,994.5 609.5,989.5 608.5,988.5 608.5,982.5 607.5,981.5 607.5,974.5 606.5,973.5 606.5,967.5 605.5,966.5 605.5,944.5 604.5,943.5 604.5,934.5 605.5,933.5 606.5,930.5 610.5,926.5 613.5,925.5 615.5,923.5 619.5,923.5 620.5,922.5 622.5,922.5 623.5,921.5 627.5,921.5 628.5,920.5 630.5,920.5 632.5,918.5 633.5,918.5 636.5,915.5 636.5,907.5 637.5,906.5 637.5,894.5 638.5,893.5 638.5,880.5 641.5,875.5 641.5,872.5 642.5,871.5 642.5,870.5 645.5,865.5 645.5,862.5 647.5,859.5 647.5,840.5 648.5,839.5 648.5,815.5 647.5,814.5 647.5,779.5 646.5,778.5 646.5,764.5 645.5,763.5 645.5,760.5Z" fill="#ff1000" fill-rule="evenodd"/>
<path d="M613.5,950.5 614.5,949.5 624.5,949.5 627.5,952.5 628.5,952.5 628.5,953.5 629.5,953.5 634.5,958.5 635.5,958.5 636.5,959.5 640.5,959.5 641.5,960.5 644.5,960.5 647.5,962.5 647.5,968.5 648.5,969.5 648.5,975.5 649.5,976.5 649.5,992.5 650.5,993.5 650.5,1032.5 649.5,1033.5 649.5,1036.5 648.5,1037.5 648.5,1041.5 647.5,1042.5 647.5,1051.5 646.5,1052.5 646.5,1061.5 645.5,1062.5 645.5,1071.5 644.5,1072.5 644.5,1081.5 643.5,1082.5 643.5,1092.5 642.5,1093.5 642.5,1101.5 641.5,1102.5 641.5,1110.5 640.5,1111.5 640.5,1120.5 639.5,1121.5 639.5,1130.5 639.9,1131.5 554.5,1131.5 554.5,1124.5 555.5,1123.5 555.5,1116.5 556.5,1115.5 556.5,1108.5 557.5,1107.5 557.5,1106.5 565.5,1097.5 565.5,1096.5 566.5,1095.5 566.5,1094.5 568.5,1091.3 571.5,1088.5 572.5,1086.5 576.5,1082.5 579.2,1078.5 582.5,1075.5 582.5,1074.5 587.5,1069.5 587.5,1068.5 590.5,1065.5 590.5,1064.5 592.5,1062.5 592.5,1061.5 597.5,1055.5 597.5,1054.5 600.5,1051.5 600.5,1050.5 604.5,1046.5 604.5,1045.5 607.5,1042.5 607.5,1041.5 612.5,1036.5 612.5,1035.5 615.5,1032.5 615.5,1031.5 619.5,1027.5 619.5,1026.5 618.5,1025.5 618.5,1020.5 617.5,1019.5 617.5,1013.5 616.5,1012.5 616.5,1008.5 615.5,1007.5 615.5,1001.5 614.5,1000.5 614.5,996.5 613.5,995.5 613.5,989.5 612.5,988.5 612.5,975.5 611.5,974.5 611.5,957.5 612.5,956.5 612.5,954.5 613.5,953.5 613.5,950.5ZM639.5,1058.3 638.6,1059.5 639.5,1060.7 640.8,1060.5 641.7,1059.5 639.5,1058.3ZM599.3,1048.5 600.2,1048.5 600.5,1049.5 600.5,1050.5 599.5,1051.5 598.5,1049.5 599.3,1048.5Z" fill="#df0000" fill-rule="evenodd"/>
<path d="M629.5,1025.5 630.5,1024.5 631.5,1025.5 631.5,1035.5 632.5,1036.5 632.5,1039.5 630.5,1042.5 630.5,1044.5 629.5,1045.5 629.5,1046.5 628.5,1047.5 628.5,1049.5 627.5,1050.5 627.5,1058.5 628.5,1059.5 628.5,1063.5 629.5,1064.5 629.5,1073.5 628.5,1074.5 628.5,1082.5 627.5,1083.5 627.5,1086.5 626.5,1087.5 626.5,1089.5 625.5,1090.5 625.5,1092.5 624.5,1093.5 624.5,1095.5 623.5,1096.5 623.5,1097.5 622.5,1098.5 622.5,1099.5 621.5,1100.5 621.5,1101.5 620.5,1102.5 619.5,1105.5 616.5,1108.5 615.5,1108.5 613.5,1110.5 612.5,1110.5 610.5,1112.5 609.5,1112.5 607.5,1114.5 606.5,1114.5 605.5,1115.5 586.5,1115.5 585.5,1114.5 583.5,1114.5 580.5,1112.5 578.5,1112.5 577.5,1111.5 575.5,1111.5 574.5,1110.5 572.5,1110.5 571.5,1109.5 571.5,1108.5 569.5,1106.5 568.5,1106.5 564.5,1102.5 565.5,1101.5 565.5,1100.5 567.5,1099.1 569.5,1099.0 571.5,1097.9 576.4,1091.5 583.5,1084.8 584.7,1082.5 585.0,1080.5 583.5,1075.5 595.5,1063.5 596.5,1060.5 597.5,1060.5 599.5,1058.5 599.5,1057.5 604.5,1052.5 604.5,1051.5 605.5,1051.5 605.5,1050.5 611.5,1044.5 611.5,1043.5 619.5,1035.5 619.5,1034.5 622.5,1031.5 623.5,1031.5 629.5,1025.5ZM599.1,1049.5 599.5,1049.1 599.9,1049.5 599.5,1050.0 599.1,1049.5Z" fill="#af0000" fill-rule="evenodd"/>
<g fill="none" stroke="#000" stroke-width="1.0" stroke-linejoin="round">
<path d="M303.5,723.5 302.5,724.5 299.5,724.5 298.5,725.5 295.5,725.5 294.5,726.5 292.5,726.5 291.5,727.5 258.5,727.5 257.5,728.5 243.5,728.5 242.5,729.5 241.5,729.5 240.5,730.5 238.5,730.5 237.5,731.5 235.5,731.5 233.5,729.5 232.5,729.5 230.5,727.5 229.5,727.5 228.5,726.5 227.5,726.5 226.5,727.5 224.5,727.5 224.5,798.5 225.5,799.5 225.5,806.5 226.5,807.5 226.5,813.5 227.5,814.5 227.5,821.5 228.5,822.5 228.5,828.5 229.5,829.5 229.5,833.5 231.5,833.5 232.5,834.5 236.5,834.5 237.5,835.5 241.5,835.5 242.5,836.5 245.5,836.5 246.5,837.5 250.5,837.5 251.5,838.5 255.5,838.5 256.5,839.5 260.5,839.5 261.5,840.5 264.5,840.5 265.5,841.5 267.5,841.5 268.5,842.5 271.5,842.5 272.5,843.5 274.5,843.5 275.5,844.5 278.5,844.5 279.5,845.5 282.5,845.5 283.5,846.5 285.5,846.5 286.5,847.5 289.5,847.5 290.5,848.5 292.5,848.5 293.5,849.5 294.5,849.5 295.4,851.5 297.3,853.5 303.3,857.5 315.5,863.6 326.7,867.5 345.5,870.1 388.5,873.0 414.5,874.1 434.5,874.1 468.5,869.4 492.5,868.5 500.5,866.8 511.5,862.1 514.5,862.0 517.5,863.5 516.5,864.5 515.5,864.5 517.5,864.5 518.5,863.5 521.5,863.5 522.5,862.5 525.5,862.5 526.5,861.5 529.5,861.5 530.5,860.5 533.5,860.5 534.5,859.5 537.5,859.5 538.5,858.5 541.5,858.5 542.5,857.5 544.5,857.5 545.5,856.5 547.5,856.5 548.5,855.5 550.5,855.5 551.5,854.5 552.5,854.5 552.5,853.5 554.5,850.5 554.5,848.5 555.5,847.5 550.5,847.5 549.5,846.5 546.5,846.5 545.5,845.5 540.5,845.5 539.5,844.5 536.5,844.5 535.5,843.5 530.5,843.5 529.5,842.5 526.5,842.5 525.5,841.5 520.5,841.5 519.5,840.5 516.5,840.5 515.5,839.5 513.5,839.5 512.5,838.5 512.5,837.5 511.5,837.5 510.5,836.5 508.5,836.5 507.5,835.5 507.5,834.5 506.5,834.5 505.5,833.5 503.5,833.5 502.5,832.5 502.5,831.5 500.5,831.5 499.5,830.5 497.5,830.5 496.5,829.5 494.5,829.5 491.5,827.5 489.5,827.5 488.5,826.5 486.5,826.5 485.5,825.5 483.5,825.5 482.5,824.5 473.5,824.5 472.5,823.5 459.5,823.5 458.5,824.5 455.5,824.5 454.5,825.5 451.5,825.5 450.5,826.5 435.5,826.5 434.5,825.5 431.5,824.5 429.5,822.5 428.5,822.5 425.5,819.5 424.5,819.5 421.5,816.5 420.5,816.5 415.5,811.5 415.5,809.5 414.5,808.5 414.5,806.5 412.5,803.5 412.5,801.5 411.5,800.5 411.5,798.5 410.5,797.5 410.5,796.5 409.5,795.5 409.5,793.5 408.5,792.5 408.5,789.5 407.5,788.5 407.5,785.5 406.5,784.5 406.5,781.5 405.5,780.5 405.5,777.5 403.5,774.5 403.5,771.5 402.5,770.5 401.5,767.5 390.5,757.5 389.5,757.5 386.5,755.5 384.5,755.5 383.5,754.5 380.5,754.5 379.5,753.5 379.5,752.5 378.5,752.5 376.5,750.5 375.5,750.5 368.5,744.5 366.5,744.5 365.5,743.5 365.5,742.5 363.5,742.5 362.5,741.5 362.5,740.5 361.5,740.5 358.5,737.5 358.5,735.5 357.5,734.5 357.5,732.5 355.5,729.5 355.5,727.5 353.5,727.5 352.5,726.5 350.5,726.5 345.5,723.5 303.5,723.5M224.5,778.5 225.5,777.5 226.8,779.5 225.5,781.5 224.5,780.5 224.5,778.5"/>
<path d="M223.5,718.5 220.5,720.5 220.5,743.5 219.5,744.5 219.5,820.5 220.5,821.5 220.5,828.5 221.5,829.5 221.5,835.5 222.5,836.5 222.5,842.5 223.5,843.5 223.5,844.5 228.5,849.5 228.5,850.5 229.5,851.5 230.5,851.5 235.5,854.5 237.5,854.5 238.5,855.5 240.5,855.5 243.5,857.5 245.5,857.5 246.5,858.5 248.5,858.5 249.5,859.5 252.5,859.5 253.5,860.5 256.5,860.5 257.5,861.5 260.5,861.5 261.5,862.5 265.5,862.5 266.5,863.5 269.5,863.5 270.5,864.5 273.5,864.5 274.5,865.5 277.5,865.5 278.5,866.5 281.5,866.5 281.7,865.5 284.5,864.3 290.5,864.4 317.3,870.5 331.5,872.5 359.5,873.4 383.5,875.5 402.5,876.4 434.5,876.9 435.5,877.5 436.5,876.5 461.5,876.5 462.5,875.5 500.5,875.5 501.5,876.5 511.5,876.5 512.5,877.5 520.5,877.5 521.5,876.5 522.5,876.5 523.5,875.5 524.5,875.5 525.5,874.5 526.5,874.5 527.5,873.5 528.5,873.5 529.5,872.5 530.5,872.5 531.5,871.5 532.5,871.5 533.5,870.5 534.5,870.5 535.5,869.5 536.5,869.5 537.5,868.5 540.5,867.5 543.5,864.5 544.5,864.5 547.5,861.5 548.5,861.5 555.5,855.5 556.5,855.5 558.5,853.5 559.5,853.5 562.5,850.5 563.5,850.5 565.5,848.5 566.5,848.5 568.5,846.5 569.5,846.5 571.5,844.5 572.5,844.5 579.5,837.5 579.5,836.5 581.5,834.5 581.5,833.5 583.5,831.5 583.5,830.5 584.5,829.5 584.5,820.5 580.5,820.5 579.5,821.5 578.5,821.5 576.5,823.5 575.5,823.5 573.5,825.5 572.5,825.5 567.5,830.5 566.5,830.5 561.5,835.5 560.5,835.5 560.5,836.5 559.5,837.5 549.5,837.5 546.5,835.5 544.5,835.5 543.5,834.5 543.5,833.5 542.5,833.5 541.5,832.5 541.5,831.5 540.5,830.5 540.5,829.5 539.5,828.5 539.5,827.5 538.5,826.5 537.5,823.5 526.5,823.5 522.5,819.5 519.5,818.5 519.5,819.5 518.5,820.5 518.5,821.5 517.5,822.5 516.5,825.5 514.5,827.5 512.5,825.5 511.5,825.5 510.5,824.5 508.5,824.5 507.5,823.5 507.5,822.5 504.5,821.5 499.5,816.5 499.5,815.5 498.5,815.5 497.5,812.5 491.5,806.5 449.5,806.5 447.5,804.5 447.5,803.5 444.5,798.5 444.5,794.5 445.5,793.5 445.5,787.5 446.5,786.5 446.5,780.5 447.5,779.5 446.5,779.5 445.5,778.5 444.5,778.5 443.5,777.5 442.5,777.5 441.5,776.5 438.5,775.5 435.5,772.5 434.5,772.5 427.5,766.5 427.5,765.5 425.5,763.5 424.5,760.5 422.5,758.5 421.5,755.5 419.5,753.5 419.5,752.5 417.5,750.5 417.5,749.5 413.5,745.5 413.5,744.5 412.5,744.5 412.5,743.5 407.5,738.5 407.5,736.5 406.5,735.5 406.5,732.5 407.5,731.5 408.5,728.5 399.5,722.5 388.5,722.5 387.5,721.5 373.5,721.5 372.5,720.5 363.5,720.5 362.5,719.5 352.5,719.5 351.5,718.5 282.5,718.5 281.5,719.5 226.5,719.5 225.5,718.5 223.5,718.5M225.2,779.5 225.5,779.1 225.9,779.5 225.5,779.9 225.2,779.5M222.5,837.5 223.5,837.1 225.5,837.3 227.5,839.5 227.3,841.5 225.5,844.5 224.5,844.5 222.5,841.5 222.5,837.5"/>
<path d="M357.5,878.5 359.5,878.5 357.5,878.5M280.5,965.5 278.5,967.5 277.5,967.5 272.5,970.5 272.5,971.5 271.5,972.5 271.5,974.5 270.5,975.5 270.5,978.5 269.5,979.5 269.5,981.5 268.5,982.5 268.5,984.5 267.5,985.5 267.5,993.5 268.5,994.5 268.5,998.5 269.5,999.5 269.5,1002.5 270.5,1003.5 269.5,1006.5 268.5,1007.5 267.5,1007.5 266.5,1008.5 265.5,1008.5 264.5,1009.5 263.5,1009.5 262.5,1010.5 259.5,1011.5 257.5,1013.5 256.5,1013.5 251.5,1016.5 248.5,1016.5 247.5,1017.5 245.5,1017.5 244.5,1018.5 239.5,1018.5 236.5,1015.5 233.5,1015.5 233.5,1017.5 230.5,1022.5 230.5,1024.5 228.5,1027.5 228.5,1029.5 227.5,1030.5 227.5,1031.5 222.5,1035.5 222.5,1059.5 226.5,1065.5 229.5,1065.5 230.5,1064.5 238.5,1064.5 239.5,1063.5 254.5,1063.5 255.5,1062.5 270.5,1062.5 271.5,1061.5 285.5,1061.5 286.5,1060.5 299.5,1060.5 300.5,1059.5 312.5,1059.5 313.5,1058.5 326.5,1058.5 327.5,1057.5 336.5,1057.5 337.5,1056.5 341.5,1056.5 342.5,1055.5 346.5,1055.5 347.5,1054.5 351.5,1054.5 352.5,1053.5 356.5,1053.5 357.5,1052.5 361.5,1052.5 362.5,1051.5 366.5,1051.5 367.5,1050.5 371.5,1050.5 372.5,1049.5 376.5,1049.5 377.5,1048.5 383.5,1048.5 384.5,1047.5 390.5,1047.5 391.5,1046.5 397.5,1046.5 398.5,1045.5 405.5,1045.5 406.5,1044.5 412.5,1044.5 413.5,1043.5 419.5,1043.5 420.5,1042.5 434.5,1042.5 436.5,1040.5 438.5,1040.5 439.5,1039.5 441.5,1039.5 442.5,1038.5 444.5,1038.5 445.5,1037.5 447.5,1037.5 448.5,1036.5 450.5,1036.5 453.5,1031.5 453.5,1029.5 455.5,1026.5 455.5,1024.5 456.5,1023.5 456.5,1022.5 457.5,1021.5 458.5,1022.5 459.5,1022.5 459.5,1017.5 458.5,1017.5 458.5,1018.5 457.5,1019.5 456.5,1019.5 455.5,1018.5 455.5,1017.5 445.5,1007.5 443.5,1007.5 444.5,1007.5 455.5,1018.5 455.5,1019.5 456.5,1020.5 456.5,1022.5 455.5,1023.5 455.5,1025.5 453.5,1028.5 453.5,1030.5 452.5,1031.5 451.5,1034.5 449.5,1036.5 447.5,1036.5 446.5,1037.5 444.5,1037.5 443.5,1038.5 441.5,1038.5 440.5,1039.5 438.5,1039.5 437.5,1040.5 435.5,1040.5 433.5,1042.5 419.5,1042.5 418.5,1043.5 412.5,1043.5 411.5,1044.5 405.5,1044.5 404.5,1045.5 397.5,1045.5 396.5,1046.5 390.5,1046.5 389.5,1047.5 383.5,1047.5 382.5,1048.5 376.5,1048.5 375.5,1049.5 371.5,1049.5 370.5,1050.5 366.5,1050.5 365.5,1051.5 361.5,1051.5 360.5,1052.5 356.5,1052.5 355.5,1053.5 351.5,1053.5 350.5,1054.5 346.5,1054.5 345.5,1055.5 341.5,1055.5 340.5,1056.5 336.5,1056.5 335.5,1057.5 326.5,1057.5 325.5,1058.5 312.5,1058.5 311.5,1059.5 299.5,1059.5 298.5,1060.5 285.5,1060.5 284.5,1061.5 270.5,1061.5 269.5,1062.5 254.5,1062.5 253.5,1063.5 238.5,1063.5 237.5,1064.5 229.5,1064.5 228.5,1065.5 227.5,1065.5 225.5,1063.5 225.5,1062.5 223.5,1060.5 223.5,1059.5 222.5,1058.5 222.5,1036.5 225.5,1033.5 226.5,1033.5 227.5,1032.5 227.5,1031.5 228.5,1030.5 228.5,1028.5 230.5,1025.5 230.5,1023.5 231.5,1022.5 231.5,1021.5 233.5,1018.5 233.5,1016.5 234.5,1015.5 235.5,1015.5 238.5,1018.5 241.5,1019.5 242.5,1018.5 245.5,1018.5 246.5,1017.5 248.5,1017.5 249.5,1016.5 252.5,1016.5 253.5,1015.5 254.5,1015.5 255.5,1014.5 258.5,1013.5 260.5,1011.5 261.5,1011.5 262.5,1010.5 263.5,1010.5 264.5,1009.5 265.5,1009.5 266.5,1008.5 267.5,1008.5 268.5,1007.5 271.5,1006.5 271.5,1000.5 270.5,1000.5 268.5,997.5 268.5,993.5 267.5,992.5 267.5,986.5 268.5,985.5 268.5,983.5 269.5,982.5 269.5,980.5 270.5,979.5 270.5,976.5 271.5,975.5 271.5,973.5 272.5,972.5 272.5,971.5 274.5,969.5 275.5,969.5 276.5,968.5 279.5,967.5 281.5,965.5 287.5,965.5 288.5,966.5 297.5,966.5 298.5,967.5 307.5,967.5 308.5,968.5 317.5,968.5 318.5,969.5 327.5,969.5 328.5,970.5 335.5,970.5 336.5,971.5 338.5,971.5 339.5,972.5 341.5,972.5 342.5,973.5 345.5,973.5 346.5,974.5 348.5,974.5 349.5,975.5 352.5,975.5 353.5,976.5 355.5,976.5 356.5,977.5 358.5,977.5 359.5,978.5 362.5,978.5 363.5,979.5 368.5,979.5 369.5,980.5 374.5,980.5 375.5,981.5 380.5,981.5 381.5,982.5 385.5,982.5 386.5,983.5 391.5,983.5 392.5,984.5 397.5,984.5 398.5,985.5 403.5,985.5 404.5,986.5 408.5,986.5 411.5,988.5 413.5,988.5 416.5,990.5 418.5,990.5 419.5,991.5 421.5,991.5 424.5,993.5 426.5,993.5 429.5,995.5 431.5,995.5 432.5,996.5 433.5,996.5 435.5,998.5 435.5,1000.5 442.5,1006.5 442.5,1005.5 440.5,1003.5 439.5,1003.5 435.5,999.5 435.5,997.5 434.5,996.5 433.5,996.5 432.5,995.5 430.5,995.5 427.5,993.5 425.5,993.5 422.5,991.5 420.5,991.5 419.5,990.5 417.5,990.5 416.5,989.5 415.5,989.5 414.5,988.5 412.5,988.5 409.5,986.5 405.5,986.5 404.5,985.5 399.5,985.5 398.5,984.5 393.5,984.5 392.5,983.5 387.5,983.5 386.5,982.5 382.5,982.5 381.5,981.5 376.5,981.5 375.5,980.5 370.5,980.5 369.5,979.5 364.5,979.5 363.5,978.5 360.5,978.5 359.5,977.5 357.5,977.5 356.5,976.5 354.5,976.5 353.5,975.5 350.5,975.5 349.5,974.5 347.5,974.5 346.5,973.5 343.5,973.5 342.5,972.5 340.5,972.5 339.5,971.5 337.5,971.5 336.5,970.5 329.5,970.5 328.5,969.5 319.5,969.5 318.5,968.5 309.5,968.5 308.5,967.5 299.5,967.5 298.5,966.5 289.5,966.5 288.5,965.5 280.5,965.5M217.5,966.5 218.5,965.5 218.5,960.5 219.5,959.5 219.5,954.5 220.5,953.5 220.5,948.5 221.5,947.5 221.5,946.5 222.5,945.5 225.5,948.5 225.5,949.5 226.5,949.5 227.5,950.5 227.5,951.5 229.5,951.5 233.5,947.5 233.5,946.5 238.5,941.5 240.5,941.5 241.5,942.5 244.5,942.5 245.5,943.5 262.5,943.5 263.5,944.5 265.5,944.5 266.5,945.5 268.5,945.5 269.5,946.5 272.5,946.5 273.5,947.5 278.5,947.5 279.5,948.5 285.5,948.5 286.5,949.5 291.5,949.5 292.5,948.5 301.5,948.5 302.5,947.5 310.5,947.5 311.5,946.5 317.5,946.5 318.5,945.5 323.5,945.5 324.5,944.5 329.5,944.5 329.5,941.5 328.5,940.5 328.5,939.5 318.5,939.5 317.5,938.5 309.5,938.5 308.5,937.5 304.5,937.5 303.5,936.5 300.5,936.5 299.5,935.5 296.5,935.5 295.5,934.5 294.5,934.5 289.5,931.5 287.5,931.5 286.5,930.5 285.5,930.5 282.5,928.5 280.5,928.5 279.5,927.5 275.5,927.5 274.5,926.5 262.5,926.5 261.5,925.5 259.5,925.5 258.5,924.5 256.5,924.5 253.5,922.5 251.5,922.5 248.5,920.5 246.5,920.5 245.5,919.5 243.5,919.5 242.5,918.5 241.5,918.5 239.5,916.5 239.5,915.5 231.5,907.5 231.5,906.5 228.5,903.5 228.5,901.5 229.5,900.5 229.5,894.5 230.5,893.5 230.5,888.5 231.5,887.5 231.5,886.5 234.5,883.5 234.5,882.5 242.5,873.5 248.5,873.5 249.5,872.5 258.5,872.5 259.5,873.5 272.5,873.5 273.5,874.5 287.5,874.5 288.5,875.5 307.5,875.5 308.5,876.5 329.5,876.5 330.5,877.5 333.5,877.5 334.2,876.5 336.5,876.0 359.5,875.7 364.5,876.9 378.5,877.3 380.5,878.5 396.5,878.3 398.5,879.5 535.5,879.5 537.5,877.5 538.5,877.5 541.5,874.5 542.5,874.5 546.5,870.5 549.5,869.5 551.5,867.5 552.5,867.5 554.5,865.5 555.5,865.5 557.5,863.5 558.5,863.5 561.5,860.5 562.5,860.5 566.5,856.5 567.5,856.5 569.5,854.5 570.5,854.5 579.5,845.5 579.5,844.5 584.5,840.5 584.5,839.5 586.5,837.5 586.5,836.5 589.5,831.5 589.5,829.5 591.5,826.5 591.5,818.5 590.5,817.5 590.5,811.5 588.5,809.5 588.5,808.5 587.5,808.5 585.5,810.5 582.5,811.5 580.5,813.5 579.5,813.5 577.5,815.5 576.5,815.5 566.5,825.5 566.5,826.5 565.5,827.5 563.5,827.5 562.5,828.5 561.5,828.5 556.5,831.5 555.5,830.5 552.5,829.5 550.5,827.5 550.5,826.5 549.5,825.5 549.5,820.5 548.5,819.5 548.5,815.5 545.5,810.5 542.5,810.5 541.5,811.5 531.5,811.5 529.5,809.5 528.5,809.5 527.5,808.5 527.5,807.5 526.5,807.5 524.5,805.5 523.5,805.5 521.5,803.5 520.5,803.5 515.5,798.5 514.5,798.5 510.5,794.5 508.5,794.5 507.5,793.5 507.5,792.5 505.5,790.5 504.5,790.5 500.5,786.5 499.5,786.5 497.5,784.5 497.5,783.5 495.5,781.5 494.5,778.5 492.5,776.5 491.5,773.5 489.5,771.5 489.5,770.5 488.5,769.5 488.5,768.5 486.5,766.5 486.5,765.5 474.5,753.5 473.5,753.5 471.5,751.5 468.5,750.5 466.5,748.5 463.5,747.5 458.5,743.5 457.5,743.5 456.5,742.5 455.5,742.5 454.5,741.5 451.5,740.5 447.5,736.5 447.5,733.5 446.5,732.5 446.5,730.5 445.5,729.5 445.5,727.5 444.5,726.5 444.5,724.5 443.5,724.5 438.5,719.5 437.5,719.5 435.5,717.5 401.5,717.5 400.5,718.5 362.5,718.5 361.5,717.5 352.5,717.5 351.5,716.5 342.5,716.5 341.5,715.5 325.5,715.5 324.5,714.5 291.5,714.5 290.5,713.5 228.5,713.5 227.5,712.5 224.5,712.5 223.5,711.5 222.5,712.5 219.5,712.5 218.5,713.5 218.5,722.5 217.5,723.5"/>
<path d="M217.5,1086.5 221.5,1086.5 221.5,1087.5 222.5,1088.5 222.5,1092.5 223.5,1093.5 223.5,1097.5 224.5,1098.5 224.5,1103.5 225.5,1104.5 225.5,1105.5 232.5,1105.5 233.5,1104.5 239.5,1104.5 240.5,1103.5 247.5,1103.5 248.5,1102.5 253.5,1102.5 254.5,1101.5 260.5,1101.5 261.5,1100.5 267.5,1100.5 268.5,1099.5 272.5,1099.5 273.5,1098.5 276.5,1098.5 277.5,1097.5 281.5,1097.5 282.5,1096.5 285.5,1096.5 286.5,1095.5 290.5,1095.5 291.5,1094.5 294.5,1094.5 295.5,1093.5 299.5,1093.5 300.5,1092.5 303.5,1092.5 305.5,1090.5 305.5,1089.5 306.5,1088.5 307.5,1085.5 309.5,1083.5 311.5,1083.5 312.5,1082.5 314.5,1082.5 315.5,1081.5 318.5,1081.5 319.5,1080.5 321.5,1080.5 322.5,1079.5 331.5,1079.5 332.5,1078.5 341.5,1078.5 342.5,1077.5 352.5,1077.5 353.5,1076.5 365.5,1076.5 366.5,1075.5 398.5,1075.5 399.5,1074.5 401.5,1074.5 402.5,1073.5 405.5,1073.5 406.5,1072.5 409.5,1072.5 410.5,1071.5 412.5,1071.5 413.5,1070.5 416.5,1070.5 417.5,1069.5 420.5,1069.5 421.5,1068.5 425.5,1068.5 426.5,1067.5 432.5,1067.5 433.5,1066.5 434.5,1066.5 435.5,1067.5 442.5,1067.5 443.5,1066.5 449.5,1066.5 450.5,1065.5 457.5,1065.5 458.5,1064.5 465.5,1064.5 466.5,1063.5 504.5,1063.5 505.5,1062.5 508.5,1062.5 509.5,1061.5 511.5,1061.5 512.5,1060.5 514.5,1060.5 515.5,1059.5 517.5,1059.5 518.5,1058.5 521.5,1058.5 522.5,1057.5 524.5,1057.5 525.5,1056.5 527.5,1056.5 528.5,1055.5 529.5,1055.5 531.5,1053.5 532.5,1053.5 534.5,1051.5 535.5,1051.5 537.5,1049.5 538.5,1049.5 541.5,1046.5 542.5,1046.5 542.5,1045.5 545.5,1044.5 547.5,1042.5 548.5,1042.5 551.5,1039.5 551.5,1030.5 552.5,1029.5 552.5,1021.5 552.5,1022.5 551.5,1023.5 550.5,1022.5 550.5,1019.5 549.5,1018.5 549.5,1014.5 548.5,1013.5 548.5,1011.5 547.5,1011.5 545.5,1009.5 543.5,1009.5 542.5,1008.5 542.5,1007.5 541.5,1007.5 536.5,1003.5 534.5,1003.5 533.5,1002.5 533.5,1001.5 532.5,1001.5 527.5,997.5 526.5,997.5 525.5,996.5 524.5,996.5 523.5,995.5 522.5,995.5 521.5,994.5 520.5,994.5 519.5,993.5 518.5,993.5 517.5,992.5 516.5,992.5 515.5,991.5 514.5,991.5 513.5,990.5 512.5,990.5 511.5,989.5 510.5,989.5 509.5,988.5 508.5,988.5 503.5,985.5 501.5,985.5 500.5,984.5 498.5,984.5 497.5,983.5 495.5,983.5 494.5,982.5 492.5,982.5 491.5,981.5 489.5,981.5 488.5,980.5 486.5,980.5 485.5,979.5 483.5,979.5 482.5,978.5 479.5,978.5 478.5,977.5 476.5,977.5 475.5,976.5 473.5,976.5 472.5,975.5 470.5,975.5 469.5,974.5 463.5,974.5 462.5,973.5 455.5,973.5 454.5,972.5 447.5,972.5 446.5,971.5 438.5,971.5 436.9,969.5 435.0,965.5 425.7,952.5 422.8,946.5 420.5,938.5 419.5,938.5 420.5,937.5 435.5,937.5 419.5,937.5 418.5,938.5 404.5,938.5 403.5,939.5 384.5,939.5 383.5,938.5 379.5,938.5 378.5,937.5 374.5,937.5 373.5,936.5 369.5,936.5 368.5,935.5 364.5,935.5 363.5,934.5 359.5,934.5 358.5,933.5 354.5,933.5 353.5,932.5 349.5,932.5 348.5,931.5 342.5,931.5 341.5,930.5 336.5,930.5 335.5,929.5 329.5,929.5 328.5,928.5 322.5,928.5 321.5,927.5 316.5,927.5 315.5,926.5 309.5,926.5 308.5,925.5 302.5,925.5 301.5,924.5 296.5,924.5 295.5,923.5 290.5,923.5 289.5,922.5 286.5,922.5 285.5,921.5 280.5,921.5 279.5,920.5 276.5,920.5 275.5,919.5 270.5,919.5 269.5,918.5 266.5,918.5 265.5,917.5 260.5,917.5 259.5,916.5 256.5,916.5 253.5,914.5 251.5,914.5 250.5,913.5 250.5,912.5 249.5,912.5 244.5,909.5 242.5,909.5 241.5,908.5 241.5,907.5 240.5,907.5 239.5,906.5 236.5,905.5 234.5,903.5 236.5,901.5 237.5,901.5 241.5,897.5 242.5,897.5 246.5,893.5 247.5,893.5 251.5,889.5 252.5,889.5 255.5,886.5 258.5,886.5 259.5,885.5 265.5,885.5 266.5,884.5 270.5,884.5 271.5,883.5 277.5,883.5 278.5,882.5 282.5,882.5 283.5,881.5 289.5,881.5 290.5,880.5 294.5,880.5 295.5,879.5 314.5,879.5 315.5,878.5 348.5,878.2 354.5,878.6 358.5,879.5 388.5,879.5 389.5,880.4 391.5,880.7 415.5,880.5 416.5,881.5 480.5,881.5 481.5,882.5 492.5,882.5 493.5,883.5 516.5,883.5 517.5,882.5 527.5,882.5 528.5,881.5 539.5,881.5 540.5,880.5 550.5,880.5 556.5,874.5 557.5,874.5 562.5,869.5 563.5,869.5 579.5,853.5 579.5,852.5 580.5,851.5 581.5,851.5 581.5,850.5 584.5,847.5 584.5,846.5 588.5,842.5 588.5,841.5 590.5,839.5 590.5,838.5 591.5,837.5 591.5,835.5 592.5,834.5 592.5,832.5 593.5,831.5 593.5,830.5 594.5,829.5 594.5,827.5 595.5,826.5 595.5,808.5 594.5,807.5 594.5,806.5 591.5,801.5 589.5,801.5 588.5,802.5 585.5,802.5 584.5,803.5 582.5,803.5 581.5,804.5 578.5,804.5 562.5,820.5 560.5,820.5 557.5,822.5 556.5,822.5 555.5,821.5 555.5,817.5 554.5,816.5 554.5,809.5 552.5,806.5 552.5,804.5 551.5,803.5 550.5,800.5 548.5,800.5 547.5,799.5 543.5,799.5 542.5,798.5 538.5,798.5 535.5,796.5 535.5,789.5 534.5,788.5 534.5,781.5 533.5,780.5 533.5,777.5 532.5,776.5 532.5,773.5 531.5,772.5 531.5,769.5 530.5,768.5 530.5,767.5 528.5,765.5 528.5,764.5 527.5,763.5 526.5,760.5 524.5,758.5 523.5,755.5 521.5,753.5 520.5,750.5 518.5,748.5 518.5,747.5 517.5,746.5 516.5,743.5 514.5,741.5 514.5,740.5 513.5,739.5 513.5,737.5 512.5,736.5 512.5,731.5 511.5,730.5 511.5,727.5 510.5,726.5 510.5,721.5 508.5,719.5 506.5,719.5 505.5,718.5 502.5,718.5 501.5,717.5 497.5,717.5 496.5,716.5 492.5,716.5 491.5,715.5 489.5,715.5 488.5,714.5 485.5,714.5 484.5,713.5 480.5,713.5 479.5,712.5 474.5,712.5 473.5,713.5 460.5,713.5 459.5,714.5 436.5,714.5 435.5,713.5 434.5,714.4 429.5,714.8 372.5,715.2 322.5,712.6 295.5,712.5 286.5,711.8 232.5,711.8 223.5,710.7 217.5,711.4"/>
<path d="M599.5,800.5 599.5,800.5M601.5,802.5 601.5,814.5 601.5,802.5M582.5,986.5 584.5,989.5 583.5,986.5 582.5,986.5M586.5,990.5 586.5,990.5M587.5,992.5 588.5,995.5 588.5,993.5 587.5,992.5M590.5,996.5 590.5,998.5 592.5,1000.5 592.5,1001.5 592.5,999.5 590.5,997.5 590.5,996.5M594.5,1005.5 594.5,1009.5 595.5,1010.5 595.5,1013.5 596.5,1014.5 596.5,1020.5 595.5,1021.5 595.5,1025.5 595.5,1023.5 596.5,1022.5 596.5,1013.5 595.5,1012.5 595.5,1009.5 594.5,1008.5 594.5,1005.5M594.5,1026.5 594.5,1026.5M593.5,1027.5 588.5,1032.5 588.5,1033.5 593.5,1028.5 593.5,1027.5M595.5,1028.5 595.5,1029.5 595.5,1028.5M587.5,1034.5 587.5,1034.5M586.5,1035.5 586.5,1035.5M583.5,1039.5 583.5,1039.5M582.5,1040.5 582.5,1040.5M581.5,1041.5 581.5,1041.5M573.5,1049.5 573.5,1049.5M572.5,1050.5 572.5,1050.5M571.5,1051.5 571.5,1051.5M570.5,1052.5 570.5,1053.5 570.5,1052.5M569.5,1054.5 569.5,1054.5M567.5,1055.5 566.5,1056.5 565.5,1056.5 567.5,1056.5 568.5,1055.5 567.5,1055.5M564.5,1057.5 564.5,1057.5M561.5,1058.5 561.5,1058.5M563.5,1058.5 563.5,1058.5M559.5,1059.5 558.5,1060.5 555.5,1061.5 553.5,1063.5 551.5,1063.5 550.5,1064.5 548.5,1064.5 547.5,1065.5 545.5,1065.5 544.5,1066.5 543.5,1066.5 545.5,1066.5 546.5,1065.5 548.5,1065.5 549.5,1064.5 551.5,1064.5 552.5,1063.5 554.5,1063.5 556.5,1061.5 559.5,1060.5 560.5,1059.5 559.5,1059.5M305.4,1131.5 305.0,1130.5 305.5,1129.5 311.5,1127.5 310.0,1125.5 311.7,1122.5 313.0,1118.5 313.3,1114.5 312.5,1110.5 313.5,1109.5 317.5,1109.5 318.5,1108.5 325.5,1108.5 326.5,1107.5 334.5,1107.5 335.5,1106.5 342.5,1106.5 343.5,1105.5 349.5,1105.5 350.5,1104.5 354.5,1104.5 355.5,1103.5 359.5,1103.5 360.5,1102.5 364.5,1102.5 365.5,1101.5 369.5,1101.5 370.5,1100.5 374.5,1100.5 375.5,1099.5 379.5,1099.5 380.5,1098.5 384.5,1098.5 385.5,1097.5 389.5,1097.5 390.5,1096.5 393.5,1096.5 394.5,1095.5 397.5,1095.5 398.5,1094.5 401.5,1094.5 402.5,1093.5 404.5,1093.5 405.5,1092.5 408.5,1092.5 409.5,1091.5 412.5,1091.5 413.5,1090.5 416.5,1090.5 417.5,1089.5 420.5,1089.5 421.5,1088.5 424.5,1088.5 425.5,1087.5 428.5,1087.5 429.5,1086.5 432.5,1086.5 433.5,1085.5 436.5,1085.5 437.5,1084.5 441.5,1084.5 442.5,1083.5 446.5,1083.5 447.5,1082.5 451.5,1082.5 452.5,1081.5 456.5,1081.5 457.5,1080.5 461.5,1080.5 462.5,1079.5 469.5,1079.5 470.5,1078.5 478.5,1078.5 479.5,1077.5 486.5,1077.5 487.5,1076.5 494.5,1076.5 495.5,1075.5 502.5,1075.5 503.5,1074.5 511.5,1074.5 512.5,1073.5 519.5,1073.5 520.5,1072.5 527.5,1072.5 528.5,1071.5 530.5,1071.5 531.5,1070.5 533.5,1070.5 534.5,1069.5 536.5,1069.5 537.5,1068.5 539.5,1068.5 540.5,1067.5 539.5,1067.5 538.5,1068.5 536.5,1068.5 535.5,1069.5 534.9,1068.5 534.6,1064.5 535.9,1060.5 540.4,1054.5 550.5,1045.3 553.5,1041.9 555.8,1037.5 558.3,1029.5 559.7,1018.5 558.9,999.5 559.1,991.5 560.5,983.3 563.5,974.6 565.5,974.5 566.5,975.5 567.5,975.5 568.5,976.5 569.5,976.5 570.5,977.5 571.5,977.5 572.5,978.5 573.5,978.5 574.5,979.5 577.5,980.5 581.5,984.5 581.5,985.5 581.5,983.5 578.5,980.5 577.5,980.5 576.5,979.5 575.5,979.5 574.5,978.5 573.5,978.5 572.5,977.5 571.5,977.5 570.5,976.5 569.5,976.5 564.5,973.5 562.5,973.5 561.5,972.5 560.5,972.5 559.5,971.5 558.5,971.5 557.5,970.5 556.5,970.5 555.5,969.5 554.5,969.5 549.5,966.5 546.5,966.5 545.5,965.5 541.5,965.5 540.5,964.5 536.5,964.5 535.5,963.5 531.5,963.5 530.5,962.5 526.5,962.5 525.5,961.5 521.5,961.5 520.5,960.5 516.5,960.5 515.5,959.5 511.5,959.5 510.5,958.5 506.5,958.5 505.5,957.5 500.5,957.5 499.5,956.5 493.5,956.5 492.5,955.5 485.5,955.5 484.5,954.5 478.5,954.5 477.5,953.5 470.5,953.5 469.5,952.5 463.5,952.5 462.5,951.5 460.5,951.5 459.5,950.5 459.5,949.5 455.5,945.5 455.5,944.5 453.5,942.5 453.5,940.5 451.5,938.5 451.5,937.5 451.2,940.5 449.5,940.9 446.5,940.4 442.5,938.6 435.5,933.5 424.5,933.5 423.5,932.5 389.5,932.5 388.5,931.5 377.5,931.5 376.5,930.5 365.5,930.5 364.5,929.5 353.5,929.5 352.5,928.5 345.5,928.5 344.5,927.5 340.5,927.5 339.5,926.5 335.5,926.5 334.5,925.5 329.5,925.5 328.5,924.5 324.5,924.5 323.5,923.5 318.5,923.5 317.5,922.5 313.5,922.5 312.5,921.5 307.5,921.5 306.5,920.5 302.5,920.5 301.5,919.5 297.5,919.5 296.5,918.5 292.5,918.5 291.5,917.5 287.5,917.5 286.5,916.5 282.5,916.5 281.5,915.5 277.5,915.5 276.5,914.5 274.5,914.5 273.5,913.5 271.5,913.5 270.5,912.5 268.5,912.5 267.5,911.5 264.5,911.5 263.5,910.5 261.5,910.5 260.5,909.5 258.5,909.5 257.5,908.5 255.5,908.5 254.5,907.5 252.5,907.5 251.5,906.5 249.5,906.5 248.5,905.5 246.5,905.5 243.5,903.5 244.5,902.5 246.5,902.5 247.5,901.5 248.5,901.5 253.5,898.5 255.5,898.5 260.5,895.5 262.5,895.5 263.5,894.5 264.5,894.5 269.5,891.5 271.5,891.5 272.5,890.5 273.5,890.5 274.5,889.5 276.5,889.5 277.5,888.5 282.5,888.5 283.5,887.5 289.5,887.5 290.5,886.5 295.5,886.5 296.5,885.5 301.5,885.5 302.5,884.5 307.5,884.5 308.5,883.5 318.5,883.5 319.5,882.5 328.5,882.5 329.5,881.5 337.5,881.5 338.5,880.5 358.5,880.5 359.5,881.5 371.5,881.5 372.5,882.5 382.5,882.5 383.5,883.5 409.5,883.5 410.5,884.5 435.5,884.5 438.5,883.6 447.5,883.1 477.5,883.2 494.5,884.5 512.5,884.6 514.5,884.9 515.3,885.5 515.5,886.5 520.5,886.5 521.5,885.5 527.5,885.5 528.5,884.5 533.5,884.5 534.5,883.5 540.5,883.5 541.5,882.5 546.5,882.5 547.5,881.5 553.5,881.5 553.5,880.5 559.5,880.5 561.5,878.5 561.5,877.5 564.5,874.5 564.5,873.5 568.5,869.5 569.5,869.5 574.5,864.5 574.5,863.5 585.5,852.5 585.5,851.5 590.5,846.5 591.5,843.5 593.5,841.5 593.5,840.5 597.5,835.5 597.5,833.5 598.5,832.5 598.5,829.5 600.5,826.5 600.5,822.5 599.5,822.5 598.6,821.5 597.2,816.5 595.8,804.5 596.5,799.7 597.5,798.5 598.5,799.5 598.5,798.5 596.5,796.5 594.5,796.5 592.5,793.5 591.5,794.5 589.5,794.5 588.5,795.5 586.5,795.5 585.5,796.5 583.5,796.5 582.5,797.5 579.5,798.5 571.5,806.5 570.5,806.5 564.5,812.5 563.5,811.5 561.5,811.5 560.5,810.5 560.5,795.5 559.5,794.5 559.5,778.5 557.5,776.5 557.5,775.5 555.5,773.5 555.5,772.5 553.5,770.5 553.5,769.5 551.5,767.5 551.5,766.5 549.5,764.5 549.5,763.5 547.5,761.5 547.5,760.5 546.5,759.5 546.5,760.5 545.5,761.5 539.5,755.5 539.5,754.5 538.5,754.5 538.5,753.5 533.5,748.5 533.5,746.5 532.5,745.5 532.5,743.5 531.5,742.5 531.5,737.5 532.5,736.5 532.5,734.5 533.5,733.5 533.5,731.5 528.5,727.5 527.5,727.5 526.5,726.5 525.5,726.5 520.5,723.5 518.5,723.5 517.5,722.5 516.5,722.5 515.5,721.5 514.5,721.5 509.5,718.5 507.5,718.5 506.5,717.5 504.5,717.5 503.5,716.5 501.5,716.5 500.5,715.5 498.5,715.5 497.5,714.5 494.5,714.5 491.5,712.5 485.5,712.3 484.5,711.5 435.5,711.5 428.5,712.1 402.5,712.2 321.5,710.5 232.5,710.1 217.5,709.4"/>
<path d="M561.5,718.5 561.5,718.5M564.5,719.5 564.5,720.5 565.5,721.5 565.5,723.5 566.5,724.5 566.5,727.5 566.5,723.5 565.5,722.5 565.5,720.5 564.5,719.5M567.5,729.5 567.5,730.5 567.5,729.5M567.5,734.5 567.5,735.5 567.5,734.5M601.5,801.7 600.8,802.5 601.5,815.2 602.5,814.6 602.9,813.5 603.2,808.5 602.8,803.5 601.5,801.7M601.5,816.5 601.5,816.5M601.5,818.5 601.5,818.5M566.5,939.5 567.5,939.5 566.5,939.5M590.5,996.2 590.0,996.5 590.3,998.5 592.5,1001.9 592.6,999.5 590.5,996.2M594.5,1005.2 594.4,1009.5 595.1,1010.5 596.1,1017.5 594.9,1025.5 594.1,1026.5 594.5,1026.9 595.5,1026.2 596.7,1022.5 597.1,1014.5 595.8,1012.5 595.7,1009.5 595.1,1008.5 594.5,1005.2M593.5,1027.1 588.4,1032.5 588.5,1033.8 593.6,1028.5 593.5,1027.1M595.5,1028.1 595.5,1029.7 595.5,1028.1M587.5,1034.2 587.5,1034.8 587.5,1034.2M586.5,1035.3 586.5,1035.9 586.5,1035.3M585.5,1036.3 585.5,1036.8 585.9,1036.5 585.5,1036.3M583.5,1039.2 583.5,1039.8 583.5,1039.2M582.5,1040.3 582.5,1040.9 582.5,1040.3M581.5,1041.3 581.5,1041.8 581.9,1041.5 581.5,1041.3M573.5,1049.1 572.9,1049.5 573.5,1049.9 573.5,1049.1M572.5,1049.9 572.0,1050.5 572.5,1050.9 572.9,1050.5 572.5,1049.9M571.5,1051.0 571.0,1051.5 571.5,1051.9 571.9,1051.5 571.5,1051.0M570.5,1052.0 569.8,1053.5 570.5,1053.8 570.9,1052.5 570.5,1052.0M569.5,1053.8 568.9,1054.5 569.5,1054.8 569.5,1053.8M567.5,1055.2 564.2,1057.5 564.5,1058.0 568.8,1055.5 568.5,1054.9 567.5,1055.2M563.5,1058.2 563.5,1058.8 564.0,1058.5 563.5,1058.2M539.5,1086.5 539.5,1087.5 540.5,1086.5 541.5,1086.5 539.5,1086.5M376.5,1131.5 375.5,1129.5 376.5,1128.5 379.5,1128.5 380.5,1127.5 381.5,1127.5 381.5,1125.5 380.5,1124.5 380.5,1123.5 378.5,1121.5 378.5,1119.5 383.5,1114.5 385.5,1114.5 386.5,1113.5 389.5,1113.5 390.5,1112.5 393.5,1112.5 394.5,1111.5 397.5,1111.5 398.5,1110.5 401.5,1110.5 402.5,1109.5 405.5,1109.5 406.5,1108.5 409.5,1108.5 410.5,1107.5 413.5,1107.5 414.5,1106.5 419.5,1106.5 420.5,1105.5 427.5,1105.5 428.5,1104.5 434.5,1104.5 436.5,1102.5 438.5,1102.5 439.5,1101.5 445.5,1101.5 446.5,1100.5 452.5,1100.5 453.5,1099.5 459.5,1099.5 460.5,1098.5 466.5,1098.5 467.5,1097.5 474.5,1097.5 475.5,1096.5 481.5,1096.5 482.5,1095.5 489.5,1095.5 490.5,1094.5 496.5,1094.5 497.5,1093.5 503.5,1093.5 504.5,1092.5 509.5,1092.5 510.5,1091.5 515.5,1091.5 516.5,1090.5 521.5,1090.5 522.5,1089.5 527.5,1089.5 528.5,1088.5 533.5,1088.5 534.5,1087.5 536.5,1087.5 533.5,1087.5 532.5,1088.5 527.5,1088.5 526.5,1089.5 523.5,1089.5 523.8,1083.5 525.2,1079.5 528.9,1075.5 540.5,1068.0 545.5,1067.6 554.5,1064.0 561.5,1059.0 561.5,1058.2 557.5,1058.3 554.5,1059.2 542.8,1066.5 542.5,1067.5 541.0,1065.5 540.9,1063.5 541.5,1061.5 544.3,1057.5 557.3,1043.5 563.8,1033.5 569.1,1021.5 573.9,1003.5 577.1,997.5 580.9,993.5 585.5,990.5 588.0,994.5 588.0,995.5 588.5,996.1 588.7,995.5 588.5,993.1 586.9,991.5 586.5,989.9 585.5,990.5 581.7,981.5 577.5,976.2 570.5,969.5 559.5,963.0 554.7,959.5 549.9,954.5 547.0,949.5 545.1,942.5 544.8,939.5 545.5,938.5 552.5,938.5 553.5,939.5 563.5,939.5 554.5,939.5 553.5,938.5 539.5,938.5 538.5,937.5 526.5,937.5 525.5,936.5 517.5,936.5 516.5,935.5 509.5,935.5 508.5,934.5 501.5,934.5 500.5,933.5 492.5,933.5 491.5,932.5 476.5,932.5 475.5,931.5 456.5,931.5 455.5,930.5 436.5,930.5 435.5,929.5 412.5,929.5 411.5,928.5 389.5,928.5 388.5,927.5 374.5,927.5 373.5,926.5 359.5,926.5 358.5,925.5 347.5,925.5 346.5,924.5 341.5,924.5 340.5,923.5 335.5,923.5 334.5,922.5 329.5,922.5 328.5,921.5 323.5,921.5 322.5,920.5 317.5,920.5 316.5,919.5 311.5,919.5 310.5,918.5 305.5,918.5 304.5,917.5 299.5,917.5 298.5,916.5 292.5,916.5 291.5,915.5 286.5,915.5 285.5,914.5 280.5,914.5 279.5,913.5 275.5,913.5 274.5,912.5 272.5,912.5 271.5,911.5 269.5,911.5 268.5,910.5 266.5,910.5 265.5,909.5 263.5,909.5 262.5,908.5 260.5,908.5 259.5,907.5 257.5,907.5 256.5,906.5 254.5,906.5 253.5,905.5 251.5,905.5 249.5,903.5 250.5,902.5 252.5,902.5 253.5,901.5 254.5,901.5 259.5,898.5 261.5,898.5 266.5,895.5 268.5,895.5 269.5,894.5 270.5,894.5 275.5,891.5 280.5,891.5 281.5,890.5 285.5,890.5 286.5,889.5 291.5,889.5 292.5,888.5 296.5,888.5 297.5,887.5 302.5,887.5 303.5,886.5 307.5,886.5 308.5,885.5 318.5,885.5 319.5,884.5 328.5,884.5 329.5,883.5 337.5,883.5 338.5,882.5 358.5,882.5 359.5,883.5 371.5,883.5 372.5,884.5 382.5,884.5 383.5,885.5 409.5,885.5 410.5,886.5 435.5,886.5 437.5,885.7 442.5,885.0 465.5,884.5 511.5,885.6 513.5,885.8 515.5,887.0 540.5,884.7 559.5,881.8 562.2,880.5 574.6,871.5 580.6,866.5 587.8,858.5 593.5,849.4 599.0,835.5 599.9,829.5 600.8,826.5 600.8,823.5 601.5,822.5 600.8,821.5 601.5,820.5 600.5,819.8 600.3,818.5 598.5,815.7 598.1,812.5 597.7,804.5 600.2,800.5 598.9,799.5 598.5,797.7 594.5,792.3 586.5,785.5 591.5,781.5 590.5,781.5 588.5,783.5 587.5,783.5 583.5,787.5 582.5,787.5 578.5,791.5 577.5,791.5 574.5,794.5 573.5,794.5 572.5,795.5 570.5,795.5 569.5,794.5 569.5,782.5 570.5,781.5 570.5,769.5 571.5,768.5 571.5,755.5 570.5,754.5 570.5,748.5 569.5,747.5 569.5,742.5 568.5,741.5 568.5,737.5 568.5,740.5 567.5,741.0 562.5,739.7 558.5,737.2 555.9,734.5 553.4,730.5 551.8,726.5 550.7,721.5 550.5,717.5 560.5,717.5 534.5,717.5 533.5,716.5 531.5,716.5 530.5,715.5 527.5,715.5 526.5,714.5 524.5,714.5 523.5,713.5 520.5,713.5 519.5,712.5 516.5,712.5 515.5,711.5 489.5,711.5 488.5,710.4 486.5,710.1 485.5,710.5 456.5,710.5 455.5,709.5 401.5,709.5 400.5,708.5 330.5,708.5 329.0,706.5 328.5,703.5"/>
<path d="M504.5,707.5 504.5,707.5M511.5,708.5 517.5,708.5 511.5,708.5M519.5,709.5 531.5,709.5 519.5,709.5M532.5,710.5 537.5,710.5 532.5,710.5M552.5,711.5 559.5,711.5 560.5,712.5 560.5,711.5 552.5,711.5M560.5,714.5 561.5,714.5 560.5,714.5M597.5,769.5 597.5,769.5M599.6,803.5 600.5,802.8 600.8,803.5 601.2,815.5 600.5,816.3 599.6,815.5 599.3,813.5 599.6,803.5M566.5,939.1 565.9,939.5 568.5,940.5 570.5,946.5 570.5,944.5 569.5,943.5 569.5,941.5 568.5,940.5 568.7,939.5 566.5,939.1M571.5,947.5 571.5,947.5M572.5,949.5 572.5,949.5M573.5,954.5 573.5,955.5 573.5,954.5M594.5,1004.8 593.9,1005.5 594.2,1009.5 595.6,1017.5 594.7,1024.5 593.8,1026.5 588.2,1032.5 587.1,1034.5 587.5,1035.1 594.5,1027.2 595.5,1027.2 597.1,1021.5 597.0,1017.5 597.5,1016.5 597.1,1015.5 597.6,1014.5 596.2,1012.5 595.1,1005.5 594.5,1004.8M595.5,1027.6 595.5,1029.8 595.9,1028.5 595.5,1027.6M586.5,1035.1 585.1,1036.5 585.5,1037.1 587.1,1035.5 586.5,1035.1M583.5,1038.9 583.1,1039.5 583.5,1040.1 583.9,1039.5 583.5,1038.9M582.5,1040.1 581.1,1041.5 581.5,1042.1 583.1,1040.5 582.5,1040.1M572.5,1049.4 568.3,1054.5 562.8,1058.5 563.5,1059.0 565.5,1058.2 569.1,1055.5 573.5,1050.4 573.9,1049.5 573.5,1048.8 572.5,1049.4M545.5,1062.5 546.5,1061.5 546.5,1062.5 545.5,1062.5M529.5,1079.5 530.5,1079.5 529.5,1079.5M539.5,1086.3 538.9,1087.5 539.5,1087.8 541.7,1086.5 539.5,1086.3M459.7,1131.5 461.0,1124.5 464.1,1118.5 469.5,1112.5 476.8,1107.5 482.8,1104.5 490.8,1101.5 537.1,1087.5 532.9,1084.5 530.5,1079.5 541.5,1068.5 542.5,1069.3 543.5,1069.4 547.5,1068.2 554.5,1064.5 558.5,1061.2 561.5,1059.5 562.2,1058.5 561.5,1057.8 556.2,1054.5 555.5,1053.5 555.5,1051.5 556.5,1050.5 557.5,1050.5 573.5,1034.5 573.5,1033.5 580.5,1026.5 580.5,1025.5 581.5,1024.5 581.5,1023.5 582.5,1022.5 582.5,1021.5 583.5,1020.5 583.5,1019.5 584.5,1018.5 584.5,1017.5 585.5,1016.5 585.5,1015.5 588.5,1010.5 588.5,1008.5 588.5,1009.5 586.5,1011.5 584.5,1009.2 583.7,1006.5 584.3,1003.5 585.5,1001.7 587.5,1000.2 588.5,1000.5 588.5,1002.5 588.5,998.5 587.5,997.5 588.5,996.7 589.5,996.5 591.5,1001.5 592.5,1002.3 592.8,999.5 591.2,996.5 590.5,995.9 589.5,996.5 588.5,992.7 584.5,986.5 584.5,983.5 583.5,982.5 583.5,979.5 581.5,977.5 581.5,974.5 580.5,973.5 580.5,971.5 578.5,968.5 578.5,965.5 576.5,962.5 576.5,960.5 575.5,959.5 575.5,957.5 574.5,956.5 574.5,957.5 575.5,958.5 574.3,959.5 570.5,959.9 567.5,959.4 562.5,956.9 558.6,952.5 557.5,948.5 557.9,945.5 559.9,942.5 564.1,939.5 551.5,936.3 537.5,934.3 490.5,929.5 436.5,926.5 424.5,926.5 423.5,925.5 407.5,925.5 406.5,924.5 389.5,924.5 388.5,923.5 369.5,923.5 368.5,922.5 349.5,922.5 348.5,921.5 342.5,921.5 341.5,920.5 336.5,920.5 335.5,919.5 329.5,919.5 328.5,918.5 323.5,918.5 322.5,917.5 316.5,917.5 315.5,916.5 309.5,916.5 308.5,915.5 302.5,915.5 301.5,914.5 295.5,914.5 294.5,913.5 287.5,913.5 286.5,912.5 280.5,912.5 279.5,911.5 275.5,911.5 274.5,910.5 273.5,910.5 272.5,909.5 270.5,909.5 265.5,906.5 263.5,906.5 262.5,905.5 261.5,905.5 259.5,903.5 260.5,902.5 261.5,902.5 262.5,901.5 263.5,901.5 264.5,900.5 265.5,900.5 266.5,899.5 267.5,899.5 268.5,898.5 269.5,898.5 274.5,895.5 276.5,895.5 277.5,894.5 281.5,894.5 282.5,893.5 286.5,893.5 287.5,892.5 291.5,892.5 292.5,891.5 296.5,891.5 297.5,890.5 301.5,890.5 302.5,889.5 306.5,889.5 307.5,888.5 313.5,888.5 314.5,887.5 322.5,887.5 323.5,886.5 331.5,886.5 332.5,885.5 339.5,885.5 339.5,884.5 361.5,884.5 362.5,885.5 377.5,885.5 378.5,886.5 398.5,886.5 399.5,887.5 436.5,887.5 444.5,886.7 465.5,886.2 510.5,886.5 513.5,886.7 515.5,887.5 546.5,885.6 559.5,883.5 565.3,881.5 580.8,874.5 585.3,871.5 588.5,868.5 594.5,860.2 598.0,851.5 600.8,835.5 601.2,823.5 602.4,822.5 604.6,813.5 604.8,805.5 603.4,801.5 599.4,799.5 595.1,786.5 593.5,779.1 587.5,772.5 592.5,767.5 593.5,768.5 595.5,768.5 594.5,768.5 593.5,767.5 591.5,767.5 586.5,772.5 586.5,773.5 581.5,778.5 581.5,779.5 580.5,780.5 579.5,780.5 577.5,778.5 577.5,758.5 576.5,757.5 576.5,755.5 574.5,752.5 574.5,750.5 573.5,749.5 573.5,747.5 571.5,744.5 571.5,741.5 569.5,738.5 569.5,736.5 570.5,736.4 571.2,735.5 573.1,730.5 572.5,726.5 570.3,722.5 566.5,719.0 560.5,716.7 535.5,714.8 515.5,710.6 510.5,710.4 507.5,709.6 503.5,709.8 496.5,708.6 495.5,707.5 489.5,707.5 488.5,706.5 477.5,706.5 476.5,705.5 462.5,705.5 461.5,704.5 449.5,704.5 448.5,703.5"/>
<path d="M541.5,710.2 541.1,710.5 541.5,711.7 541.9,710.5 541.5,710.2M543.5,710.3 543.1,710.5 543.5,711.3 543.9,710.5 543.5,710.3M545.5,710.2 545.0,710.5 545.5,711.0 546.0,710.5 545.5,710.2M547.5,711.2 547.1,711.5 547.5,712.4 547.9,711.5 547.5,711.2M549.5,711.3 549.1,711.5 549.5,712.1 549.9,711.5 549.5,711.3M572.5,948.9 571.9,949.5 572.5,950.0 573.0,949.5 572.5,948.9M594.5,1004.5 593.6,1005.5 595.2,1016.5 594.3,1024.5 593.4,1026.5 591.1,1029.5 583.9,1037.5 584.5,1037.9 586.6,1036.5 594.5,1027.6 595.1,1029.5 595.5,1030.0 596.0,1029.5 595.8,1026.5 597.4,1021.5 597.2,1017.5 597.9,1016.5 597.4,1015.5 598.0,1014.5 596.5,1012.5 595.4,1005.5 594.5,1004.5M583.5,1038.6 579.9,1042.5 580.5,1042.8 582.6,1041.5 584.1,1039.5 583.5,1038.6M474.1,1131.5 475.2,1125.5 477.5,1120.5 481.5,1115.5 487.7,1110.5 497.5,1105.1 535.5,1088.2 537.5,1087.6 539.5,1088.2 541.5,1087.1 542.0,1086.5 541.5,1085.8 539.5,1086.1 538.5,1087.4 537.5,1087.2 535.7,1084.5 535.3,1080.5 537.6,1076.5 541.5,1072.8 548.5,1069.1 554.5,1065.1 562.5,1058.5 563.5,1059.3 565.5,1058.5 570.5,1054.4 574.1,1049.5 573.5,1048.4 572.5,1048.8 567.7,1054.5 562.5,1058.5 560.8,1056.5 560.2,1054.5 560.6,1051.5 563.4,1047.5 580.5,1028.4 583.0,1024.5 585.8,1018.5 589.2,1008.5 587.8,1005.5 589.0,1002.5 588.5,997.5 589.5,996.8 590.0,997.5 591.5,1002.8 592.5,1003.2 593.1,1001.5 592.9,999.5 591.6,996.5 590.5,995.6 589.5,996.1 589.2,995.5 588.5,992.0 585.7,986.5 584.0,979.5 579.3,968.5 576.9,960.5 576.0,959.5 575.8,957.5 574.0,955.5 573.5,953.9 570.5,954.7 567.5,954.3 564.5,952.4 562.4,949.5 561.9,947.5 562.0,944.5 564.5,939.8 565.5,939.6 567.8,940.5 568.9,942.5 569.2,944.5 570.2,945.5 570.5,947.0 571.5,948.0 572.0,947.5 569.0,939.5 567.5,938.6 564.5,939.4 552.5,934.3 544.5,932.1 535.5,930.4 522.5,929.0 491.5,926.3 443.5,923.4 435.5,922.5 420.5,922.5 419.5,921.5 397.5,921.5 396.5,920.5 376.5,920.5 375.5,919.5 356.5,919.5 355.5,918.5 345.5,918.5 344.5,917.5 338.5,917.5 337.5,916.5 332.5,916.5 331.5,915.5 325.5,915.5 324.5,914.5 318.5,914.5 317.5,913.5 311.5,913.5 310.5,912.5 307.5,912.5 306.5,911.5 303.5,911.5 302.5,910.5 299.5,910.5 298.5,909.5 296.5,909.5 295.5,908.5 292.5,908.5 291.5,907.5 289.5,907.5 288.5,906.5 286.5,906.5 285.5,905.5 282.5,905.5 280.5,903.5 283.5,901.5 285.5,901.5 286.5,900.5 288.5,900.5 289.5,899.5 291.5,899.5 294.5,897.5 296.5,897.5 299.5,895.5 301.5,895.5 302.5,894.5 304.5,894.5 305.5,893.5 307.5,893.5 308.5,892.5 312.5,892.5 313.5,891.5 319.5,891.5 320.5,890.5 325.5,890.5 326.5,889.5 332.5,889.5 333.5,888.5 338.5,888.5 339.5,887.5 345.5,887.5 346.5,886.5 353.5,886.5 354.5,887.5 373.5,887.5 374.5,888.5 398.5,888.5 399.5,889.5 435.5,889.5 443.5,888.5 465.5,887.8 514.5,887.5 515.5,888.3 516.5,887.5 549.5,887.5 550.5,886.5 555.5,886.5 556.5,885.5 561.5,885.5 562.5,884.5 567.5,884.5 568.5,883.5 573.5,883.5 574.5,882.5 579.5,882.5 580.5,881.5 585.5,881.5 586.5,880.5 591.5,880.5 592.5,879.5 593.5,876.5 594.5,875.5 595.5,875.5 595.5,874.5 596.5,873.5 596.5,872.5 597.5,871.5 598.5,868.5 601.5,865.5 601.5,864.5 603.5,861.5 603.5,845.5 602.5,844.5 602.5,829.5 601.5,828.5 601.5,825.5 603.5,824.5 605.3,821.5 606.5,813.7 606.7,807.5 606.2,802.5 604.9,799.5 603.5,798.1 599.5,796.5 599.5,785.5 598.5,784.5 598.5,779.5 597.5,778.5 597.5,771.5 598.5,771.4 599.6,769.5 598.5,767.2 596.5,766.5 596.5,764.5 595.5,763.5 595.5,757.5 594.5,756.5 594.5,750.5 593.5,749.5 593.5,743.5 592.5,742.5 592.5,735.5 591.5,734.5 591.5,729.5 590.5,728.5 590.5,721.5 589.5,720.5 589.5,719.5 583.5,719.5 582.5,718.5 576.5,718.5 575.5,717.5 569.5,717.5 568.5,716.5 563.5,716.5 562.3,714.5 560.7,713.5 561.2,712.5 561.1,711.5 560.5,711.2 551.5,711.0 550.9,711.5 551.5,711.8 557.5,712.0 560.3,713.5 559.5,715.5 555.5,715.5 554.5,714.5 547.5,714.5 546.5,713.5 540.5,713.5 539.5,712.5 540.0,711.5 539.5,710.3 533.5,710.0 531.5,709.0 520.5,708.4 517.5,707.6 512.5,707.1 508.5,707.5 504.5,706.2 500.5,706.0 497.5,704.8 495.6,705.5 495.5,706.5 490.5,706.5 489.5,705.5 483.5,705.5 482.5,704.5 476.5,704.5 475.5,703.5"/>
<path d="M564.6,940.5 565.5,939.9 567.2,940.5 569.0,944.5 570.0,945.5 570.5,947.5 571.5,948.5 571.2,949.5 572.5,950.5 571.5,952.4 568.5,951.5 565.4,948.5 564.1,944.5 564.6,940.5M588.8,997.5 589.5,997.0 589.8,997.5 590.3,1000.5 590.4,1001.5 589.5,1002.5 589.0,1001.5 588.8,997.5M589.2,1003.5 589.5,1002.5 590.2,1003.5 589.5,1003.9 589.2,1003.5M589.1,1005.5 592.5,1005.1 593.9,1006.5 594.7,1018.5 594.3,1023.5 593.2,1026.5 586.6,1034.5 584.5,1036.8 583.5,1037.2 583.4,1038.5 580.5,1041.8 578.8,1042.5 574.5,1047.4 572.2,1048.5 567.3,1054.5 562.5,1058.2 561.9,1057.5 561.9,1054.5 563.7,1050.5 581.5,1029.4 584.7,1024.5 586.7,1019.5 589.0,1009.5 589.9,1008.5 589.2,1007.5 590.2,1006.5 589.1,1005.5M482.5,1131.5 483.1,1127.5 485.4,1122.5 488.6,1118.5 493.5,1114.2 535.5,1088.5 537.5,1087.9 539.5,1088.5 541.5,1087.4 542.2,1086.5 541.5,1085.5 539.5,1085.9 538.5,1087.1 537.6,1086.5 537.1,1084.5 538.0,1080.5 540.5,1077.1 555.5,1065.0 560.5,1060.2 561.5,1060.0 562.5,1058.8 563.5,1059.5 565.5,1058.9 569.5,1055.6 573.9,1050.5 574.5,1048.9 576.5,1046.9 577.5,1046.8 579.5,1043.9 582.9,1041.5 584.3,1039.5 584.2,1038.5 586.9,1036.5 594.5,1027.8 595.5,1030.1 596.2,1029.5 595.9,1026.5 596.8,1025.5 596.5,1024.5 597.8,1021.5 597.2,1020.5 597.5,1017.5 598.3,1016.5 598.3,1014.5 596.7,1012.5 595.8,1005.5 593.5,1002.2 592.1,996.5 590.5,995.2 589.4,995.5 588.1,989.5 586.2,985.5 584.4,979.5 579.5,967.5 577.3,960.5 574.0,954.5 572.5,950.5 573.4,949.5 569.4,939.5 567.5,938.0 564.5,939.1 555.5,933.2 548.5,930.0 540.5,927.6 533.5,926.4 501.5,923.6 443.5,920.0 435.5,918.5 413.5,918.5 412.5,917.5 382.5,917.5 381.5,916.5 362.5,916.5 361.5,915.5 346.5,915.5 345.5,914.5 337.5,914.5 336.5,913.5 329.5,913.5 328.5,912.5 321.5,912.5 320.5,911.5 312.5,911.5 311.5,910.5 307.5,910.5 306.5,909.5 304.5,909.5 303.5,908.5 301.5,908.5 300.5,907.5 298.5,907.5 297.5,906.5 295.5,906.5 294.5,905.5 292.5,905.5 290.5,903.5 293.5,901.5 295.5,901.5 298.5,899.5 300.5,899.5 301.5,898.5 302.5,898.5 303.5,897.5 305.5,897.5 308.5,895.5 314.5,895.5 315.5,894.5 320.5,894.5 321.5,893.5 326.5,893.5 327.5,892.5 333.5,892.5 334.5,891.5 339.5,891.5 340.5,890.5 345.5,890.5 346.5,889.5 362.5,889.5 363.5,890.5 401.5,890.5 402.5,891.5 435.5,891.5 440.5,890.3 465.5,889.4 559.5,889.5 560.5,888.5 563.5,888.5 564.5,887.5 567.5,887.5 568.5,886.5 572.5,886.5 573.5,885.5 576.5,885.5 577.5,884.5 581.5,884.5 582.5,883.5 585.5,883.5 586.5,882.5 589.5,882.5 590.5,881.5 593.5,881.5 594.5,880.5 597.5,880.5 598.5,879.5 599.5,876.5 600.5,876.5 600.5,875.5 602.5,873.5 602.5,872.5 603.5,871.5 603.5,870.5 604.5,869.5 604.5,868.5 605.5,867.5 606.5,864.5 608.5,862.5 608.5,861.5 609.5,860.5 609.5,838.5 608.5,837.5 608.5,795.5 607.5,794.5 607.5,779.5 606.5,778.5 606.5,770.5 605.5,769.5 605.5,761.5 604.5,760.5 604.5,753.5 603.5,752.5 603.5,743.5 602.5,742.5 602.5,735.5 601.5,734.5 601.5,725.5 600.5,724.5 600.5,719.5 595.5,719.5 594.5,718.5 589.5,718.5 588.5,717.5 583.5,717.5 582.5,716.5 576.5,716.5 575.5,715.5 570.5,715.5 569.5,714.5 564.5,714.5 563.5,713.5 562.5,713.5 561.9,711.5 560.5,710.8 557.5,710.8 552.5,709.9 548.5,710.0 545.5,709.1 541.5,708.7 539.5,708.8 538.5,709.5 533.5,709.5 532.5,708.5 527.5,708.5 526.5,707.5 521.5,707.5 520.5,706.5 515.5,706.5 514.5,705.5 509.5,705.5 508.5,704.5 503.5,704.5 502.5,703.5"/>
<path d="M529.5,891.5 565.5,891.5 529.5,891.5M565.0,940.5 566.9,940.5 568.1,943.5 569.8,945.5 570.0,947.5 571.0,948.5 570.5,949.4 568.5,948.7 566.8,946.5 565.0,940.5M570.5,950.5 571.5,950.1 572.0,950.5 571.5,951.2 570.5,950.5M589.2,997.5 589.7,997.5 589.9,1001.5 589.5,1002.0 589.2,997.5M591.7,1006.5 593.5,1005.9 593.8,1006.5 594.3,1019.5 594.0,1023.5 593.0,1026.5 586.5,1034.4 584.5,1036.4 583.4,1036.5 582.5,1039.4 580.5,1041.4 578.5,1041.6 577.2,1042.5 573.8,1046.5 571.3,1048.5 567.9,1053.5 562.5,1057.8 562.5,1056.3 566.1,1050.5 577.0,1037.5 586.0,1025.5 587.9,1020.5 589.2,1009.5 590.7,1008.5 591.7,1006.5M488.0,1131.5 488.6,1128.5 490.5,1125.1 497.5,1118.2 518.5,1102.9 536.0,1088.5 537.5,1088.2 539.5,1089.1 541.5,1087.7 542.5,1086.5 541.5,1084.8 539.5,1085.7 538.5,1086.8 537.9,1085.5 539.5,1082.0 542.4,1078.5 560.5,1060.3 561.5,1060.2 562.5,1059.2 563.5,1060.1 564.5,1059.9 568.5,1056.2 569.5,1055.9 574.5,1049.6 583.3,1041.5 585.0,1038.5 587.3,1036.5 594.5,1027.9 595.5,1030.3 596.4,1029.5 596.0,1026.5 597.1,1025.5 597.0,1023.5 598.2,1021.5 597.4,1020.5 598.2,1019.5 598.8,1016.5 598.7,1014.5 596.9,1012.5 596.2,1005.5 594.7,1002.5 593.5,1001.6 592.1,995.5 590.5,994.6 589.5,995.2 588.8,989.5 586.9,985.5 586.3,982.5 583.0,975.5 582.5,972.5 579.5,966.2 577.8,960.5 576.5,959.0 576.2,957.5 574.2,954.5 574.2,949.5 569.1,938.5 566.5,937.2 564.5,938.8 554.5,929.7 543.5,924.6 536.5,922.8 522.5,921.4 443.5,916.7 434.5,915.6 365.5,913.9 348.5,912.9 332.5,911.4 323.5,909.6 317.5,907.1 316.1,905.5 315.6,903.5 316.2,901.5 317.5,900.0 322.2,897.5 347.5,891.1 398.5,891.5 403.5,892.5 433.5,892.5 464.5,891.0 487.5,890.5 524.5,890.8 528.5,890.0 559.5,890.0 564.5,889.3 568.5,889.5 570.5,888.6 576.5,887.5 578.5,886.5 580.5,886.5 581.5,885.5 584.5,885.5 585.5,884.5 588.5,884.5 589.5,883.5 591.5,883.5 592.5,882.5 595.5,882.5 596.5,881.5 598.5,881.5 599.5,880.5 602.5,880.5 603.5,879.5 604.5,876.5 606.5,874.5 607.5,871.5 609.5,869.5 609.5,868.5 610.5,867.5 610.5,866.5 613.5,861.5 613.5,781.5 612.5,780.5 612.5,771.5 611.5,770.5 611.5,761.5 610.5,760.5 610.5,750.5 609.5,749.5 609.5,740.5 608.5,739.5 608.5,729.5 607.5,728.5 607.5,719.5 603.5,719.5 602.5,718.5 598.5,718.5 597.5,717.5 593.5,717.5 592.5,716.5 588.5,716.5 587.5,715.5 583.5,715.5 582.5,714.5 578.5,714.5 577.5,713.5 573.5,713.5 572.5,712.5 568.5,712.5 567.5,711.5 564.5,711.5 563.5,710.5 558.5,710.5 557.5,709.5 554.5,709.5 553.5,708.5 548.5,708.5 547.5,707.5 544.5,707.5 543.5,706.5 538.5,706.5 537.5,705.5 534.5,705.5 533.5,704.5 529.5,704.5 528.5,703.5"/>
<path d="M592.8,1006.5 593.6,1006.5 593.8,1023.5 593.0,1024.5 592.7,1026.5 590.8,1028.5 590.6,1029.5 584.5,1035.9 582.5,1034.5 582.5,1033.5 586.5,1029.5 586.5,1028.5 588.5,1026.5 588.5,1024.5 589.5,1023.5 589.5,1010.5 590.5,1010.4 591.5,1009.5 592.8,1006.5M579.5,1037.5 580.5,1036.5 582.8,1038.5 580.5,1040.9 578.5,1039.5 579.5,1038.5 579.5,1037.5M568.5,1050.5 569.5,1049.5 569.5,1050.5 568.5,1050.5M491.5,1131.5 497.5,1125.5 498.5,1125.5 503.5,1120.5 504.5,1120.5 509.5,1115.5 510.5,1115.5 515.5,1110.5 516.5,1110.5 536.5,1089.5 538.5,1090.2 540.5,1089.4 543.0,1086.5 542.5,1082.5 549.5,1075.5 549.5,1074.5 553.5,1070.5 553.5,1069.5 558.5,1064.5 558.5,1063.5 561.5,1060.5 563.5,1061.0 565.5,1059.9 567.0,1058.5 567.2,1057.5 568.5,1056.4 569.5,1056.2 574.5,1050.1 577.5,1048.0 583.7,1041.5 585.5,1038.5 594.5,1028.1 595.5,1030.4 596.6,1029.5 597.0,1028.5 596.2,1026.5 597.4,1025.5 597.2,1023.5 598.8,1021.5 599.4,1016.5 598.7,1013.5 597.1,1012.5 596.4,1004.5 595.5,1002.3 593.5,1001.1 592.5,994.6 591.5,993.3 589.5,992.5 589.5,987.5 587.5,984.5 587.5,981.5 586.5,980.5 586.5,979.5 583.5,974.5 583.5,971.5 582.5,970.5 582.5,969.5 579.5,964.5 579.5,961.5 578.5,960.5 578.5,959.5 576.5,957.5 576.5,956.5 574.5,954.5 574.5,953.5 575.5,952.5 575.1,949.5 569.8,938.5 568.5,936.9 566.5,935.9 563.5,936.5 562.5,935.5 561.5,932.5 559.5,930.5 558.5,927.5 557.5,927.5 556.5,926.5 553.5,925.5 551.5,923.5 550.5,923.5 549.5,922.5 546.5,921.5 544.5,919.5 543.5,919.5 542.5,918.5 529.5,918.5 528.5,917.5 509.5,917.5 508.5,916.5 489.5,916.5 488.5,915.5 473.5,915.5 472.5,914.5 457.5,914.5 456.5,913.5 441.5,913.5 440.5,912.5 403.5,912.5 402.5,911.5 358.5,911.5 357.5,910.5 346.5,910.5 345.5,909.5 333.5,909.5 332.5,908.5 328.5,908.5 327.5,907.5 325.5,907.5 324.5,906.5 321.5,905.5 319.5,903.5 320.5,902.5 321.5,902.5 322.5,901.5 323.5,901.5 328.5,898.5 330.5,898.5 331.5,897.5 333.5,897.5 334.5,896.5 337.5,896.5 338.5,895.5 340.5,895.5 341.5,894.5 343.5,894.5 344.5,893.5 346.5,893.5 347.5,892.5 398.5,892.5 399.5,893.5 461.5,893.5 462.5,892.5 487.5,892.5 488.5,893.1 491.5,893.4 523.5,893.2 534.5,894.0 560.5,893.0 565.5,892.4 567.7,891.5 568.5,890.5 571.5,890.4 572.5,889.5 574.5,889.6 576.5,888.5 578.5,888.5 579.5,887.5 581.5,887.5 582.5,886.5 585.5,886.5 586.5,885.5 589.5,885.5 590.5,884.5 592.5,884.5 593.5,883.5 596.5,883.5 597.5,882.5 599.5,882.5 600.5,881.5 603.5,881.5 604.5,880.5 607.5,880.5 608.5,879.5 608.5,878.5 609.5,877.5 609.5,876.5 610.5,875.5 610.5,874.5 611.5,873.5 612.5,870.5 614.5,868.5 614.5,867.5 615.5,866.5 615.5,865.5 618.5,860.5 618.5,834.5 619.5,833.5 619.5,777.5 618.5,776.5 618.5,765.5 617.5,764.5 617.5,755.5 616.5,754.5 616.5,744.5 615.5,743.5 615.5,733.5 614.5,732.5 614.5,723.5 613.5,722.5 613.5,719.5 610.5,719.5 609.5,718.5 606.5,718.5 605.5,717.5 602.5,717.5 601.5,716.5 598.5,716.5 597.5,715.5 594.5,715.5 593.5,714.5 590.5,714.5 589.5,713.5 586.5,713.5 585.5,712.5 582.5,712.5 581.5,711.5 577.5,711.5 576.5,710.5 573.5,710.5 572.5,709.5 569.5,709.5 568.5,708.5 565.5,708.5 564.5,707.5 561.5,707.5 560.5,706.5 557.5,706.5 556.5,705.5 553.5,705.5 552.5,704.5 549.5,704.5 548.5,703.5"/>
<path d="M580.5,1040.5 580.5,1040.5M503.5,1131.5 509.5,1125.5 509.5,1124.5 527.5,1106.5 527.5,1105.5 528.5,1104.5 529.5,1104.5 529.5,1103.5 535.5,1097.5 535.5,1096.5 541.5,1090.5 541.5,1089.5 547.5,1083.5 547.5,1082.5 554.5,1075.5 554.5,1074.5 558.5,1070.5 558.5,1069.5 563.5,1064.5 563.5,1062.5 564.5,1062.5 567.5,1059.5 567.5,1058.5 571.5,1054.5 571.5,1053.5 574.5,1050.5 575.5,1050.7 577.2,1049.5 581.0,1044.5 584.1,1041.5 584.5,1040.2 588.1,1036.5 588.3,1035.5 591.2,1032.5 591.4,1031.5 594.5,1028.3 595.5,1030.7 596.9,1029.5 597.3,1027.5 596.4,1026.5 598.1,1025.5 597.4,1023.5 598.5,1023.0 599.5,1021.5 600.1,1015.5 599.5,1013.4 597.3,1012.5 597.1,1005.5 596.2,1001.5 594.5,999.6 593.5,999.5 593.5,987.5 591.5,984.5 591.5,981.5 590.5,980.5 590.5,979.5 587.5,974.5 587.5,971.5 586.5,970.5 586.5,969.5 583.5,964.5 583.5,961.5 582.5,960.5 582.5,959.5 581.5,959.5 581.5,958.5 580.5,957.5 580.5,956.5 579.5,955.5 579.5,954.5 578.5,953.5 578.5,952.5 577.5,951.5 577.5,950.5 576.5,949.5 575.5,946.5 573.5,944.5 573.5,943.5 572.5,942.5 572.5,941.5 571.5,940.5 571.5,939.5 570.5,938.5 569.5,935.5 567.5,933.5 567.5,932.5 565.5,930.5 565.5,929.5 563.5,927.5 563.5,926.5 561.5,924.5 561.5,923.5 559.5,921.5 558.5,921.5 557.5,920.5 557.5,919.5 556.5,919.5 549.5,913.5 546.5,913.5 545.5,912.5 537.5,912.5 536.5,911.5 529.5,911.5 528.5,910.5 520.5,910.5 519.5,909.5 511.5,909.5 510.5,908.5 503.5,908.5 502.5,907.5 451.5,907.5 450.5,906.5 434.5,906.5 433.5,905.5 430.5,904.5 429.5,903.5 429.5,902.5 430.5,901.5 431.5,901.5 432.5,900.5 434.5,900.5 435.5,899.5 459.5,899.5 460.5,898.5 484.5,898.5 485.5,897.5 510.5,897.5 511.5,896.5 541.5,896.5 542.5,895.5 552.5,895.5 553.5,894.5 563.5,894.5 564.5,893.5 575.5,893.5 578.5,891.5 580.5,891.5 581.5,890.5 583.5,890.5 584.5,889.5 586.5,889.5 587.5,888.5 589.5,888.5 590.5,887.5 592.5,887.5 593.5,886.5 595.5,886.5 598.5,884.5 601.5,884.5 604.5,882.5 607.5,882.5 608.5,881.5 609.5,881.5 610.5,880.5 612.5,880.5 613.5,879.5 613.5,878.5 614.5,877.5 614.5,876.5 615.5,875.5 615.5,874.5 616.5,873.5 616.5,872.5 617.5,871.5 617.5,870.5 618.5,869.5 618.5,868.5 619.5,867.5 619.5,866.5 620.5,865.5 620.5,864.5 623.5,859.5 623.5,832.5 624.5,831.5 624.5,804.5 625.5,803.5 625.5,780.5 624.5,779.5 624.5,770.5 623.5,769.5 623.5,760.5 622.5,759.5 622.5,749.5 621.5,748.5 621.5,739.5 620.5,738.5 620.5,729.5 619.5,728.5 619.5,719.5 616.5,719.5 613.5,717.5 609.5,717.5 606.5,715.5 604.5,715.5 603.5,714.5 600.5,714.5 597.5,712.5 594.5,712.5 593.5,711.5 591.5,711.5 590.5,710.5 588.5,710.5 587.5,709.5 584.5,709.5 581.5,707.5 578.5,707.5 577.5,706.5 575.5,706.5 574.5,705.5 572.5,705.5 571.5,704.5 569.5,704.5 568.5,703.5"/>
<path d="M512.5,1131.5 513.5,1130.5 513.5,1129.5 517.5,1125.5 517.5,1124.5 521.5,1120.5 521.5,1119.5 525.5,1115.5 525.5,1114.5 529.5,1110.5 529.5,1109.5 534.5,1104.5 534.5,1103.5 546.5,1090.5 546.5,1089.5 551.5,1084.5 551.5,1083.5 552.5,1083.5 552.5,1082.5 558.5,1076.5 558.5,1075.5 560.5,1073.5 560.5,1072.5 561.5,1072.5 561.5,1071.5 565.5,1067.5 565.5,1066.5 569.5,1062.5 569.5,1061.5 572.5,1058.5 572.5,1056.5 573.5,1056.5 575.5,1054.5 575.5,1053.5 578.5,1050.5 578.5,1049.5 584.5,1042.5 585.5,1039.5 586.5,1039.5 588.5,1037.5 588.5,1036.5 591.5,1033.5 591.5,1032.5 593.5,1030.5 595.5,1031.1 597.2,1029.5 600.4,1021.5 600.8,1015.5 600.1,1012.5 597.5,1010.5 597.5,989.5 595.5,986.5 595.5,984.5 594.5,983.5 594.5,981.5 592.5,978.5 592.5,975.5 590.5,972.5 590.5,970.5 589.5,969.5 589.5,967.5 587.5,964.5 587.5,962.5 586.5,961.5 586.5,959.5 584.5,957.5 584.5,956.5 583.5,955.5 583.5,954.5 582.5,953.5 582.5,952.5 581.5,951.5 581.5,950.5 580.5,949.5 579.5,946.5 577.5,944.5 577.5,943.5 576.5,942.5 576.5,941.5 575.5,940.5 575.5,939.5 574.5,938.5 573.5,935.5 571.5,933.5 571.5,932.5 569.5,930.5 569.5,929.5 567.5,927.5 567.5,926.5 564.5,923.5 564.5,922.5 562.5,920.5 562.5,919.5 561.5,919.5 559.5,917.5 558.5,917.5 556.5,915.5 555.5,915.5 553.5,913.5 552.5,913.5 550.5,911.5 549.5,911.5 548.5,910.5 545.5,910.5 544.5,909.5 539.5,909.5 538.5,908.5 532.5,908.5 531.5,907.5 526.5,907.5 525.5,906.5 520.5,906.5 519.5,905.5 514.5,905.5 513.5,904.5 508.5,904.5 507.5,903.5 508.5,902.5 510.5,902.5 511.5,901.5 521.5,901.5 522.5,900.5 530.5,900.5 531.5,899.5 541.5,899.5 542.5,898.5 550.5,898.5 551.5,897.5 560.5,897.5 561.5,896.5 568.5,896.5 569.5,895.5 573.5,895.5 579.5,893.7 583.5,893.5 584.5,892.6 587.5,892.5 590.5,890.5 592.5,890.5 593.5,889.5 595.5,889.5 596.5,888.5 599.5,887.5 599.5,886.5 602.5,886.5 603.5,885.5 605.5,885.5 605.5,884.5 607.5,884.5 610.5,882.5 612.5,882.5 613.5,881.5 615.5,881.5 616.5,880.5 617.5,880.5 618.5,879.5 618.5,878.5 619.5,877.5 619.5,876.5 620.5,875.5 620.5,874.5 621.5,873.5 621.5,872.5 622.5,871.5 622.5,870.5 623.5,869.5 623.5,868.5 624.5,867.5 624.5,866.5 627.5,861.5 627.5,846.5 628.5,845.5 628.5,820.5 629.5,819.5 629.5,792.5 630.5,791.5 630.5,784.5 629.5,783.5 629.5,773.5 628.5,772.5 628.5,761.5 627.5,760.5 627.5,750.5 626.5,749.5 626.5,739.5 625.5,738.5 625.5,727.5 624.5,726.5 624.5,719.5 622.5,719.5 619.5,717.5 617.5,717.5 616.5,716.5 614.5,716.5 611.5,714.5 609.5,714.5 608.5,713.5 606.5,713.5 603.5,711.5 601.5,711.5 600.5,710.5 598.5,710.5 595.5,708.5 593.5,708.5 592.5,707.5 590.5,707.5 589.5,706.5 587.5,706.5 582.5,703.5"/>
<path d="M586.5,937.5 586.5,937.5M587.5,938.5 588.5,941.5 588.5,939.5 587.5,938.5M519.5,1131.5 520.5,1130.5 520.5,1129.5 523.5,1126.5 523.5,1125.5 525.5,1123.5 525.5,1122.5 528.5,1119.5 528.5,1118.5 530.5,1116.5 530.5,1115.5 533.5,1112.5 533.5,1111.5 535.5,1109.5 535.5,1108.5 539.5,1104.5 539.5,1103.5 545.5,1097.5 545.5,1096.5 551.5,1090.5 551.5,1089.5 557.5,1083.5 557.5,1082.5 562.5,1077.5 562.5,1076.5 565.5,1073.5 565.5,1072.5 568.5,1069.5 568.5,1068.5 571.5,1065.5 571.5,1064.5 577.5,1057.5 577.5,1056.5 579.5,1054.5 579.5,1052.5 580.5,1052.5 582.5,1050.5 582.5,1049.5 585.5,1046.5 585.5,1044.5 586.5,1044.5 588.5,1042.5 588.5,1040.5 589.5,1040.5 592.5,1037.5 592.5,1036.5 595.5,1033.5 595.5,1031.5 596.5,1031.5 598.5,1029.5 598.5,1028.5 600.5,1026.5 600.5,1024.5 601.5,1023.5 601.5,1004.5 600.5,1003.5 600.5,989.5 599.5,988.5 599.5,986.5 598.5,985.5 598.5,983.5 597.5,982.5 597.5,980.5 596.5,979.5 596.5,977.5 595.5,976.5 595.5,974.5 594.5,973.5 594.5,971.5 593.5,970.5 593.5,968.5 592.5,967.5 592.5,965.5 591.5,964.5 591.5,962.5 590.5,961.5 590.5,959.5 589.5,958.5 589.5,948.5 588.5,947.5 588.5,945.5 587.5,946.5 586.5,946.1 583.3,942.5 582.0,938.5 582.5,935.8 583.5,935.5 582.5,934.5 582.5,933.5 579.5,930.5 578.5,930.5 577.5,929.5 577.5,928.5 573.5,924.5 573.5,923.5 570.5,920.5 570.5,919.5 567.5,916.5 567.5,915.5 563.5,911.5 563.5,910.5 552.5,900.5 553.5,899.5 557.5,899.5 558.5,898.5 564.5,898.5 565.5,897.5 569.5,897.5 570.5,896.5 574.5,896.5 575.0,897.5 576.5,897.9 579.5,897.6 582.5,896.5 583.5,895.5 583.5,894.5 585.5,894.6 586.5,893.5 589.5,893.5 590.5,892.5 592.5,892.5 593.5,891.5 595.5,891.5 600.5,888.5 602.5,888.5 603.5,887.5 605.5,887.5 610.5,884.5 612.5,884.5 613.5,883.5 615.5,883.5 620.5,880.5 622.5,880.5 623.5,879.5 623.5,878.5 624.5,877.5 624.5,876.5 627.5,871.5 627.5,869.5 629.5,866.5 629.5,864.5 632.5,859.5 632.5,818.5 633.5,817.5 633.5,775.5 632.5,774.5 632.5,758.5 631.5,757.5 631.5,741.5 630.5,740.5 630.5,725.5 629.5,724.5 629.5,719.5 628.5,719.5 627.5,718.5 626.5,718.5 625.5,717.5 624.5,717.5 619.5,714.5 617.5,714.5 616.5,713.5 615.5,713.5 614.5,712.5 613.5,712.5 608.5,709.5 606.5,709.5 605.5,708.5 604.5,708.5 603.5,707.5 602.5,707.5 601.5,706.5 600.5,706.5 595.5,703.5"/>
<path d="M528.5,1131.5 529.5,1130.5 529.5,1129.5 530.5,1128.5 530.5,1127.5 531.5,1126.5 532.5,1123.5 534.5,1121.5 534.5,1120.5 535.5,1119.5 535.5,1118.5 536.5,1117.5 536.5,1116.5 537.5,1115.5 538.5,1112.5 540.5,1110.5 541.5,1107.5 544.5,1104.5 544.5,1103.5 550.5,1097.5 550.5,1096.5 556.5,1090.5 556.5,1089.5 562.5,1083.5 562.5,1082.5 567.5,1077.5 567.5,1076.5 570.5,1073.5 570.5,1072.5 573.5,1069.5 573.5,1068.5 576.5,1065.5 576.5,1064.5 579.5,1061.5 579.5,1060.5 585.5,1053.5 585.5,1052.5 587.5,1050.5 587.5,1049.5 590.5,1046.5 590.5,1045.5 593.5,1042.5 593.5,1041.5 597.5,1037.5 597.5,1036.5 600.5,1033.5 600.5,1032.5 602.5,1030.5 602.5,1029.5 603.5,1029.5 603.5,1028.5 605.5,1026.5 605.5,1009.5 604.5,1008.5 604.5,999.5 603.5,998.5 603.5,989.5 602.5,988.5 602.5,985.5 601.5,984.5 601.5,981.5 600.5,980.5 600.5,978.5 599.5,977.5 599.5,974.5 598.5,973.5 598.5,971.5 597.5,970.5 597.5,967.5 596.5,966.5 596.5,963.5 595.5,962.5 595.5,959.5 593.5,956.5 593.5,954.5 592.5,953.5 592.5,952.5 591.5,951.5 591.5,949.5 589.5,946.5 589.5,944.5 590.5,944.3 591.3,942.5 591.0,938.5 589.5,936.0 587.5,934.3 585.5,933.6 584.5,934.5 583.5,933.5 583.5,931.5 580.5,926.5 580.5,924.5 579.5,923.5 579.5,922.5 577.5,919.5 577.5,917.5 575.5,914.5 575.5,910.5 576.5,909.5 576.5,907.5 577.5,906.5 577.5,904.5 578.5,903.5 581.5,903.5 582.5,902.5 584.5,902.5 585.5,901.5 587.5,901.5 588.5,900.5 591.5,900.5 592.5,899.5 594.5,899.5 595.5,898.5 597.5,898.5 598.5,897.5 601.5,897.5 602.5,896.5 604.5,896.5 606.5,894.5 609.5,893.5 612.5,890.5 615.5,889.5 615.5,888.5 616.5,887.5 619.5,886.5 622.5,883.5 625.5,882.5 628.5,879.5 628.5,878.5 630.5,875.5 630.5,873.5 632.5,870.5 632.5,868.5 633.5,867.5 633.5,866.5 636.5,861.5 636.5,830.5 637.5,829.5 637.5,769.5 636.5,768.5 636.5,744.5 635.5,743.5 635.5,719.5 634.5,719.5 633.5,718.5 631.5,718.5 627.5,714.5 626.5,714.5 625.5,713.5 624.5,713.5 623.5,712.5 620.5,711.5 618.5,709.5 616.5,709.5 615.5,708.5 615.5,707.5 614.5,707.5 613.5,706.5 610.5,705.5 608.5,703.5"/>
<path d="M636.5,716.5 636.5,717.5 637.5,718.5 638.5,718.5 640.5,720.5 640.5,727.5 640.5,719.5 639.5,718.5 638.5,718.5 636.5,716.5M536.5,1131.5 538.5,1128.5 538.5,1126.5 540.5,1123.5 540.5,1121.5 543.5,1116.5 543.5,1114.5 545.5,1111.5 545.5,1109.5 546.5,1108.5 546.5,1107.5 549.5,1104.5 549.5,1102.5 550.5,1101.5 551.5,1101.5 555.5,1097.5 555.5,1096.5 561.5,1090.5 561.5,1089.5 567.5,1083.5 567.5,1082.5 572.5,1077.5 572.5,1076.5 574.5,1074.5 574.5,1073.5 577.5,1070.5 577.5,1069.5 579.5,1067.5 579.5,1066.5 581.5,1064.5 581.5,1063.5 584.5,1060.5 584.5,1058.5 585.5,1057.5 586.5,1057.5 586.5,1056.5 589.5,1053.5 589.5,1052.5 591.5,1050.5 591.5,1048.5 592.5,1048.5 594.5,1046.5 594.5,1045.5 596.5,1043.5 596.5,1042.5 597.5,1042.5 597.5,1040.5 598.5,1040.5 601.5,1037.5 601.5,1035.5 602.5,1035.5 604.5,1033.5 604.5,1032.5 607.5,1029.5 607.5,1028.5 609.5,1026.5 609.5,1011.5 608.5,1010.5 608.5,1005.5 607.5,1004.5 607.5,997.5 606.5,996.5 606.5,989.5 605.5,988.5 605.5,984.5 604.5,983.5 604.5,979.5 603.5,978.5 603.5,974.5 602.5,973.5 602.5,969.5 601.5,968.5 601.5,964.5 600.5,963.5 600.5,959.5 599.5,958.5 599.5,952.5 598.5,951.5 598.5,944.5 597.5,943.5 597.5,940.5 596.5,939.5 596.5,938.5 594.5,935.5 594.5,933.5 592.5,930.5 592.5,928.5 590.5,925.5 590.5,912.5 592.5,910.5 593.5,910.5 594.5,909.5 595.5,909.5 596.5,908.5 597.5,908.5 602.5,905.5 604.5,905.5 605.5,904.5 606.5,904.5 607.5,903.5 608.5,903.5 609.5,902.5 610.5,902.5 611.5,901.5 614.5,900.5 619.5,895.5 619.5,894.5 620.5,893.5 621.5,893.5 621.5,892.5 622.5,891.5 623.5,891.5 623.5,890.5 628.5,885.5 628.5,884.5 629.5,883.5 630.5,883.5 630.5,882.5 631.5,881.5 632.5,881.5 632.5,880.5 635.5,875.5 635.5,872.5 636.5,871.5 636.5,870.5 639.5,865.5 639.5,862.5 641.5,859.5 641.5,804.5 642.5,803.5 642.5,776.5 641.5,775.5 641.5,743.5 640.5,742.5 640.5,732.5 639.5,732.0 637.7,728.5 636.0,719.5 634.7,718.5 633.5,714.5 631.5,712.5 630.5,712.5 627.5,709.5 626.5,709.5 623.5,706.5 622.5,706.5 619.5,703.5"/>
<path d="M630.5,708.5 630.5,707.5 631.5,708.5 630.5,708.5M631.5,710.5 631.5,709.5 632.5,710.5 631.5,710.5M545.5,1131.5 545.5,1128.5 546.5,1127.5 546.5,1125.5 547.5,1124.5 547.5,1121.5 548.5,1120.5 548.5,1118.5 549.5,1117.5 549.5,1115.5 550.5,1114.5 550.5,1111.5 551.5,1110.5 551.5,1108.5 552.5,1107.5 552.5,1106.5 560.5,1097.5 560.5,1096.5 561.5,1096.5 561.5,1095.5 567.5,1089.5 567.5,1088.5 572.5,1083.5 572.5,1082.5 577.5,1077.5 577.5,1076.5 580.5,1073.5 580.5,1072.5 582.5,1070.5 583.5,1067.5 584.5,1066.5 585.5,1066.5 585.5,1065.5 587.5,1063.5 587.5,1062.5 590.5,1059.5 590.5,1058.5 592.5,1056.5 593.5,1053.5 594.5,1052.5 595.5,1052.5 595.5,1051.5 597.5,1049.5 597.5,1048.5 600.5,1045.5 600.5,1044.5 602.5,1042.5 602.5,1041.5 606.5,1037.5 606.5,1036.5 609.5,1033.5 609.5,1032.5 613.5,1027.5 613.5,1013.5 612.5,1012.5 612.5,1007.5 611.5,1006.5 611.5,1001.5 610.5,1000.5 610.5,995.5 609.5,994.5 609.5,989.5 608.5,988.5 608.5,982.5 607.5,981.5 607.5,974.5 606.5,973.5 606.5,967.5 605.5,966.5 605.5,944.5 604.5,943.5 604.5,934.5 605.5,933.5 606.5,930.5 610.5,926.5 613.5,925.5 615.5,923.5 619.5,923.5 620.5,922.5 622.5,922.5 623.5,921.5 627.5,921.5 628.5,920.5 630.5,920.5 632.5,918.5 633.5,918.5 636.5,915.5 636.5,907.5 637.5,906.5 637.5,894.5 638.5,893.5 638.5,880.5 641.5,875.5 641.5,872.5 642.5,871.5 642.5,870.5 645.5,865.5 645.5,862.5 647.5,859.5 647.5,840.5 648.5,839.5 648.5,815.5 647.5,814.5 647.5,779.5 646.5,778.5 646.5,764.5 645.5,763.5 645.5,760.5 652.5,760.0"/>
<path d="M599.3,1048.5 600.2,1048.5 600.5,1049.5 600.5,1050.5 599.5,1051.5 598.5,1049.5 599.3,1048.5M639.5,1058.3 638.6,1059.5 639.5,1060.7 640.8,1060.5 641.7,1059.5 639.5,1058.3M554.5,1131.5 554.5,1124.5 555.5,1123.5 555.5,1116.5 556.5,1115.5 556.5,1108.5 557.5,1107.5 557.5,1106.5 565.5,1097.5 565.5,1096.5 566.5,1095.5 566.5,1094.5 568.5,1091.3 571.5,1088.5 572.5,1086.5 576.5,1082.5 579.2,1078.5 582.5,1075.5 582.5,1074.5 587.5,1069.5 587.5,1068.5 590.5,1065.5 590.5,1064.5 592.5,1062.5 592.5,1061.5 597.5,1055.5 597.5,1054.5 600.5,1051.5 600.5,1050.5 604.5,1046.5 604.5,1045.5 607.5,1042.5 607.5,1041.5 612.5,1036.5 612.5,1035.5 615.5,1032.5 615.5,1031.5 619.5,1027.5 619.5,1026.5 618.5,1025.5 618.5,1020.5 617.5,1019.5 617.5,1013.5 616.5,1012.5 616.5,1008.5 615.5,1007.5 615.5,1001.5 614.5,1000.5 614.5,996.5 613.5,995.5 613.5,989.5 612.5,988.5 612.5,975.5 611.5,974.5 611.5,957.5 612.5,956.5 612.5,954.5 613.5,953.5 613.5,950.5 614.5,949.5 624.5,949.5 627.5,952.5 628.5,952.5 628.5,953.5 629.5,953.5 634.5,958.5 635.5,958.5 636.5,959.5 640.5,959.5 641.5,960.5 644.5,960.5 645.5,961.5 646.5,961.5 647.5,962.5 647.5,968.5 648.5,969.5 648.5,975.5 649.5,976.5 649.5,992.5 650.5,993.5 650.5,1032.5 649.5,1033.5 649.5,1036.5 648.5,1037.5 648.5,1041.5 647.5,1042.5 647.5,1051.5 646.5,1052.5 646.5,1061.5 645.5,1062.5 645.5,1071.5 644.5,1072.5 644.5,1081.5 643.5,1082.5 643.5,1092.5 642.5,1093.5 642.5,1101.5 641.5,1102.5 641.5,1110.5 640.5,1111.5 640.5,1120.5 639.5,1121.5 639.5,1130.5 639.9,1131.5"/>
<path d="M629.5,1025.5 630.5,1024.5 631.5,1025.5 631.5,1035.5 632.5,1036.5 632.5,1039.5 630.5,1042.5 630.5,1044.5 629.5,1045.5 629.5,1046.5 628.5,1047.5 628.5,1049.5 627.5,1050.5 627.5,1058.5 628.5,1059.5 628.5,1063.5 629.5,1064.5 629.5,1073.5 628.5,1074.5 628.5,1082.5 627.5,1083.5 627.5,1086.5 626.5,1087.5 626.5,1089.5 625.5,1090.5 625.5,1092.5 624.5,1093.5 624.5,1095.5 623.5,1096.5 623.5,1097.5 622.5,1098.5 622.5,1099.5 621.5,1100.5 621.5,1101.5 620.5,1102.5 619.5,1105.5 616.5,1108.5 615.5,1108.5 613.5,1110.5 612.5,1110.5 610.5,1112.5 609.5,1112.5 607.5,1114.5 606.5,1114.5 605.5,1115.5 586.5,1115.5 585.5,1114.5 583.5,1114.5 580.5,1112.5 578.5,1112.5 577.5,1111.5 575.5,1111.5 574.5,1110.5 572.5,1110.5 571.5,1109.5 571.5,1108.5 569.5,1106.5 568.5,1106.5 564.5,1102.5 565.5,1101.5 565.5,1100.5 567.5,1099.1 569.5,1099.0 571.5,1097.9 576.4,1091.5 583.5,1084.8 584.7,1082.5 585.0,1080.5 583.5,1075.5 595.5,1063.5 596.5,1060.5 597.5,1060.5 599.5,1058.5 599.5,1057.5 604.5,1052.5 604.5,1051.5 605.5,1051.5 605.5,1050.5 611.5,1044.5 611.5,1043.5 619.5,1035.5 619.5,1034.5 622.5,1031.5 623.5,1031.5 629.5,1025.5M599.1,1049.5 599.5,1049.1 599.9,1049.5 599.5,1050.0 599.1,1049.5"/>
</g>
<path d="M217.5,703.5 L652.5,703.5 L652.5,1131.0 L217.5,1131.0Z" fill="none" stroke="#000" stroke-width="2"/>
</g>
<g stroke="#000" stroke-width="1.3" fill="none" shape-rendering="crispEdges">
<path d="M215.5,700.5 V1135.25 H654.5"/>
<path d="M215.5,1135.2 h4.4"/>
<path d="M215.5,1080.9 h4.4"/>
<path d="M215.5,1026.6 h4.4"/>
<path d="M215.5,972.2 h4.4"/>
<path d="M215.5,917.9 h4.4"/>
<path d="M215.5,863.5 h4.4"/>
<path d="M215.5,809.2 h4.4"/>
<path d="M215.5,754.8 h4.4"/>
<path d="M215.5,700.5 h4.4"/>
<path d="M215.5,1135.25 v-4.4"/>
<path d="M288.7,1135.25 v-4.4"/>
<path d="M361.8,1135.25 v-4.4"/>
<path d="M435.0,1135.25 v-4.4"/>
<path d="M508.2,1135.25 v-4.4"/>
<path d="M581.3,1135.25 v-4.4"/>
<path d="M654.5,1135.25 v-4.4"/>
</g>
<text x="208.0" y="1145.5" text-anchor="end" font-size="21.5" >15</text>
<text x="208.0" y="1091.2" text-anchor="end" font-size="21.5" >20</text>
<text x="208.0" y="1036.9" text-anchor="end" font-size="21.5" >25</text>
<text x="208.0" y="982.5" text-anchor="end" font-size="21.5" >30</text>
<text x="208.0" y="928.2" text-anchor="end" font-size="21.5" >35</text>
<text x="208.0" y="873.8" text-anchor="end" font-size="21.5" >40</text>
<text x="208.0" y="819.5" text-anchor="end" font-size="21.5" >45</text>
<text x="208.0" y="765.1" text-anchor="end" font-size="21.5" >50</text>
<text x="208.0" y="710.8" text-anchor="end" font-size="21.5" >55</text>
<text x="215.5" y="1166.8" text-anchor="middle" font-size="21.5" >0</text>
<text x="288.7" y="1166.8" text-anchor="middle" font-size="21.5" >10</text>
<text x="361.8" y="1166.8" text-anchor="middle" font-size="21.5" >20</text>
<text x="435.0" y="1166.8" text-anchor="middle" font-size="21.5" >30</text>
<text x="508.2" y="1166.8" text-anchor="middle" font-size="21.5" >40</text>
<text x="581.3" y="1166.8" text-anchor="middle" font-size="21.5" >50</text>
<text x="654.5" y="1166.8" text-anchor="middle" font-size="21.5" >60</text>
<text x="435.0" y="1197.5" text-anchor="middle" font-size="21.5" >LONGITUDE (E)</text>
<text transform="translate(170.0,919.375) rotate(-90)" text-anchor="middle" font-size="21.5">LATITUDE (N)</text>
<text x="433.1" y="680.7" text-anchor="middle" font-size="21.5" textLength="599.7" lengthAdjust="spacingAndGlyphs" >expt_98.9 - MEAN (MEAN y51-y100) - THICKNESS LAYER 2</text>
<rect x="687.1" y="1129.31" width="42.20" height="7.09" fill="#00008f"/>
<rect x="687.1" y="1122.52" width="42.20" height="7.09" fill="#00009f"/>
<rect x="687.1" y="1115.72" width="42.20" height="7.09" fill="#0000af"/>
<rect x="687.1" y="1108.93" width="42.20" height="7.09" fill="#0000bf"/>
<rect x="687.1" y="1102.14" width="42.20" height="7.09" fill="#0000cf"/>
<rect x="687.1" y="1095.35" width="42.20" height="7.09" fill="#0000df"/>
<rect x="687.1" y="1088.55" width="42.20" height="7.09" fill="#0000ef"/>
<rect x="687.1" y="1081.76" width="42.20" height="7.09" fill="#0000ff"/>
<rect x="687.1" y="1074.97" width="42.20" height="7.09" fill="#0010ff"/>
<rect x="687.1" y="1068.18" width="42.20" height="7.09" fill="#0020ff"/>
<rect x="687.1" y="1061.39" width="42.20" height="7.09" fill="#0030ff"/>
<rect x="687.1" y="1054.59" width="42.20" height="7.09" fill="#0040ff"/>
<rect x="687.1" y="1047.80" width="42.20" height="7.09" fill="#0050ff"/>
<rect x="687.1" y="1041.01" width="42.20" height="7.09" fill="#0060ff"/>
<rect x="687.1" y="1034.22" width="42.20" height="7.09" fill="#0070ff"/>
<rect x="687.1" y="1027.42" width="42.20" height="7.09" fill="#0080ff"/>
<rect x="687.1" y="1020.63" width="42.20" height="7.09" fill="#008fff"/>
<rect x="687.1" y="1013.84" width="42.20" height="7.09" fill="#009fff"/>
<rect x="687.1" y="1007.05" width="42.20" height="7.09" fill="#00afff"/>
<rect x="687.1" y="1000.26" width="42.20" height="7.09" fill="#00bfff"/>
<rect x="687.1" y="993.46" width="42.20" height="7.09" fill="#00cfff"/>
<rect x="687.1" y="986.67" width="42.20" height="7.09" fill="#00dfff"/>
<rect x="687.1" y="979.88" width="42.20" height="7.09" fill="#00efff"/>
<rect x="687.1" y="973.09" width="42.20" height="7.09" fill="#00ffff"/>
<rect x="687.1" y="966.30" width="42.20" height="7.09" fill="#10ffef"/>
<rect x="687.1" y="959.50" width="42.20" height="7.09" fill="#20ffdf"/>
<rect x="687.1" y="952.71" width="42.20" height="7.09" fill="#30ffcf"/>
<rect x="687.1" y="945.92" width="42.20" height="7.09" fill="#40ffbf"/>
<rect x="687.1" y="939.13" width="42.20" height="7.09" fill="#50ffaf"/>
<rect x="687.1" y="932.33" width="42.20" height="7.09" fill="#60ff9f"/>
<rect x="687.1" y="925.54" width="42.20" height="7.09" fill="#70ff8f"/>
<rect x="687.1" y="918.75" width="42.20" height="7.09" fill="#80ff80"/>
<rect x="687.1" y="911.96" width="42.20" height="7.09" fill="#8fff70"/>
<rect x="687.1" y="905.17" width="42.20" height="7.09" fill="#9fff60"/>
<rect x="687.1" y="898.37" width="42.20" height="7.09" fill="#afff50"/>
<rect x="687.1" y="891.58" width="42.20" height="7.09" fill="#bfff40"/>
<rect x="687.1" y="884.79" width="42.20" height="7.09" fill="#cfff30"/>
<rect x="687.1" y="878.00" width="42.20" height="7.09" fill="#dfff20"/>
<rect x="687.1" y="871.20" width="42.20" height="7.09" fill="#efff10"/>
<rect x="687.1" y="864.41" width="42.20" height="7.09" fill="#ffff00"/>
<rect x="687.1" y="857.62" width="42.20" height="7.09" fill="#ffef00"/>
<rect x="687.1" y="850.83" width="42.20" height="7.09" fill="#ffdf00"/>
<rect x="687.1" y="844.04" width="42.20" height="7.09" fill="#ffcf00"/>
<rect x="687.1" y="837.24" width="42.20" height="7.09" fill="#ffbf00"/>
<rect x="687.1" y="830.45" width="42.20" height="7.09" fill="#ffaf00"/>
<rect x="687.1" y="823.66" width="42.20" height="7.09" fill="#ff9f00"/>
<rect x="687.1" y="816.87" width="42.20" height="7.09" fill="#ff8f00"/>
<rect x="687.1" y="810.07" width="42.20" height="7.09" fill="#ff8000"/>
<rect x="687.1" y="803.28" width="42.20" height="7.09" fill="#ff7000"/>
<rect x="687.1" y="796.49" width="42.20" height="7.09" fill="#ff6000"/>
<rect x="687.1" y="789.70" width="42.20" height="7.09" fill="#ff5000"/>
<rect x="687.1" y="782.91" width="42.20" height="7.09" fill="#ff4000"/>
<rect x="687.1" y="776.11" width="42.20" height="7.09" fill="#ff3000"/>
<rect x="687.1" y="769.32" width="42.20" height="7.09" fill="#ff2000"/>
<rect x="687.1" y="762.53" width="42.20" height="7.09" fill="#ff1000"/>
<rect x="687.1" y="755.74" width="42.20" height="7.09" fill="#ff0000"/>
<rect x="687.1" y="748.95" width="42.20" height="7.09" fill="#ef0000"/>
<rect x="687.1" y="742.15" width="42.20" height="7.09" fill="#df0000"/>
<rect x="687.1" y="735.36" width="42.20" height="7.09" fill="#cf0000"/>
<rect x="687.1" y="728.57" width="42.20" height="7.09" fill="#bf0000"/>
<rect x="687.1" y="721.78" width="42.20" height="7.09" fill="#af0000"/>
<rect x="687.1" y="714.98" width="42.20" height="7.09" fill="#9f0000"/>
<rect x="687.1" y="708.19" width="42.20" height="7.09" fill="#8f0000"/>
<rect x="687.1" y="701.40" width="42.20" height="7.09" fill="#800000"/>
<rect x="687.1" y="701.4" width="42.20" height="434.70" fill="none" stroke="#000" stroke-width="1.3"/>
<g stroke="#000" stroke-width="1.3" shape-rendering="crispEdges">
<path d="M687.1,1095.1 h4.3 M729.3,1095.1 h-4.3"/>
<path d="M687.1,1042.4 h4.3 M729.3,1042.4 h-4.3"/>
<path d="M687.1,989.6 h4.3 M729.3,989.6 h-4.3"/>
<path d="M687.1,936.8 h4.3 M729.3,936.8 h-4.3"/>
<path d="M687.1,884.0 h4.3 M729.3,884.0 h-4.3"/>
<path d="M687.1,831.2 h4.3 M729.3,831.2 h-4.3"/>
<path d="M687.1,778.5 h4.3 M729.3,778.5 h-4.3"/>
<path d="M687.1,725.7 h4.3 M729.3,725.7 h-4.3"/>
</g>
<text x="735.3" y="1105.6" text-anchor="start" font-size="21.5" >50</text>
<text x="735.3" y="1052.9" text-anchor="start" font-size="21.5" >100</text>
<text x="735.3" y="1000.1" text-anchor="start" font-size="21.5" >150</text>
<text x="735.3" y="947.3" text-anchor="start" font-size="21.5" >200</text>
<text x="735.3" y="894.5" text-anchor="start" font-size="21.5" >250</text>
<text x="735.3" y="841.7" text-anchor="start" font-size="21.5" >300</text>
<text x="735.3" y="789.0" text-anchor="start" font-size="21.5" >350</text>
<text x="735.3" y="736.2" text-anchor="start" font-size="21.5" >400</text>
<clipPath id="clip3"><path d="M943.5,703.5 L1378.0,703.5 L1378.0,1131.0 L943.5,1131.0Z"/></clipPath>
<g clip-path="url(#clip3)">
<path d="M943.5,703.5 1377.5,703.5 1377.5,1131.5 1320.2,1131.5 1320.5,1127.5 1346.5,1101.5 1346.5,1099.5 1347.5,1098.5 1347.5,1096.5 1348.5,1095.5 1348.5,1093.5 1349.5,1092.5 1349.5,1090.5 1350.5,1089.5 1350.5,1086.5 1351.5,1085.5 1351.5,1083.5 1352.5,1082.5 1352.5,1080.5 1353.5,1079.5 1351.5,1076.5 1351.5,1073.5 1349.5,1070.5 1349.5,1068.5 1347.5,1068.5 1346.5,1069.5 1345.5,1069.5 1343.5,1071.5 1342.5,1071.5 1341.5,1072.5 1340.5,1072.5 1339.5,1073.5 1336.5,1074.5 1334.5,1076.5 1333.5,1076.5 1332.5,1077.5 1331.5,1077.5 1330.5,1078.5 1327.5,1079.5 1325.5,1081.5 1324.5,1081.5 1323.5,1082.5 1322.5,1082.5 1321.5,1083.5 1320.5,1083.5 1319.5,1084.5 1318.5,1084.5 1317.5,1085.5 1316.5,1085.5 1315.5,1086.5 1312.5,1087.5 1310.5,1089.5 1309.5,1089.5 1308.5,1090.5 1307.5,1090.5 1306.5,1091.5 1305.5,1091.5 1304.5,1092.5 1303.5,1092.5 1302.5,1093.5 1301.5,1093.5 1300.5,1094.5 1297.5,1095.5 1295.5,1097.5 1294.5,1097.5 1293.5,1098.5 1292.5,1098.5 1287.5,1101.5 1285.5,1101.5 1284.5,1102.5 1282.5,1102.5 1281.5,1103.5 1279.5,1103.5 1278.5,1104.5 1275.5,1104.5 1274.5,1105.5 1272.5,1105.5 1271.5,1106.5 1269.5,1106.5 1268.5,1107.5 1265.5,1107.5 1264.5,1108.5 1262.5,1108.5 1261.5,1109.5 1259.5,1109.5 1258.5,1110.5 1255.5,1110.5 1254.5,1111.5 1252.5,1111.5 1251.5,1112.5 1248.5,1112.5 1247.5,1113.5 1245.5,1113.5 1244.5,1114.5 1242.5,1114.5 1241.5,1115.5 1238.5,1115.5 1237.5,1116.5 1235.5,1116.5 1234.5,1117.5 1232.5,1117.5 1231.5,1118.5 1229.5,1118.5 1228.5,1119.5 1226.5,1119.5 1225.5,1120.5 1223.5,1120.5 1222.5,1121.5 1220.5,1121.5 1219.5,1122.5 1217.5,1122.5 1216.5,1123.5 1214.5,1123.5 1213.5,1124.5 1211.5,1124.5 1210.5,1125.5 1208.5,1125.5 1207.5,1126.5 1205.5,1126.5 1204.5,1127.5 1202.5,1127.5 1202.5,1128.5 1200.0,1131.5 1063.5,1131.5 1064.5,1130.5 1065.5,1130.5 1070.5,1127.5 1072.5,1127.5 1075.5,1125.5 1077.5,1125.5 1078.5,1124.5 1079.5,1124.5 1079.5,1123.5 1078.5,1123.5 1077.5,1122.5 1076.5,1122.5 1075.5,1121.5 1074.5,1121.5 1073.5,1120.5 1072.5,1120.5 1071.5,1119.5 1070.5,1119.5 1065.5,1116.5 1063.5,1116.5 1062.5,1115.5 1059.5,1115.5 1058.5,1114.5 1056.5,1114.5 1053.5,1112.5 1053.5,1110.5 1054.5,1109.5 1054.5,1106.5 1055.5,1105.5 1055.5,1092.5 1053.5,1092.5 1052.5,1091.5 1052.5,1090.5 1051.5,1090.5 1050.5,1089.5 1048.5,1089.5 1047.5,1088.5 1047.5,1087.5 1046.5,1087.5 1043.5,1085.5 1043.5,1083.5 1046.5,1080.5 1046.5,1079.5 1049.5,1076.5 1049.5,1075.5 1052.5,1072.5 1052.5,1071.5 1054.5,1069.5 1054.5,1068.5 1057.5,1065.5 1057.5,1064.5 1061.5,1059.5 1061.5,1058.5 1062.5,1057.5 1062.5,1056.5 1063.5,1055.5 1063.5,1054.5 1064.5,1053.5 1064.5,1052.5 1065.5,1051.5 1066.5,1048.5 1068.5,1046.5 1069.5,1043.5 1071.5,1041.5 1071.5,1039.5 1072.5,1038.5 1072.5,1036.5 1073.5,1035.5 1073.5,1033.5 1074.5,1032.5 1074.5,1030.5 1075.5,1029.5 1075.5,1027.5 1076.5,1026.5 1077.5,1027.5 1077.5,1029.5 1078.5,1029.5 1077.5,1028.5 1077.5,1023.5 1076.5,1023.5 1075.5,1022.5 1074.5,1019.5 1071.5,1016.5 1069.5,1016.5 1068.5,1015.5 1068.5,1014.5 1064.5,1010.5 1063.5,1010.5 1056.5,1003.5 1055.5,1003.5 1052.5,1001.5 1050.5,1001.5 1047.5,999.5 1045.5,999.5 1044.5,998.5 1042.5,998.5 1041.5,997.5 1039.5,997.5 1038.5,996.5 1036.5,996.5 1033.5,994.5 1031.5,994.5 1030.5,993.5 1028.5,993.5 1027.5,992.5 1025.5,992.5 1024.5,991.5 1022.5,991.5 1021.5,990.5 1020.5,990.5 1017.5,987.5 1016.5,987.5 1015.5,986.5 1014.5,986.5 1013.5,985.5 1010.5,984.5 1007.5,981.5 1006.5,981.5 1005.5,980.5 1004.5,980.5 999.5,977.5 996.5,977.5 995.5,976.5 993.5,976.5 992.5,975.5 990.5,975.5 989.5,974.5 986.5,974.5 985.5,973.5 983.5,973.5 982.5,972.5 980.5,972.5 979.5,971.5 976.5,971.5 975.5,970.5 974.5,970.5 967.5,963.5 965.5,963.5 964.5,962.5 964.5,961.5 960.5,957.5 960.5,954.5 959.5,953.5 959.5,950.5 958.5,949.5 958.5,947.5 957.5,948.5 957.5,949.5 955.5,951.5 954.5,950.5 954.5,949.5 952.5,947.5 952.5,946.5 950.5,944.5 950.5,943.5 947.5,940.5 947.5,939.5 946.5,939.5 945.5,936.5 943.5,934.5 943.5,703.5Z" fill="#0000bf" fill-rule="evenodd"/>
<path d="M943.5,703.5 1377.5,703.5 1377.5,1074.1 1369.5,1074.0 1368.5,1073.5 1368.5,1067.5 1369.5,1066.5 1369.5,1037.5 1370.5,1036.5 1370.5,1026.5 1367.5,1023.5 1367.5,1022.5 1366.5,1021.5 1364.5,1021.5 1362.5,1018.5 1360.5,1020.5 1360.5,1021.5 1357.5,1024.5 1357.5,1025.5 1353.5,1029.5 1353.5,1030.5 1350.5,1033.5 1350.5,1034.5 1347.5,1037.5 1347.5,1038.5 1344.5,1041.5 1344.5,1042.5 1341.5,1045.5 1341.5,1046.5 1337.5,1050.5 1337.5,1051.5 1334.5,1054.5 1334.5,1055.5 1331.5,1058.5 1331.5,1059.5 1326.5,1064.5 1324.5,1064.5 1323.5,1065.5 1321.5,1065.5 1320.5,1066.5 1317.5,1066.5 1316.5,1067.5 1314.5,1067.5 1313.5,1068.5 1311.5,1068.5 1310.5,1069.5 1307.5,1069.5 1306.5,1070.5 1304.5,1070.5 1303.5,1071.5 1296.5,1071.5 1295.5,1070.5 1292.5,1070.5 1291.5,1069.5 1286.5,1069.5 1285.5,1068.5 1282.5,1068.5 1281.5,1067.5 1276.5,1067.5 1275.5,1066.5 1272.5,1066.5 1271.5,1065.5 1266.5,1065.5 1265.5,1064.5 1261.5,1064.5 1260.5,1063.5 1260.5,1062.5 1250.5,1052.5 1250.5,1049.5 1251.5,1048.5 1251.5,1042.5 1252.5,1041.5 1252.5,1035.5 1253.5,1034.5 1253.5,1028.5 1254.5,1027.5 1254.5,1023.5 1255.5,1022.5 1256.5,1023.5 1256.5,1029.5 1257.5,1029.5 1256.5,1028.5 1256.5,1019.5 1255.5,1018.5 1255.5,1014.5 1254.5,1013.5 1254.5,1008.5 1252.5,1008.5 1251.5,1007.5 1251.5,1006.5 1250.5,1006.5 1248.5,1004.5 1247.5,1004.5 1245.5,1002.5 1244.5,1002.5 1241.5,999.5 1220.5,999.5 1219.5,998.5 1211.5,998.5 1209.5,996.5 1206.5,995.5 1204.5,993.5 1203.5,993.5 1201.5,991.5 1198.5,990.5 1196.5,988.5 1195.5,988.5 1194.5,987.5 1187.5,987.5 1186.5,986.5 1180.5,986.5 1179.5,985.5 1174.5,985.5 1173.5,984.5 1172.5,984.5 1171.5,983.5 1170.5,983.5 1169.5,982.5 1168.5,982.5 1167.5,981.5 1166.5,981.5 1161.5,978.5 1158.5,978.5 1157.5,977.5 1154.5,977.5 1153.5,976.5 1148.5,976.5 1147.5,975.5 1144.5,975.5 1143.5,974.5 1138.5,974.5 1137.5,973.5 1134.5,973.5 1133.5,972.5 1128.5,972.5 1127.5,971.5 1124.5,971.5 1123.5,970.5 1118.5,970.5 1117.5,969.5 1114.5,969.5 1113.5,968.5 1108.5,968.5 1107.5,967.5 1104.5,967.5 1103.5,966.5 1099.5,966.5 1098.5,965.5 1095.5,965.5 1094.5,964.5 1091.5,964.5 1090.5,963.5 1087.5,963.5 1086.5,962.5 1082.5,962.5 1081.5,961.5 1078.5,961.5 1077.5,960.5 1074.5,960.5 1073.5,959.5 1070.5,959.5 1069.5,958.5 1066.5,957.5 1063.5,954.5 1062.5,954.5 1061.5,953.5 1066.5,948.5 1067.5,948.5 1070.5,945.5 1071.5,945.5 1073.5,943.5 1073.5,942.5 1072.5,942.5 1071.5,941.5 1068.5,941.5 1067.5,940.5 1064.5,940.5 1063.5,939.5 1061.5,939.5 1060.5,938.5 1057.5,938.5 1056.5,937.5 1053.5,937.5 1052.5,936.5 1049.5,936.5 1048.5,935.5 1033.5,935.5 1032.5,934.5 1019.5,934.5 1018.5,933.5 1005.5,933.5 1004.5,934.5 1001.5,934.5 1000.5,935.5 994.5,935.5 991.5,933.5 988.5,933.5 985.5,931.5 984.5,932.5 983.5,932.5 982.5,933.5 980.5,933.5 977.5,935.5 975.5,935.5 974.5,936.5 972.5,936.5 971.5,935.5 970.5,935.5 968.5,933.5 967.5,933.5 966.5,932.5 965.5,932.5 963.5,930.5 962.5,930.5 954.5,940.5 953.5,939.5 953.5,938.5 951.5,936.5 951.5,935.5 949.5,933.5 949.5,932.5 947.5,930.5 947.5,929.5 945.5,927.5 945.5,926.5 944.5,927.3 943.5,927.2 943.5,703.5Z" fill="#0000ef" fill-rule="evenodd"/>
<path d="M943.5,703.5 1358.5,703.5 1358.5,705.5 1359.5,706.5 1359.5,707.5 1360.5,707.5 1361.5,708.5 1361.5,711.5 1362.5,712.5 1362.5,715.5 1363.5,716.5 1363.5,718.5 1364.5,719.5 1364.5,722.5 1365.5,723.5 1365.5,725.5 1366.5,726.5 1366.5,730.5 1367.5,731.5 1367.5,735.5 1368.5,736.5 1368.5,739.5 1369.5,740.5 1369.5,745.5 1370.5,746.5 1370.5,750.5 1371.5,751.5 1371.5,756.5 1372.5,757.5 1372.5,766.5 1373.5,767.5 1373.5,777.5 1374.5,778.5 1374.5,851.5 1374.5,826.5 1377.5,826.1 1377.5,862.5 1376.5,863.5 1376.5,865.5 1377.5,866.5 1377.5,872.5 1376.5,873.5 1376.5,874.5 1377.5,873.5 1377.5,898.8 1376.9,899.5 1377.5,900.3 1377.5,977.3 1366.5,976.8 1357.5,975.5 1357.5,974.5 1358.5,973.5 1358.5,968.5 1359.5,967.5 1359.5,961.5 1360.5,960.5 1360.5,954.5 1360.5,959.5 1359.5,960.5 1359.5,966.5 1358.5,967.5 1358.5,972.5 1357.5,973.5 1357.5,979.5 1356.5,980.5 1356.5,986.5 1355.5,987.5 1354.5,987.5 1352.5,985.5 1351.5,985.5 1345.5,979.5 1343.5,981.5 1343.5,982.5 1342.5,983.5 1341.5,986.5 1339.5,988.5 1339.5,992.5 1340.5,993.5 1340.5,1010.5 1339.5,1011.5 1339.5,1021.5 1338.5,1022.5 1338.5,1025.5 1337.5,1026.5 1337.5,1027.5 1336.5,1028.5 1335.5,1028.5 1328.5,1035.5 1327.5,1035.5 1327.5,1036.5 1326.5,1037.5 1323.5,1037.5 1322.5,1036.5 1321.5,1036.5 1316.5,1033.5 1314.5,1033.5 1313.5,1032.5 1312.5,1032.5 1307.5,1029.5 1305.5,1029.5 1304.5,1028.5 1304.5,1021.5 1303.5,1020.5 1303.5,1012.5 1302.5,1011.5 1302.5,1005.5 1300.5,1002.5 1300.5,1000.5 1298.5,997.5 1298.5,995.5 1296.5,992.5 1296.5,990.5 1294.5,987.5 1294.5,985.5 1292.5,983.5 1291.5,980.5 1289.5,978.5 1289.5,977.5 1288.5,976.5 1287.5,973.5 1285.5,971.5 1285.5,970.5 1284.5,969.5 1283.5,966.5 1281.5,964.5 1281.5,963.5 1280.5,963.5 1278.5,961.5 1277.5,961.5 1276.5,960.5 1275.5,960.5 1274.5,959.5 1273.5,959.5 1272.5,958.5 1271.5,958.5 1270.5,957.5 1269.5,957.5 1264.5,954.5 1262.5,954.5 1261.5,953.5 1260.5,953.5 1259.5,952.5 1258.5,952.5 1257.5,951.5 1256.5,951.5 1255.5,950.5 1254.5,950.5 1253.5,949.5 1252.5,949.5 1251.5,948.5 1250.5,948.5 1249.5,947.5 1248.5,947.5 1247.5,946.5 1246.5,946.5 1241.5,943.5 1239.5,943.5 1236.5,941.5 1234.5,941.5 1231.5,939.5 1229.5,939.5 1226.5,937.5 1224.5,937.5 1223.5,936.5 1222.5,936.5 1220.5,934.5 1220.5,933.5 1219.5,932.5 1219.5,929.5 1218.5,928.5 1218.5,927.5 1206.5,927.5 1205.5,926.5 1194.5,926.5 1193.5,925.5 1177.5,925.5 1176.5,926.5 1165.5,926.5 1164.5,927.5 1137.5,927.5 1136.5,928.5 1094.5,928.5 1093.5,929.5 1070.5,929.5 1069.5,928.5 1055.5,928.5 1054.5,927.5 1040.5,927.5 1039.5,926.5 1015.5,926.5 1014.5,925.5 993.5,925.5 992.5,924.5 988.5,924.5 987.5,923.5 983.5,923.5 982.5,922.5 981.5,922.5 980.5,923.5 979.5,923.5 976.5,926.5 975.5,926.5 975.5,927.5 974.5,928.5 971.5,928.5 970.5,927.5 969.5,927.5 968.5,926.5 967.5,926.5 966.5,925.5 963.5,924.5 962.5,923.5 959.5,925.5 958.5,925.5 956.5,927.5 953.5,928.5 950.5,925.5 950.5,924.5 946.5,919.5 945.5,920.0 943.5,919.7 943.5,703.5ZM1365.5,937.5 1365.5,939.5 1364.5,940.5 1364.5,942.5 1363.5,943.5 1363.5,945.5 1362.5,946.5 1362.5,949.5 1361.5,950.5 1362.5,950.5 1362.5,947.5 1363.5,946.5 1363.5,944.5 1364.5,943.5 1364.5,941.5 1365.5,940.5 1365.5,937.5ZM1366.5,933.5 1366.5,935.5 1366.5,933.5ZM1367.5,930.5 1367.5,930.5ZM1369.5,920.5 1369.5,920.5ZM1370.5,915.5 1370.5,916.5 1370.5,915.5ZM1371.5,908.5 1371.5,910.5 1371.5,908.5ZM1372.5,903.5 1372.5,906.5 1372.5,903.5ZM1374.5,865.5 1374.5,869.5 1374.5,865.5ZM1375.5,883.5 1375.5,890.5 1375.5,883.5ZM1374.5,891.5 1374.5,895.5 1373.5,896.5 1373.5,900.5 1373.5,897.5 1374.5,896.5 1374.5,891.5Z" fill="#0020ff" fill-rule="evenodd"/>
<path d="M943.5,703.5 1356.8,703.5 1357.5,704.5 1357.5,707.5 1358.5,708.5 1358.5,710.5 1359.5,711.5 1359.5,713.5 1360.5,713.5 1360.5,716.5 1361.5,717.5 1361.5,719.5 1362.5,720.5 1362.5,722.5 1363.5,723.5 1363.5,725.5 1364.5,726.5 1364.5,729.5 1365.5,730.5 1365.5,733.5 1366.5,734.5 1366.5,737.5 1367.5,738.5 1367.5,745.5 1368.5,746.5 1368.5,759.5 1369.5,760.5 1369.5,775.5 1370.5,776.5 1370.5,797.5 1371.5,798.5 1371.5,824.5 1372.5,825.5 1372.5,841.5 1373.5,842.5 1373.2,862.5 1372.3,867.5 1373.0,870.5 1375.5,872.5 1375.5,875.5 1374.4,876.5 1371.9,885.5 1366.5,923.5 1365.2,927.5 1360.5,932.8 1350.1,939.5 1349.5,940.5 1347.5,938.5 1347.5,937.5 1345.5,935.5 1345.5,934.5 1343.5,932.5 1343.5,931.5 1339.5,927.5 1338.5,927.5 1336.5,925.5 1335.5,925.5 1330.5,921.5 1328.5,921.5 1327.5,920.5 1327.5,919.5 1325.5,919.5 1324.5,918.5 1324.5,917.5 1322.5,917.5 1321.5,916.5 1321.5,915.5 1317.5,915.5 1316.5,914.5 1312.5,914.5 1311.5,913.5 1307.5,913.5 1306.5,912.5 1302.5,912.5 1301.5,911.5 1297.5,911.5 1296.5,910.5 1293.5,910.5 1292.5,909.5 1290.5,909.5 1289.5,908.5 1287.5,908.5 1286.5,907.5 1284.5,907.5 1283.5,906.5 1281.5,906.5 1280.5,905.5 1278.5,905.5 1277.5,904.5 1275.5,904.5 1274.5,903.5 1250.5,903.5 1249.5,902.5 1231.5,902.5 1230.5,903.5 1201.5,903.5 1200.5,904.5 1192.5,904.5 1191.5,905.5 1183.5,905.5 1182.5,906.5 1175.5,906.5 1174.5,907.5 1167.5,907.5 1166.5,908.5 1156.5,908.5 1155.5,909.5 1142.5,909.5 1141.5,910.5 1128.5,910.5 1127.5,911.5 1113.5,911.5 1112.5,912.5 1099.5,912.5 1098.5,913.5 1088.5,913.5 1087.5,914.5 1080.5,914.5 1079.5,915.5 1072.5,915.5 1071.5,916.5 1063.5,916.5 1062.5,917.5 1041.5,917.5 1040.5,918.5 1014.5,918.5 1013.5,919.5 989.5,919.5 988.5,918.5 986.5,918.5 985.5,917.5 982.5,917.5 981.5,916.5 979.5,916.5 978.5,915.5 970.5,915.5 969.5,916.5 961.5,916.5 960.5,917.5 958.5,917.5 957.5,916.5 955.5,916.5 952.5,914.5 950.5,914.5 949.5,913.5 947.5,913.5 943.5,912.4 943.5,703.5Z" fill="#0050ff" fill-rule="evenodd"/>
<path d="M943.5,703.5 1353.5,703.5 1355.5,706.5 1355.5,708.5 1356.5,709.5 1356.5,711.5 1357.5,712.5 1357.5,714.5 1358.5,715.5 1358.5,717.5 1359.5,718.5 1359.5,720.5 1360.5,721.5 1360.5,723.5 1361.5,724.5 1361.5,726.5 1362.5,727.5 1362.5,735.5 1363.5,736.5 1363.5,749.5 1364.5,750.5 1364.5,762.5 1365.5,763.5 1365.5,776.5 1366.5,777.5 1366.5,788.5 1367.5,789.5 1367.5,802.5 1368.5,803.5 1368.5,815.5 1369.5,816.5 1369.5,829.5 1370.5,830.5 1370.5,862.5 1369.5,863.5 1369.5,872.5 1368.5,873.5 1368.5,882.5 1367.5,883.5 1367.5,892.5 1366.5,893.5 1366.5,900.5 1365.5,901.5 1365.5,905.5 1364.5,906.5 1364.5,910.5 1363.5,911.5 1363.5,915.5 1362.5,916.5 1362.5,920.5 1361.5,921.5 1361.5,925.5 1359.5,927.5 1355.5,927.5 1354.5,926.5 1354.5,925.5 1352.5,923.5 1352.5,922.5 1349.5,919.5 1349.5,918.5 1347.5,916.5 1347.5,915.5 1343.5,911.5 1342.5,911.5 1341.5,910.5 1340.5,910.5 1339.5,909.5 1338.5,909.5 1337.5,908.5 1336.5,908.5 1331.5,905.5 1329.5,905.5 1328.5,904.5 1328.5,903.5 1327.5,903.5 1325.5,901.5 1324.5,901.5 1321.5,899.5 1312.5,899.5 1311.5,898.5 1302.5,898.5 1301.5,897.5 1288.5,897.5 1287.5,896.5 1269.5,896.5 1268.5,895.5 1267.5,895.5 1266.5,896.5 1247.5,896.5 1246.5,897.5 1227.5,897.5 1226.5,898.5 1210.5,898.5 1209.5,899.5 1199.5,899.5 1198.5,900.5 1187.5,900.5 1186.5,901.5 1176.5,901.5 1175.5,902.5 1164.5,902.5 1163.5,903.5 1145.5,903.5 1144.5,904.5 1122.5,904.5 1121.5,905.5 1055.5,905.5 1054.5,904.5 1048.5,904.5 1047.5,903.5 1040.5,903.5 1039.5,902.5 1033.5,902.5 1032.5,901.5 1026.5,901.5 1025.5,900.5 1019.5,900.5 1018.5,899.5 1007.5,899.5 1005.5,901.5 1005.5,902.5 1000.5,907.5 1000.5,908.5 999.5,909.5 983.5,909.5 982.5,910.5 965.5,910.5 964.5,909.5 961.5,909.5 960.5,908.5 956.5,908.5 955.5,907.5 951.5,907.5 950.5,906.5 948.5,907.2 943.5,907.3 943.5,703.5Z" fill="#0080ff" fill-rule="evenodd"/>
<path d="M943.5,703.5 1351.5,703.5 1351.5,704.5 1352.5,705.5 1352.5,707.5 1353.5,708.5 1353.5,710.5 1354.5,711.5 1354.5,713.5 1355.5,713.5 1355.5,716.5 1356.5,717.5 1356.5,719.5 1357.5,720.5 1357.5,722.5 1358.5,723.5 1358.5,725.5 1359.5,726.5 1359.5,733.5 1360.5,734.5 1360.5,753.5 1361.5,754.5 1361.5,773.5 1362.5,774.5 1362.5,785.5 1363.5,786.5 1363.5,794.5 1364.5,795.5 1364.5,803.5 1365.5,804.5 1365.5,812.5 1366.5,813.5 1366.5,821.5 1367.5,822.5 1367.5,830.5 1368.5,831.5 1368.5,836.5 1367.5,837.5 1367.5,850.5 1366.5,851.5 1366.5,861.5 1365.5,862.5 1365.5,868.5 1364.5,869.5 1364.5,874.5 1363.5,875.5 1363.5,881.5 1362.5,882.5 1362.5,887.5 1361.5,888.5 1361.5,890.5 1360.5,891.5 1360.5,894.5 1359.5,895.5 1359.5,897.5 1358.5,898.5 1358.5,900.5 1357.5,901.5 1357.5,903.5 1356.5,904.5 1351.5,900.5 1349.5,900.5 1348.5,899.5 1348.5,898.5 1346.5,898.5 1345.5,897.5 1343.5,897.5 1342.5,896.5 1340.5,896.5 1339.5,895.5 1336.5,895.5 1335.5,894.5 1333.5,894.5 1332.5,893.5 1329.5,893.5 1328.5,892.5 1326.5,892.5 1325.5,891.5 1323.5,891.5 1322.5,890.5 1274.5,890.5 1273.5,891.5 1254.5,891.5 1253.5,892.5 1234.5,892.5 1233.5,893.5 1216.5,893.5 1215.5,894.5 1200.5,894.5 1199.5,895.5 1183.5,895.5 1182.5,896.5 1166.5,896.5 1165.5,897.5 1067.5,897.5 1066.5,896.5 1064.5,896.5 1063.5,895.5 1060.5,895.5 1059.5,894.5 1056.5,894.5 1055.5,893.5 1051.5,893.5 1050.5,892.5 1047.5,891.5 1046.5,892.5 1018.5,892.5 1017.5,893.5 1004.5,893.5 1003.5,894.5 999.5,894.5 998.5,895.5 994.5,895.5 993.5,896.5 989.5,896.5 988.5,897.5 984.5,897.5 983.5,898.5 979.5,898.5 978.5,899.5 974.5,899.5 973.5,900.5 965.5,900.5 964.5,901.5 956.5,901.5 955.5,902.5 947.5,902.4 943.7,901.5 943.5,703.5Z" fill="#00afff" fill-rule="evenodd"/>
<path d="M943.5,703.5 1347.5,703.5 1347.5,704.5 1348.5,705.5 1348.5,707.5 1350.5,710.5 1350.5,712.5 1352.5,715.5 1352.5,717.5 1354.5,720.5 1354.5,722.5 1357.5,727.5 1357.5,767.5 1358.5,768.5 1358.5,784.5 1359.5,785.5 1359.5,791.5 1360.5,792.5 1360.5,797.5 1361.5,798.5 1361.5,804.5 1362.5,805.5 1362.5,811.5 1363.5,812.5 1363.5,817.5 1364.5,818.5 1364.5,824.5 1365.5,825.5 1365.5,831.5 1366.5,832.5 1366.5,834.5 1365.5,835.5 1365.5,839.5 1364.5,840.5 1364.5,845.5 1365.8,855.5 1365.6,861.5 1362.5,865.4 1359.5,866.5 1359.5,867.5 1358.5,868.5 1358.5,870.5 1357.5,871.5 1357.5,874.5 1356.5,875.5 1356.5,878.5 1352.5,882.5 1351.5,882.5 1347.5,886.5 1346.5,886.5 1345.5,887.5 1334.5,887.5 1333.5,886.5 1322.5,886.5 1321.5,885.5 1320.5,886.5 1291.5,886.5 1290.5,887.5 1254.5,887.5 1253.5,888.5 1218.5,888.5 1217.5,889.5 1188.5,889.5 1187.5,890.5 1008.5,890.5 1006.5,891.5 991.5,891.5 990.5,892.5 979.5,892.5 978.5,893.5 974.5,893.5 973.5,894.5 968.5,894.5 967.5,895.5 963.5,895.5 962.5,896.5 957.5,896.5 956.5,897.5 951.5,897.5 949.5,898.5 943.5,897.8 943.5,703.5ZM1360.5,863.5 1360.5,863.5ZM1362.5,850.5 1362.5,854.5 1362.5,850.5Z" fill="#00dfff" fill-rule="evenodd"/>
<path d="M943.5,703.5 1343.5,703.5 1343.5,704.5 1345.5,707.5 1345.5,709.5 1346.5,710.5 1346.5,711.5 1347.5,712.5 1347.5,713.5 1348.5,714.5 1348.5,715.5 1349.5,716.5 1349.5,717.5 1352.5,722.5 1352.5,724.5 1354.5,727.5 1354.5,756.5 1356.4,761.5 1357.0,770.5 1356.5,794.5 1357.5,795.5 1357.5,801.5 1358.5,802.5 1358.5,806.5 1359.5,807.5 1359.5,812.5 1360.5,813.5 1360.5,818.5 1361.5,819.5 1361.5,823.5 1362.5,824.5 1362.5,829.5 1363.5,830.5 1363.3,849.5 1361.9,850.5 1362.1,855.5 1361.5,856.5 1362.5,857.5 1363.5,850.5 1365.1,855.5 1365.0,861.5 1362.5,863.1 1361.5,863.3 1360.5,862.7 1359.5,863.2 1358.5,866.5 1357.5,867.5 1357.5,869.5 1356.5,870.5 1355.5,873.5 1353.5,875.5 1352.5,878.5 1351.5,878.5 1351.5,879.5 1349.5,881.5 1349.5,882.5 1346.5,885.5 1344.5,885.5 1343.5,884.5 1331.5,884.5 1330.5,883.5 1295.5,883.5 1294.5,884.5 1241.5,884.5 1240.5,885.5 1161.5,885.5 1160.5,886.5 1104.5,886.5 1103.5,887.5 1047.5,887.5 1046.5,888.5 1027.5,888.5 1026.5,889.5 1022.5,889.5 1021.5,889.0 1020.5,889.5 1007.5,889.5 1005.5,890.5 987.5,890.5 986.5,891.5 976.5,891.5 975.5,892.5 969.5,892.5 968.5,893.5 963.5,893.5 962.5,894.5 955.5,894.5 954.5,895.5 943.5,895.5 943.5,703.5ZM1354.5,762.5 1354.5,783.5 1354.5,762.5ZM1360.5,860.1 1360.5,861.2 1361.0,860.5 1360.5,860.1ZM1361.5,858.5 1361.5,858.5Z" fill="#10ffef" fill-rule="evenodd"/>
<path d="M943.5,703.5 1339.5,703.5 1339.5,705.5 1340.5,706.5 1340.5,708.5 1341.5,709.5 1341.5,712.5 1342.5,713.5 1342.5,716.5 1343.5,717.5 1343.5,719.5 1344.5,720.5 1344.5,723.5 1345.5,724.5 1345.5,727.5 1346.5,728.5 1346.5,731.5 1347.5,732.5 1347.5,735.5 1348.5,736.5 1348.5,739.5 1349.5,740.5 1349.5,743.5 1350.5,744.5 1350.5,746.5 1351.5,747.5 1351.5,750.5 1352.5,751.5 1352.5,753.5 1353.5,754.5 1353.0,769.5 1353.6,783.5 1354.5,788.5 1355.5,790.5 1355.5,795.5 1356.5,796.5 1356.5,809.5 1357.5,810.5 1357.5,815.5 1358.5,816.5 1358.5,822.5 1359.5,823.5 1359.5,829.5 1360.5,830.5 1360.5,835.5 1361.5,836.5 1361.5,843.5 1362.5,844.5 1362.5,849.5 1361.3,850.5 1361.2,855.5 1359.7,859.5 1360.0,861.5 1358.5,863.5 1355.5,863.5 1354.5,864.5 1352.5,864.5 1351.5,865.5 1349.5,865.5 1350.1,868.5 1349.6,871.5 1348.1,874.5 1345.5,877.5 1341.5,879.6 1334.5,880.8 1316.5,881.3 1311.5,880.1 1310.7,879.5 1310.5,878.5 1307.5,878.5 1306.5,879.5 1304.5,879.5 1303.5,880.5 1300.5,880.5 1299.5,881.5 1297.5,881.5 1296.5,882.5 1294.5,882.5 1293.5,883.5 1161.5,883.5 1158.5,884.3 1154.5,884.5 1111.5,884.5 1098.5,885.5 1051.5,885.6 1043.5,886.4 987.5,889.0 951.5,893.7 947.5,893.7 943.5,892.7 943.5,703.5ZM1342.5,867.5 1341.5,868.5 1339.5,868.5 1338.5,869.5 1335.5,869.5 1334.5,870.5 1332.5,870.5 1331.5,871.5 1329.5,871.5 1328.5,872.5 1326.5,872.5 1325.5,873.5 1323.5,873.5 1322.5,874.5 1319.5,874.5 1318.5,875.5 1316.5,875.5 1315.5,876.5 1313.5,876.5 1316.5,876.5 1317.5,875.5 1319.5,875.5 1320.5,874.5 1323.5,874.5 1324.5,873.5 1326.5,873.5 1327.5,872.5 1329.5,872.5 1330.5,871.5 1332.5,871.5 1333.5,870.5 1335.5,870.5 1336.5,869.5 1339.5,869.5 1340.5,868.5 1342.5,868.5 1343.5,867.5 1342.5,867.5ZM1346.5,866.5 1348.5,866.5 1346.5,866.5ZM1361.1,861.5 1361.5,861.0 1362.5,861.5 1361.5,862.5 1361.1,861.5Z" fill="#40ffbf" fill-rule="evenodd"/>
<path d="M943.5,703.5 1333.5,703.5 1335.5,706.5 1335.5,709.5 1336.5,710.5 1336.5,713.5 1337.5,714.5 1337.5,716.5 1339.7,718.5 1339.5,719.5 1340.5,719.4 1341.7,720.5 1344.1,725.5 1345.9,733.5 1345.5,743.5 1346.5,744.5 1346.5,747.5 1347.5,748.5 1347.5,750.5 1348.5,751.5 1348.5,753.5 1349.5,754.5 1349.5,757.5 1350.5,758.5 1350.5,760.5 1351.5,761.5 1351.5,775.5 1352.5,776.5 1352.5,796.5 1353.5,797.5 1353.5,808.5 1354.5,809.5 1354.5,815.5 1355.5,816.5 1355.5,821.5 1356.5,822.5 1356.5,828.5 1357.5,828.5 1357.5,835.5 1358.5,836.5 1358.5,841.5 1359.5,842.5 1359.5,847.5 1360.5,848.5 1360.5,854.5 1358.6,856.5 1357.8,859.5 1357.7,860.5 1358.5,861.5 1357.5,862.5 1354.5,862.5 1353.5,863.5 1351.5,863.5 1350.5,864.5 1348.5,864.5 1345.5,866.5 1344.5,865.5 1343.5,866.5 1341.5,866.5 1340.5,867.5 1338.5,867.5 1337.5,868.5 1335.5,868.5 1334.5,869.5 1332.5,869.5 1331.5,870.5 1328.5,870.5 1327.5,871.5 1324.5,871.5 1321.5,873.5 1317.5,873.5 1316.5,874.5 1314.5,874.5 1313.5,875.5 1311.5,875.5 1310.5,876.5 1307.5,876.5 1310.5,876.5 1311.5,877.5 1301.5,878.5 1300.5,879.5 1297.5,879.5 1296.5,880.5 1294.5,880.5 1293.5,881.5 1161.5,881.5 1159.5,882.2 1155.5,882.5 1110.5,882.5 1097.5,883.5 1052.5,883.6 1044.5,884.4 986.5,887.3 952.5,891.9 947.5,891.9 943.5,888.5 943.5,703.5ZM1339.5,722.5 1339.5,723.5 1339.5,722.5ZM1340.5,724.5 1340.5,726.5 1341.5,727.5 1341.5,729.5 1342.5,730.5 1342.5,733.5 1343.5,734.5 1343.5,737.5 1343.5,733.5 1342.5,732.5 1342.5,729.5 1341.5,728.5 1341.5,726.5 1340.5,725.5 1340.5,724.5ZM1344.3,867.5 1344.5,866.5 1346.0,868.5 1345.8,870.5 1344.9,872.5 1342.5,874.8 1339.5,876.2 1321.5,879.4 1315.5,879.2 1313.9,878.5 1313.5,877.5 1319.5,876.4 1339.5,870.8 1344.3,867.5Z" fill="#70ff8f" fill-rule="evenodd"/>
<path d="M943.5,703.5 1327.5,703.5 1327.5,704.5 1329.5,706.5 1329.5,707.5 1331.5,709.5 1331.5,710.5 1333.5,712.5 1333.5,713.5 1336.5,716.5 1336.5,717.5 1337.5,718.5 1337.0,719.5 1337.5,720.4 1338.5,720.5 1337.5,720.8 1337.5,723.5 1341.2,736.5 1343.2,740.5 1344.5,741.5 1344.5,744.5 1345.5,745.5 1345.5,758.5 1346.5,759.5 1346.5,771.5 1347.5,772.5 1347.5,782.5 1348.5,783.5 1348.5,789.5 1349.5,790.5 1349.5,797.5 1350.5,798.5 1350.5,804.5 1351.5,805.5 1351.5,811.5 1352.5,812.5 1352.5,818.5 1353.5,819.5 1353.5,826.5 1354.5,827.5 1354.5,838.5 1353.5,839.5 1353.5,844.5 1352.5,845.5 1352.5,846.5 1353.5,845.5 1355.7,851.5 1355.8,856.5 1355.1,860.5 1353.5,862.3 1347.5,863.5 1346.5,864.5 1344.5,864.6 1334.5,867.6 1327.5,870.7 1324.5,871.2 1323.5,872.2 1320.5,873.2 1317.5,873.2 1307.5,875.2 1303.5,877.5 1295.5,877.5 1294.5,878.5 1241.5,878.5 1240.5,879.5 1161.5,879.5 1160.5,880.5 1104.5,880.5 1103.5,881.5 1047.5,881.5 1046.5,882.5 1031.5,882.5 1030.5,883.5 1014.5,883.5 1013.5,884.5 997.5,884.5 996.5,885.5 981.5,885.5 980.5,886.5 974.5,886.5 973.5,887.5 967.5,887.5 966.5,888.5 959.5,888.5 958.5,889.5 952.5,889.5 951.5,890.5 948.5,890.5 946.8,888.5 943.5,886.9 943.5,703.5ZM956.5,793.5 956.5,804.5 957.5,805.5 957.5,809.5 958.5,809.5 958.5,806.5 959.5,805.5 959.5,798.5 957.5,795.5 957.5,793.5 956.5,793.5ZM1348.5,861.5 1348.5,861.5ZM1351.5,850.5 1351.5,855.5 1350.5,856.5 1350.5,859.5 1349.5,860.5 1350.5,860.5 1350.5,857.5 1351.5,856.5 1351.5,850.5ZM1341.5,871.5 1342.5,871.5 1341.5,872.5 1341.5,871.5Z" fill="#9fff60" fill-rule="evenodd"/>
<path d="M943.5,703.5 1313.5,703.5 1314.5,704.5 1314.5,705.5 1315.5,706.5 1316.5,709.5 1318.5,711.5 1318.5,712.5 1319.5,713.5 1319.5,714.5 1320.5,715.5 1321.5,718.5 1322.5,718.5 1322.8,717.5 1325.5,717.0 1330.5,719.1 1333.5,722.0 1335.5,724.9 1337.4,730.5 1340.4,743.5 1339.5,752.5 1341.5,754.5 1341.5,755.5 1342.5,756.5 1342.5,757.5 1345.5,762.5 1345.5,777.5 1346.5,778.5 1346.5,792.5 1347.5,793.5 1347.5,807.5 1348.5,808.5 1348.5,816.5 1349.5,817.5 1349.5,827.5 1350.5,828.5 1350.5,836.5 1351.5,837.5 1351.5,846.5 1348.6,848.5 1346.8,851.5 1344.5,859.5 1344.5,861.5 1345.5,862.5 1344.5,863.5 1342.5,863.5 1341.5,864.5 1338.5,864.5 1337.5,865.5 1335.5,865.5 1329.5,869.1 1320.5,872.8 1305.5,873.5 1304.5,874.5 1301.5,874.5 1300.5,875.5 1298.5,875.5 1297.5,876.5 1294.5,876.5 1293.5,877.5 1161.5,877.5 1159.5,878.3 1156.5,878.5 1109.5,878.5 1099.5,879.5 1052.5,879.5 1044.5,880.4 984.5,882.6 953.5,886.4 948.5,886.2 943.5,884.6 943.5,703.5ZM957.5,778.5 956.5,779.5 956.5,782.5 955.5,783.5 955.5,786.5 954.5,787.5 954.5,790.5 953.5,791.5 953.5,795.5 954.5,796.5 954.5,802.5 955.5,803.5 955.5,809.5 956.5,810.5 956.5,816.5 957.5,817.5 957.5,823.5 958.5,824.5 960.5,822.5 960.5,821.5 962.5,819.5 962.5,818.5 964.5,816.5 964.5,815.5 966.5,813.5 966.5,812.5 968.5,810.5 968.5,809.5 970.5,807.5 970.5,806.5 971.5,805.5 972.5,805.5 974.5,803.5 975.5,803.5 978.5,800.5 979.5,800.5 981.5,798.5 982.5,798.5 985.5,795.5 982.5,794.5 979.5,791.5 978.5,791.5 975.5,789.5 973.5,789.5 972.5,788.5 972.5,787.5 971.5,787.5 969.5,785.5 968.5,785.5 967.5,784.5 964.5,783.5 961.5,780.5 960.5,780.5 957.5,778.5ZM1323.5,719.5 1323.5,719.5ZM1324.5,722.5 1324.5,723.5 1325.5,724.5 1325.5,725.5 1326.5,726.5 1326.5,727.5 1327.5,728.5 1327.5,729.5 1328.5,730.5 1328.5,731.5 1329.5,732.5 1329.5,733.5 1330.5,734.5 1330.5,735.5 1331.5,736.5 1331.5,737.5 1332.5,738.5 1332.5,739.5 1333.5,740.5 1334.5,743.5 1336.5,745.5 1336.5,746.5 1336.5,744.5 1334.5,742.5 1334.5,741.5 1333.5,740.5 1333.5,739.5 1332.5,738.5 1332.5,737.5 1331.5,736.5 1331.5,735.5 1330.5,734.5 1330.5,733.5 1329.5,732.5 1329.5,731.5 1328.5,730.5 1328.5,729.5 1327.5,728.5 1327.5,727.5 1324.5,722.5ZM1338.5,748.5 1338.5,748.5ZM1323.5,868.5 1322.5,869.5 1320.5,869.5 1319.5,870.5 1316.5,870.5 1315.5,871.5 1312.5,871.5 1316.5,871.5 1317.5,870.5 1320.5,870.5 1321.5,869.5 1323.5,869.5 1324.5,868.5 1326.5,868.5 1323.5,868.5ZM1327.5,867.5 1328.5,867.5 1327.5,867.5Z" fill="#cfff30" fill-rule="evenodd"/>
<path d="M943.5,703.5 1293.5,703.5 1295.5,705.5 1296.5,705.5 1297.5,706.5 1300.5,707.5 1302.5,709.5 1303.5,709.5 1304.5,710.5 1307.5,711.5 1309.5,713.5 1310.5,713.5 1311.5,714.5 1314.5,715.5 1316.5,717.5 1315.5,722.5 1315.7,727.5 1317.2,732.5 1320.3,738.5 1324.8,744.5 1329.1,748.5 1333.5,751.2 1338.5,752.5 1338.5,754.5 1339.5,755.5 1339.5,761.5 1340.5,762.5 1340.5,766.5 1341.5,767.5 1341.5,778.5 1342.5,778.4 1343.9,780.5 1345.4,785.5 1346.2,790.5 1345.9,794.5 1344.5,796.6 1343.5,796.5 1343.5,799.5 1344.5,800.5 1344.5,806.5 1345.5,807.5 1345.5,817.5 1346.5,818.5 1346.5,826.5 1347.5,827.5 1347.5,834.5 1344.5,839.5 1344.5,841.5 1342.5,844.5 1342.5,846.5 1339.5,851.5 1339.5,853.5 1337.5,856.5 1337.5,858.5 1336.5,859.5 1336.5,861.5 1334.5,863.5 1334.5,864.5 1333.5,865.5 1327.5,866.3 1312.5,870.2 1308.5,872.5 1301.5,872.5 1300.5,873.5 1281.5,873.5 1280.5,874.5 1241.5,874.5 1240.5,875.5 1161.5,875.5 1160.5,876.5 1104.5,876.5 1103.5,877.5 1047.5,877.5 1046.5,878.5 1014.5,878.5 1013.5,879.5 981.5,879.5 980.5,880.5 972.5,880.5 971.5,881.5 963.5,881.5 962.5,882.5 955.5,882.5 954.5,883.5 947.5,883.5 945.0,879.5 943.5,878.5 943.5,703.5ZM957.5,761.5 955.5,763.5 954.5,763.5 954.5,767.5 953.5,768.5 953.5,782.5 952.5,783.5 952.5,807.5 953.5,807.5 953.5,828.5 954.5,829.5 954.5,834.5 955.5,834.5 956.5,833.5 957.5,833.5 958.5,832.5 959.5,832.5 960.5,831.5 961.5,831.5 962.5,830.5 963.5,830.5 964.5,829.5 967.5,828.5 969.5,826.5 970.5,826.5 974.5,822.5 975.5,822.5 978.5,819.5 979.5,819.5 980.5,818.5 981.5,818.5 982.5,817.5 985.5,816.5 987.5,814.5 988.5,814.5 989.5,813.5 990.5,813.5 991.5,812.5 994.5,811.5 996.5,809.5 997.5,809.5 999.5,807.5 1000.5,807.5 1002.5,805.5 1003.5,805.5 1005.5,803.5 1008.5,802.5 1010.5,800.5 1011.5,800.5 1013.5,798.5 1014.5,798.5 1015.5,797.5 1015.5,796.5 1013.5,794.5 1013.5,793.5 1008.5,788.5 1008.5,787.5 1007.5,787.5 1006.5,786.5 1005.5,786.5 1004.5,785.5 1003.5,785.5 1002.5,784.5 1001.5,784.5 1000.5,783.5 997.5,782.5 995.5,780.5 994.5,780.5 993.5,779.5 992.5,779.5 991.5,778.5 990.5,778.5 989.5,777.5 988.5,777.5 987.5,776.5 984.5,775.5 982.5,773.5 981.5,773.5 980.5,772.5 979.5,772.5 978.5,771.5 977.5,771.5 976.5,770.5 975.5,770.5 974.5,769.5 971.5,768.5 969.5,766.5 968.5,766.5 967.5,765.5 966.5,765.5 965.5,764.5 964.5,764.5 959.5,761.5 957.5,761.5ZM1342.5,786.5 1342.5,791.5 1343.5,792.5 1343.5,791.5 1342.5,790.5 1342.5,786.5Z" fill="#ffff00" fill-rule="evenodd"/>
<path d="M943.5,703.5 1283.2,703.5 1284.2,709.5 1287.0,715.5 1299.0,731.5 1309.5,747.0 1312.9,750.5 1316.5,753.3 1327.5,758.8 1331.5,761.4 1336.5,766.9 1340.4,773.5 1341.5,782.5 1342.5,783.5 1342.5,784.5 1341.5,784.7 1340.4,786.5 1340.4,790.5 1341.5,792.8 1343.5,793.5 1341.6,807.5 1341.7,830.5 1340.6,838.5 1336.0,860.5 1334.5,862.3 1331.5,864.0 1313.5,868.3 1307.5,870.3 1295.5,872.4 1237.5,874.0 1214.5,874.0 1209.5,874.5 1164.5,874.5 1158.5,875.5 1106.5,875.5 1100.5,876.0 1049.5,876.0 1042.5,876.5 983.5,877.0 953.5,879.1 949.5,878.8 943.5,876.9 943.5,703.5ZM954.5,735.5 953.5,736.5 953.5,738.5 952.5,739.5 952.5,741.5 951.5,742.5 951.5,760.5 950.5,761.5 950.5,794.5 949.5,795.5 949.5,840.5 950.5,841.5 951.5,841.5 953.5,843.5 961.5,843.5 962.5,842.5 968.5,842.5 969.5,841.5 974.5,841.5 975.5,840.5 980.5,840.5 981.5,839.5 983.5,839.5 984.5,838.5 987.5,837.5 989.5,834.5 989.5,832.5 990.5,831.5 990.5,830.5 991.5,829.5 991.5,828.5 992.5,827.5 993.5,824.5 997.5,820.5 998.5,820.5 999.5,819.5 1000.5,819.5 1002.5,817.5 1003.5,817.5 1004.5,816.5 1007.5,815.5 1009.5,813.5 1013.5,813.5 1014.5,812.5 1021.5,812.5 1022.5,811.5 1031.5,811.5 1032.5,810.5 1042.5,810.5 1043.5,809.5 1056.5,809.5 1057.5,808.5 1060.5,808.5 1061.5,809.5 1062.5,809.5 1067.5,812.5 1083.5,812.5 1085.5,810.5 1085.5,809.5 1089.5,805.5 1089.5,804.5 1083.5,798.5 1083.5,797.5 1080.5,794.5 1079.5,794.5 1074.5,790.5 1072.5,790.5 1071.5,789.5 1071.5,788.5 1070.5,788.5 1067.5,785.5 1066.5,785.5 1061.5,781.5 1059.5,781.5 1058.5,780.5 1058.5,779.5 1057.5,779.5 1055.5,777.5 1054.5,777.5 1052.5,775.5 1051.5,775.5 1049.5,773.5 1048.5,773.5 1043.5,769.5 1042.5,769.5 1041.5,768.5 1038.5,768.5 1037.5,767.5 1033.5,767.5 1032.5,766.5 1027.5,766.5 1026.5,765.5 1022.5,765.5 1021.5,764.5 1016.5,764.5 1015.5,763.5 1010.5,763.5 1009.5,762.5 1007.5,762.5 1002.5,759.5 1000.5,759.5 999.5,758.5 998.5,758.5 993.5,755.5 991.5,755.5 990.5,754.5 989.5,754.5 984.5,751.5 982.5,751.5 977.5,748.5 975.5,748.5 974.5,747.5 972.5,747.5 967.5,744.5 965.5,744.5 964.5,743.5 962.5,743.5 954.5,735.5ZM1342.5,784.5 1343.5,784.4 1344.4,785.5 1345.8,790.5 1345.3,793.5 1344.5,794.4 1343.5,793.5 1344.0,791.5 1342.5,784.5Z" fill="#ffcf00" fill-rule="evenodd"/>
<path d="M943.5,703.5 1247.6,703.5 1249.5,705.7 1255.5,706.2 1257.5,708.1 1259.5,711.5 1265.5,728.8 1266.5,731.1 1267.5,731.5 1263.5,737.5 1264.5,737.5 1264.8,738.5 1263.5,740.0 1262.5,739.5 1262.5,738.5 1262.5,739.5 1259.5,742.5 1259.5,743.5 1257.5,745.5 1257.5,746.5 1256.5,747.5 1257.0,748.5 1256.5,749.0 1255.5,748.5 1255.5,749.5 1252.5,751.5 1249.5,751.5 1248.5,752.5 1246.5,752.5 1245.5,753.5 1243.5,753.5 1242.5,754.5 1231.5,754.5 1230.5,753.5 1218.5,753.5 1218.5,756.5 1219.5,757.5 1219.5,761.5 1220.5,762.5 1220.5,766.5 1225.5,771.5 1226.5,771.5 1229.5,774.5 1230.5,774.5 1234.5,778.5 1234.5,801.5 1236.5,804.5 1236.5,806.5 1237.5,807.5 1237.5,808.5 1239.5,808.5 1239.5,807.5 1242.5,804.5 1242.5,803.5 1245.5,800.5 1245.5,799.5 1248.5,796.5 1248.5,795.5 1250.5,793.5 1250.5,790.5 1249.5,789.5 1249.5,783.5 1248.5,782.5 1248.5,776.5 1247.5,775.5 1247.5,769.5 1246.5,768.5 1246.5,766.5 1249.5,764.5 1253.5,764.5 1255.5,766.5 1255.5,767.5 1256.5,767.5 1257.5,768.5 1257.5,769.5 1258.5,770.5 1259.5,773.5 1260.5,773.5 1261.5,774.5 1261.5,775.5 1262.5,776.5 1263.5,779.5 1264.5,779.5 1265.5,780.5 1265.5,787.5 1266.5,788.5 1266.5,794.5 1267.5,795.5 1267.5,798.5 1268.5,798.5 1268.5,797.5 1270.5,795.5 1270.5,794.5 1272.5,792.5 1272.5,791.5 1275.5,788.5 1275.5,786.5 1276.5,785.5 1277.5,785.5 1277.5,784.5 1279.5,782.5 1279.8,783.5 1294.5,793.5 1293.5,794.5 1293.5,796.5 1292.5,797.5 1292.5,799.5 1290.5,802.5 1290.5,804.5 1289.5,805.5 1289.5,807.5 1287.5,810.5 1287.5,812.5 1286.5,813.5 1286.5,815.5 1284.5,818.5 1284.5,820.5 1283.5,821.5 1284.5,821.5 1284.5,819.5 1286.5,816.5 1286.5,814.5 1287.5,813.5 1287.5,811.5 1289.5,808.5 1289.5,806.5 1290.5,805.5 1290.5,803.5 1292.5,800.5 1292.5,798.5 1293.5,797.5 1293.5,795.5 1295.5,793.5 1296.5,793.5 1301.5,788.5 1301.5,787.5 1303.5,785.5 1304.5,785.5 1321.5,768.5 1322.5,768.5 1325.5,765.5 1326.5,766.5 1327.5,766.5 1332.5,770.5 1333.5,770.5 1334.5,771.5 1337.5,772.5 1337.5,773.5 1338.5,773.5 1339.5,774.5 1339.5,776.5 1340.5,777.5 1338.5,779.0 1337.3,782.5 1338.1,792.5 1339.5,795.4 1341.5,797.5 1341.5,798.5 1340.5,799.5 1340.5,800.5 1337.5,805.5 1337.5,822.5 1336.5,823.5 1336.5,842.5 1335.5,843.5 1335.5,860.5 1334.5,861.5 1331.5,861.5 1330.5,862.5 1327.5,862.5 1326.5,863.5 1323.5,863.5 1322.5,864.5 1319.5,864.5 1318.5,865.5 1315.5,865.5 1314.5,866.5 1311.5,866.5 1310.5,867.5 1307.5,867.5 1306.5,868.5 1303.5,868.5 1302.5,869.5 1299.5,869.5 1298.5,870.5 1295.5,870.5 1294.5,871.5 1259.5,871.5 1258.5,872.5 1210.5,872.5 1209.5,873.5 1161.5,873.5 1160.5,874.5 957.5,874.5 956.5,875.5 945.5,875.5 943.5,874.6 943.5,703.5ZM954.5,724.5 948.5,733.5 948.5,817.5 947.5,818.5 947.5,847.5 948.5,847.5 951.5,850.5 952.5,850.5 952.5,851.5 961.5,851.5 962.5,850.5 968.5,850.5 969.5,849.5 978.5,849.5 979.5,848.5 990.5,848.5 991.5,847.5 1003.5,847.5 1004.5,846.5 1008.5,846.5 1011.5,843.5 1012.5,843.5 1016.5,839.5 1017.5,839.5 1017.5,838.5 1018.5,838.5 1021.5,835.5 1021.5,834.5 1022.5,833.5 1023.5,833.5 1023.5,832.5 1026.5,827.5 1040.5,827.5 1041.5,828.5 1045.5,828.5 1046.5,829.5 1052.5,829.5 1053.5,830.5 1058.5,830.5 1059.5,831.5 1064.5,831.5 1065.5,832.5 1070.5,832.5 1071.5,833.5 1116.5,833.5 1117.5,832.5 1123.5,832.5 1124.5,831.5 1130.5,831.5 1131.5,830.5 1137.5,830.5 1138.5,829.5 1144.5,829.5 1145.5,828.5 1151.5,828.5 1152.5,827.5 1158.5,827.5 1159.5,826.5 1163.5,826.5 1164.5,825.5 1167.5,825.5 1168.5,824.5 1171.5,824.5 1172.5,823.5 1175.5,823.5 1176.5,822.5 1179.5,822.5 1180.5,821.5 1183.5,821.5 1184.5,820.5 1187.5,820.5 1188.5,819.5 1191.5,819.5 1192.5,818.5 1195.5,818.5 1196.5,817.5 1198.5,817.5 1198.5,816.5 1199.5,815.5 1199.5,814.5 1200.5,813.5 1200.5,812.5 1203.5,807.5 1203.5,804.5 1201.5,801.5 1201.5,799.5 1200.5,798.5 1200.5,796.5 1198.5,793.5 1198.5,791.5 1197.5,790.5 1197.5,788.5 1194.5,787.5 1193.5,786.5 1193.5,785.5 1190.5,784.5 1189.5,783.5 1189.5,782.5 1186.5,781.5 1185.5,780.5 1185.5,779.5 1184.5,779.5 1181.5,777.5 1176.5,777.5 1175.5,776.5 1162.5,776.5 1161.5,775.5 1161.5,772.5 1159.5,772.5 1158.5,771.5 1154.5,771.5 1153.5,770.5 1149.5,770.5 1148.5,769.5 1144.5,769.5 1143.5,768.5 1139.5,768.5 1137.5,766.5 1136.5,766.5 1134.5,764.5 1133.5,764.5 1131.5,762.5 1130.5,762.5 1128.5,760.5 1127.5,760.5 1125.5,758.5 1124.5,758.5 1121.5,755.5 1116.5,755.5 1115.5,754.5 1109.5,754.5 1108.5,753.5 1103.5,753.5 1102.5,752.5 1097.5,752.5 1096.5,751.5 1091.5,751.5 1090.5,750.5 1086.5,750.5 1085.5,749.5 1082.5,749.5 1081.5,748.5 1078.5,748.5 1077.5,747.5 1074.5,747.5 1073.5,746.5 1070.5,746.5 1069.5,745.5 1067.5,745.5 1066.5,744.5 1063.5,744.5 1062.5,743.5 1059.5,743.5 1058.5,742.5 1055.5,742.5 1054.5,741.5 1052.5,741.5 1049.5,739.5 1047.5,739.5 1044.5,737.5 1042.5,737.5 1041.5,736.5 1040.5,736.5 1037.5,734.5 1035.5,734.5 1032.5,732.5 1030.5,732.5 1029.5,731.5 1025.5,731.5 1024.5,730.5 1013.5,730.5 1012.5,729.5 1001.5,729.5 1000.5,728.5 989.5,728.5 988.5,727.5 979.5,727.5 978.5,726.5 969.5,726.5 968.5,725.5 958.5,725.5 957.5,724.5 954.5,724.5ZM1275.9,736.5 1276.5,735.5 1277.5,736.5 1276.5,737.5 1275.9,736.5ZM1286.0,740.5 1286.5,739.5 1287.5,740.5 1286.5,741.0 1286.0,740.5ZM1289.2,744.5 1289.5,743.5 1290.5,744.5 1289.5,745.0 1289.2,744.5ZM1288.0,753.5 1288.5,752.5 1289.5,753.5 1288.5,754.5 1288.0,753.5ZM1244.5,754.5 1245.5,753.5 1246.0,754.5 1245.5,755.5 1244.5,754.5ZM1278.1,780.5 1278.5,780.0 1279.5,780.5 1279.5,781.5 1278.5,782.5 1277.5,781.5 1278.1,780.5ZM1273.5,786.5 1275.5,786.5 1273.5,786.5ZM1242.0,794.5 1243.5,793.5 1244.5,794.5 1247.5,793.5 1248.5,794.5 1248.5,795.5 1245.5,798.5 1245.5,799.5 1242.5,802.5 1241.5,802.5 1241.5,804.5 1240.5,805.5 1238.5,805.5 1235.5,802.5 1235.5,800.5 1234.5,799.5 1234.5,796.5 1235.5,795.5 1236.5,796.5 1237.5,795.8 1238.5,796.5 1239.5,795.5 1242.0,794.5ZM1237.5,798.2 1237.0,798.5 1237.8,798.5 1237.5,798.2Z" fill="#ff9f00" fill-rule="evenodd"/>
<path d="M943.5,703.5 1107.3,703.5 1108.1,713.5 1107.9,721.5 1107.5,724.5 1106.5,724.5 1105.5,723.5 1094.5,723.5 1093.5,722.5 1082.5,722.5 1081.5,721.5 1072.5,721.5 1071.5,720.5 1063.5,720.5 1062.5,719.5 1055.5,719.5 1054.5,718.5 1047.5,718.5 1046.5,717.5 1008.5,717.5 1007.5,716.5 964.5,716.5 963.5,717.5 952.5,717.5 951.5,718.5 948.5,719.5 948.5,727.5 947.5,728.5 947.5,736.5 946.5,737.5 946.5,741.5 945.5,742.2 943.5,742.1 943.5,703.5ZM1125.5,728.5 1126.5,728.5 1126.5,729.5 1125.5,728.5ZM1325.5,778.5 1326.5,777.5 1329.5,780.5 1330.5,783.5 1333.5,786.5 1333.5,787.5 1334.5,788.5 1334.5,806.5 1333.5,807.5 1333.5,811.5 1332.5,812.5 1332.5,817.5 1331.5,818.5 1331.5,822.5 1330.5,823.5 1330.5,828.5 1329.5,829.5 1329.5,838.5 1328.5,839.5 1328.5,846.5 1327.5,847.5 1327.5,856.5 1326.5,857.5 1326.5,860.5 1325.5,861.5 1322.5,861.5 1321.5,862.5 1318.5,862.5 1317.5,863.5 1314.5,863.5 1313.5,864.5 1310.5,864.5 1309.5,865.5 1306.5,865.5 1305.5,866.5 1302.5,866.5 1301.5,867.5 1298.5,867.5 1297.5,868.5 1294.5,868.5 1293.5,869.5 1259.5,869.5 1258.5,870.5 1209.5,870.5 1208.5,871.5 1162.5,871.5 1160.5,872.5 982.5,872.5 981.5,871.5 980.5,871.5 979.5,872.5 975.5,872.5 974.7,871.5 974.5,857.5 987.5,857.5 988.5,856.5 1007.5,856.5 1008.5,855.5 1010.5,855.5 1011.5,854.5 1013.5,854.5 1014.5,853.5 1016.5,853.5 1017.5,852.5 1019.5,852.5 1022.5,850.5 1024.5,850.5 1025.5,849.5 1027.5,849.5 1028.5,848.5 1030.5,848.5 1031.5,847.5 1033.5,847.5 1034.5,846.5 1036.5,846.5 1041.5,843.5 1043.5,843.5 1044.5,842.5 1045.5,842.5 1046.5,841.5 1048.5,841.5 1051.5,839.5 1073.5,839.5 1074.5,840.5 1088.5,840.5 1089.5,841.5 1103.5,841.5 1104.5,842.5 1125.5,842.5 1126.5,843.5 1195.5,843.5 1196.5,842.5 1229.5,842.5 1230.5,841.5 1235.5,841.5 1236.5,840.5 1239.5,840.5 1240.5,839.5 1243.5,839.5 1244.5,838.5 1247.5,838.5 1248.5,837.5 1253.5,837.5 1254.5,836.5 1257.5,836.5 1258.5,835.5 1261.5,835.5 1262.5,834.5 1265.5,834.5 1266.5,833.5 1271.5,833.5 1272.5,832.5 1275.5,832.5 1280.5,827.5 1281.5,827.5 1281.5,826.5 1282.5,825.5 1283.5,825.5 1288.5,820.5 1289.5,820.5 1289.5,819.5 1290.5,818.5 1291.5,818.5 1296.5,813.5 1297.5,813.5 1297.5,812.5 1298.5,811.5 1299.5,811.5 1299.5,810.5 1300.5,809.5 1301.5,809.5 1302.5,806.5 1305.5,803.5 1305.5,802.5 1311.5,795.5 1312.5,792.5 1313.5,791.5 1314.5,791.5 1314.5,790.5 1315.5,789.5 1315.5,788.5 1317.5,786.5 1317.5,785.5 1318.5,784.5 1319.5,784.5 1325.5,778.5ZM943.5,831.5 943.5,830.7 945.5,830.7 946.5,831.5 946.5,853.5 948.5,855.5 949.5,855.5 951.5,857.5 952.5,857.5 953.5,858.5 949.9,861.5 943.5,863.1 943.5,831.5Z" fill="#ff7000" fill-rule="evenodd"/>
<path d="M943.5,703.5 1023.5,703.5 1024.5,704.5 1023.5,705.5 1007.5,705.5 1006.5,706.5 990.5,706.5 989.5,707.5 972.5,707.5 971.5,708.5 961.5,708.5 960.5,709.5 952.5,709.5 951.5,710.5 946.5,710.5 945.5,711.5 945.5,713.5 943.5,716.5 943.5,703.5ZM1026.5,703.5 1028.5,703.5 1027.5,704.5 1026.5,703.5ZM1031.5,703.5 1033.5,703.5 1032.5,704.5 1031.5,703.5ZM1036.5,703.5 1040.5,703.5 1039.5,704.5 1037.5,704.5 1036.5,703.5ZM1318.5,786.5 1319.5,785.5 1320.5,785.5 1321.5,786.5 1321.5,787.5 1322.5,787.5 1323.5,788.5 1323.5,789.5 1324.5,789.5 1325.5,790.5 1325.5,791.5 1326.5,791.5 1327.5,792.5 1327.5,793.5 1328.5,793.5 1330.5,796.5 1330.5,808.5 1329.5,809.5 1329.5,812.5 1328.5,813.5 1328.5,818.5 1327.5,819.5 1327.5,823.5 1326.5,824.5 1326.5,828.5 1325.5,829.5 1325.5,834.5 1322.5,839.5 1322.5,842.5 1319.5,847.5 1319.5,850.5 1316.5,855.5 1316.5,858.5 1315.5,859.5 1315.5,860.5 1314.5,861.5 1311.5,861.5 1310.5,862.5 1308.5,862.5 1307.5,863.5 1304.5,863.5 1303.5,864.5 1301.5,864.5 1300.5,865.5 1297.5,865.5 1296.5,866.5 1294.5,866.5 1293.5,867.5 1268.5,867.5 1267.5,868.5 1232.5,868.5 1231.5,869.5 1196.5,869.5 1195.5,870.5 1161.5,870.5 1159.5,871.5 1100.5,871.5 1099.5,870.5 1088.5,870.5 1086.5,871.5 1076.5,871.6 1072.5,871.4 1069.5,869.5 1040.5,869.5 1039.5,868.5 1029.5,868.5 1028.5,867.5 1018.5,867.5 1017.5,866.5 1019.5,864.5 1020.5,864.5 1021.5,863.5 1023.5,863.5 1024.5,862.5 1025.5,862.5 1030.5,859.5 1032.5,859.5 1033.5,858.5 1034.5,858.5 1037.5,856.5 1039.5,856.5 1044.5,853.5 1049.5,853.5 1050.5,852.5 1061.5,852.5 1062.5,851.5 1091.5,851.5 1092.5,850.5 1131.5,850.5 1132.5,849.5 1178.5,849.5 1179.5,848.5 1229.5,848.5 1230.5,847.5 1235.5,847.5 1236.5,846.5 1239.5,846.5 1240.5,845.5 1245.5,845.5 1246.5,844.5 1249.5,844.5 1250.5,843.5 1255.5,843.5 1256.5,842.5 1259.5,842.5 1260.5,841.5 1265.5,841.5 1266.5,840.5 1269.5,840.5 1270.5,839.5 1275.5,839.5 1276.5,838.5 1279.5,838.5 1280.5,837.5 1281.5,837.5 1281.5,836.5 1282.5,835.5 1283.5,835.5 1283.5,834.5 1284.5,833.5 1285.5,833.5 1285.5,832.5 1286.5,831.5 1287.5,831.5 1287.5,830.5 1288.5,829.5 1289.5,829.5 1289.5,828.5 1290.5,827.5 1291.5,827.5 1291.5,826.5 1292.5,825.5 1293.5,825.5 1293.5,824.5 1294.5,823.5 1295.5,823.5 1295.5,822.5 1296.5,821.5 1297.5,821.5 1297.5,820.5 1298.5,819.5 1299.5,819.5 1299.5,818.5 1300.5,817.5 1301.5,817.5 1301.5,816.5 1302.5,815.5 1303.5,815.5 1303.5,814.5 1304.5,813.5 1304.5,812.5 1305.5,811.5 1305.5,810.5 1306.5,809.5 1307.5,806.5 1309.5,804.5 1310.5,801.5 1312.5,799.5 1312.5,798.5 1313.5,797.5 1313.5,795.5 1314.5,795.5 1314.5,794.5 1315.5,793.5 1315.5,792.5 1316.5,791.5 1316.5,790.5 1317.5,789.5 1318.5,786.5Z" fill="#ff4000" fill-rule="evenodd"/>
<path d="M1321.5,798.5 1322.5,797.5 1323.5,798.5 1323.5,799.5 1324.5,800.5 1324.5,803.5 1325.5,804.5 1325.5,806.5 1326.5,807.5 1326.5,818.5 1324.5,821.5 1324.5,823.5 1322.5,826.5 1322.5,828.5 1321.5,829.5 1321.5,831.5 1320.5,832.5 1320.9,835.5 1320.0,840.5 1318.5,842.8 1315.5,844.5 1308.5,851.5 1308.5,852.5 1307.5,853.5 1306.5,853.5 1306.5,854.5 1301.5,859.5 1301.5,860.5 1300.5,861.5 1296.5,861.5 1295.5,862.5 1292.5,862.5 1291.5,863.5 1288.5,863.5 1287.5,864.5 1283.5,864.5 1282.5,865.5 1279.5,865.5 1278.5,866.5 1260.5,866.5 1255.5,868.0 1177.5,868.5 1176.5,869.5 1148.5,869.5 1147.5,868.5 1128.5,868.5 1126.5,869.5 1106.5,870.5 1088.5,870.0 1086.5,870.8 1085.5,869.9 1084.5,870.8 1083.5,869.6 1082.5,870.8 1081.5,869.6 1080.5,870.8 1079.5,869.6 1078.5,870.8 1077.5,869.6 1076.5,870.8 1075.5,869.8 1074.5,870.8 1073.5,870.1 1072.5,870.5 1070.5,870.0 1069.5,869.0 1059.6,866.5 1057.4,864.5 1057.5,862.5 1050.5,862.5 1049.5,861.5 1050.5,860.5 1053.5,860.5 1054.5,859.5 1059.5,859.5 1060.5,858.5 1066.5,858.5 1067.5,859.5 1087.5,859.5 1088.5,860.5 1096.5,860.5 1097.5,861.5 1107.5,861.5 1108.5,862.5 1116.5,862.5 1117.5,863.5 1133.5,863.5 1134.5,862.5 1138.5,862.5 1139.5,861.5 1143.5,861.5 1144.5,860.5 1148.5,860.5 1149.5,859.5 1153.5,859.5 1154.5,858.5 1158.5,858.5 1159.5,857.5 1160.5,857.5 1160.6,856.5 1161.5,855.8 1162.5,855.6 1164.5,855.7 1165.5,856.5 1178.5,856.5 1179.5,855.5 1191.5,855.5 1192.5,854.5 1204.5,854.5 1205.5,853.5 1217.5,853.5 1218.5,852.5 1229.5,852.5 1230.5,851.5 1237.5,851.5 1238.5,850.5 1245.5,850.5 1246.5,849.5 1253.5,849.5 1254.5,848.5 1261.5,848.5 1262.5,847.5 1269.5,847.5 1270.5,846.5 1277.5,846.5 1278.5,845.5 1285.5,845.5 1285.5,844.5 1286.5,843.5 1287.5,843.5 1287.5,841.5 1288.5,840.5 1289.5,840.5 1291.5,837.5 1292.5,837.5 1292.5,836.5 1295.5,833.5 1295.5,832.5 1296.5,831.5 1297.5,831.5 1297.5,830.5 1300.5,827.5 1300.5,826.5 1301.5,825.5 1302.5,825.5 1302.5,824.5 1305.5,821.5 1305.5,820.5 1306.5,819.5 1307.5,819.5 1307.5,818.5 1309.5,816.5 1310.5,813.5 1314.5,809.5 1314.5,808.5 1316.5,806.5 1316.5,805.5 1319.5,802.5 1319.5,801.5 1321.5,799.5 1321.5,798.5ZM1064.5,864.5 1070.5,864.5 1071.5,865.5 1078.5,865.5 1079.5,866.5 1098.5,866.5 1099.5,867.5 1118.5,867.5 1100.5,867.5 1099.5,866.5 1080.5,866.5 1079.5,865.5 1072.5,865.5 1071.5,864.5 1064.5,864.5ZM1248.5,866.5 1254.5,866.5 1248.5,866.5ZM1316.5,839.5 1316.5,840.5 1316.5,839.5ZM1317.5,837.5 1317.5,838.5 1317.5,837.5ZM1316.5,842.5 1316.5,842.5Z" fill="#ff1000" fill-rule="evenodd"/>
<path d="M1318.5,808.5 1319.5,807.5 1320.5,807.5 1322.5,810.5 1322.5,820.5 1321.5,821.5 1321.5,825.5 1320.5,826.5 1320.5,830.5 1319.5,831.5 1319.5,832.5 1315.5,835.1 1312.5,838.5 1311.6,841.5 1312.5,844.5 1311.5,845.5 1311.5,846.5 1310.5,847.5 1309.5,847.5 1309.5,848.5 1308.5,849.5 1307.5,849.5 1307.5,850.5 1306.5,851.5 1305.5,851.5 1305.5,852.5 1304.5,853.5 1303.5,853.5 1303.5,854.5 1302.5,855.5 1301.5,855.5 1301.5,856.5 1298.5,858.5 1295.5,858.5 1294.5,859.5 1289.5,859.5 1288.5,860.5 1285.5,860.5 1284.5,861.5 1279.5,861.5 1278.5,862.5 1275.5,862.5 1274.5,863.5 1272.5,863.5 1268.5,866.0 1248.5,866.0 1246.9,866.5 1246.5,867.5 1245.5,866.9 1225.5,867.2 1212.5,865.6 1210.0,866.5 1209.5,867.5 1187.5,867.5 1186.8,866.5 1186.6,857.5 1187.5,856.5 1196.5,856.5 1197.5,855.5 1214.5,855.5 1215.5,854.5 1231.5,854.5 1232.5,853.5 1247.5,853.5 1248.5,852.4 1257.5,852.5 1258.5,851.4 1260.5,851.1 1264.5,850.9 1268.5,851.5 1270.5,850.1 1277.5,849.4 1281.5,848.3 1283.7,848.5 1284.5,849.5 1284.5,851.5 1284.5,850.5 1287.5,847.5 1287.5,846.5 1290.5,843.5 1290.5,842.5 1293.5,839.5 1293.5,838.5 1294.5,837.5 1295.5,837.5 1296.5,834.5 1297.5,833.5 1298.5,833.5 1299.5,830.5 1300.5,829.5 1301.5,829.5 1301.5,828.5 1302.5,827.5 1303.5,827.5 1303.5,826.5 1306.5,823.5 1306.5,822.5 1307.5,821.5 1308.5,821.5 1308.5,820.5 1311.5,817.5 1311.5,816.5 1313.5,815.5 1313.5,814.5 1314.5,813.5 1315.5,813.5 1315.5,811.5 1316.5,811.5 1318.5,809.5 1318.5,808.5ZM1265.5,864.5 1267.5,864.5 1265.5,864.5ZM1281.5,851.5 1281.5,851.5ZM1322.5,817.5 1323.5,817.5 1322.5,817.5Z" fill="#df0000" fill-rule="evenodd"/>
<path d="M1307.5,825.5 1308.5,825.5 1307.5,826.5 1307.5,825.5ZM1311.5,829.5 1312.5,828.5 1313.5,829.5 1313.5,830.5 1312.5,831.5 1311.5,830.5 1311.5,829.5ZM1310.5,833.5 1310.5,832.5 1310.5,833.5ZM1221.5,865.5 1221.5,864.5 1222.5,865.5 1221.5,865.5Z" fill="#af0000" fill-rule="evenodd"/>
<g fill="none" stroke="#000" stroke-width="1.0" stroke-linejoin="round">
<path d="M1377.5,1074.1 1369.5,1074.0 1368.5,1073.5 1368.5,1067.5 1369.5,1066.5 1369.5,1037.5 1370.5,1036.5 1370.5,1026.5 1367.5,1023.5 1367.5,1022.5 1366.5,1021.5 1364.5,1021.5 1362.5,1018.5 1360.5,1020.5 1360.5,1021.5 1357.5,1024.5 1357.5,1025.5 1353.5,1029.5 1353.5,1030.5 1350.5,1033.5 1350.5,1034.5 1347.5,1037.5 1347.5,1038.5 1344.5,1041.5 1344.5,1042.5 1341.5,1045.5 1341.5,1046.5 1337.5,1050.5 1337.5,1051.5 1334.5,1054.5 1334.5,1055.5 1331.5,1058.5 1331.5,1059.5 1326.5,1064.5 1324.5,1064.5 1323.5,1065.5 1321.5,1065.5 1320.5,1066.5 1317.5,1066.5 1316.5,1067.5 1314.5,1067.5 1313.5,1068.5 1311.5,1068.5 1310.5,1069.5 1307.5,1069.5 1306.5,1070.5 1304.5,1070.5 1303.5,1071.5 1296.5,1071.5 1295.5,1070.5 1292.5,1070.5 1291.5,1069.5 1286.5,1069.5 1285.5,1068.5 1282.5,1068.5 1281.5,1067.5 1276.5,1067.5 1275.5,1066.5 1272.5,1066.5 1271.5,1065.5 1266.5,1065.5 1265.5,1064.5 1261.5,1064.5 1260.5,1063.5 1260.5,1062.5 1250.5,1052.5 1250.5,1049.5 1251.5,1048.5 1251.5,1042.5 1252.5,1041.5 1252.5,1035.5 1253.5,1034.5 1253.5,1028.5 1254.5,1027.5 1254.5,1023.5 1255.5,1022.5 1256.5,1023.5 1256.5,1029.5 1257.5,1029.5 1256.5,1028.5 1256.5,1019.5 1255.5,1018.5 1255.5,1014.5 1254.5,1013.5 1254.5,1008.5 1252.5,1008.5 1251.5,1007.5 1251.5,1006.5 1250.5,1006.5 1248.5,1004.5 1247.5,1004.5 1245.5,1002.5 1244.5,1002.5 1241.5,999.5 1220.5,999.5 1219.5,998.5 1211.5,998.5 1209.5,996.5 1206.5,995.5 1204.5,993.5 1203.5,993.5 1201.5,991.5 1198.5,990.5 1196.5,988.5 1195.5,988.5 1194.5,987.5 1187.5,987.5 1186.5,986.5 1180.5,986.5 1179.5,985.5 1174.5,985.5 1173.5,984.5 1172.5,984.5 1171.5,983.5 1170.5,983.5 1169.5,982.5 1168.5,982.5 1167.5,981.5 1166.5,981.5 1161.5,978.5 1158.5,978.5 1157.5,977.5 1154.5,977.5 1153.5,976.5 1148.5,976.5 1147.5,975.5 1144.5,975.5 1143.5,974.5 1138.5,974.5 1137.5,973.5 1134.5,973.5 1133.5,972.5 1128.5,972.5 1127.5,971.5 1124.5,971.5 1123.5,970.5 1118.5,970.5 1117.5,969.5 1114.5,969.5 1113.5,968.5 1108.5,968.5 1107.5,967.5 1104.5,967.5 1103.5,966.5 1099.5,966.5 1098.5,965.5 1095.5,965.5 1094.5,964.5 1091.5,964.5 1090.5,963.5 1087.5,963.5 1086.5,962.5 1082.5,962.5 1081.5,961.5 1078.5,961.5 1077.5,960.5 1074.5,960.5 1073.5,959.5 1070.5,959.5 1069.5,958.5 1066.5,957.5 1063.5,954.5 1062.5,954.5 1061.5,953.5 1066.5,948.5 1067.5,948.5 1070.5,945.5 1071.5,945.5 1073.5,943.5 1073.5,942.5 1072.5,942.5 1071.5,941.5 1068.5,941.5 1067.5,940.5 1064.5,940.5 1063.5,939.5 1061.5,939.5 1060.5,938.5 1057.5,938.5 1056.5,937.5 1053.5,937.5 1052.5,936.5 1049.5,936.5 1048.5,935.5 1033.5,935.5 1032.5,934.5 1019.5,934.5 1018.5,933.5 1005.5,933.5 1004.5,934.5 1001.5,934.5 1000.5,935.5 994.5,935.5 991.5,933.5 988.5,933.5 985.5,931.5 984.5,932.5 983.5,932.5 982.5,933.5 980.5,933.5 977.5,935.5 975.5,935.5 974.5,936.5 972.5,936.5 971.5,935.5 970.5,935.5 968.5,933.5 967.5,933.5 966.5,932.5 965.5,932.5 963.5,930.5 962.5,930.5 954.5,940.5 953.5,939.5 953.5,938.5 951.5,936.5 951.5,935.5 949.5,933.5 949.5,932.5 947.5,930.5 947.5,929.5 945.5,927.5 945.5,926.5 944.5,927.3 943.5,927.2"/>
<path d="M1358.5,703.5 1358.5,705.5 1359.5,706.5 1359.5,707.5 1360.5,707.5 1361.5,708.5 1361.5,711.5 1362.5,712.5 1362.5,715.5 1363.5,716.5 1363.5,718.5 1364.5,719.5 1364.5,722.5 1365.5,723.5 1365.5,725.5 1366.5,726.5 1366.5,730.5 1367.5,731.5 1367.5,735.5 1368.5,736.5 1368.5,739.5 1369.5,740.5 1369.5,745.5 1370.5,746.5 1370.5,750.5 1371.5,751.5 1371.5,756.5 1372.5,757.5 1372.5,766.5 1373.5,767.5 1373.5,777.5 1374.5,778.5 1374.5,851.5 1374.5,826.5 1377.5,826.1M1377.5,860.5 1377.5,862.5 1376.5,863.5 1376.5,865.5 1377.5,866.5 1377.5,872.5 1376.5,873.5 1376.5,874.5 1377.5,873.5M1374.5,865.5 1374.5,869.5 1374.5,865.5M1375.5,883.5 1375.5,890.5 1375.5,883.5M1374.5,891.5 1374.5,895.5 1373.5,896.5 1373.5,900.5 1373.5,897.5 1374.5,896.5 1374.5,891.5M1377.5,898.8 1376.9,899.5 1377.5,900.3M1372.5,903.5 1372.5,906.5 1372.5,903.5M1371.5,908.5 1371.5,910.5 1371.5,908.5M1370.5,915.5 1370.5,916.5 1370.5,915.5M943.5,915.5 943.5,915.5M1369.5,920.5 1369.5,920.5M1367.5,930.5 1367.5,930.5M1366.5,933.5 1366.5,935.5 1366.5,933.5M1365.5,937.5 1365.5,939.5 1364.5,940.5 1364.5,942.5 1363.5,943.5 1363.5,945.5 1362.5,946.5 1362.5,949.5 1361.5,950.5 1362.5,950.5 1362.5,947.5 1363.5,946.5 1363.5,944.5 1364.5,943.5 1364.5,941.5 1365.5,940.5 1365.5,937.5M1377.5,977.3 1366.5,976.8 1357.5,975.5 1357.5,974.5 1358.5,973.5 1358.5,968.5 1359.5,967.5 1359.5,961.5 1360.5,960.5 1360.5,954.5 1360.5,959.5 1359.5,960.5 1359.5,966.5 1358.5,967.5 1358.5,972.5 1357.5,973.5 1357.5,979.5 1356.5,980.5 1356.5,986.5 1355.5,987.5 1354.5,987.5 1352.5,985.5 1351.5,985.5 1345.5,979.5 1343.5,981.5 1343.5,982.5 1342.5,983.5 1341.5,986.5 1339.5,988.5 1339.5,992.5 1340.5,993.5 1340.5,1010.5 1339.5,1011.5 1339.5,1021.5 1338.5,1022.5 1338.5,1025.5 1337.5,1026.5 1337.5,1027.5 1336.5,1028.5 1335.5,1028.5 1328.5,1035.5 1327.5,1035.5 1327.5,1036.5 1326.5,1037.5 1323.5,1037.5 1322.5,1036.5 1321.5,1036.5 1316.5,1033.5 1314.5,1033.5 1313.5,1032.5 1312.5,1032.5 1307.5,1029.5 1305.5,1029.5 1304.5,1028.5 1304.5,1021.5 1303.5,1020.5 1303.5,1012.5 1302.5,1011.5 1302.5,1005.5 1300.5,1002.5 1300.5,1000.5 1298.5,997.5 1298.5,995.5 1296.5,992.5 1296.5,990.5 1294.5,987.5 1294.5,985.5 1292.5,983.5 1291.5,980.5 1289.5,978.5 1289.5,977.5 1288.5,976.5 1287.5,973.5 1285.5,971.5 1285.5,970.5 1284.5,969.5 1283.5,966.5 1281.5,964.5 1281.5,963.5 1280.5,963.5 1278.5,961.5 1277.5,961.5 1276.5,960.5 1275.5,960.5 1274.5,959.5 1273.5,959.5 1272.5,958.5 1271.5,958.5 1270.5,957.5 1269.5,957.5 1264.5,954.5 1262.5,954.5 1261.5,953.5 1260.5,953.5 1259.5,952.5 1258.5,952.5 1257.5,951.5 1256.5,951.5 1255.5,950.5 1254.5,950.5 1253.5,949.5 1252.5,949.5 1251.5,948.5 1250.5,948.5 1249.5,947.5 1248.5,947.5 1247.5,946.5 1246.5,946.5 1241.5,943.5 1239.5,943.5 1236.5,941.5 1234.5,941.5 1231.5,939.5 1229.5,939.5 1226.5,937.5 1224.5,937.5 1223.5,936.5 1222.5,936.5 1220.5,934.5 1220.5,933.5 1219.5,932.5 1219.5,929.5 1218.5,928.5 1218.5,927.5 1206.5,927.5 1205.5,926.5 1194.5,926.5 1193.5,925.5 1177.5,925.5 1176.5,926.5 1165.5,926.5 1164.5,927.5 1137.5,927.5 1136.5,928.5 1094.5,928.5 1093.5,929.5 1070.5,929.5 1069.5,928.5 1055.5,928.5 1054.5,927.5 1040.5,927.5 1039.5,926.5 1015.5,926.5 1014.5,925.5 993.5,925.5 992.5,924.5 988.5,924.5 987.5,923.5 983.5,923.5 982.5,922.5 981.5,922.5 980.5,923.5 979.5,923.5 976.5,926.5 975.5,926.5 975.5,927.5 974.5,928.5 971.5,928.5 970.5,927.5 969.5,927.5 968.5,926.5 967.5,926.5 966.5,925.5 963.5,924.5 962.5,923.5 959.5,925.5 958.5,925.5 956.5,927.5 953.5,928.5 950.5,925.5 950.5,924.5 946.5,919.5 945.5,920.0 943.5,919.7"/>
<path d="M1356.8,703.5 1357.5,704.5 1357.5,707.5 1358.5,708.5 1358.5,710.5 1359.5,711.5 1359.5,713.5 1360.5,713.5 1360.5,716.5 1361.5,717.5 1361.5,719.5 1362.5,720.5 1362.5,722.5 1363.5,723.5 1363.5,725.5 1364.5,726.5 1364.5,729.5 1365.5,730.5 1365.5,733.5 1366.5,734.5 1366.5,737.5 1367.5,738.5 1367.5,745.5 1368.5,746.5 1368.5,759.5 1369.5,760.5 1369.5,775.5 1370.5,776.5 1370.5,797.5 1371.5,798.5 1371.5,824.5 1372.5,825.5 1372.5,841.5 1373.5,842.5 1373.2,862.5 1372.3,867.5 1373.0,870.5 1375.5,872.5 1375.5,875.5 1374.4,876.5 1371.9,885.5 1368.2,912.5 1365.7,926.5 1361.5,932.0 1350.1,939.5 1349.5,940.5 1347.5,938.5 1347.5,937.5 1345.5,935.5 1345.5,934.5 1343.5,932.5 1343.5,931.5 1339.5,927.5 1338.5,927.5 1336.5,925.5 1335.5,925.5 1330.5,921.5 1328.5,921.5 1327.5,920.5 1327.5,919.5 1325.5,919.5 1324.5,918.5 1324.5,917.5 1322.5,917.5 1321.5,916.5 1321.5,915.5 1317.5,915.5 1316.5,914.5 1312.5,914.5 1311.5,913.5 1307.5,913.5 1306.5,912.5 1302.5,912.5 1301.5,911.5 1297.5,911.5 1296.5,910.5 1293.5,910.5 1292.5,909.5 1290.5,909.5 1289.5,908.5 1287.5,908.5 1286.5,907.5 1284.5,907.5 1283.5,906.5 1281.5,906.5 1280.5,905.5 1278.5,905.5 1277.5,904.5 1275.5,904.5 1274.5,903.5 1250.5,903.5 1249.5,902.5 1231.5,902.5 1230.5,903.5 1201.5,903.5 1200.5,904.5 1192.5,904.5 1191.5,905.5 1183.5,905.5 1182.5,906.5 1175.5,906.5 1174.5,907.5 1167.5,907.5 1166.5,908.5 1156.5,908.5 1155.5,909.5 1142.5,909.5 1141.5,910.5 1128.5,910.5 1127.5,911.5 1113.5,911.5 1112.5,912.5 1099.5,912.5 1098.5,913.5 1088.5,913.5 1087.5,914.5 1080.5,914.5 1079.5,915.5 1072.5,915.5 1071.5,916.5 1063.5,916.5 1062.5,917.5 1041.5,917.5 1040.5,918.5 1014.5,918.5 1013.5,919.5 989.5,919.5 988.5,918.5 986.5,918.5 985.5,917.5 982.5,917.5 981.5,916.5 979.5,916.5 978.5,915.5 970.5,915.5 969.5,916.5 961.5,916.5 960.5,917.5 958.5,917.5 957.5,916.5 955.5,916.5 952.5,914.5 950.5,914.5 949.5,913.5 947.5,913.5 943.5,912.4"/>
<path d="M1353.5,703.5 1355.5,706.5 1355.5,708.5 1356.5,709.5 1356.5,711.5 1357.5,712.5 1357.5,714.5 1358.5,715.5 1358.5,717.5 1359.5,718.5 1359.5,720.5 1360.5,721.5 1360.5,723.5 1361.5,724.5 1361.5,726.5 1362.5,727.5 1362.5,735.5 1363.5,736.5 1363.5,749.5 1364.5,750.5 1364.5,762.5 1365.5,763.5 1365.5,776.5 1366.5,777.5 1366.5,788.5 1367.5,789.5 1367.5,802.5 1368.5,803.5 1368.5,815.5 1369.5,816.5 1369.5,829.5 1370.5,830.5 1370.5,862.5 1369.5,863.5 1369.5,872.5 1368.5,873.5 1368.5,882.5 1367.5,883.5 1367.5,892.5 1366.5,893.5 1366.5,900.5 1365.5,901.5 1365.5,905.5 1364.5,906.5 1364.5,910.5 1363.5,911.5 1363.5,915.5 1362.5,916.5 1362.5,920.5 1361.5,921.5 1361.5,925.5 1359.5,927.5 1355.5,927.5 1354.5,926.5 1354.5,925.5 1352.5,923.5 1352.5,922.5 1349.5,919.5 1349.5,918.5 1347.5,916.5 1347.5,915.5 1343.5,911.5 1342.5,911.5 1341.5,910.5 1340.5,910.5 1339.5,909.5 1338.5,909.5 1337.5,908.5 1336.5,908.5 1331.5,905.5 1329.5,905.5 1328.5,904.5 1328.5,903.5 1327.5,903.5 1325.5,901.5 1324.5,901.5 1321.5,899.5 1312.5,899.5 1311.5,898.5 1302.5,898.5 1301.5,897.5 1288.5,897.5 1287.5,896.5 1269.5,896.5 1268.5,895.5 1267.5,895.5 1266.5,896.5 1247.5,896.5 1246.5,897.5 1227.5,897.5 1226.5,898.5 1210.5,898.5 1209.5,899.5 1199.5,899.5 1198.5,900.5 1187.5,900.5 1186.5,901.5 1176.5,901.5 1175.5,902.5 1164.5,902.5 1163.5,903.5 1145.5,903.5 1144.5,904.5 1122.5,904.5 1121.5,905.5 1055.5,905.5 1054.5,904.5 1048.5,904.5 1047.5,903.5 1040.5,903.5 1039.5,902.5 1033.5,902.5 1032.5,901.5 1026.5,901.5 1025.5,900.5 1019.5,900.5 1018.5,899.5 1007.5,899.5 1005.5,901.5 1005.5,902.5 1000.5,907.5 1000.5,908.5 999.5,909.5 983.5,909.5 982.5,910.5 965.5,910.5 964.5,909.5 961.5,909.5 960.5,908.5 956.5,908.5 955.5,907.5 951.5,907.5 950.5,906.5 948.5,907.2 943.5,907.3"/>
<path d="M1351.5,703.5 1351.5,704.5 1352.5,705.5 1352.5,707.5 1353.5,708.5 1353.5,710.5 1354.5,711.5 1354.5,713.5 1355.5,713.5 1355.5,716.5 1356.5,717.5 1356.5,719.5 1357.5,720.5 1357.5,722.5 1358.5,723.5 1358.5,725.5 1359.5,726.5 1359.5,733.5 1360.5,734.5 1360.5,753.5 1361.5,754.5 1361.5,773.5 1362.5,774.5 1362.5,785.5 1363.5,786.5 1363.5,794.5 1364.5,795.5 1364.5,803.5 1365.5,804.5 1365.5,812.5 1366.5,813.5 1366.5,821.5 1367.5,822.5 1367.5,830.5 1368.5,831.5 1368.5,836.5 1367.5,837.5 1367.5,850.5 1366.5,851.5 1366.5,861.5 1365.5,862.5 1365.5,868.5 1364.5,869.5 1364.5,874.5 1363.5,875.5 1363.5,881.5 1362.5,882.5 1362.5,887.5 1361.5,888.5 1361.5,890.5 1360.5,891.5 1360.5,894.5 1359.5,895.5 1359.5,897.5 1358.5,898.5 1358.5,900.5 1357.5,901.5 1357.5,903.5 1356.5,904.5 1351.5,900.5 1349.5,900.5 1348.5,899.5 1348.5,898.5 1346.5,898.5 1345.5,897.5 1343.5,897.5 1342.5,896.5 1340.5,896.5 1339.5,895.5 1336.5,895.5 1335.5,894.5 1333.5,894.5 1332.5,893.5 1329.5,893.5 1328.5,892.5 1326.5,892.5 1325.5,891.5 1323.5,891.5 1322.5,890.5 1274.5,890.5 1273.5,891.5 1254.5,891.5 1253.5,892.5 1234.5,892.5 1233.5,893.5 1216.5,893.5 1215.5,894.5 1200.5,894.5 1199.5,895.5 1183.5,895.5 1182.5,896.5 1166.5,896.5 1165.5,897.5 1067.5,897.5 1066.5,896.5 1064.5,896.5 1063.5,895.5 1060.5,895.5 1059.5,894.5 1056.5,894.5 1055.5,893.5 1051.5,893.5 1050.5,892.5 1047.5,891.5 1046.5,892.5 1018.5,892.5 1017.5,893.5 1004.5,893.5 1003.5,894.5 999.5,894.5 998.5,895.5 994.5,895.5 993.5,896.5 989.5,896.5 988.5,897.5 984.5,897.5 983.5,898.5 979.5,898.5 978.5,899.5 974.5,899.5 973.5,900.5 965.5,900.5 964.5,901.5 956.5,901.5 955.5,902.5 947.5,902.4 943.5,901.4M943.5,899.5 943.5,899.5"/>
<path d="M1347.5,703.5 1347.5,704.5 1348.5,705.5 1348.5,707.5 1350.5,710.5 1350.5,712.5 1352.5,715.5 1352.5,717.5 1354.5,720.5 1354.5,722.5 1357.5,727.5 1357.5,767.5 1358.5,768.5 1358.5,784.5 1359.5,785.5 1359.5,791.5 1360.5,792.5 1360.5,797.5 1361.5,798.5 1361.5,804.5 1362.5,805.5 1362.5,811.5 1363.5,812.5 1363.5,817.5 1364.5,818.5 1364.5,824.5 1365.5,825.5 1365.5,831.5 1366.5,832.5 1366.5,834.5 1365.5,835.5 1365.5,839.5 1364.5,840.5 1364.5,845.5 1365.8,855.5 1365.6,861.5 1362.5,865.4 1359.5,866.5 1359.5,867.5 1358.5,868.5 1358.5,870.5 1357.5,871.5 1357.5,874.5 1356.5,875.5 1356.5,878.5 1352.5,882.5 1351.5,882.5 1347.5,886.5 1346.5,886.5 1345.5,887.5 1334.5,887.5 1333.5,886.5 1322.5,886.5 1321.5,885.5 1320.5,886.5 1291.5,886.5 1290.5,887.5 1254.5,887.5 1253.5,888.5 1218.5,888.5 1217.5,889.5 1188.5,889.5 1187.5,890.5 1008.5,890.5 1006.5,891.5 991.5,891.5 990.5,892.5 979.5,892.5 978.5,893.5 974.5,893.5 973.5,894.5 968.5,894.5 967.5,895.5 963.5,895.5 962.5,896.5 957.5,896.5 956.5,897.5 951.5,897.5 949.5,898.5 943.5,897.8M1362.5,850.5 1362.5,854.5 1362.5,850.5M1360.5,863.5 1360.5,863.5"/>
<path d="M1343.5,703.5 1343.5,704.5 1345.5,707.5 1345.5,709.5 1346.5,710.5 1346.5,711.5 1347.5,712.5 1347.5,713.5 1348.5,714.5 1348.5,715.5 1349.5,716.5 1349.5,717.5 1352.5,722.5 1352.5,724.5 1354.5,727.5 1354.5,756.5 1356.4,761.5 1357.0,770.5 1356.5,794.5 1357.5,795.5 1357.5,801.5 1358.5,802.5 1358.5,806.5 1359.5,807.5 1359.5,812.5 1360.5,813.5 1360.5,818.5 1361.5,819.5 1361.5,823.5 1362.5,824.5 1362.5,829.5 1363.5,830.5 1363.3,849.5 1361.9,850.5 1362.1,855.5 1361.5,856.5 1362.5,857.5 1363.5,850.5 1365.2,856.5 1365.0,861.5 1362.5,863.1 1361.5,863.3 1360.5,862.7 1359.5,863.2 1358.5,866.5 1357.5,867.5 1357.5,869.5 1356.5,870.5 1355.5,873.5 1353.5,875.5 1352.5,878.5 1351.5,878.5 1351.5,879.5 1349.5,881.5 1349.5,882.5 1346.5,885.5 1344.5,885.5 1343.5,884.5 1331.5,884.5 1330.5,883.5 1295.5,883.5 1294.5,884.5 1241.5,884.5 1240.5,885.5 1161.5,885.5 1160.5,886.5 1104.5,886.5 1103.5,887.5 1047.5,887.5 1046.5,888.5 1027.5,888.5 1026.5,889.5 1022.5,889.5 1021.5,889.0 1020.5,889.5 1007.5,889.5 1005.5,890.5 987.5,890.5 986.5,891.5 976.5,891.5 975.5,892.5 969.5,892.5 968.5,893.5 963.5,893.5 962.5,894.5 955.5,894.5 954.5,895.5 943.5,895.5M1354.5,762.5 1354.5,783.5 1354.5,762.5M1361.5,858.5 1361.5,858.5M1360.5,860.1 1360.5,861.2 1361.0,860.5 1360.5,860.1"/>
<path d="M1339.5,703.5 1339.5,705.5 1340.5,706.5 1340.5,708.5 1341.5,709.5 1341.5,712.5 1342.5,713.5 1342.5,716.5 1343.5,717.5 1343.5,719.5 1344.5,720.5 1344.5,723.5 1345.5,724.5 1345.5,727.5 1346.5,728.5 1346.5,731.5 1347.5,732.5 1347.5,735.5 1348.5,736.5 1348.5,739.5 1349.5,740.5 1349.5,743.5 1350.5,744.5 1350.5,746.5 1351.5,747.5 1351.5,750.5 1352.5,751.5 1352.5,753.5 1353.5,754.5 1353.0,769.5 1353.6,783.5 1354.5,788.5 1355.5,790.5 1355.5,795.5 1356.5,796.5 1356.5,809.5 1357.5,810.5 1357.5,815.5 1358.5,816.5 1358.5,822.5 1359.5,823.5 1359.5,829.5 1360.5,830.5 1360.5,835.5 1361.5,836.5 1361.5,843.5 1362.5,844.5 1362.5,849.5 1361.3,850.5 1361.2,855.5 1359.7,859.5 1360.0,861.5 1358.5,863.5 1355.5,863.5 1354.5,864.5 1352.5,864.5 1351.5,865.5 1349.5,865.5 1350.1,868.5 1349.2,872.5 1346.6,876.5 1343.5,878.8 1336.5,880.6 1319.5,881.4 1314.5,881.1 1311.5,880.1 1310.7,879.5 1310.5,878.5 1307.5,878.5 1306.5,879.5 1304.5,879.5 1303.5,880.5 1300.5,880.5 1299.5,881.5 1297.5,881.5 1296.5,882.5 1294.5,882.5 1293.5,883.5 1161.5,883.5 1158.5,884.3 1154.5,884.5 1111.5,884.5 1098.5,885.5 1051.5,885.6 1043.5,886.4 987.5,889.0 951.5,893.7 947.5,893.7 943.5,892.7M1361.1,861.5 1361.5,861.0 1362.5,861.5 1361.5,862.5 1361.1,861.5M1346.5,866.5 1348.5,866.5 1346.5,866.5M1342.5,867.5 1341.5,868.5 1339.5,868.5 1338.5,869.5 1335.5,869.5 1334.5,870.5 1332.5,870.5 1331.5,871.5 1329.5,871.5 1328.5,872.5 1326.5,872.5 1325.5,873.5 1323.5,873.5 1322.5,874.5 1319.5,874.5 1318.5,875.5 1316.5,875.5 1315.5,876.5 1313.5,876.5 1316.5,876.5 1317.5,875.5 1319.5,875.5 1320.5,874.5 1323.5,874.5 1324.5,873.5 1326.5,873.5 1327.5,872.5 1329.5,872.5 1330.5,871.5 1332.5,871.5 1333.5,870.5 1335.5,870.5 1336.5,869.5 1339.5,869.5 1340.5,868.5 1342.5,868.5 1343.5,867.5 1342.5,867.5M943.5,889.5 943.5,889.5"/>
<path d="M1333.5,703.5 1335.5,706.5 1335.5,709.5 1336.5,710.5 1336.5,713.5 1337.5,714.5 1337.5,716.5 1339.7,718.5 1339.5,719.5 1340.5,719.4 1341.7,720.5 1344.1,725.5 1345.9,733.5 1345.5,743.5 1346.5,744.5 1346.5,747.5 1347.5,748.5 1347.5,750.5 1348.5,751.5 1348.5,753.5 1349.5,754.5 1349.5,757.5 1350.5,758.5 1350.5,760.5 1351.5,761.5 1351.5,775.5 1352.5,776.5 1352.5,796.5 1353.5,797.5 1353.5,808.5 1354.5,809.5 1354.5,815.5 1355.5,816.5 1355.5,821.5 1356.5,822.5 1356.5,828.5 1357.5,828.5 1357.5,835.5 1358.5,836.5 1358.5,841.5 1359.5,842.5 1359.5,847.5 1360.5,848.5 1360.5,854.5 1358.2,857.5 1357.7,860.5 1358.5,861.5 1357.5,862.5 1354.5,862.5 1353.5,863.5 1351.5,863.5 1350.5,864.5 1348.5,864.5 1345.5,866.5 1344.5,865.5 1343.5,866.5 1341.5,866.5 1340.5,867.5 1338.5,867.5 1337.5,868.5 1335.5,868.5 1334.5,869.5 1332.5,869.5 1331.5,870.5 1328.5,870.5 1327.5,871.5 1324.5,871.5 1321.5,873.5 1317.5,873.5 1316.5,874.5 1314.5,874.5 1313.5,875.5 1311.5,875.5 1310.5,876.5 1307.5,876.5 1310.5,876.5 1311.5,877.5 1301.5,878.5 1300.5,879.5 1297.5,879.5 1296.5,880.5 1294.5,880.5 1293.5,881.5 1161.5,881.5 1159.5,882.2 1155.5,882.5 1110.5,882.5 1097.5,883.5 1052.5,883.6 1044.5,884.4 986.5,887.3 950.5,892.1 946.7,891.5 943.5,888.5M1339.5,722.5 1339.5,723.5 1339.5,722.5M1340.5,724.5 1340.5,726.5 1341.5,727.5 1341.5,729.5 1342.5,730.5 1342.5,733.5 1343.5,734.5 1343.5,737.5 1343.5,733.5 1342.5,732.5 1342.5,729.5 1341.5,728.5 1341.5,726.5 1340.5,725.5 1340.5,724.5M1344.3,867.5 1344.5,866.5 1346.0,868.5 1345.8,870.5 1344.9,872.5 1342.5,874.8 1339.5,876.2 1321.5,879.4 1315.5,879.2 1313.9,878.5 1313.5,877.5 1319.5,876.4 1339.5,870.8 1344.3,867.5"/>
<path d="M1327.5,703.5 1327.5,704.5 1329.5,706.5 1329.5,707.5 1331.5,709.5 1331.5,710.5 1333.5,712.5 1333.5,713.5 1336.5,716.5 1336.5,717.5 1337.5,718.5 1337.0,719.5 1337.5,720.4 1338.5,720.5 1337.5,720.8 1337.5,723.5 1341.2,736.5 1343.2,740.5 1344.5,741.5 1344.5,744.5 1345.5,745.5 1345.5,758.5 1346.5,759.5 1346.5,771.5 1347.5,772.5 1347.5,782.5 1348.5,783.5 1348.5,789.5 1349.5,790.5 1349.5,797.5 1350.5,798.5 1350.5,804.5 1351.5,805.5 1351.5,811.5 1352.5,812.5 1352.5,818.5 1353.5,819.5 1353.5,826.5 1354.5,827.5 1354.5,838.5 1353.5,839.5 1353.5,844.5 1352.5,845.5 1352.5,846.5 1353.5,845.5 1354.4,847.5 1355.7,851.5 1355.9,854.5 1355.1,860.5 1353.5,862.3 1347.5,863.5 1346.5,864.5 1344.5,864.6 1334.5,867.6 1327.5,870.7 1324.5,871.2 1323.5,872.2 1320.5,873.2 1317.5,873.2 1307.5,875.2 1303.5,877.5 1295.5,877.5 1294.5,878.5 1241.5,878.5 1240.5,879.5 1161.5,879.5 1160.5,880.5 1104.5,880.5 1103.5,881.5 1047.5,881.5 1046.5,882.5 1031.5,882.5 1030.5,883.5 1014.5,883.5 1013.5,884.5 997.5,884.5 996.5,885.5 981.5,885.5 980.5,886.5 974.5,886.5 973.5,887.5 967.5,887.5 966.5,888.5 959.5,888.5 958.5,889.5 952.5,889.5 951.5,890.5 948.5,890.5 946.8,888.5 943.5,886.9M956.5,793.5 956.5,804.5 957.5,805.5 957.5,809.5 958.5,809.5 958.5,806.5 959.5,805.5 959.5,798.5 957.5,795.5 957.5,793.5 956.5,793.5M1351.5,850.5 1351.5,855.5 1350.5,856.5 1350.5,859.5 1349.5,860.5 1350.5,860.5 1350.5,857.5 1351.5,856.5 1351.5,850.5M1348.5,861.5 1348.5,861.5M1341.5,871.5 1342.5,871.5 1341.5,872.5 1341.5,871.5"/>
<path d="M1313.5,703.5 1314.5,704.5 1314.5,705.5 1315.5,706.5 1316.5,709.5 1318.5,711.5 1318.5,712.5 1319.5,713.5 1319.5,714.5 1320.5,715.5 1321.5,718.5 1322.5,718.5 1322.8,717.5 1324.5,717.0 1328.5,717.9 1332.5,720.8 1335.5,724.9 1337.4,730.5 1340.4,743.5 1339.5,752.5 1341.5,754.5 1341.5,755.5 1342.5,756.5 1342.5,757.5 1345.5,762.5 1345.5,777.5 1346.5,778.5 1346.5,792.5 1347.5,793.5 1347.5,807.5 1348.5,808.5 1348.5,816.5 1349.5,817.5 1349.5,827.5 1350.5,828.5 1350.5,836.5 1351.5,837.5 1351.5,846.5 1348.6,848.5 1346.8,851.5 1344.5,859.5 1344.5,861.5 1345.5,862.5 1344.5,863.5 1342.5,863.5 1341.5,864.5 1338.5,864.5 1337.5,865.5 1335.5,865.5 1329.5,869.1 1320.5,872.8 1305.5,873.5 1304.5,874.5 1301.5,874.5 1300.5,875.5 1298.5,875.5 1297.5,876.5 1294.5,876.5 1293.5,877.5 1161.5,877.5 1159.5,878.3 1156.5,878.5 1109.5,878.5 1099.5,879.5 1052.5,879.5 1044.5,880.4 984.5,882.6 953.5,886.4 948.5,886.2 943.5,884.6M1323.5,719.5 1323.5,719.5M1324.5,722.5 1324.5,723.5 1325.5,724.5 1325.5,725.5 1326.5,726.5 1326.5,727.5 1327.5,728.5 1327.5,729.5 1328.5,730.5 1328.5,731.5 1329.5,732.5 1329.5,733.5 1330.5,734.5 1330.5,735.5 1331.5,736.5 1331.5,737.5 1332.5,738.5 1332.5,739.5 1333.5,740.5 1334.5,743.5 1336.5,745.5 1336.5,746.5 1336.5,744.5 1334.5,742.5 1334.5,741.5 1333.5,740.5 1333.5,739.5 1332.5,738.5 1332.5,737.5 1331.5,736.5 1331.5,735.5 1330.5,734.5 1330.5,733.5 1329.5,732.5 1329.5,731.5 1328.5,730.5 1328.5,729.5 1327.5,728.5 1327.5,727.5 1324.5,722.5M1338.5,748.5 1338.5,748.5M957.5,778.5 956.5,779.5 956.5,782.5 955.5,783.5 955.5,786.5 954.5,787.5 954.5,790.5 953.5,791.5 953.5,795.5 954.5,796.5 954.5,802.5 955.5,803.5 955.5,809.5 956.5,810.5 956.5,816.5 957.5,817.5 957.5,823.5 958.5,824.5 960.5,822.5 960.5,821.5 962.5,819.5 962.5,818.5 964.5,816.5 964.5,815.5 966.5,813.5 966.5,812.5 968.5,810.5 968.5,809.5 970.5,807.5 970.5,806.5 971.5,805.5 972.5,805.5 974.5,803.5 975.5,803.5 978.5,800.5 979.5,800.5 981.5,798.5 982.5,798.5 985.5,795.5 982.5,794.5 979.5,791.5 978.5,791.5 975.5,789.5 973.5,789.5 972.5,788.5 972.5,787.5 971.5,787.5 969.5,785.5 968.5,785.5 967.5,784.5 964.5,783.5 961.5,780.5 960.5,780.5 957.5,778.5M1327.5,867.5 1328.5,867.5 1327.5,867.5M1323.5,868.5 1322.5,869.5 1320.5,869.5 1319.5,870.5 1316.5,870.5 1315.5,871.5 1312.5,871.5 1316.5,871.5 1317.5,870.5 1320.5,870.5 1321.5,869.5 1323.5,869.5 1324.5,868.5 1326.5,868.5 1323.5,868.5M943.5,879.5 943.5,879.5"/>
<path d="M1293.5,703.5 1295.5,705.5 1296.5,705.5 1297.5,706.5 1300.5,707.5 1302.5,709.5 1303.5,709.5 1304.5,710.5 1307.5,711.5 1309.5,713.5 1310.5,713.5 1311.5,714.5 1314.5,715.5 1316.5,717.5 1315.5,722.5 1315.7,727.5 1317.2,732.5 1320.3,738.5 1323.9,743.5 1327.9,747.5 1333.5,751.2 1338.5,752.5 1338.5,754.5 1339.5,755.5 1339.5,761.5 1340.5,762.5 1340.5,766.5 1341.5,767.5 1341.5,778.5 1342.5,778.4 1343.9,780.5 1345.4,785.5 1346.2,790.5 1345.9,794.5 1344.5,796.6 1343.5,796.5 1343.5,799.5 1344.5,800.5 1344.5,806.5 1345.5,807.5 1345.5,817.5 1346.5,818.5 1346.5,826.5 1347.5,827.5 1347.5,834.5 1344.5,839.5 1344.5,841.5 1342.5,844.5 1342.5,846.5 1339.5,851.5 1339.5,853.5 1337.5,856.5 1337.5,858.5 1336.5,859.5 1336.5,861.5 1334.5,863.5 1334.5,864.5 1333.5,865.5 1327.5,866.3 1312.5,870.2 1308.5,872.5 1301.5,872.5 1300.5,873.5 1281.5,873.5 1280.5,874.5 1241.5,874.5 1240.5,875.5 1161.5,875.5 1160.5,876.5 1104.5,876.5 1103.5,877.5 1047.5,877.5 1046.5,878.5 1014.5,878.5 1013.5,879.5 981.5,879.5 980.5,880.5 972.5,880.5 971.5,881.5 963.5,881.5 962.5,882.5 955.5,882.5 954.5,883.5 947.5,883.5 945.0,879.5 943.5,878.5M957.5,761.5 955.5,763.5 954.5,763.5 954.5,767.5 953.5,768.5 953.5,782.5 952.5,783.5 952.5,807.5 953.5,807.5 953.5,828.5 954.5,829.5 954.5,834.5 955.5,834.5 956.5,833.5 957.5,833.5 958.5,832.5 959.5,832.5 960.5,831.5 961.5,831.5 962.5,830.5 963.5,830.5 964.5,829.5 967.5,828.5 969.5,826.5 970.5,826.5 974.5,822.5 975.5,822.5 978.5,819.5 979.5,819.5 980.5,818.5 981.5,818.5 982.5,817.5 985.5,816.5 987.5,814.5 988.5,814.5 989.5,813.5 990.5,813.5 991.5,812.5 994.5,811.5 996.5,809.5 997.5,809.5 999.5,807.5 1000.5,807.5 1002.5,805.5 1003.5,805.5 1005.5,803.5 1008.5,802.5 1010.5,800.5 1011.5,800.5 1013.5,798.5 1014.5,798.5 1015.5,797.5 1015.5,796.5 1013.5,794.5 1013.5,793.5 1008.5,788.5 1008.5,787.5 1007.5,787.5 1006.5,786.5 1005.5,786.5 1004.5,785.5 1003.5,785.5 1002.5,784.5 1001.5,784.5 1000.5,783.5 997.5,782.5 995.5,780.5 994.5,780.5 993.5,779.5 992.5,779.5 991.5,778.5 990.5,778.5 989.5,777.5 988.5,777.5 987.5,776.5 984.5,775.5 982.5,773.5 981.5,773.5 980.5,772.5 979.5,772.5 978.5,771.5 977.5,771.5 976.5,770.5 975.5,770.5 974.5,769.5 971.5,768.5 969.5,766.5 968.5,766.5 967.5,765.5 966.5,765.5 965.5,764.5 964.5,764.5 959.5,761.5 957.5,761.5M1342.5,786.5 1342.5,791.5 1343.5,792.5 1343.5,791.5 1342.5,790.5 1342.5,786.5"/>
<path d="M1283.2,703.5 1284.2,709.5 1287.0,715.5 1299.0,731.5 1309.5,747.0 1312.9,750.5 1316.5,753.3 1327.5,758.8 1331.5,761.4 1336.5,766.9 1340.4,773.5 1341.5,782.5 1342.5,783.5 1342.5,784.5 1341.5,784.7 1340.4,786.5 1340.4,790.5 1341.5,792.8 1343.5,793.5 1341.6,807.5 1341.5,832.5 1336.0,860.5 1334.5,862.3 1332.5,863.5 1307.5,870.3 1294.5,872.5 1237.5,874.0 1214.5,874.0 1209.5,874.5 1164.5,874.5 1158.5,875.5 1106.5,875.5 1100.5,876.0 1049.5,876.0 1042.5,876.5 983.5,877.0 953.5,879.1 949.5,878.8 943.5,876.9M954.5,735.5 953.5,736.5 953.5,738.5 952.5,739.5 952.5,741.5 951.5,742.5 951.5,760.5 950.5,761.5 950.5,794.5 949.5,795.5 949.5,840.5 950.5,841.5 951.5,841.5 953.5,843.5 961.5,843.5 962.5,842.5 968.5,842.5 969.5,841.5 974.5,841.5 975.5,840.5 980.5,840.5 981.5,839.5 983.5,839.5 984.5,838.5 987.5,837.5 989.5,834.5 989.5,832.5 990.5,831.5 990.5,830.5 991.5,829.5 991.5,828.5 992.5,827.5 993.5,824.5 997.5,820.5 998.5,820.5 999.5,819.5 1000.5,819.5 1002.5,817.5 1003.5,817.5 1004.5,816.5 1007.5,815.5 1009.5,813.5 1013.5,813.5 1014.5,812.5 1021.5,812.5 1022.5,811.5 1031.5,811.5 1032.5,810.5 1042.5,810.5 1043.5,809.5 1056.5,809.5 1057.5,808.5 1060.5,808.5 1061.5,809.5 1062.5,809.5 1067.5,812.5 1083.5,812.5 1085.5,810.5 1085.5,809.5 1089.5,805.5 1089.5,804.5 1083.5,798.5 1083.5,797.5 1080.5,794.5 1079.5,794.5 1074.5,790.5 1072.5,790.5 1071.5,789.5 1071.5,788.5 1070.5,788.5 1067.5,785.5 1066.5,785.5 1061.5,781.5 1059.5,781.5 1058.5,780.5 1058.5,779.5 1057.5,779.5 1055.5,777.5 1054.5,777.5 1052.5,775.5 1051.5,775.5 1049.5,773.5 1048.5,773.5 1043.5,769.5 1042.5,769.5 1041.5,768.5 1038.5,768.5 1037.5,767.5 1033.5,767.5 1032.5,766.5 1027.5,766.5 1026.5,765.5 1022.5,765.5 1021.5,764.5 1016.5,764.5 1015.5,763.5 1010.5,763.5 1009.5,762.5 1007.5,762.5 1002.5,759.5 1000.5,759.5 999.5,758.5 998.5,758.5 993.5,755.5 991.5,755.5 990.5,754.5 989.5,754.5 984.5,751.5 982.5,751.5 977.5,748.5 975.5,748.5 974.5,747.5 972.5,747.5 967.5,744.5 965.5,744.5 964.5,743.5 962.5,743.5 954.5,735.5M1342.5,784.5 1343.5,784.4 1344.4,785.5 1345.8,790.5 1345.3,793.5 1344.5,794.4 1343.5,793.5 1344.0,791.5 1342.5,784.5"/>
<path d="M1247.6,703.5 1249.5,705.7 1255.5,706.2 1257.5,708.1 1259.5,711.5 1265.5,728.8 1266.5,731.1 1267.5,731.5 1263.5,737.5 1264.5,737.5 1264.8,738.5 1263.5,740.0 1262.5,739.5 1262.5,738.5 1262.5,739.5 1259.5,742.5 1259.5,743.5 1257.5,745.5 1257.5,746.5 1256.5,747.5 1257.0,748.5 1256.5,749.0 1255.5,748.5 1255.5,749.5 1252.5,751.5 1249.5,751.5 1248.5,752.5 1246.5,752.5 1245.5,753.5 1243.5,753.5 1242.5,754.5 1231.5,754.5 1230.5,753.5 1218.5,753.5 1218.5,756.5 1219.5,757.5 1219.5,761.5 1220.5,762.5 1220.5,766.5 1225.5,771.5 1226.5,771.5 1229.5,774.5 1230.5,774.5 1234.5,778.5 1234.5,801.5 1236.5,804.5 1236.5,806.5 1237.5,807.5 1237.5,808.5 1239.5,808.5 1239.5,807.5 1242.5,804.5 1242.5,803.5 1245.5,800.5 1245.5,799.5 1248.5,796.5 1248.5,795.5 1250.5,793.5 1250.5,790.5 1249.5,789.5 1249.5,783.5 1248.5,782.5 1248.5,776.5 1247.5,775.5 1247.5,769.5 1246.5,768.5 1246.5,766.5 1249.5,764.5 1253.5,764.5 1255.5,766.5 1255.5,767.5 1256.5,767.5 1257.5,768.5 1257.5,769.5 1258.5,770.5 1259.5,773.5 1260.5,773.5 1261.5,774.5 1261.5,775.5 1262.5,776.5 1263.5,779.5 1264.5,779.5 1265.5,780.5 1265.5,787.5 1266.5,788.5 1266.5,794.5 1267.5,795.5 1267.5,798.5 1268.5,798.5 1268.5,797.5 1270.5,795.5 1270.5,794.5 1272.5,792.5 1272.5,791.5 1275.5,788.5 1275.5,786.5 1276.5,785.5 1277.5,785.5 1277.5,784.5 1279.5,782.5 1279.8,783.5 1294.5,793.5 1293.5,794.5 1293.5,796.5 1292.5,797.5 1292.5,799.5 1290.5,802.5 1290.5,804.5 1289.5,805.5 1289.5,807.5 1287.5,810.5 1287.5,812.5 1286.5,813.5 1286.5,815.5 1284.5,818.5 1284.5,820.5 1283.5,821.5 1284.5,821.5 1284.5,819.5 1286.5,816.5 1286.5,814.5 1287.5,813.5 1287.5,811.5 1289.5,808.5 1289.5,806.5 1290.5,805.5 1290.5,803.5 1292.5,800.5 1292.5,798.5 1293.5,797.5 1293.5,795.5 1295.5,793.5 1296.5,793.5 1301.5,788.5 1301.5,787.5 1303.5,785.5 1304.5,785.5 1321.5,768.5 1322.5,768.5 1325.5,765.5 1326.5,766.5 1327.5,766.5 1332.5,770.5 1333.5,770.5 1334.5,771.5 1337.5,772.5 1337.5,773.5 1338.5,773.5 1339.5,774.5 1339.5,776.5 1340.5,777.5 1338.5,779.0 1337.3,782.5 1338.1,792.5 1339.5,795.4 1341.5,797.5 1341.5,798.5 1340.5,799.5 1340.5,800.5 1337.5,805.5 1337.5,822.5 1336.5,823.5 1336.5,842.5 1335.5,843.5 1335.5,860.5 1334.5,861.5 1331.5,861.5 1330.5,862.5 1327.5,862.5 1326.5,863.5 1323.5,863.5 1322.5,864.5 1319.5,864.5 1318.5,865.5 1315.5,865.5 1314.5,866.5 1311.5,866.5 1310.5,867.5 1307.5,867.5 1306.5,868.5 1303.5,868.5 1302.5,869.5 1299.5,869.5 1298.5,870.5 1295.5,870.5 1294.5,871.5 1259.5,871.5 1258.5,872.5 1210.5,872.5 1209.5,873.5 1161.5,873.5 1160.5,874.5 957.5,874.5 956.5,875.5 945.5,875.5 943.5,874.6M954.5,724.5 948.5,733.5 948.5,817.5 947.5,818.5 947.5,847.5 948.5,847.5 951.5,850.5 952.5,850.5 952.5,851.5 961.5,851.5 962.5,850.5 968.5,850.5 969.5,849.5 978.5,849.5 979.5,848.5 990.5,848.5 991.5,847.5 1003.5,847.5 1004.5,846.5 1008.5,846.5 1011.5,843.5 1012.5,843.5 1016.5,839.5 1017.5,839.5 1017.5,838.5 1018.5,838.5 1021.5,835.5 1021.5,834.5 1022.5,833.5 1023.5,833.5 1023.5,832.5 1026.5,827.5 1040.5,827.5 1041.5,828.5 1045.5,828.5 1046.5,829.5 1052.5,829.5 1053.5,830.5 1058.5,830.5 1059.5,831.5 1064.5,831.5 1065.5,832.5 1070.5,832.5 1071.5,833.5 1116.5,833.5 1117.5,832.5 1123.5,832.5 1124.5,831.5 1130.5,831.5 1131.5,830.5 1137.5,830.5 1138.5,829.5 1144.5,829.5 1145.5,828.5 1151.5,828.5 1152.5,827.5 1158.5,827.5 1159.5,826.5 1163.5,826.5 1164.5,825.5 1167.5,825.5 1168.5,824.5 1171.5,824.5 1172.5,823.5 1175.5,823.5 1176.5,822.5 1179.5,822.5 1180.5,821.5 1183.5,821.5 1184.5,820.5 1187.5,820.5 1188.5,819.5 1191.5,819.5 1192.5,818.5 1195.5,818.5 1196.5,817.5 1198.5,817.5 1198.5,816.5 1199.5,815.5 1199.5,814.5 1200.5,813.5 1200.5,812.5 1203.5,807.5 1203.5,804.5 1201.5,801.5 1201.5,799.5 1200.5,798.5 1200.5,796.5 1198.5,793.5 1198.5,791.5 1197.5,790.5 1197.5,788.5 1194.5,787.5 1193.5,786.5 1193.5,785.5 1190.5,784.5 1189.5,783.5 1189.5,782.5 1186.5,781.5 1185.5,780.5 1185.5,779.5 1184.5,779.5 1181.5,777.5 1176.5,777.5 1175.5,776.5 1162.5,776.5 1161.5,775.5 1161.5,772.5 1159.5,772.5 1158.5,771.5 1154.5,771.5 1153.5,770.5 1149.5,770.5 1148.5,769.5 1144.5,769.5 1143.5,768.5 1139.5,768.5 1137.5,766.5 1136.5,766.5 1134.5,764.5 1133.5,764.5 1131.5,762.5 1130.5,762.5 1128.5,760.5 1127.5,760.5 1125.5,758.5 1124.5,758.5 1121.5,755.5 1116.5,755.5 1115.5,754.5 1109.5,754.5 1108.5,753.5 1103.5,753.5 1102.5,752.5 1097.5,752.5 1096.5,751.5 1091.5,751.5 1090.5,750.5 1086.5,750.5 1085.5,749.5 1082.5,749.5 1081.5,748.5 1078.5,748.5 1077.5,747.5 1074.5,747.5 1073.5,746.5 1070.5,746.5 1069.5,745.5 1067.5,745.5 1066.5,744.5 1063.5,744.5 1062.5,743.5 1059.5,743.5 1058.5,742.5 1055.5,742.5 1054.5,741.5 1052.5,741.5 1049.5,739.5 1047.5,739.5 1044.5,737.5 1042.5,737.5 1041.5,736.5 1040.5,736.5 1037.5,734.5 1035.5,734.5 1032.5,732.5 1030.5,732.5 1029.5,731.5 1025.5,731.5 1024.5,730.5 1013.5,730.5 1012.5,729.5 1001.5,729.5 1000.5,728.5 989.5,728.5 988.5,727.5 979.5,727.5 978.5,726.5 969.5,726.5 968.5,725.5 958.5,725.5 957.5,724.5 954.5,724.5M1275.9,736.5 1276.5,735.5 1277.5,736.5 1276.5,737.5 1275.9,736.5M1286.0,740.5 1286.5,739.5 1287.5,740.5 1286.5,741.0 1286.0,740.5M1289.2,744.5 1289.5,743.5 1290.5,744.5 1289.5,745.0 1289.2,744.5M1288.0,753.5 1288.5,752.5 1289.5,753.5 1288.5,754.5 1288.0,753.5M1244.5,754.5 1245.5,753.5 1246.0,754.5 1245.5,755.5 1244.5,754.5M1278.1,780.5 1278.5,780.0 1279.5,780.5 1279.5,781.5 1278.5,782.5 1277.5,781.5 1278.1,780.5M1273.5,786.5 1275.5,786.5 1273.5,786.5M1242.0,794.5 1243.5,793.5 1244.5,794.5 1247.5,793.5 1248.5,794.5 1248.5,795.5 1245.5,798.5 1245.5,799.5 1242.5,802.5 1241.5,802.5 1241.5,804.5 1240.5,805.5 1238.5,805.5 1235.5,802.5 1235.5,800.5 1234.5,799.5 1234.5,796.5 1235.5,795.5 1236.5,796.5 1237.5,795.8 1238.5,796.5 1239.5,795.5 1242.0,794.5M1237.5,798.2 1237.0,798.5 1237.8,798.5 1237.5,798.2"/>
<path d="M1107.3,703.5 1108.2,715.5 1107.5,724.5 1106.5,724.5 1105.5,723.5 1094.5,723.5 1093.5,722.5 1082.5,722.5 1081.5,721.5 1072.5,721.5 1071.5,720.5 1063.5,720.5 1062.5,719.5 1055.5,719.5 1054.5,718.5 1047.5,718.5 1046.5,717.5 1008.5,717.5 1007.5,716.5 964.5,716.5 963.5,717.5 952.5,717.5 951.5,718.5 948.5,719.5 948.5,727.5 947.5,728.5 947.5,736.5 946.5,737.5 946.5,741.5 945.5,742.2 943.5,742.1M1125.5,728.5 1126.5,728.5 1126.5,729.5 1125.5,728.5M1325.5,778.5 1326.5,777.5 1329.5,780.5 1330.5,783.5 1333.5,786.5 1333.5,787.5 1334.5,788.5 1334.5,806.5 1333.5,807.5 1333.5,811.5 1332.5,812.5 1332.5,817.5 1331.5,818.5 1331.5,822.5 1330.5,823.5 1330.5,828.5 1329.5,829.5 1329.5,838.5 1328.5,839.5 1328.5,846.5 1327.5,847.5 1327.5,856.5 1326.5,857.5 1326.5,860.5 1325.5,861.5 1322.5,861.5 1321.5,862.5 1318.5,862.5 1317.5,863.5 1314.5,863.5 1313.5,864.5 1310.5,864.5 1309.5,865.5 1306.5,865.5 1305.5,866.5 1302.5,866.5 1301.5,867.5 1298.5,867.5 1297.5,868.5 1294.5,868.5 1293.5,869.5 1259.5,869.5 1258.5,870.5 1209.5,870.5 1208.5,871.5 1162.5,871.5 1160.5,872.5 982.5,872.5 981.5,871.5 980.5,871.5 979.5,872.5 975.5,872.5 974.7,871.5 974.5,857.5 987.5,857.5 988.5,856.5 1007.5,856.5 1008.5,855.5 1010.5,855.5 1011.5,854.5 1013.5,854.5 1014.5,853.5 1016.5,853.5 1017.5,852.5 1019.5,852.5 1022.5,850.5 1024.5,850.5 1025.5,849.5 1027.5,849.5 1028.5,848.5 1030.5,848.5 1031.5,847.5 1033.5,847.5 1034.5,846.5 1036.5,846.5 1041.5,843.5 1043.5,843.5 1044.5,842.5 1045.5,842.5 1046.5,841.5 1048.5,841.5 1051.5,839.5 1073.5,839.5 1074.5,840.5 1088.5,840.5 1089.5,841.5 1103.5,841.5 1104.5,842.5 1125.5,842.5 1126.5,843.5 1195.5,843.5 1196.5,842.5 1229.5,842.5 1230.5,841.5 1235.5,841.5 1236.5,840.5 1239.5,840.5 1240.5,839.5 1243.5,839.5 1244.5,838.5 1247.5,838.5 1248.5,837.5 1253.5,837.5 1254.5,836.5 1257.5,836.5 1258.5,835.5 1261.5,835.5 1262.5,834.5 1265.5,834.5 1266.5,833.5 1271.5,833.5 1272.5,832.5 1275.5,832.5 1280.5,827.5 1281.5,827.5 1281.5,826.5 1282.5,825.5 1283.5,825.5 1288.5,820.5 1289.5,820.5 1289.5,819.5 1290.5,818.5 1291.5,818.5 1296.5,813.5 1297.5,813.5 1297.5,812.5 1298.5,811.5 1299.5,811.5 1299.5,810.5 1300.5,809.5 1301.5,809.5 1302.5,806.5 1305.5,803.5 1305.5,802.5 1311.5,795.5 1312.5,792.5 1313.5,791.5 1314.5,791.5 1314.5,790.5 1315.5,789.5 1315.5,788.5 1317.5,786.5 1317.5,785.5 1318.5,784.5 1319.5,784.5 1325.5,778.5M943.5,830.7 945.5,830.7 946.5,831.5 946.5,853.5 948.5,855.5 949.5,855.5 951.5,857.5 952.5,857.5 953.5,858.5 949.9,861.5 943.5,863.1M943.5,839.5 943.5,839.5"/>
<path d="M1022.5,703.5 1023.5,703.5 1024.5,704.5 1023.5,705.5 1007.5,705.5 1006.5,706.5 990.5,706.5 989.5,707.5 972.5,707.5 971.5,708.5 961.5,708.5 960.5,709.5 952.5,709.5 951.5,710.5 946.5,710.5 945.5,711.5 945.5,713.5 943.5,716.5M1028.5,703.5 1027.5,704.5 1026.5,703.5M1033.5,703.5 1032.5,704.5 1031.5,703.5M1040.5,703.5 1039.5,704.5 1037.5,704.5 1036.5,703.5M1318.5,786.5 1319.5,785.5 1320.5,785.5 1321.5,786.5 1321.5,787.5 1322.5,787.5 1323.5,788.5 1323.5,789.5 1324.5,789.5 1325.5,790.5 1325.5,791.5 1326.5,791.5 1327.5,792.5 1327.5,793.5 1328.5,793.5 1330.5,796.5 1330.5,808.5 1329.5,809.5 1329.5,812.5 1328.5,813.5 1328.5,818.5 1327.5,819.5 1327.5,823.5 1326.5,824.5 1326.5,828.5 1325.5,829.5 1325.5,834.5 1322.5,839.5 1322.5,842.5 1319.5,847.5 1319.5,850.5 1316.5,855.5 1316.5,858.5 1315.5,859.5 1315.5,860.5 1314.5,861.5 1311.5,861.5 1310.5,862.5 1308.5,862.5 1307.5,863.5 1304.5,863.5 1303.5,864.5 1301.5,864.5 1300.5,865.5 1297.5,865.5 1296.5,866.5 1294.5,866.5 1293.5,867.5 1268.5,867.5 1267.5,868.5 1232.5,868.5 1231.5,869.5 1196.5,869.5 1195.5,870.5 1161.5,870.5 1159.5,871.5 1100.5,871.5 1099.5,870.5 1088.5,870.5 1086.5,871.5 1076.5,871.6 1072.5,871.4 1069.5,869.5 1040.5,869.5 1039.5,868.5 1029.5,868.5 1028.5,867.5 1018.5,867.5 1017.5,866.5 1019.5,864.5 1020.5,864.5 1021.5,863.5 1023.5,863.5 1024.5,862.5 1025.5,862.5 1030.5,859.5 1032.5,859.5 1033.5,858.5 1034.5,858.5 1037.5,856.5 1039.5,856.5 1044.5,853.5 1049.5,853.5 1050.5,852.5 1061.5,852.5 1062.5,851.5 1091.5,851.5 1092.5,850.5 1131.5,850.5 1132.5,849.5 1178.5,849.5 1179.5,848.5 1229.5,848.5 1230.5,847.5 1235.5,847.5 1236.5,846.5 1239.5,846.5 1240.5,845.5 1245.5,845.5 1246.5,844.5 1249.5,844.5 1250.5,843.5 1255.5,843.5 1256.5,842.5 1259.5,842.5 1260.5,841.5 1265.5,841.5 1266.5,840.5 1269.5,840.5 1270.5,839.5 1275.5,839.5 1276.5,838.5 1279.5,838.5 1280.5,837.5 1281.5,837.5 1281.5,836.5 1282.5,835.5 1283.5,835.5 1283.5,834.5 1284.5,833.5 1285.5,833.5 1285.5,832.5 1286.5,831.5 1287.5,831.5 1287.5,830.5 1288.5,829.5 1289.5,829.5 1289.5,828.5 1290.5,827.5 1291.5,827.5 1291.5,826.5 1292.5,825.5 1293.5,825.5 1293.5,824.5 1294.5,823.5 1295.5,823.5 1295.5,822.5 1296.5,821.5 1297.5,821.5 1297.5,820.5 1298.5,819.5 1299.5,819.5 1299.5,818.5 1300.5,817.5 1301.5,817.5 1301.5,816.5 1302.5,815.5 1303.5,815.5 1303.5,814.5 1304.5,813.5 1304.5,812.5 1305.5,811.5 1305.5,810.5 1306.5,809.5 1307.5,806.5 1309.5,804.5 1310.5,801.5 1312.5,799.5 1312.5,798.5 1313.5,797.5 1313.5,795.5 1314.5,795.5 1314.5,794.5 1315.5,793.5 1315.5,792.5 1316.5,791.5 1316.5,790.5 1317.5,789.5 1318.5,786.5"/>
<path d="M1321.5,798.5 1322.5,797.5 1323.5,798.5 1323.5,799.5 1324.5,800.5 1324.5,803.5 1325.5,804.5 1325.5,806.5 1326.5,807.5 1326.5,818.5 1324.5,821.5 1324.5,823.5 1322.5,826.5 1322.5,828.5 1321.5,829.5 1321.5,831.5 1320.5,832.5 1320.9,835.5 1320.0,840.5 1318.5,842.8 1315.5,844.5 1308.5,851.5 1308.5,852.5 1307.5,853.5 1306.5,853.5 1306.5,854.5 1301.5,859.5 1301.5,860.5 1300.5,861.5 1296.5,861.5 1295.5,862.5 1292.5,862.5 1291.5,863.5 1288.5,863.5 1287.5,864.5 1283.5,864.5 1282.5,865.5 1279.5,865.5 1278.5,866.5 1260.5,866.5 1255.5,868.0 1177.5,868.5 1176.5,869.5 1148.5,869.5 1147.5,868.5 1128.5,868.5 1126.5,869.5 1106.5,870.5 1088.5,870.0 1086.5,870.8 1085.5,869.9 1084.5,870.8 1083.5,869.6 1082.5,870.8 1081.5,869.6 1080.5,870.8 1079.5,869.6 1078.5,870.8 1077.5,869.6 1076.5,870.8 1075.5,869.8 1074.5,870.8 1073.5,870.1 1072.5,870.5 1070.5,870.0 1069.5,869.0 1059.6,866.5 1057.4,864.5 1057.5,862.5 1050.5,862.5 1049.5,861.5 1050.5,860.5 1053.5,860.5 1054.5,859.5 1059.5,859.5 1060.5,858.5 1066.5,858.5 1067.5,859.5 1087.5,859.5 1088.5,860.5 1096.5,860.5 1097.5,861.5 1107.5,861.5 1108.5,862.5 1116.5,862.5 1117.5,863.5 1133.5,863.5 1134.5,862.5 1138.5,862.5 1139.5,861.5 1143.5,861.5 1144.5,860.5 1148.5,860.5 1149.5,859.5 1153.5,859.5 1154.5,858.5 1158.5,858.5 1159.5,857.5 1160.5,857.5 1160.6,856.5 1161.5,855.8 1162.5,855.6 1164.5,855.7 1165.5,856.5 1178.5,856.5 1179.5,855.5 1191.5,855.5 1192.5,854.5 1204.5,854.5 1205.5,853.5 1217.5,853.5 1218.5,852.5 1229.5,852.5 1230.5,851.5 1237.5,851.5 1238.5,850.5 1245.5,850.5 1246.5,849.5 1253.5,849.5 1254.5,848.5 1261.5,848.5 1262.5,847.5 1269.5,847.5 1270.5,846.5 1277.5,846.5 1278.5,845.5 1285.5,845.5 1285.5,844.5 1286.5,843.5 1287.5,843.5 1287.5,841.5 1288.5,840.5 1289.5,840.5 1291.5,837.5 1292.5,837.5 1292.5,836.5 1295.5,833.5 1295.5,832.5 1296.5,831.5 1297.5,831.5 1297.5,830.5 1300.5,827.5 1300.5,826.5 1301.5,825.5 1302.5,825.5 1302.5,824.5 1305.5,821.5 1305.5,820.5 1306.5,819.5 1307.5,819.5 1307.5,818.5 1309.5,816.5 1310.5,813.5 1314.5,809.5 1314.5,808.5 1316.5,806.5 1316.5,805.5 1319.5,802.5 1319.5,801.5 1321.5,799.5 1321.5,798.5M1317.5,837.5 1317.5,838.5 1317.5,837.5M1316.5,839.5 1316.5,840.5 1316.5,839.5M1316.5,842.5 1316.5,842.5M1064.5,864.5 1070.5,864.5 1071.5,865.5 1078.5,865.5 1079.5,866.5 1098.5,866.5 1099.5,867.5 1118.5,867.5 1100.5,867.5 1099.5,866.5 1080.5,866.5 1079.5,865.5 1072.5,865.5 1071.5,864.5 1064.5,864.5M1248.5,866.5 1254.5,866.5 1248.5,866.5"/>
<path d="M1318.5,808.5 1319.5,807.5 1320.5,807.5 1322.5,810.5 1322.5,820.5 1321.5,821.5 1321.5,825.5 1320.5,826.5 1320.5,830.5 1319.5,831.5 1319.5,832.5 1315.5,835.1 1312.5,838.5 1311.6,841.5 1312.5,844.5 1311.5,845.5 1311.5,846.5 1310.5,847.5 1309.5,847.5 1309.5,848.5 1308.5,849.5 1307.5,849.5 1307.5,850.5 1306.5,851.5 1305.5,851.5 1305.5,852.5 1304.5,853.5 1303.5,853.5 1303.5,854.5 1302.5,855.5 1301.5,855.5 1301.5,856.5 1298.5,858.5 1295.5,858.5 1294.5,859.5 1289.5,859.5 1288.5,860.5 1285.5,860.5 1284.5,861.5 1279.5,861.5 1278.5,862.5 1275.5,862.5 1274.5,863.5 1272.5,863.5 1268.5,866.0 1248.5,866.0 1246.9,866.5 1246.5,867.5 1245.5,866.9 1225.5,867.2 1212.5,865.6 1210.0,866.5 1209.5,867.5 1187.5,867.5 1186.8,866.5 1186.6,857.5 1187.5,856.5 1196.5,856.5 1197.5,855.5 1214.5,855.5 1215.5,854.5 1231.5,854.5 1232.5,853.5 1247.5,853.5 1248.5,852.4 1257.5,852.5 1258.5,851.4 1260.5,851.1 1264.5,850.9 1268.5,851.5 1270.5,850.1 1277.5,849.4 1281.5,848.3 1283.7,848.5 1284.5,849.5 1284.5,851.5 1284.5,850.5 1287.5,847.5 1287.5,846.5 1290.5,843.5 1290.5,842.5 1293.5,839.5 1293.5,838.5 1294.5,837.5 1295.5,837.5 1296.5,834.5 1297.5,833.5 1298.5,833.5 1299.5,830.5 1300.5,829.5 1301.5,829.5 1301.5,828.5 1302.5,827.5 1303.5,827.5 1303.5,826.5 1306.5,823.5 1306.5,822.5 1307.5,821.5 1308.5,821.5 1308.5,820.5 1311.5,817.5 1311.5,816.5 1313.5,815.5 1313.5,814.5 1314.5,813.5 1315.5,813.5 1315.5,811.5 1316.5,811.5 1318.5,809.5 1318.5,808.5M1322.5,817.5 1323.5,817.5 1322.5,817.5M1281.5,851.5 1281.5,851.5M1265.5,864.5 1267.5,864.5 1265.5,864.5"/>
<path d="M1307.5,825.5 1308.5,825.5 1307.5,826.5 1307.5,825.5M1311.5,829.5 1312.5,828.5 1313.5,829.5 1313.5,830.5 1312.5,831.5 1311.5,830.5 1311.5,829.5M1310.5,833.5 1310.5,832.5 1310.5,833.5M1221.5,865.5 1221.5,864.5 1222.5,865.5 1221.5,865.5"/>
</g>
<path d="M943.5,703.5 L1378.0,703.5 L1378.0,1131.0 L943.5,1131.0Z" fill="none" stroke="#000" stroke-width="2"/>
</g>
<g stroke="#000" stroke-width="1.3" fill="none" shape-rendering="crispEdges">
<path d="M941.6,700.5 V1135.25 H1380.6"/>
<path d="M941.6,1135.2 h4.4"/>
<path d="M941.6,1080.9 h4.4"/>
<path d="M941.6,1026.6 h4.4"/>
<path d="M941.6,972.2 h4.4"/>
<path d="M941.6,917.9 h4.4"/>
<path d="M941.6,863.5 h4.4"/>
<path d="M941.6,809.2 h4.4"/>
<path d="M941.6,754.8 h4.4"/>
<path d="M941.6,700.5 h4.4"/>
<path d="M941.6,1135.25 v-4.4"/>
<path d="M1014.8,1135.25 v-4.4"/>
<path d="M1087.9,1135.25 v-4.4"/>
<path d="M1161.1,1135.25 v-4.4"/>
<path d="M1234.3,1135.25 v-4.4"/>
<path d="M1307.4,1135.25 v-4.4"/>
<path d="M1380.6,1135.25 v-4.4"/>
</g>
<text x="934.1" y="1145.5" text-anchor="end" font-size="21.5" >15</text>
<text x="934.1" y="1091.2" text-anchor="end" font-size="21.5" >20</text>
<text x="934.1" y="1036.9" text-anchor="end" font-size="21.5" >25</text>
<text x="934.1" y="982.5" text-anchor="end" font-size="21.5" >30</text>
<text x="934.1" y="928.2" text-anchor="end" font-size="21.5" >35</text>
<text x="934.1" y="873.8" text-anchor="end" font-size="21.5" >40</text>
<text x="934.1" y="819.5" text-anchor="end" font-size="21.5" >45</text>
<text x="934.1" y="765.1" text-anchor="end" font-size="21.5" >50</text>
<text x="934.1" y="710.8" text-anchor="end" font-size="21.5" >55</text>
<text x="941.6" y="1166.8" text-anchor="middle" font-size="21.5" >0</text>
<text x="1014.8" y="1166.8" text-anchor="middle" font-size="21.5" >10</text>
<text x="1087.9" y="1166.8" text-anchor="middle" font-size="21.5" >20</text>
<text x="1161.1" y="1166.8" text-anchor="middle" font-size="21.5" >30</text>
<text x="1234.3" y="1166.8" text-anchor="middle" font-size="21.5" >40</text>
<text x="1307.4" y="1166.8" text-anchor="middle" font-size="21.5" >50</text>
<text x="1380.6" y="1166.8" text-anchor="middle" font-size="21.5" >60</text>
<text x="1161.1" y="1197.5" text-anchor="middle" font-size="21.5" >LONGITUDE (E)</text>
<text transform="translate(896.1,919.375) rotate(-90)" text-anchor="middle" font-size="21.5">LATITUDE (N)</text>
<text x="1160.5" y="680.7" text-anchor="middle" font-size="21.5" textLength="599" lengthAdjust="spacingAndGlyphs" >expt_98.9 - MEAN (MEAN y51-y100) - THICKNESS LAYER 3</text>
<rect x="1414.3" y="1129.31" width="42.10" height="7.09" fill="#00008f"/>
<rect x="1414.3" y="1122.52" width="42.10" height="7.09" fill="#00009f"/>
<rect x="1414.3" y="1115.72" width="42.10" height="7.09" fill="#0000af"/>
<rect x="1414.3" y="1108.93" width="42.10" height="7.09" fill="#0000bf"/>
<rect x="1414.3" y="1102.14" width="42.10" height="7.09" fill="#0000cf"/>
<rect x="1414.3" y="1095.35" width="42.10" height="7.09" fill="#0000df"/>
<rect x="1414.3" y="1088.55" width="42.10" height="7.09" fill="#0000ef"/>
<rect x="1414.3" y="1081.76" width="42.10" height="7.09" fill="#0000ff"/>
<rect x="1414.3" y="1074.97" width="42.10" height="7.09" fill="#0010ff"/>
<rect x="1414.3" y="1068.18" width="42.10" height="7.09" fill="#0020ff"/>
<rect x="1414.3" y="1061.39" width="42.10" height="7.09" fill="#0030ff"/>
<rect x="1414.3" y="1054.59" width="42.10" height="7.09" fill="#0040ff"/>
<rect x="1414.3" y="1047.80" width="42.10" height="7.09" fill="#0050ff"/>
<rect x="1414.3" y="1041.01" width="42.10" height="7.09" fill="#0060ff"/>
<rect x="1414.3" y="1034.22" width="42.10" height="7.09" fill="#0070ff"/>
<rect x="1414.3" y="1027.42" width="42.10" height="7.09" fill="#0080ff"/>
<rect x="1414.3" y="1020.63" width="42.10" height="7.09" fill="#008fff"/>
<rect x="1414.3" y="1013.84" width="42.10" height="7.09" fill="#009fff"/>
<rect x="1414.3" y="1007.05" width="42.10" height="7.09" fill="#00afff"/>
<rect x="1414.3" y="1000.26" width="42.10" height="7.09" fill="#00bfff"/>
<rect x="1414.3" y="993.46" width="42.10" height="7.09" fill="#00cfff"/>
<rect x="1414.3" y="986.67" width="42.10" height="7.09" fill="#00dfff"/>
<rect x="1414.3" y="979.88" width="42.10" height="7.09" fill="#00efff"/>
<rect x="1414.3" y="973.09" width="42.10" height="7.09" fill="#00ffff"/>
<rect x="1414.3" y="966.30" width="42.10" height="7.09" fill="#10ffef"/>
<rect x="1414.3" y="959.50" width="42.10" height="7.09" fill="#20ffdf"/>
<rect x="1414.3" y="952.71" width="42.10" height="7.09" fill="#30ffcf"/>
<rect x="1414.3" y="945.92" width="42.10" height="7.09" fill="#40ffbf"/>
<rect x="1414.3" y="939.13" width="42.10" height="7.09" fill="#50ffaf"/>
<rect x="1414.3" y="932.33" width="42.10" height="7.09" fill="#60ff9f"/>
<rect x="1414.3" y="925.54" width="42.10" height="7.09" fill="#70ff8f"/>
<rect x="1414.3" y="918.75" width="42.10" height="7.09" fill="#80ff80"/>
<rect x="1414.3" y="911.96" width="42.10" height="7.09" fill="#8fff70"/>
<rect x="1414.3" y="905.17" width="42.10" height="7.09" fill="#9fff60"/>
<rect x="1414.3" y="898.37" width="42.10" height="7.09" fill="#afff50"/>
<rect x="1414.3" y="891.58" width="42.10" height="7.09" fill="#bfff40"/>
<rect x="1414.3" y="884.79" width="42.10" height="7.09" fill="#cfff30"/>
<rect x="1414.3" y="878.00" width="42.10" height="7.09" fill="#dfff20"/>
<rect x="1414.3" y="871.20" width="42.10" height="7.09" fill="#efff10"/>
<rect x="1414.3" y="864.41" width="42.10" height="7.09" fill="#ffff00"/>
<rect x="1414.3" y="857.62" width="42.10" height="7.09" fill="#ffef00"/>
<rect x="1414.3" y="850.83" width="42.10" height="7.09" fill="#ffdf00"/>
<rect x="1414.3" y="844.04" width="42.10" height="7.09" fill="#ffcf00"/>
<rect x="1414.3" y="837.24" width="42.10" height="7.09" fill="#ffbf00"/>
<rect x="1414.3" y="830.45" width="42.10" height="7.09" fill="#ffaf00"/>
<rect x="1414.3" y="823.66" width="42.10" height="7.09" fill="#ff9f00"/>
<rect x="1414.3" y="816.87" width="42.10" height="7.09" fill="#ff8f00"/>
<rect x="1414.3" y="810.07" width="42.10" height="7.09" fill="#ff8000"/>
<rect x="1414.3" y="803.28" width="42.10" height="7.09" fill="#ff7000"/>
<rect x="1414.3" y="796.49" width="42.10" height="7.09" fill="#ff6000"/>
<rect x="1414.3" y="789.70" width="42.10" height="7.09" fill="#ff5000"/>
<rect x="1414.3" y="782.91" width="42.10" height="7.09" fill="#ff4000"/>
<rect x="1414.3" y="776.11" width="42.10" height="7.09" fill="#ff3000"/>
<rect x="1414.3" y="769.32" width="42.10" height="7.09" fill="#ff2000"/>
<rect x="1414.3" y="762.53" width="42.10" height="7.09" fill="#ff1000"/>
<rect x="1414.3" y="755.74" width="42.10" height="7.09" fill="#ff0000"/>
<rect x="1414.3" y="748.95" width="42.10" height="7.09" fill="#ef0000"/>
<rect x="1414.3" y="742.15" width="42.10" height="7.09" fill="#df0000"/>
<rect x="1414.3" y="735.36" width="42.10" height="7.09" fill="#cf0000"/>
<rect x="1414.3" y="728.57" width="42.10" height="7.09" fill="#bf0000"/>
<rect x="1414.3" y="721.78" width="42.10" height="7.09" fill="#af0000"/>
<rect x="1414.3" y="714.98" width="42.10" height="7.09" fill="#9f0000"/>
<rect x="1414.3" y="708.19" width="42.10" height="7.09" fill="#8f0000"/>
<rect x="1414.3" y="701.40" width="42.10" height="7.09" fill="#800000"/>
<rect x="1414.3" y="701.4" width="42.10" height="434.70" fill="none" stroke="#000" stroke-width="1.3"/>
<g stroke="#000" stroke-width="1.3" shape-rendering="crispEdges">
<path d="M1414.3,1102.1 h4.3 M1456.4,1102.1 h-4.3"/>
<path d="M1414.3,1020.5 h4.3 M1456.4,1020.5 h-4.3"/>
<path d="M1414.3,938.9 h4.3 M1456.4,938.9 h-4.3"/>
<path d="M1414.3,857.3 h4.3 M1456.4,857.3 h-4.3"/>
<path d="M1414.3,775.7 h4.3 M1456.4,775.7 h-4.3"/>
</g>
<text x="1462.4" y="1112.6" text-anchor="start" font-size="21.5" >100</text>
<text x="1462.4" y="1031.0" text-anchor="start" font-size="21.5" >150</text>
<text x="1462.4" y="949.4" text-anchor="start" font-size="21.5" >200</text>
<text x="1462.4" y="867.8" text-anchor="start" font-size="21.5" >250</text>
<text x="1462.4" y="786.2" text-anchor="start" font-size="21.5" >300</text>
</g></svg></body></html>
